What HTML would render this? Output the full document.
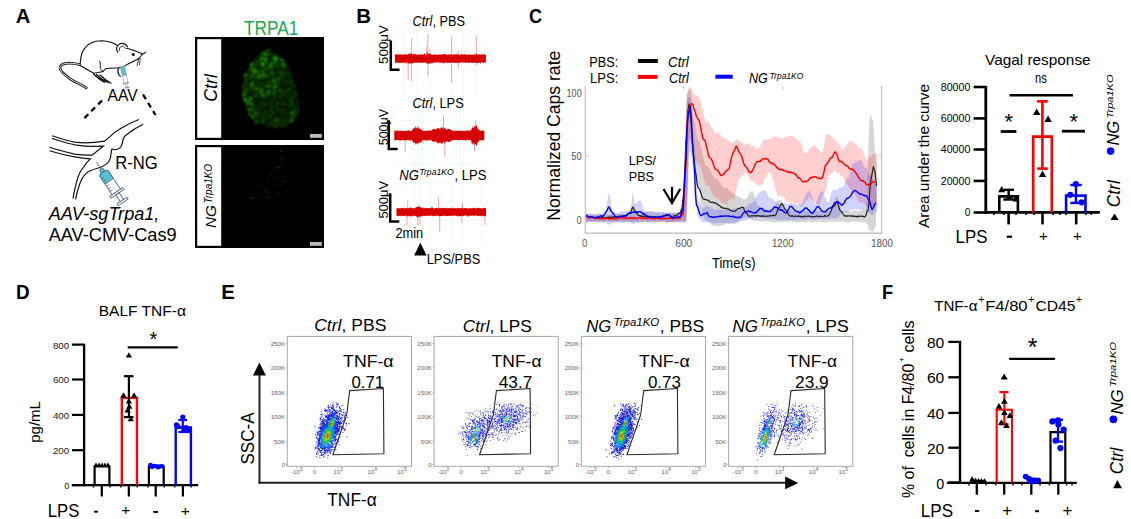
<!DOCTYPE html>
<html><head><meta charset="utf-8"><style>
html,body{margin:0;padding:0;background:#fff;width:1131px;height:519px;overflow:hidden}
svg{display:block;font-family:"Liberation Sans",sans-serif}
</style></head><body>
<svg width="1131" height="519" viewBox="0 0 1131 519">
<rect width="1131" height="519" fill="#fff"/>
<text x="15.8" y="23.2" font-size="20.5" text-anchor="start" fill="#000" font-weight="bold" textLength="14.6" lengthAdjust="spacingAndGlyphs"  >A</text>
<text x="356.2" y="23.2" font-size="20.5" text-anchor="start" fill="#000" font-weight="bold" textLength="14.8" lengthAdjust="spacingAndGlyphs"  >B</text>
<text x="529" y="23.1" font-size="20.5" text-anchor="start" fill="#000" font-weight="bold" textLength="13.1" lengthAdjust="spacingAndGlyphs"  >C</text>
<text x="16" y="298.8" font-size="20.5" text-anchor="start" fill="#000" font-weight="bold" textLength="13.6" lengthAdjust="spacingAndGlyphs"  >D</text>
<text x="221.3" y="298.8" font-size="20.5" text-anchor="start" fill="#000" font-weight="bold" textLength="13.7" lengthAdjust="spacingAndGlyphs"  >E</text>
<text x="882" y="298.8" font-size="20.5" text-anchor="start" fill="#000" font-weight="bold" textLength="11.1" lengthAdjust="spacingAndGlyphs"  >F</text>
<path d="M80.4,64.7 C75,63.5 70,62.8 66,63.4 C62,64 59.5,66 60,68.5 C60.8,72 65,75 70.8,79.3 C76,82.5 82,85 86.3,87.8" fill="none" stroke="#111" stroke-width="2.7" stroke-linecap="round"/>
<path d="M80.4,64.7 C75,63.5 70,62.8 66,63.4 C62,64 59.5,66 60,68.5 C60.8,72 65,75 70.8,79.3 C76,82.5 82,85 86.3,87.8" fill="none" stroke="#fff" stroke-width="0.9" stroke-linecap="round"/>
<path d="M80.4,61.6 C81,55 83,50 84.7,48.5 C87,45.5 89,44 90.9,43.1 C94,41.5 98,40.8 101.7,40.8 C105,41 108,41.5 110.9,42.3 C113,43 115.5,44 117.1,45.4 C122,47 128,48.5 132.5,50 C136,51.3 139.5,52.5 142.5,53.9 C141,56 140,57.5 138.7,58.5 C135.5,60.5 132.5,62 129.4,63.2 C127,64.5 125,66 123.3,67 C121,67.5 119.5,67.6 118.6,67.8 C114,68 110,68 106.3,68.5 C104.5,69.5 103.5,70.5 103.2,71.6 L94,73.2 C89,70.5 84,68 80.1,65.5 Z" fill="#fff" stroke="#111" stroke-width="1.1" />
<path d="M99.4,60.8 C100.5,63 100.4,65 100.1,67 C100.5,69 101.5,70.5 103.2,71.6" fill="none" stroke="#111" stroke-width="1" />
<path d="M93.5,74 C97,77.5 100,80 104.5,82.5 M96.5,74.5 C100,78 104,81 108,82.5 M100,75 C103.5,78.5 107,81 111,83.2" fill="none" stroke="#111" stroke-width="1.3" stroke-linecap="round"/>
<path d="M118.6,67.8 C117.5,70 117.8,73 119,75 C119.5,76 120.2,76.3 121,76.3" fill="none" stroke="#111" stroke-width="1.1" />
<path d="M118,52.5 C115.5,49.5 116.5,45.5 119.5,44 C122.5,42.5 126.5,44 127.8,47.3" fill="#fff" stroke="#111" stroke-width="1.2" />
<path d="M119.8,51 C118.8,48.5 120,46.5 122.3,46.2 C124,46 125,47.5 125.3,48.5" fill="none" stroke="#111" stroke-width="0.9" />
<circle cx="133.3" cy="54.4" r="1.5" fill="#111"/>
<path d="M142.5,53.9 L146.4,51.6 M141.5,55 L145.5,53 M138.7,58.5 L137.1,66 M140.2,58 L139.5,65" fill="none" stroke="#111" stroke-width="0.8" />
<g transform="translate(122.5,66.5) rotate(78)"><rect x="0" y="-2" width="9" height="4" fill="#5ec4d4" stroke="#6a8aa0" stroke-width="0.6"/><rect x="9" y="-2" width="8" height="4" fill="#fff" stroke="#8898a8" stroke-width="0.6"/><rect x="16.5" y="-3" width="1.2" height="6" fill="#8898a8"/><rect x="17.7" y="-0.8" width="3.5" height="1.6" fill="#fff" stroke="#8898a8" stroke-width="0.5"/><rect x="21" y="-2.4" width="1.2" height="4.8" fill="#8898a8"/></g>
<text x="107.6" y="101.2" font-size="16.2" text-anchor="start" fill="#000" textLength="30" lengthAdjust="spacingAndGlyphs"  >AAV</text>
<line x1="102" y1="100.5" x2="84.3" y2="118.2" stroke="#000" stroke-width="2.3" stroke-dasharray="5.5,4.2"/>
<line x1="143" y1="94.5" x2="155.5" y2="115" stroke="#000" stroke-width="2.3" stroke-dasharray="5.5,4.2"/>
<path d="M52.1,135.7 C62,139 68,141 74.7,142.1 C85,143.5 96,142.5 104.5,141.2 C110,137 113,133 119.8,129.1 C126,125 132,122 138.9,119.5" fill="none" stroke="#111" stroke-width="1.2" />
<path d="M52.1,138.4 C62,141.5 68,143.5 74.7,144.8 C85,146.5 96,146.5 103.3,146.2 L92,155.1 C86,155.2 80,155 74.7,154.2 C66,152 58,150 49.5,147.3" fill="none" stroke="#111" stroke-width="1.2" stroke-linejoin="miter"/>
<path d="M49.5,150.8 C58,153.5 66,155.5 74.7,156.8 C80,157.8 85,158.5 90.3,158.9 C87,162 85,164.5 83.4,167.3 C80,171 78.5,175 77.3,179.4 C75.5,186 74,192 73,198.5" fill="none" stroke="#111" stroke-width="1.2" />
<path d="M75.6,199.3 C77,192 79,185 81.6,179.4 C84,175 87,172 90.3,170.7 C94,169 97.5,168.5 100.7,167.3 C104,165.5 107,164 108.5,162 C110.5,159 111,156 111.1,153.4 C111.3,151 111.5,149.5 112,149 C114,150 116,150 118.1,149 C120,148 121,147 121.5,145.6 C122.5,143 122.8,140.5 123.3,138.6 C124,137 124.8,136 125.9,135.2 C131,131 137,127 143.2,124.2" fill="none" stroke="#111" stroke-width="1.2" />
<g transform="translate(96.4,162) rotate(56.4)"><line x1="0" y1="0" x2="9" y2="0" stroke="#556" stroke-width="0.8"/><rect x="8.5" y="-2" width="3.5" height="4" fill="#55c3cf" stroke="#3c4f78" stroke-width="0.6"/><path d="M12,-3 L14,-5 L36,-5 L36,5 L14,5 L12,3 Z" fill="#fff" stroke="#3c4f78" stroke-width="0.8"/><path d="M12,-3 L14,-5 L23,-5 L23,4.6 L21,5 L14,5 L12,3 Z" fill="#55c3cf" stroke="#3c4f78" stroke-width="0.6"/><path d="M17,5 L17,2 M20,5 L20,2 M23,5 L23,2 M26,5 L26,2 M29,5 L29,2 M32,5 L32,2" stroke="#3c4f78" stroke-width="0.6"/><rect x="36" y="-8" width="2.2" height="16" fill="#fff" stroke="#3c4f78" stroke-width="0.8"/><rect x="38.2" y="-2" width="8" height="4" fill="#fff" stroke="#3c4f78" stroke-width="0.8"/><rect x="46.2" y="-6" width="2.2" height="12" fill="#fff" stroke="#3c4f78" stroke-width="0.8"/></g>
<text x="115.3" y="169.3" font-size="17.5" text-anchor="start" fill="#000" textLength="42.5" lengthAdjust="spacingAndGlyphs"  >R-NG</text>
<text x="48.7" y="219.8" font-size="17.5" text-anchor="start" fill="#000" font-style="italic" textLength="110.7" lengthAdjust="spacingAndGlyphs"  >AAV-sgTrpa1,</text>
<text x="48.7" y="240.6" font-size="17.5" text-anchor="start" fill="#000" textLength="128" lengthAdjust="spacingAndGlyphs"  >AAV-CMV-Cas9</text>
<text x="244" y="34.8" font-size="19.5" text-anchor="start" fill="#1aa84f" textLength="54.3" lengthAdjust="spacingAndGlyphs"  >TRPA1</text>
<rect x="195" y="37" width="129" height="103" fill="#000" stroke="none" stroke-width="1" />
<rect x="197.2" y="39.2" width="24" height="98.6" fill="#fff" stroke="none" stroke-width="1" />
<rect x="310" y="134" width="11.8" height="3.8" fill="#bbbbbb" stroke="none" stroke-width="1" />
<rect x="195" y="145" width="129" height="103" fill="#000" stroke="none" stroke-width="1" />
<rect x="197.2" y="147.2" width="24" height="98.6" fill="#fff" stroke="none" stroke-width="1" />
<rect x="310" y="242" width="11.8" height="3.8" fill="#bbbbbb" stroke="none" stroke-width="1" />
<text x="217.2" y="88" font-size="18.5" text-anchor="middle" fill="#000" font-style="italic" textLength="27.7" lengthAdjust="spacingAndGlyphs" transform="rotate(-90 217.2 88)" >Ctrl</text>
<g transform="translate(216.3,228) rotate(-90)"><text x="0" y="0" font-size="15.5" font-style="italic" textLength="23" lengthAdjust="spacingAndGlyphs">NG</text><text x="24.5" y="-4.2" font-size="10.5" font-style="italic" textLength="39.5" lengthAdjust="spacingAndGlyphs">Trpa1KO</text></g>
<polygon points="267,49.1 274.3,52.8 282.6,60.1 289.9,71.1 295.4,85.7 299,100.4 299,113.2 293.5,122.3 282.6,127.4 269.8,127.8 255.1,122.3 246,109.5 242.7,94.9 244.1,76.6 250.5,63.8 258.8,53.7 264.3,50.1" fill="#071a04" stroke="none" stroke-width="1" />
<defs><filter id="bl" x="-5%" y="-5%" width="110%" height="110%"><feGaussianBlur stdDeviation="0.85"/></filter></defs><g filter="url(#bl)"><circle cx="268" cy="93.3" r="1.2" fill="rgb(34,137,8)"/><circle cx="271.5" cy="95.6" r="1.3" fill="rgb(7,31,1)"/><circle cx="279.1" cy="112.2" r="1.1" fill="rgb(6,25,1)"/><circle cx="280.5" cy="97.9" r="0.8" fill="rgb(6,26,1)"/><circle cx="272.8" cy="52.8" r="1" fill="rgb(8,34,2)"/><circle cx="267.3" cy="116.2" r="1.4" fill="rgb(11,47,2)"/><circle cx="271" cy="101.7" r="1.1" fill="rgb(8,34,2)"/><circle cx="292.1" cy="105.3" r="1" fill="rgb(9,36,2)"/><circle cx="287.5" cy="80.4" r="1.1" fill="rgb(13,55,3)"/><circle cx="244.5" cy="99" r="1" fill="rgb(28,113,6)"/><circle cx="245.4" cy="74.9" r="1.5" fill="rgb(38,154,9)"/><circle cx="274.7" cy="84.2" r="1.5" fill="rgb(7,31,1)"/><circle cx="248.1" cy="100.1" r="1.2" fill="rgb(6,27,1)"/><circle cx="253.2" cy="69.9" r="1.5" fill="rgb(39,156,9)"/><circle cx="258.9" cy="119.7" r="1.2" fill="rgb(7,29,1)"/><circle cx="293" cy="100" r="1.7" fill="rgb(6,26,1)"/><circle cx="253.2" cy="68.9" r="1.1" fill="rgb(28,112,6)"/><circle cx="245.6" cy="95.2" r="1.3" fill="rgb(8,35,2)"/><circle cx="263" cy="84.7" r="1.2" fill="rgb(36,145,8)"/><circle cx="275.6" cy="118.2" r="0.9" fill="rgb(7,28,1)"/><circle cx="296.3" cy="114.2" r="1" fill="rgb(8,32,1)"/><circle cx="285.8" cy="124.2" r="1.7" fill="rgb(7,28,1)"/><circle cx="294.7" cy="96.9" r="0.9" fill="rgb(11,44,2)"/><circle cx="254.8" cy="105.1" r="1.5" fill="rgb(9,37,2)"/><circle cx="277" cy="71.8" r="1.4" fill="rgb(7,30,1)"/><circle cx="274.7" cy="117" r="1.1" fill="rgb(13,55,3)"/><circle cx="267.6" cy="52.9" r="1.1" fill="rgb(8,33,1)"/><circle cx="275.5" cy="58.7" r="1.6" fill="rgb(13,54,3)"/><circle cx="282.9" cy="95.3" r="0.8" fill="rgb(6,26,1)"/><circle cx="283.5" cy="126" r="1.4" fill="rgb(6,25,1)"/><circle cx="269.9" cy="107.2" r="1.7" fill="rgb(7,30,1)"/><circle cx="244.7" cy="92.2" r="1.6" fill="rgb(26,105,6)"/><circle cx="285.7" cy="105" r="1.6" fill="rgb(12,51,3)"/><circle cx="261.8" cy="103.5" r="1.6" fill="rgb(14,58,3)"/><circle cx="265.9" cy="112" r="1.3" fill="rgb(14,56,3)"/><circle cx="278.7" cy="79" r="1.3" fill="rgb(18,73,4)"/><circle cx="245" cy="99.8" r="1.6" fill="rgb(40,162,9)"/><circle cx="285.1" cy="79.5" r="1.3" fill="rgb(12,48,2)"/><circle cx="267.3" cy="115.9" r="1.5" fill="rgb(6,25,1)"/><circle cx="269.8" cy="66.6" r="1.2" fill="rgb(30,121,7)"/><circle cx="278.1" cy="122.6" r="0.8" fill="rgb(7,31,1)"/><circle cx="258.7" cy="102.9" r="1" fill="rgb(6,27,1)"/><circle cx="296.2" cy="101.5" r="1.6" fill="rgb(11,46,2)"/><circle cx="260.3" cy="101.9" r="1.2" fill="rgb(6,27,1)"/><circle cx="290" cy="122.1" r="1.1" fill="rgb(24,98,5)"/><circle cx="276.2" cy="73.6" r="1.2" fill="rgb(7,28,1)"/><circle cx="291.9" cy="116.7" r="1.7" fill="rgb(18,75,4)"/><circle cx="257.2" cy="61.7" r="1" fill="rgb(17,69,4)"/><circle cx="253.3" cy="81.5" r="1.2" fill="rgb(21,84,5)"/><circle cx="259.6" cy="116" r="1.2" fill="rgb(16,64,3)"/><circle cx="283.9" cy="94.2" r="1.5" fill="rgb(7,29,1)"/><circle cx="268.2" cy="50" r="1" fill="rgb(39,157,9)"/><circle cx="279" cy="84.2" r="1.4" fill="rgb(20,81,4)"/><circle cx="282.4" cy="64.1" r="1" fill="rgb(18,73,4)"/><circle cx="256.9" cy="76" r="1.3" fill="rgb(24,97,5)"/><circle cx="278.1" cy="109.3" r="1.5" fill="rgb(8,32,1)"/><circle cx="297.8" cy="106.5" r="1.2" fill="rgb(6,27,1)"/><circle cx="278.8" cy="121.7" r="1.3" fill="rgb(9,37,2)"/><circle cx="294.5" cy="112.5" r="1.2" fill="rgb(27,108,6)"/><circle cx="280.4" cy="64.6" r="1.5" fill="rgb(31,127,7)"/><circle cx="279.8" cy="106.1" r="1.6" fill="rgb(6,27,1)"/><circle cx="273.3" cy="112.1" r="1.6" fill="rgb(7,30,1)"/><circle cx="245.1" cy="83.7" r="1.5" fill="rgb(18,72,4)"/><circle cx="260.8" cy="111.8" r="0.9" fill="rgb(6,26,1)"/><circle cx="272" cy="106.6" r="1.4" fill="rgb(13,54,3)"/><circle cx="253.7" cy="90.7" r="1.5" fill="rgb(9,39,2)"/><circle cx="279.6" cy="90.3" r="1.3" fill="rgb(30,120,7)"/><circle cx="259.3" cy="78.9" r="1.6" fill="rgb(30,120,7)"/><circle cx="252.9" cy="116.9" r="1.3" fill="rgb(38,155,9)"/><circle cx="275.5" cy="64.3" r="1.3" fill="rgb(21,85,5)"/><circle cx="264.8" cy="112.9" r="1.2" fill="rgb(9,39,2)"/><circle cx="273.4" cy="81.5" r="1.6" fill="rgb(36,144,8)"/><circle cx="256.7" cy="86.3" r="1.2" fill="rgb(7,28,1)"/><circle cx="290.6" cy="120.9" r="1.1" fill="rgb(12,49,2)"/><circle cx="251.9" cy="98" r="0.9" fill="rgb(36,145,8)"/><circle cx="252" cy="66.4" r="1.1" fill="rgb(29,119,7)"/><circle cx="262" cy="98.2" r="1.5" fill="rgb(6,25,1)"/><circle cx="247.6" cy="89.3" r="1" fill="rgb(9,36,2)"/><circle cx="272.9" cy="83.4" r="1.2" fill="rgb(11,47,2)"/><circle cx="272.8" cy="60.9" r="1.4" fill="rgb(8,35,2)"/><circle cx="279.6" cy="90.9" r="1.4" fill="rgb(30,121,7)"/><circle cx="285.9" cy="113.7" r="1.1" fill="rgb(14,58,3)"/><circle cx="259.5" cy="122.7" r="1.7" fill="rgb(7,29,1)"/><circle cx="254.8" cy="106.9" r="0.9" fill="rgb(9,37,2)"/><circle cx="291.6" cy="82.2" r="0.9" fill="rgb(21,85,5)"/><circle cx="265" cy="103.5" r="1" fill="rgb(6,25,1)"/><circle cx="282.3" cy="121.8" r="0.9" fill="rgb(23,94,5)"/><circle cx="271.4" cy="109.4" r="1.4" fill="rgb(9,36,2)"/><circle cx="274.2" cy="89.7" r="0.9" fill="rgb(17,71,4)"/><circle cx="251.4" cy="64.5" r="1.7" fill="rgb(40,160,9)"/><circle cx="268.6" cy="109.9" r="1.2" fill="rgb(7,30,1)"/><circle cx="271.9" cy="82.8" r="0.8" fill="rgb(19,76,4)"/><circle cx="283.5" cy="116.4" r="1.2" fill="rgb(7,28,1)"/><circle cx="285.8" cy="80.8" r="0.9" fill="rgb(6,27,1)"/><circle cx="295.4" cy="112.9" r="1.6" fill="rgb(18,74,4)"/><circle cx="279" cy="80.8" r="1.3" fill="rgb(19,76,4)"/><circle cx="256" cy="121.8" r="1.5" fill="rgb(26,106,6)"/><circle cx="290.5" cy="80.9" r="1.6" fill="rgb(25,100,6)"/><circle cx="283.1" cy="110.1" r="1.2" fill="rgb(12,50,3)"/><circle cx="261.2" cy="86" r="1.1" fill="rgb(6,25,1)"/><circle cx="279.6" cy="98.5" r="1.7" fill="rgb(6,27,1)"/><circle cx="281.3" cy="75.4" r="1.3" fill="rgb(11,44,2)"/><circle cx="273.1" cy="79.6" r="1.4" fill="rgb(38,154,9)"/><circle cx="283.5" cy="109.7" r="0.8" fill="rgb(16,64,3)"/><circle cx="278.2" cy="107.8" r="1.2" fill="rgb(7,28,1)"/><circle cx="263.3" cy="56" r="1.6" fill="rgb(10,40,2)"/><circle cx="274.1" cy="89.1" r="1.3" fill="rgb(36,146,8)"/><circle cx="277" cy="109.5" r="1.6" fill="rgb(6,25,1)"/><circle cx="249.9" cy="86.2" r="1.2" fill="rgb(7,30,1)"/><circle cx="272.7" cy="96.4" r="1.1" fill="rgb(7,31,1)"/><circle cx="280.6" cy="93.4" r="1.4" fill="rgb(9,38,2)"/><circle cx="249.7" cy="109.1" r="1.6" fill="rgb(12,50,3)"/><circle cx="266.6" cy="86.7" r="1" fill="rgb(37,148,8)"/><circle cx="272.4" cy="123.9" r="1.2" fill="rgb(16,66,3)"/><circle cx="277.4" cy="57.3" r="1.2" fill="rgb(26,104,6)"/><circle cx="272.7" cy="58.1" r="1.4" fill="rgb(16,67,4)"/><circle cx="268.2" cy="69.2" r="1.2" fill="rgb(18,73,4)"/><circle cx="288.2" cy="91" r="1.7" fill="rgb(16,65,3)"/><circle cx="285.5" cy="67.3" r="1.6" fill="rgb(7,28,1)"/><circle cx="288.6" cy="98.6" r="1" fill="rgb(7,31,1)"/><circle cx="282.5" cy="93.8" r="1.4" fill="rgb(10,40,2)"/><circle cx="256.8" cy="82.4" r="0.9" fill="rgb(21,84,5)"/><circle cx="273.6" cy="53.9" r="1.4" fill="rgb(6,27,1)"/><circle cx="274.1" cy="99.1" r="1.2" fill="rgb(7,31,1)"/><circle cx="253.1" cy="75.8" r="1.6" fill="rgb(26,106,6)"/><circle cx="290.2" cy="98.5" r="1" fill="rgb(20,82,4)"/><circle cx="266.3" cy="68.9" r="1.1" fill="rgb(28,113,6)"/><circle cx="260.2" cy="92.4" r="1.6" fill="rgb(25,101,6)"/><circle cx="266.5" cy="77.9" r="1.6" fill="rgb(6,26,1)"/><circle cx="275" cy="87.3" r="1.1" fill="rgb(22,90,5)"/><circle cx="253.2" cy="101.6" r="1.1" fill="rgb(6,26,1)"/><circle cx="284.9" cy="104.2" r="0.9" fill="rgb(7,29,1)"/><circle cx="262.2" cy="106.8" r="0.9" fill="rgb(7,31,1)"/><circle cx="284" cy="94.1" r="1.6" fill="rgb(14,59,3)"/><circle cx="289.8" cy="72.7" r="1.2" fill="rgb(9,36,2)"/><circle cx="255.4" cy="77.3" r="1.1" fill="rgb(11,47,2)"/><circle cx="264.5" cy="79.4" r="1.3" fill="rgb(7,31,1)"/><circle cx="289.4" cy="91.8" r="1.3" fill="rgb(23,92,5)"/><circle cx="250.9" cy="109.5" r="1.1" fill="rgb(33,135,8)"/><circle cx="273.7" cy="94" r="1.4" fill="rgb(36,146,8)"/><circle cx="273.9" cy="111.8" r="0.9" fill="rgb(6,25,1)"/><circle cx="285.7" cy="120.8" r="1.4" fill="rgb(6,25,1)"/><circle cx="248.9" cy="108.4" r="1" fill="rgb(22,88,5)"/><circle cx="253.7" cy="110" r="1.5" fill="rgb(16,67,4)"/><circle cx="264.5" cy="75.4" r="1.4" fill="rgb(36,147,8)"/><circle cx="270.6" cy="91.5" r="1.4" fill="rgb(24,96,5)"/><circle cx="291.2" cy="102" r="1.5" fill="rgb(23,94,5)"/><circle cx="291.7" cy="120" r="1.4" fill="rgb(27,110,6)"/><circle cx="272.5" cy="105.5" r="1.2" fill="rgb(13,52,3)"/><circle cx="266.1" cy="59.8" r="1.7" fill="rgb(33,132,7)"/><circle cx="263.3" cy="61.6" r="1.2" fill="rgb(8,35,2)"/><circle cx="247.1" cy="100.5" r="1" fill="rgb(28,112,6)"/><circle cx="243.9" cy="85.2" r="1.6" fill="rgb(19,77,4)"/><circle cx="251.4" cy="65.6" r="1.4" fill="rgb(9,38,2)"/><circle cx="276.9" cy="66.1" r="1.1" fill="rgb(8,33,1)"/><circle cx="250.7" cy="109.4" r="1.3" fill="rgb(10,42,2)"/><circle cx="290.7" cy="86.8" r="1.6" fill="rgb(8,33,1)"/><circle cx="273.9" cy="125.5" r="1" fill="rgb(11,44,2)"/><circle cx="289.7" cy="79.2" r="1.3" fill="rgb(13,54,3)"/><circle cx="280.8" cy="67.2" r="1.2" fill="rgb(6,25,1)"/><circle cx="263" cy="112.5" r="1.3" fill="rgb(11,47,2)"/><circle cx="260" cy="69" r="1.3" fill="rgb(31,125,7)"/><circle cx="256.5" cy="91.3" r="1.5" fill="rgb(7,29,1)"/><circle cx="292.5" cy="114.6" r="1" fill="rgb(6,26,1)"/><circle cx="269.8" cy="86" r="1.3" fill="rgb(36,144,8)"/><circle cx="288.9" cy="81.8" r="0.9" fill="rgb(14,59,3)"/><circle cx="273.7" cy="90.6" r="1.5" fill="rgb(7,29,1)"/><circle cx="259.3" cy="73.2" r="1.1" fill="rgb(6,26,1)"/><circle cx="269" cy="105.9" r="1.4" fill="rgb(7,31,1)"/><circle cx="246.6" cy="79.9" r="1.7" fill="rgb(14,59,3)"/><circle cx="291.4" cy="101" r="1.1" fill="rgb(6,25,1)"/><circle cx="284" cy="67.2" r="1.2" fill="rgb(22,91,5)"/><circle cx="278.2" cy="71.5" r="1.3" fill="rgb(11,47,2)"/><circle cx="258.5" cy="75.3" r="1.4" fill="rgb(12,49,2)"/><circle cx="255.9" cy="64.2" r="1.1" fill="rgb(32,130,7)"/><circle cx="284.9" cy="74.9" r="0.9" fill="rgb(13,53,3)"/><circle cx="282" cy="105.4" r="1.2" fill="rgb(6,26,1)"/><circle cx="291.9" cy="96" r="1" fill="rgb(6,26,1)"/><circle cx="265.2" cy="53.9" r="1.2" fill="rgb(46,184,11)"/><circle cx="271.7" cy="100.4" r="1.5" fill="rgb(12,50,3)"/><circle cx="263.9" cy="74.8" r="0.8" fill="rgb(12,51,3)"/><circle cx="264.8" cy="104.7" r="1.5" fill="rgb(16,64,3)"/><circle cx="280.9" cy="97.3" r="1.1" fill="rgb(6,25,1)"/><circle cx="261.2" cy="100.7" r="1.1" fill="rgb(6,25,1)"/><circle cx="271.6" cy="111.9" r="1.4" fill="rgb(13,53,3)"/><circle cx="249.8" cy="110.1" r="1.3" fill="rgb(35,140,8)"/><circle cx="261.9" cy="88.5" r="1.4" fill="rgb(7,28,1)"/><circle cx="284.4" cy="115.7" r="1.7" fill="rgb(6,27,1)"/><circle cx="278.9" cy="64" r="1" fill="rgb(6,27,1)"/><circle cx="275.7" cy="104.5" r="1.6" fill="rgb(7,30,1)"/><circle cx="262.4" cy="85.5" r="1.7" fill="rgb(7,28,1)"/><circle cx="273.7" cy="93.4" r="1" fill="rgb(17,70,4)"/><circle cx="290.7" cy="96.7" r="1.5" fill="rgb(6,27,1)"/><circle cx="257.9" cy="120.7" r="1.3" fill="rgb(7,30,1)"/><circle cx="274" cy="54.2" r="1" fill="rgb(6,25,1)"/><circle cx="280.8" cy="72.9" r="1.5" fill="rgb(22,88,5)"/><circle cx="263.7" cy="95.9" r="0.8" fill="rgb(28,112,6)"/><circle cx="252.4" cy="85.9" r="1.1" fill="rgb(7,29,1)"/><circle cx="275.3" cy="62.1" r="1" fill="rgb(20,81,4)"/><circle cx="275.2" cy="74.9" r="0.8" fill="rgb(20,83,4)"/><circle cx="281.6" cy="59.7" r="1.3" fill="rgb(49,196,11)"/><circle cx="269.1" cy="81.3" r="1.4" fill="rgb(20,80,4)"/><circle cx="287" cy="108.9" r="1.7" fill="rgb(9,36,2)"/><circle cx="292" cy="117.3" r="1.2" fill="rgb(10,43,2)"/><circle cx="275.1" cy="121.3" r="1.3" fill="rgb(12,48,2)"/><circle cx="266.8" cy="121.2" r="0.8" fill="rgb(8,34,2)"/><circle cx="285" cy="120.9" r="1.3" fill="rgb(16,67,4)"/><circle cx="286.6" cy="72.7" r="0.9" fill="rgb(10,40,2)"/><circle cx="247.7" cy="84.2" r="1.2" fill="rgb(16,65,3)"/><circle cx="272.6" cy="67.4" r="1.2" fill="rgb(11,46,2)"/><circle cx="281.3" cy="118.2" r="1.5" fill="rgb(10,40,2)"/><circle cx="253.8" cy="108.5" r="1.6" fill="rgb(18,74,4)"/><circle cx="247.7" cy="91.5" r="0.8" fill="rgb(37,151,9)"/><circle cx="255.1" cy="72.2" r="0.9" fill="rgb(10,43,2)"/><circle cx="295.5" cy="114.1" r="1.1" fill="rgb(10,42,2)"/><circle cx="259.1" cy="88.4" r="1.7" fill="rgb(34,139,8)"/><circle cx="269.3" cy="64.7" r="1.6" fill="rgb(11,45,2)"/><circle cx="292" cy="76.7" r="1" fill="rgb(12,48,2)"/><circle cx="252.5" cy="99.2" r="1.6" fill="rgb(8,32,1)"/><circle cx="285" cy="73.4" r="1.6" fill="rgb(14,58,3)"/><circle cx="283.1" cy="124" r="0.9" fill="rgb(10,42,2)"/><circle cx="253.8" cy="72.9" r="1" fill="rgb(25,100,6)"/><circle cx="251.2" cy="67.1" r="1.5" fill="rgb(28,113,6)"/><circle cx="263.1" cy="101.6" r="1.3" fill="rgb(14,57,3)"/><circle cx="254.2" cy="72.4" r="1.4" fill="rgb(36,145,8)"/><circle cx="257.2" cy="99.8" r="1.7" fill="rgb(6,25,1)"/><circle cx="267.3" cy="90.8" r="0.8" fill="rgb(16,66,3)"/><circle cx="277.2" cy="71" r="1.5" fill="rgb(8,35,2)"/><circle cx="286.9" cy="67.9" r="1.3" fill="rgb(10,43,2)"/><circle cx="268.6" cy="108.8" r="1.6" fill="rgb(8,32,1)"/><circle cx="271" cy="62.6" r="1.4" fill="rgb(22,89,5)"/><circle cx="262.3" cy="101.3" r="1.3" fill="rgb(12,51,3)"/><circle cx="271.3" cy="116.5" r="1.3" fill="rgb(15,62,3)"/><circle cx="277.7" cy="67.1" r="1.5" fill="rgb(16,67,4)"/><circle cx="288.8" cy="112.1" r="1.2" fill="rgb(7,28,1)"/><circle cx="253.7" cy="95" r="0.8" fill="rgb(16,64,3)"/><circle cx="277" cy="105.9" r="1.6" fill="rgb(9,39,2)"/><circle cx="266.9" cy="83.8" r="1.5" fill="rgb(9,36,2)"/><circle cx="275.3" cy="92" r="1" fill="rgb(27,110,6)"/><circle cx="249.1" cy="73.2" r="1.1" fill="rgb(6,25,1)"/><circle cx="278.5" cy="90.6" r="1.3" fill="rgb(9,36,2)"/><circle cx="250.6" cy="68.6" r="1.4" fill="rgb(7,30,1)"/><circle cx="291.5" cy="111.7" r="1.2" fill="rgb(6,25,1)"/><circle cx="262.6" cy="65.5" r="0.8" fill="rgb(50,200,12)"/><circle cx="270.4" cy="109.7" r="0.9" fill="rgb(16,64,3)"/><circle cx="268.2" cy="108.3" r="1" fill="rgb(6,25,1)"/><circle cx="264.4" cy="72.1" r="0.9" fill="rgb(13,52,3)"/><circle cx="287.3" cy="107.5" r="1" fill="rgb(6,27,1)"/><circle cx="274.2" cy="67.6" r="1.6" fill="rgb(17,71,4)"/><circle cx="262.6" cy="75.3" r="1.3" fill="rgb(37,150,9)"/><circle cx="261.3" cy="104.3" r="1.3" fill="rgb(14,56,3)"/><circle cx="295" cy="85.5" r="1.6" fill="rgb(10,42,2)"/><circle cx="263.6" cy="111.3" r="1.1" fill="rgb(6,27,1)"/><circle cx="251.4" cy="92.5" r="1" fill="rgb(7,30,1)"/><circle cx="253.3" cy="85.9" r="1.2" fill="rgb(10,41,2)"/><circle cx="263.7" cy="53.9" r="1.1" fill="rgb(30,120,7)"/><circle cx="251.3" cy="69.2" r="1.6" fill="rgb(12,50,3)"/><circle cx="284.3" cy="69.8" r="0.9" fill="rgb(7,31,1)"/><circle cx="287.5" cy="106.6" r="0.8" fill="rgb(14,59,3)"/><circle cx="260" cy="79.1" r="1.6" fill="rgb(6,26,1)"/><circle cx="260.2" cy="110.4" r="0.8" fill="rgb(9,37,2)"/><circle cx="264.4" cy="67.3" r="0.9" fill="rgb(6,25,1)"/><circle cx="259.4" cy="82.3" r="0.9" fill="rgb(17,68,4)"/><circle cx="283.8" cy="69.1" r="1.4" fill="rgb(11,47,2)"/><circle cx="257.4" cy="105.7" r="1.1" fill="rgb(8,33,1)"/><circle cx="258.1" cy="75.9" r="0.8" fill="rgb(8,33,1)"/><circle cx="275.1" cy="113.5" r="1.1" fill="rgb(15,63,3)"/><circle cx="281.6" cy="122.4" r="1.4" fill="rgb(7,29,1)"/><circle cx="281.3" cy="125.4" r="1" fill="rgb(20,82,4)"/><circle cx="266.5" cy="79.8" r="1.1" fill="rgb(6,25,1)"/><circle cx="260.3" cy="88.3" r="0.9" fill="rgb(9,38,2)"/><circle cx="265" cy="86.5" r="1.4" fill="rgb(7,30,1)"/><circle cx="261.2" cy="82.2" r="1.3" fill="rgb(7,29,1)"/><circle cx="283.5" cy="92.8" r="0.8" fill="rgb(11,46,2)"/><circle cx="264.3" cy="77.5" r="1.2" fill="rgb(6,25,1)"/><circle cx="243.4" cy="88.1" r="1.2" fill="rgb(19,78,4)"/><circle cx="260.2" cy="68.5" r="1.1" fill="rgb(6,25,1)"/><circle cx="295.3" cy="93.8" r="1.4" fill="rgb(8,33,1)"/><circle cx="251.5" cy="86" r="1.7" fill="rgb(20,82,4)"/><circle cx="262.5" cy="94.7" r="1.5" fill="rgb(35,141,8)"/><circle cx="278.9" cy="98.3" r="1.2" fill="rgb(8,33,1)"/><circle cx="257.1" cy="115.2" r="1.1" fill="rgb(14,57,3)"/><circle cx="248.4" cy="89.1" r="1.1" fill="rgb(10,41,2)"/><circle cx="251.9" cy="66.5" r="1" fill="rgb(29,117,7)"/><circle cx="264.4" cy="67.4" r="1.4" fill="rgb(19,76,4)"/><circle cx="274" cy="98.6" r="1.5" fill="rgb(9,39,2)"/><circle cx="261.5" cy="119.8" r="1.4" fill="rgb(8,34,2)"/><circle cx="283.1" cy="103.6" r="1.5" fill="rgb(15,63,3)"/><circle cx="249.9" cy="98.4" r="1.3" fill="rgb(15,63,3)"/><circle cx="262.9" cy="71.1" r="1.3" fill="rgb(25,101,6)"/><circle cx="254.7" cy="68.2" r="1" fill="rgb(10,43,2)"/><circle cx="271.9" cy="58.2" r="0.9" fill="rgb(6,26,1)"/><circle cx="246.3" cy="105.1" r="1.2" fill="rgb(6,27,1)"/><circle cx="287.9" cy="86.9" r="1.6" fill="rgb(6,26,1)"/><circle cx="255.7" cy="89.1" r="1.2" fill="rgb(29,117,7)"/><circle cx="284.4" cy="68.4" r="1.1" fill="rgb(11,47,2)"/><circle cx="260.7" cy="109.5" r="1.5" fill="rgb(13,54,3)"/><circle cx="275.2" cy="82.1" r="1.4" fill="rgb(23,94,5)"/><circle cx="291.5" cy="112.9" r="1.1" fill="rgb(6,27,1)"/><circle cx="281.5" cy="66.7" r="0.8" fill="rgb(8,33,1)"/><circle cx="276.3" cy="124.2" r="0.9" fill="rgb(23,95,5)"/><circle cx="282.6" cy="82" r="1.2" fill="rgb(10,42,2)"/><circle cx="257.7" cy="107.2" r="0.9" fill="rgb(16,65,3)"/><circle cx="273.6" cy="87.1" r="1.1" fill="rgb(11,46,2)"/><circle cx="289.6" cy="115.9" r="1.2" fill="rgb(8,34,2)"/><circle cx="278.3" cy="110" r="1.2" fill="rgb(16,64,3)"/><circle cx="283" cy="92.2" r="0.9" fill="rgb(13,52,3)"/><circle cx="270.3" cy="57.7" r="0.8" fill="rgb(12,49,2)"/><circle cx="275.1" cy="59.6" r="1" fill="rgb(26,104,6)"/><circle cx="254.1" cy="87.1" r="1" fill="rgb(11,47,2)"/><circle cx="252.5" cy="118.2" r="1.2" fill="rgb(15,62,3)"/><circle cx="290" cy="80.1" r="1.3" fill="rgb(6,25,1)"/><circle cx="280.7" cy="98.5" r="1.6" fill="rgb(7,29,1)"/><circle cx="267.5" cy="115.5" r="1" fill="rgb(11,47,2)"/><circle cx="262.3" cy="109" r="1.3" fill="rgb(7,29,1)"/><circle cx="272.7" cy="113.6" r="1.5" fill="rgb(12,51,3)"/><circle cx="264.8" cy="113" r="1.5" fill="rgb(13,53,3)"/><circle cx="283.7" cy="68.3" r="0.8" fill="rgb(14,59,3)"/><circle cx="275.8" cy="66.4" r="1.1" fill="rgb(14,58,3)"/><circle cx="280.7" cy="113.7" r="1.4" fill="rgb(7,31,1)"/><circle cx="262" cy="70.6" r="1.1" fill="rgb(33,133,7)"/><circle cx="245.8" cy="75.1" r="1" fill="rgb(26,106,6)"/><circle cx="286.1" cy="92.2" r="1" fill="rgb(11,45,2)"/><circle cx="261.7" cy="82.9" r="1.3" fill="rgb(6,25,1)"/><circle cx="265" cy="74" r="1.7" fill="rgb(16,67,4)"/><circle cx="259.9" cy="109.1" r="1.7" fill="rgb(6,25,1)"/><circle cx="266.7" cy="126" r="1.2" fill="rgb(7,29,1)"/><circle cx="283.8" cy="62.4" r="1.4" fill="rgb(10,42,2)"/><circle cx="251.4" cy="76.9" r="0.9" fill="rgb(40,161,9)"/><circle cx="279.4" cy="78.6" r="1" fill="rgb(20,83,4)"/><circle cx="278.2" cy="119.9" r="1.4" fill="rgb(20,80,4)"/><circle cx="271.3" cy="94" r="1.6" fill="rgb(6,27,1)"/><circle cx="282.8" cy="84.7" r="1.2" fill="rgb(11,44,2)"/><circle cx="263.8" cy="66.6" r="1.3" fill="rgb(24,98,5)"/><circle cx="278.9" cy="84.2" r="1.3" fill="rgb(18,75,4)"/><circle cx="285.8" cy="73.4" r="1.7" fill="rgb(12,48,2)"/><circle cx="264.9" cy="118.3" r="1.7" fill="rgb(6,26,1)"/><circle cx="270.4" cy="67" r="1.4" fill="rgb(40,160,9)"/><circle cx="289.5" cy="89.4" r="0.9" fill="rgb(29,116,6)"/><circle cx="293.9" cy="105.6" r="1.5" fill="rgb(8,32,1)"/><circle cx="268.2" cy="91.4" r="1" fill="rgb(31,124,7)"/><circle cx="257.3" cy="100.1" r="1.3" fill="rgb(6,25,1)"/><circle cx="288.8" cy="87.8" r="1.5" fill="rgb(7,28,1)"/><circle cx="293" cy="110.4" r="1.6" fill="rgb(14,56,3)"/><circle cx="262.7" cy="56.1" r="1.1" fill="rgb(6,25,1)"/><circle cx="293.6" cy="115.5" r="1" fill="rgb(6,26,1)"/><circle cx="264.1" cy="116.8" r="1.6" fill="rgb(14,56,3)"/><circle cx="252.8" cy="99" r="1.5" fill="rgb(33,134,8)"/><circle cx="252.2" cy="102.1" r="0.8" fill="rgb(13,55,3)"/><circle cx="261.1" cy="73.5" r="1.1" fill="rgb(20,81,4)"/><circle cx="277.4" cy="104.3" r="0.9" fill="rgb(6,26,1)"/><circle cx="283" cy="85.8" r="0.9" fill="rgb(6,26,1)"/><circle cx="262.2" cy="63.9" r="1.4" fill="rgb(52,208,12)"/><circle cx="285.6" cy="77.2" r="1.2" fill="rgb(7,29,1)"/><circle cx="249.1" cy="99.1" r="1.5" fill="rgb(13,54,3)"/><circle cx="265.4" cy="85" r="1.6" fill="rgb(15,63,3)"/><circle cx="261.5" cy="105" r="1.3" fill="rgb(7,28,1)"/><circle cx="257.7" cy="118.7" r="1.6" fill="rgb(8,32,1)"/><circle cx="282" cy="84.8" r="1.1" fill="rgb(15,60,3)"/><circle cx="286.1" cy="96.7" r="0.9" fill="rgb(8,34,2)"/><circle cx="266" cy="70.8" r="1.7" fill="rgb(13,54,3)"/><circle cx="258.2" cy="104.3" r="1" fill="rgb(11,44,2)"/><circle cx="265.5" cy="58.7" r="1" fill="rgb(44,176,10)"/><circle cx="266.1" cy="75.7" r="1.6" fill="rgb(28,115,6)"/><circle cx="276.6" cy="92.2" r="1.6" fill="rgb(6,27,1)"/><circle cx="245.5" cy="77.5" r="1.5" fill="rgb(12,48,2)"/><circle cx="281.5" cy="75.9" r="1.7" fill="rgb(14,58,3)"/><circle cx="269.1" cy="77.3" r="1.1" fill="rgb(14,57,3)"/><circle cx="281.6" cy="97" r="1.7" fill="rgb(15,63,3)"/><circle cx="291.4" cy="100.6" r="1.7" fill="rgb(18,73,4)"/><circle cx="244.1" cy="85.4" r="1.4" fill="rgb(12,51,3)"/><circle cx="253" cy="78" r="1.2" fill="rgb(7,29,1)"/><circle cx="250.3" cy="100.6" r="1.5" fill="rgb(21,84,5)"/><circle cx="255.7" cy="113.7" r="1.5" fill="rgb(25,103,6)"/><circle cx="247.4" cy="86" r="1.6" fill="rgb(6,25,1)"/><circle cx="273.2" cy="91.2" r="1.5" fill="rgb(6,27,1)"/><circle cx="258.7" cy="89.1" r="1.3" fill="rgb(7,28,1)"/><circle cx="271.8" cy="71.8" r="1" fill="rgb(26,107,6)"/><circle cx="265.7" cy="52.4" r="1.2" fill="rgb(9,36,2)"/><circle cx="274.6" cy="85.2" r="0.9" fill="rgb(30,121,7)"/><circle cx="265.2" cy="97.6" r="1.7" fill="rgb(14,56,3)"/><circle cx="249.5" cy="114.3" r="1.4" fill="rgb(26,104,6)"/><circle cx="249.7" cy="91" r="0.9" fill="rgb(6,25,1)"/><circle cx="279.9" cy="116.7" r="1.2" fill="rgb(6,25,1)"/><circle cx="260.4" cy="87.6" r="1.6" fill="rgb(21,85,5)"/><circle cx="271.1" cy="121.2" r="1.1" fill="rgb(9,38,2)"/><circle cx="285.8" cy="68.9" r="1.2" fill="rgb(7,31,1)"/><circle cx="269.6" cy="77" r="1.2" fill="rgb(13,53,3)"/><circle cx="243.8" cy="90.8" r="1.2" fill="rgb(17,71,4)"/><circle cx="263.1" cy="73.5" r="1" fill="rgb(15,60,3)"/><circle cx="286.5" cy="87.5" r="1.2" fill="rgb(6,25,1)"/><circle cx="276.8" cy="125.8" r="1.3" fill="rgb(9,37,2)"/><circle cx="262.9" cy="72.4" r="1.3" fill="rgb(19,78,4)"/><circle cx="259.5" cy="88.3" r="1.5" fill="rgb(16,64,3)"/><circle cx="255.6" cy="69.9" r="1.2" fill="rgb(29,116,6)"/><circle cx="293.3" cy="80.6" r="1.4" fill="rgb(8,34,2)"/><circle cx="259.7" cy="114.4" r="1.4" fill="rgb(12,51,3)"/><circle cx="274.2" cy="123.1" r="0.8" fill="rgb(14,58,3)"/><circle cx="297.9" cy="109" r="0.8" fill="rgb(14,59,3)"/><circle cx="285.7" cy="81.9" r="1.7" fill="rgb(11,45,2)"/><circle cx="288.4" cy="83.7" r="1.1" fill="rgb(12,49,2)"/><circle cx="267.8" cy="83.4" r="1.1" fill="rgb(6,27,1)"/><circle cx="281.3" cy="92.4" r="0.9" fill="rgb(6,25,1)"/><circle cx="274.7" cy="122.7" r="1.2" fill="rgb(7,29,1)"/><circle cx="273.3" cy="116" r="1.6" fill="rgb(6,25,1)"/><circle cx="269.3" cy="50.5" r="1.1" fill="rgb(16,65,3)"/><circle cx="281.8" cy="123.2" r="1.4" fill="rgb(11,45,2)"/><circle cx="264.1" cy="111.1" r="1.5" fill="rgb(6,25,1)"/><circle cx="250.3" cy="95.5" r="1.1" fill="rgb(8,32,1)"/><circle cx="250.2" cy="76.3" r="1.3" fill="rgb(19,78,4)"/><circle cx="264.1" cy="94.5" r="1.1" fill="rgb(30,120,7)"/><circle cx="276.2" cy="86.9" r="1.1" fill="rgb(37,150,9)"/><circle cx="283.2" cy="66.9" r="1.5" fill="rgb(10,41,2)"/><circle cx="275.6" cy="68.8" r="1.5" fill="rgb(6,25,1)"/><circle cx="263.4" cy="106" r="1.4" fill="rgb(8,34,2)"/><circle cx="274.7" cy="127" r="1.2" fill="rgb(21,87,5)"/><circle cx="270.2" cy="66.7" r="0.9" fill="rgb(34,136,8)"/><circle cx="259" cy="116.6" r="1.4" fill="rgb(6,25,1)"/><circle cx="275.2" cy="92.7" r="0.9" fill="rgb(10,42,2)"/><circle cx="299" cy="109.9" r="0.9" fill="rgb(21,87,5)"/><circle cx="252.4" cy="91.3" r="0.9" fill="rgb(20,81,4)"/><circle cx="287.4" cy="95.2" r="1.6" fill="rgb(14,58,3)"/><circle cx="282.7" cy="77.5" r="1.4" fill="rgb(15,62,3)"/><circle cx="258" cy="117.5" r="1" fill="rgb(16,66,3)"/><circle cx="273.3" cy="68.5" r="1" fill="rgb(9,39,2)"/><circle cx="248.2" cy="87.3" r="1.1" fill="rgb(9,38,2)"/><circle cx="257.2" cy="89.2" r="0.9" fill="rgb(31,126,7)"/><circle cx="293.3" cy="117.2" r="1.3" fill="rgb(15,62,3)"/><circle cx="285.5" cy="91.3" r="1.6" fill="rgb(11,44,2)"/><circle cx="288.1" cy="69" r="1.6" fill="rgb(6,25,1)"/><circle cx="262.5" cy="111.8" r="1.2" fill="rgb(6,27,1)"/><circle cx="263" cy="107.1" r="1.3" fill="rgb(15,61,3)"/><circle cx="275.1" cy="76.2" r="1.7" fill="rgb(8,34,2)"/><circle cx="275.1" cy="57.7" r="1.1" fill="rgb(51,206,12)"/><circle cx="293" cy="111.6" r="0.9" fill="rgb(13,53,3)"/><circle cx="272.7" cy="63" r="1.1" fill="rgb(20,83,4)"/><circle cx="270.9" cy="64" r="1.2" fill="rgb(30,123,7)"/><circle cx="270.1" cy="54.4" r="1.3" fill="rgb(18,75,4)"/><circle cx="248.4" cy="72.3" r="1.4" fill="rgb(11,44,2)"/><circle cx="276.6" cy="103.5" r="1.4" fill="rgb(10,41,2)"/><circle cx="272.2" cy="125.7" r="0.9" fill="rgb(6,25,1)"/><circle cx="291.4" cy="103.8" r="1.3" fill="rgb(13,53,3)"/><circle cx="287" cy="113.4" r="0.9" fill="rgb(6,25,1)"/><circle cx="291.7" cy="81" r="1.1" fill="rgb(9,37,2)"/><circle cx="256.3" cy="95.4" r="1.1" fill="rgb(17,68,4)"/><circle cx="281.8" cy="84.8" r="1.6" fill="rgb(6,27,1)"/><circle cx="255.7" cy="86.8" r="1.1" fill="rgb(28,114,6)"/><circle cx="254.8" cy="101" r="1.3" fill="rgb(9,37,2)"/><circle cx="255.8" cy="119" r="1" fill="rgb(7,31,1)"/><circle cx="258.7" cy="74.7" r="1.4" fill="rgb(24,97,5)"/><circle cx="289" cy="91.7" r="1.5" fill="rgb(6,25,1)"/><circle cx="255.2" cy="65.6" r="1.7" fill="rgb(15,62,3)"/><circle cx="263" cy="76.9" r="1.7" fill="rgb(33,134,8)"/><circle cx="264" cy="59" r="1.5" fill="rgb(36,145,8)"/><circle cx="261" cy="112" r="1.1" fill="rgb(8,32,1)"/><circle cx="276.8" cy="108.1" r="1.5" fill="rgb(8,35,2)"/><circle cx="263.6" cy="53.3" r="0.9" fill="rgb(45,182,10)"/><circle cx="261.2" cy="123.4" r="1.4" fill="rgb(6,27,1)"/><circle cx="248.4" cy="102.9" r="1.5" fill="rgb(33,135,8)"/><circle cx="263.1" cy="57.7" r="1.6" fill="rgb(10,42,2)"/><circle cx="261.5" cy="52" r="1" fill="rgb(11,47,2)"/><circle cx="247.6" cy="90.7" r="1.3" fill="rgb(17,70,4)"/><circle cx="287.3" cy="90.7" r="0.9" fill="rgb(15,61,3)"/><circle cx="259.2" cy="109.6" r="1.3" fill="rgb(15,60,3)"/><circle cx="249.9" cy="74.8" r="1.1" fill="rgb(18,75,4)"/><circle cx="268.5" cy="96.9" r="1.2" fill="rgb(13,55,3)"/><circle cx="287.3" cy="80.4" r="0.9" fill="rgb(6,25,1)"/><circle cx="250.7" cy="107.6" r="0.8" fill="rgb(8,33,1)"/><circle cx="253.6" cy="112.7" r="1.4" fill="rgb(16,64,3)"/><circle cx="268.8" cy="62.8" r="1.1" fill="rgb(6,25,1)"/><circle cx="278.4" cy="77.9" r="1.4" fill="rgb(14,58,3)"/><circle cx="259.7" cy="76.9" r="1.3" fill="rgb(32,128,7)"/><circle cx="265.9" cy="91.7" r="1.1" fill="rgb(14,57,3)"/><circle cx="257.9" cy="61.8" r="1" fill="rgb(32,128,7)"/><circle cx="276.2" cy="60.8" r="1.1" fill="rgb(48,192,11)"/><circle cx="246" cy="103.7" r="1.3" fill="rgb(11,45,2)"/><circle cx="270.8" cy="122.7" r="1.1" fill="rgb(11,47,2)"/><circle cx="256.7" cy="94.5" r="1.2" fill="rgb(21,85,5)"/><circle cx="245.6" cy="88.3" r="1.4" fill="rgb(15,62,3)"/><circle cx="267.4" cy="54.9" r="1" fill="rgb(37,148,8)"/><circle cx="291.4" cy="112.6" r="1.6" fill="rgb(8,32,1)"/><circle cx="271.2" cy="82.5" r="1.7" fill="rgb(17,69,4)"/><circle cx="270.4" cy="87.1" r="1.6" fill="rgb(9,39,2)"/><circle cx="271.2" cy="75.7" r="1" fill="rgb(7,31,1)"/><circle cx="291.7" cy="113.1" r="1.6" fill="rgb(28,113,6)"/><circle cx="282.5" cy="112.6" r="1.5" fill="rgb(11,47,2)"/><circle cx="261.3" cy="112.1" r="1.6" fill="rgb(10,41,2)"/><circle cx="297.8" cy="100.2" r="1.4" fill="rgb(6,25,1)"/><circle cx="251.5" cy="104.2" r="1.7" fill="rgb(27,109,6)"/><circle cx="278.6" cy="58.1" r="0.9" fill="rgb(32,129,7)"/><circle cx="293.8" cy="110.3" r="1.6" fill="rgb(21,84,5)"/><circle cx="275.3" cy="124.4" r="1.2" fill="rgb(14,58,3)"/><circle cx="263.8" cy="76.6" r="0.9" fill="rgb(6,25,1)"/><circle cx="280.5" cy="110.8" r="1.3" fill="rgb(11,46,2)"/><circle cx="259.6" cy="70.1" r="1.4" fill="rgb(7,31,1)"/><circle cx="282.5" cy="124.3" r="1.6" fill="rgb(8,35,2)"/><circle cx="260.7" cy="70.6" r="1.2" fill="rgb(16,65,3)"/><circle cx="273.2" cy="86.3" r="1" fill="rgb(25,101,6)"/><circle cx="252.4" cy="95" r="1.1" fill="rgb(8,35,2)"/><circle cx="262" cy="90.7" r="1.4" fill="rgb(35,142,8)"/><circle cx="265.7" cy="80.9" r="1.2" fill="rgb(8,34,2)"/><circle cx="266.8" cy="103.5" r="1.3" fill="rgb(12,49,2)"/><circle cx="279.8" cy="124" r="1" fill="rgb(21,86,5)"/><circle cx="272.7" cy="63.3" r="0.9" fill="rgb(34,139,8)"/><circle cx="249.3" cy="92.7" r="1.4" fill="rgb(9,38,2)"/><circle cx="285.1" cy="73.9" r="1.4" fill="rgb(12,50,3)"/><circle cx="283.8" cy="85" r="0.9" fill="rgb(8,34,2)"/><circle cx="269.4" cy="125.3" r="0.9" fill="rgb(21,84,5)"/><circle cx="283.1" cy="83.4" r="1.2" fill="rgb(6,26,1)"/><circle cx="275.5" cy="108.3" r="1.4" fill="rgb(8,32,1)"/><circle cx="282.2" cy="97.9" r="1.4" fill="rgb(6,25,1)"/><circle cx="244.5" cy="79.7" r="0.9" fill="rgb(15,60,3)"/><circle cx="270.2" cy="95.6" r="1.7" fill="rgb(10,41,2)"/><circle cx="247.4" cy="72.6" r="1.6" fill="rgb(8,34,2)"/><circle cx="271.5" cy="81.2" r="1.6" fill="rgb(12,49,2)"/><circle cx="256" cy="112.1" r="1.2" fill="rgb(24,99,5)"/><circle cx="262.7" cy="83.4" r="1.1" fill="rgb(14,56,3)"/><circle cx="278.7" cy="81.3" r="1.5" fill="rgb(10,40,2)"/><circle cx="268.2" cy="86.4" r="1.2" fill="rgb(31,127,7)"/><circle cx="263.3" cy="120.7" r="1.5" fill="rgb(23,95,5)"/><circle cx="264.9" cy="102.4" r="1.1" fill="rgb(12,48,2)"/><circle cx="284.9" cy="124.9" r="1.4" fill="rgb(14,59,3)"/><circle cx="267" cy="100.9" r="1.5" fill="rgb(6,27,1)"/><circle cx="273.4" cy="127.4" r="1.4" fill="rgb(8,35,2)"/><circle cx="287.5" cy="69" r="1" fill="rgb(10,41,2)"/><circle cx="243.7" cy="95.2" r="1.6" fill="rgb(30,122,7)"/><circle cx="264.3" cy="95.8" r="1.5" fill="rgb(23,95,5)"/><circle cx="286.3" cy="94.9" r="1.4" fill="rgb(7,28,1)"/><circle cx="274.8" cy="92.1" r="0.9" fill="rgb(37,151,9)"/><circle cx="288.4" cy="74.3" r="1.7" fill="rgb(11,47,2)"/><circle cx="257" cy="93.9" r="1.2" fill="rgb(16,66,3)"/><circle cx="250.4" cy="98.7" r="1.4" fill="rgb(34,138,8)"/><circle cx="257.9" cy="113.3" r="0.9" fill="rgb(8,33,1)"/><circle cx="277.6" cy="85.3" r="1.7" fill="rgb(16,66,3)"/><circle cx="275.3" cy="125.2" r="1.5" fill="rgb(9,36,2)"/><circle cx="282.9" cy="103.9" r="1.1" fill="rgb(13,54,3)"/><circle cx="257" cy="77" r="0.8" fill="rgb(17,70,4)"/><circle cx="263.2" cy="101.2" r="1.1" fill="rgb(6,26,1)"/><circle cx="255.5" cy="62.4" r="0.9" fill="rgb(7,28,1)"/><circle cx="289.2" cy="107.9" r="1.2" fill="rgb(8,33,1)"/><circle cx="290.8" cy="117.6" r="1.4" fill="rgb(7,30,1)"/><circle cx="283.4" cy="75.3" r="1" fill="rgb(14,57,3)"/><circle cx="269.4" cy="73.4" r="1.5" fill="rgb(13,54,3)"/><circle cx="275.3" cy="97.4" r="1" fill="rgb(16,64,3)"/><circle cx="253.8" cy="98.2" r="1.7" fill="rgb(7,29,1)"/><circle cx="261.2" cy="83.6" r="1.5" fill="rgb(13,53,3)"/><circle cx="296.8" cy="102.8" r="1.1" fill="rgb(7,28,1)"/><circle cx="283.8" cy="65.5" r="1.6" fill="rgb(43,172,10)"/><circle cx="254" cy="77.5" r="1.4" fill="rgb(8,34,2)"/><circle cx="273.7" cy="95.2" r="0.8" fill="rgb(6,26,1)"/><circle cx="277.2" cy="117.8" r="0.9" fill="rgb(6,25,1)"/><circle cx="250.9" cy="70.1" r="1.4" fill="rgb(22,91,5)"/><circle cx="260" cy="85.9" r="1.3" fill="rgb(9,38,2)"/><circle cx="262.1" cy="77.2" r="1.1" fill="rgb(8,35,2)"/><circle cx="259.2" cy="96" r="0.9" fill="rgb(9,37,2)"/><circle cx="292.5" cy="86" r="1.1" fill="rgb(13,52,3)"/><circle cx="295" cy="109.1" r="1.4" fill="rgb(16,64,3)"/><circle cx="282.9" cy="88.5" r="1.2" fill="rgb(8,33,1)"/><circle cx="271.3" cy="86" r="1.3" fill="rgb(16,66,3)"/><circle cx="288.9" cy="120.3" r="0.8" fill="rgb(7,30,1)"/><circle cx="289.4" cy="98.2" r="1" fill="rgb(8,34,2)"/><circle cx="293.9" cy="115.7" r="1.4" fill="rgb(17,71,4)"/><circle cx="286.2" cy="84.8" r="1.3" fill="rgb(8,32,1)"/><circle cx="296.9" cy="115.7" r="1" fill="rgb(6,25,1)"/><circle cx="271.9" cy="73.1" r="1.3" fill="rgb(31,124,7)"/><circle cx="249.2" cy="79.6" r="0.9" fill="rgb(21,87,5)"/><circle cx="274.9" cy="124.1" r="1.5" fill="rgb(10,41,2)"/><circle cx="276.7" cy="95.2" r="1.2" fill="rgb(7,30,1)"/><circle cx="295.8" cy="102.6" r="1.2" fill="rgb(7,30,1)"/><circle cx="273.7" cy="75.3" r="1.4" fill="rgb(18,73,4)"/><circle cx="280.7" cy="65.4" r="1.5" fill="rgb(6,26,1)"/><circle cx="274.6" cy="56.2" r="1" fill="rgb(26,107,6)"/><circle cx="290.5" cy="106.7" r="0.9" fill="rgb(20,81,4)"/><circle cx="269.4" cy="125.6" r="1" fill="rgb(8,34,2)"/><circle cx="279.4" cy="97.8" r="0.8" fill="rgb(15,61,3)"/><circle cx="274.9" cy="79" r="1" fill="rgb(29,116,6)"/><circle cx="284.3" cy="63" r="1.7" fill="rgb(19,77,4)"/><circle cx="254.9" cy="70.6" r="1.4" fill="rgb(35,143,8)"/><circle cx="254.7" cy="71.5" r="1.4" fill="rgb(31,127,7)"/><circle cx="278.9" cy="79" r="1.2" fill="rgb(24,96,5)"/><circle cx="243.7" cy="87.9" r="1.3" fill="rgb(12,49,2)"/><circle cx="260.5" cy="60" r="1.6" fill="rgb(24,97,5)"/><circle cx="251.2" cy="88.5" r="1.5" fill="rgb(16,64,3)"/><circle cx="275" cy="67.3" r="1.5" fill="rgb(8,34,2)"/><circle cx="269" cy="116.4" r="1.5" fill="rgb(14,56,3)"/><circle cx="287.2" cy="106.5" r="1.5" fill="rgb(6,25,1)"/><circle cx="292.5" cy="96.7" r="0.8" fill="rgb(26,104,6)"/><circle cx="247" cy="71.2" r="0.9" fill="rgb(8,32,1)"/><circle cx="252.4" cy="99.9" r="1" fill="rgb(7,30,1)"/><circle cx="273.2" cy="78.4" r="1.3" fill="rgb(7,29,1)"/><circle cx="271.5" cy="79.4" r="0.8" fill="rgb(14,58,3)"/><circle cx="278.1" cy="63.7" r="0.8" fill="rgb(12,50,3)"/><circle cx="295" cy="95.6" r="1.3" fill="rgb(10,42,2)"/><circle cx="263.8" cy="105.4" r="1.4" fill="rgb(7,31,1)"/><circle cx="257.6" cy="71.7" r="1.5" fill="rgb(25,102,6)"/><circle cx="283.4" cy="122.9" r="1.2" fill="rgb(7,28,1)"/><circle cx="292.9" cy="110" r="1.7" fill="rgb(6,26,1)"/><circle cx="285.9" cy="118.1" r="1.3" fill="rgb(9,36,2)"/><circle cx="275.8" cy="120.1" r="1.6" fill="rgb(24,98,5)"/><circle cx="280.7" cy="125.8" r="1.2" fill="rgb(6,27,1)"/><circle cx="275" cy="58.7" r="0.9" fill="rgb(35,143,8)"/><circle cx="279" cy="70.7" r="1.3" fill="rgb(10,41,2)"/><circle cx="251.9" cy="84.2" r="1.7" fill="rgb(32,130,7)"/><circle cx="256.3" cy="77.6" r="1" fill="rgb(24,96,5)"/><circle cx="274.5" cy="75.5" r="0.8" fill="rgb(6,25,1)"/><circle cx="284.4" cy="66.8" r="1.5" fill="rgb(18,74,4)"/><circle cx="266.1" cy="73.7" r="1.1" fill="rgb(12,49,2)"/><circle cx="286" cy="85.5" r="0.9" fill="rgb(11,45,2)"/><circle cx="252.6" cy="97.9" r="0.8" fill="rgb(7,30,1)"/><circle cx="265.7" cy="62.8" r="1.3" fill="rgb(32,130,7)"/><circle cx="281.8" cy="126.4" r="0.9" fill="rgb(6,25,1)"/><circle cx="291.1" cy="103.4" r="1.6" fill="rgb(14,56,3)"/><circle cx="263.1" cy="57.1" r="0.8" fill="rgb(27,108,6)"/><circle cx="273" cy="58.4" r="1.5" fill="rgb(24,99,5)"/><circle cx="261.4" cy="57.7" r="1.5" fill="rgb(28,115,6)"/><circle cx="294.8" cy="92.9" r="1.6" fill="rgb(14,59,3)"/><circle cx="282" cy="127" r="1.5" fill="rgb(8,32,1)"/><circle cx="279.2" cy="85.9" r="1.2" fill="rgb(6,25,1)"/><circle cx="256.3" cy="96.7" r="1.3" fill="rgb(16,66,3)"/><circle cx="277.6" cy="103.2" r="1.5" fill="rgb(16,65,3)"/></g>
<circle cx="257.3" cy="162.7" r="0.5" fill="rgb(8,53,5)"/><circle cx="239.9" cy="199.3" r="1" fill="rgb(3,23,2)"/><circle cx="287.8" cy="204.2" r="0.7" fill="rgb(5,35,3)"/><circle cx="284.1" cy="198" r="0.7" fill="rgb(5,33,3)"/><circle cx="287.5" cy="228.3" r="0.6" fill="rgb(7,44,4)"/><circle cx="277.4" cy="176.5" r="0.8" fill="rgb(9,59,5)"/><circle cx="302.1" cy="231.5" r="0.6" fill="rgb(3,20,2)"/><circle cx="283.6" cy="174.9" r="0.8" fill="rgb(5,32,3)"/><circle cx="270.6" cy="174.6" r="1.1" fill="rgb(5,32,3)"/><circle cx="284.9" cy="176.5" r="0.7" fill="rgb(7,43,4)"/><circle cx="285.8" cy="181.2" r="0.7" fill="rgb(6,41,4)"/><circle cx="274" cy="186.9" r="0.5" fill="rgb(6,41,4)"/><circle cx="267.1" cy="202.8" r="0.6" fill="rgb(6,40,4)"/><circle cx="265.8" cy="190.4" r="1.1" fill="rgb(6,36,3)"/><circle cx="299.7" cy="193.2" r="0.5" fill="rgb(7,45,4)"/><circle cx="278.4" cy="167.6" r="1" fill="rgb(9,57,5)"/><circle cx="252.5" cy="198.1" r="1.1" fill="rgb(9,59,5)"/><circle cx="283.3" cy="222.9" r="0.7" fill="rgb(8,49,4)"/><circle cx="263.8" cy="209.2" r="0.6" fill="rgb(8,49,4)"/><circle cx="274.7" cy="148.7" r="0.5" fill="rgb(6,38,3)"/><circle cx="281.2" cy="184.8" r="0.8" fill="rgb(6,41,4)"/><circle cx="269.5" cy="197.5" r="1.1" fill="rgb(6,37,3)"/><circle cx="262.5" cy="182.7" r="0.7" fill="rgb(6,40,4)"/><circle cx="281.4" cy="158.6" r="1.1" fill="rgb(6,39,3)"/><circle cx="277.5" cy="193.9" r="0.8" fill="rgb(9,58,5)"/><circle cx="265.8" cy="197" r="0.7" fill="rgb(9,58,5)"/><circle cx="275" cy="219.9" r="0.5" fill="rgb(4,29,2)"/><circle cx="278.3" cy="185.1" r="0.7" fill="rgb(8,51,5)"/><circle cx="267.6" cy="183.4" r="0.6" fill="rgb(7,46,4)"/><circle cx="267.2" cy="193" r="0.7" fill="rgb(7,46,4)"/><circle cx="258.4" cy="195.3" r="0.8" fill="rgb(6,40,4)"/><circle cx="271.1" cy="209.6" r="0.6" fill="rgb(4,29,2)"/><circle cx="283.1" cy="163.6" r="0.9" fill="rgb(5,31,3)"/><circle cx="261.4" cy="188.1" r="0.8" fill="rgb(4,25,2)"/><circle cx="256.2" cy="185.4" r="0.7" fill="rgb(8,52,5)"/><circle cx="280.8" cy="151" r="0.9" fill="rgb(9,57,5)"/><circle cx="275.9" cy="167.1" r="1" fill="rgb(6,37,3)"/><circle cx="270" cy="199.7" r="0.8" fill="rgb(3,20,2)"/><circle cx="277" cy="168.7" r="0.8" fill="rgb(6,37,3)"/>
<line x1="394" y1="43.9" x2="486" y2="43.9" stroke="#edfafc" stroke-width="1" />
<line x1="394" y1="52" x2="486" y2="52" stroke="#edfafc" stroke-width="1" />
<line x1="394" y1="68.9" x2="486" y2="68.9" stroke="#edfafc" stroke-width="1" />
<line x1="403.5" y1="30" x2="403.5" y2="95" stroke="#edfafc" stroke-width="1" />
<line x1="417" y1="30" x2="417" y2="95" stroke="#edfafc" stroke-width="1" />
<line x1="428.5" y1="30" x2="428.5" y2="95" stroke="#edfafc" stroke-width="1" />
<line x1="452" y1="30" x2="452" y2="95" stroke="#edfafc" stroke-width="1" />
<line x1="463.5" y1="30" x2="463.5" y2="95" stroke="#edfafc" stroke-width="1" />
<line x1="475" y1="30" x2="475" y2="95" stroke="#edfafc" stroke-width="1" />
<line x1="394" y1="120.6" x2="486" y2="120.6" stroke="#edfafc" stroke-width="1" />
<line x1="394" y1="149.7" x2="486" y2="149.7" stroke="#edfafc" stroke-width="1" />
<line x1="413.6" y1="100" x2="413.6" y2="165" stroke="#edfafc" stroke-width="1" />
<line x1="418.3" y1="100" x2="418.3" y2="165" stroke="#edfafc" stroke-width="1" />
<line x1="422.4" y1="100" x2="422.4" y2="165" stroke="#edfafc" stroke-width="1" />
<line x1="456" y1="100" x2="456" y2="165" stroke="#edfafc" stroke-width="1" />
<line x1="460.2" y1="100" x2="460.2" y2="165" stroke="#edfafc" stroke-width="1" />
<line x1="463.5" y1="100" x2="463.5" y2="165" stroke="#edfafc" stroke-width="1" />
<line x1="394" y1="164.6" x2="486" y2="164.6" stroke="#edfafc" stroke-width="1" />
<line x1="394" y1="183.1" x2="486" y2="183.1" stroke="#edfafc" stroke-width="1" />
<line x1="394" y1="220" x2="486" y2="220" stroke="#edfafc" stroke-width="1" />
<line x1="414.7" y1="163" x2="414.7" y2="245" stroke="#edfafc" stroke-width="1" />
<line x1="420.9" y1="163" x2="420.9" y2="245" stroke="#edfafc" stroke-width="1" />
<line x1="430.9" y1="163" x2="430.9" y2="245" stroke="#edfafc" stroke-width="1" />
<line x1="451" y1="163" x2="451" y2="245" stroke="#edfafc" stroke-width="1" />
<line x1="462.5" y1="163" x2="462.5" y2="245" stroke="#edfafc" stroke-width="1" />
<line x1="481.8" y1="163" x2="481.8" y2="245" stroke="#edfafc" stroke-width="1" />
<polygon points="394.9,54.9 395.4,54.6 395.9,53.6 396.4,55 396.9,54.1 397.4,54.2 397.9,55 398.4,54.8 398.9,53.4 399.4,54.8 399.9,54.7 400.4,54.6 400.9,54.5 401.4,54.1 401.9,54.8 402.4,54.7 402.9,54.5 403.4,54.4 403.9,54.8 404.4,54.5 404.9,54.1 405.4,54.5 405.9,54.3 406.4,54.5 406.9,54.5 407.4,54.7 407.9,54.4 408.4,54.1 408.9,53.6 409.4,54.4 409.9,53.1 410.4,53.4 410.9,54 411.4,52.9 411.9,54.5 412.4,53.5 412.9,54.2 413.4,54.5 413.9,54.1 414.4,54.7 414.9,53.4 415.4,54.1 415.9,54.1 416.4,54.7 416.9,54.8 417.4,54.6 417.9,55 418.4,54.3 418.9,54.2 419.4,54.4 419.9,54.3 420.4,54.8 420.9,54.7 421.4,54.5 421.9,54.5 422.4,54.3 422.9,54.3 423.4,54.9 423.9,54.2 424.4,53.2 424.9,53.8 425.4,54.9 425.9,54.9 426.4,54.2 426.9,52.6 427.4,52.5 427.9,54.2 428.4,53.3 428.9,54.2 429.4,53.4 429.9,54.1 430.4,54.1 430.9,53.8 431.4,54.7 431.9,54.9 432.4,54.8 432.9,54.7 433.4,54.7 433.9,55 434.4,54.2 434.9,54.8 435.4,54.4 435.9,54.3 436.4,54.6 436.9,55 437.4,54.9 437.9,54.8 438.4,54.4 438.9,54.5 439.4,54.3 439.9,54.8 440.4,54.2 440.9,54.5 441.4,54.2 441.9,54.7 442.4,54.2 442.9,54.8 443.4,53.2 443.9,54.5 444.4,54.3 444.9,54.1 445.4,54.4 445.9,54.1 446.4,54.9 446.9,54.1 447.4,54.9 447.9,55 448.4,54.5 448.9,54.5 449.4,54.4 449.9,54.5 450.4,54.5 450.9,54.3 451.4,54.1 451.9,54.5 452.4,54.7 452.9,54.6 453.4,54.4 453.9,54.4 454.4,54.3 454.9,54.2 455.4,54.7 455.9,54.1 456.4,54.2 456.9,54.3 457.4,54.4 457.9,54.4 458.4,54.3 458.9,54.8 459.4,54.9 459.9,55 460.4,54.7 460.9,54.1 461.4,54.5 461.9,53.4 462.4,54.5 462.9,54.4 463.4,54.8 463.9,54.2 464.4,54.4 464.9,54.4 465.4,54.3 465.9,54.1 466.4,54.5 466.9,54.9 467.4,54.8 467.9,54.9 468.4,53.9 468.9,55 469.4,54.4 469.9,54.4 470.4,54.7 470.9,54.6 471.4,54.7 471.9,55 472.4,54.7 472.9,54.2 473.4,55 473.9,54.9 474.4,53.6 474.9,54.9 475.4,54.3 475.9,54.6 476.4,53.3 476.9,54.5 477.4,54.6 477.9,54.4 478.4,54.3 478.9,54.2 479.4,54.3 479.9,55 480.4,54.6 480.9,54.9 481.4,54.3 481.9,54.3 482.4,54.8 482.9,54.3 483.4,54.4 483.9,54.2 484.4,54.3 484.9,54.5 485.4,55 485.9,54.7 485.9,62.5 485.4,62.8 484.9,62.5 484.4,62.3 483.9,62.7 483.4,63.1 482.9,62.7 482.4,62.5 481.9,62.5 481.4,62.3 480.9,62.9 480.4,63.8 479.9,62.6 479.4,62.5 478.9,63.1 478.4,63.1 477.9,62.9 477.4,63 476.9,63.2 476.4,62.7 475.9,63.1 475.4,63 474.9,62.2 474.4,62.2 473.9,63 473.4,63.4 472.9,62.3 472.4,63 471.9,63 471.4,63 470.9,62.4 470.4,62.4 469.9,62.6 469.4,63 468.9,62.9 468.4,63 467.9,62.6 467.4,62.8 466.9,62.5 466.4,62.7 465.9,63 465.4,62.8 464.9,62.6 464.4,62.2 463.9,62.4 463.4,62.4 462.9,62.4 462.4,62.4 461.9,62.7 461.4,62.4 460.9,62.6 460.4,62.2 459.9,62.9 459.4,62.6 458.9,63 458.4,62.7 457.9,62.9 457.4,62.6 456.9,62.9 456.4,62.9 455.9,62.6 455.4,62.8 454.9,62.9 454.4,63.1 453.9,62.7 453.4,62.8 452.9,62.6 452.4,62.2 451.9,62.5 451.4,63.1 450.9,62.9 450.4,62.5 449.9,63 449.4,62.9 448.9,62.7 448.4,62.4 447.9,63.6 447.4,62.4 446.9,62.7 446.4,62.3 445.9,62.9 445.4,62.6 444.9,62.9 444.4,62.4 443.9,64.4 443.4,62.8 442.9,62.4 442.4,63.1 441.9,62.9 441.4,62.8 440.9,62.3 440.4,62.9 439.9,62.7 439.4,62.6 438.9,62.6 438.4,62.2 437.9,62.6 437.4,62.3 436.9,62.6 436.4,62.5 435.9,62.7 435.4,62.3 434.9,62.3 434.4,62.9 433.9,63 433.4,62.3 432.9,62.7 432.4,63.1 431.9,64.4 431.4,62.6 430.9,63.4 430.4,63.2 429.9,63.6 429.4,63.5 428.9,63.8 428.4,63.8 427.9,63.6 427.4,63.8 426.9,63.2 426.4,63.2 425.9,62.5 425.4,62.4 424.9,63.1 424.4,62.3 423.9,62.4 423.4,63 422.9,62.7 422.4,62.5 421.9,63.6 421.4,63 420.9,62.5 420.4,62.7 419.9,62.4 419.4,63.1 418.9,62.5 418.4,62.4 417.9,62.5 417.4,63 416.9,62.8 416.4,62.8 415.9,62.7 415.4,62.4 414.9,62.2 414.4,62.9 413.9,62.5 413.4,63.2 412.9,63.1 412.4,63.2 411.9,63.4 411.4,64.3 410.9,63.1 410.4,63.5 409.9,64 409.4,63 408.9,64 408.4,63.3 407.9,62.2 407.4,62.7 406.9,62.7 406.4,64 405.9,62.9 405.4,62.2 404.9,62.6 404.4,62.4 403.9,63.1 403.4,62.7 402.9,62.7 402.4,62.7 401.9,62.8 401.4,62.9 400.9,63 400.4,62.8 399.9,62.8 399.4,63 398.9,62.7 398.4,62.4 397.9,62.6 397.4,62.4 396.9,63.1 396.4,62.8 395.9,62.6 395.4,62.8 394.9,62.9" fill="#d60000" stroke="none" stroke-width="1" />
<line x1="408.2" y1="58" x2="408.2" y2="80.3" stroke="rgba(220,20,20,0.42)" stroke-width="0.9" />
<line x1="411.6" y1="38.1" x2="411.6" y2="81.4" stroke="rgba(220,20,20,0.42)" stroke-width="0.9" />
<line x1="426.6" y1="46.8" x2="426.6" y2="58" stroke="rgba(220,20,20,0.42)" stroke-width="0.9" />
<line x1="427.8" y1="34" x2="427.8" y2="76.2" stroke="rgba(220,20,20,0.42)" stroke-width="0.9" />
<line x1="430" y1="49.6" x2="430" y2="58" stroke="rgba(220,20,20,0.42)" stroke-width="0.9" />
<line x1="451.5" y1="36.9" x2="451.5" y2="82.6" stroke="rgba(220,20,20,0.42)" stroke-width="0.9" />
<line x1="458.4" y1="50.8" x2="458.4" y2="68.2" stroke="rgba(220,20,20,0.42)" stroke-width="0.9" />
<line x1="476.4" y1="35.8" x2="476.4" y2="65.8" stroke="rgba(220,20,20,0.42)" stroke-width="0.9" />
<polygon points="394.3,130.4 394.8,130.5 395.3,130.8 395.8,130.9 396.3,130.4 396.8,130.5 397.3,130.5 397.8,131.3 398.3,130.4 398.8,130.6 399.3,130.6 399.8,131.2 400.3,130.8 400.8,130.6 401.3,130.9 401.8,130.9 402.3,131.2 402.8,131 403.3,130.8 403.8,131.1 404.3,131.2 404.8,131.1 405.3,131.1 405.8,130.8 406.3,130.5 406.8,131.1 407.3,131.3 407.8,130.6 408.3,129.4 408.8,130.7 409.3,131.3 409.8,130.5 410.3,130.9 410.8,131.2 411.3,130.8 411.8,130.4 412.3,130.3 412.8,129.8 413.3,128.1 413.8,127.8 414.3,127.8 414.8,128.9 415.3,127.5 415.8,125.7 416.3,127.5 416.8,128.4 417.3,127.1 417.8,128.9 418.3,127.8 418.8,126.4 419.3,128.2 419.8,129.5 420.3,128.4 420.8,129 421.3,129.4 421.8,130.1 422.3,130.9 422.8,130.6 423.3,131.2 423.8,130.5 424.3,131 424.8,130.9 425.3,130.4 425.8,130.7 426.3,130.7 426.8,130.8 427.3,130.5 427.8,130.9 428.3,130.9 428.8,130.7 429.3,130.7 429.8,130 430.3,130.7 430.8,130.6 431.3,130.3 431.8,130.4 432.3,130.2 432.8,128.8 433.3,129.2 433.8,128.6 434.3,128.8 434.8,130 435.3,129.8 435.8,129.1 436.3,128.8 436.8,128.9 437.3,128.2 437.8,127.5 438.3,128.8 438.8,127.8 439.3,129.2 439.8,128.3 440.3,129.2 440.8,127.8 441.3,127.6 441.8,127.4 442.3,127 442.8,128 443.3,128.7 443.8,129.7 444.3,127.3 444.8,127.8 445.3,128.6 445.8,129.2 446.3,129.1 446.8,130 447.3,129.6 447.8,128.9 448.3,129.1 448.8,128.7 449.3,129.3 449.8,128.8 450.3,129.8 450.8,130.1 451.3,130.1 451.8,130.3 452.3,130.8 452.8,130.9 453.3,130.8 453.8,130.5 454.3,130.5 454.8,130.7 455.3,130.9 455.8,130.6 456.3,130.6 456.8,130.7 457.3,131.1 457.8,130.7 458.3,131.3 458.8,130.4 459.3,130.8 459.8,130.5 460.3,130.6 460.8,130.8 461.3,130.9 461.8,131.1 462.3,130.8 462.8,131.1 463.3,130.9 463.8,131.1 464.3,130.9 464.8,130.8 465.3,130.7 465.8,131.1 466.3,131.1 466.8,130.6 467.3,129.6 467.8,130.8 468.3,130.5 468.8,130.5 469.3,130.5 469.8,130.8 470.3,130 470.8,130.9 471.3,129.7 471.8,128.3 472.3,128.1 472.8,126.3 473.3,128.7 473.8,126.3 474.3,126.5 474.8,127 475.3,126.6 475.8,126.6 476.3,125.6 476.8,124.9 477.3,127.1 477.8,129.2 478.3,128.4 478.8,129.6 479.3,130.5 479.8,129.9 480.3,130.5 480.8,131 481.3,130.9 481.8,130.7 482.3,129.9 482.8,130.8 483.3,130.9 483.8,130.4 484.3,130.5 484.3,140.2 483.8,140.7 483.3,139.9 482.8,140.1 482.3,140.6 481.8,140.2 481.3,140.6 480.8,140.2 480.3,140.1 479.8,140.2 479.3,140.2 478.8,141.5 478.3,142.1 477.8,142.1 477.3,144.2 476.8,145.5 476.3,145.8 475.8,144.3 475.3,143.7 474.8,144.3 474.3,144.8 473.8,145 473.3,142 472.8,144.9 472.3,142.9 471.8,144.4 471.3,141.1 470.8,140.6 470.3,139.8 469.8,140.2 469.3,140.3 468.8,140 468.3,140.1 467.8,139.8 467.3,139.8 466.8,140.1 466.3,140 465.8,141.4 465.3,140.3 464.8,139.9 464.3,140 463.8,140.1 463.3,140 462.8,140.3 462.3,140.2 461.8,139.9 461.3,139.8 460.8,140.1 460.3,139.9 459.8,140 459.3,140.6 458.8,139.8 458.3,140.4 457.8,140.3 457.3,140.2 456.8,139.7 456.3,139.9 455.8,140.1 455.3,140.1 454.8,140 454.3,139.8 453.8,140.3 453.3,140 452.8,139.8 452.3,140.5 451.8,140.7 451.3,140.5 450.8,141.2 450.3,141.5 449.8,141.6 449.3,141.9 448.8,142.1 448.3,142.2 447.8,142.1 447.3,141.3 446.8,141.3 446.3,141.7 445.8,141.7 445.3,141.7 444.8,143.4 444.3,143.5 443.8,141.6 443.3,142 442.8,142.8 442.3,143.6 441.8,143.4 441.3,143.9 440.8,143.6 440.3,141.9 439.8,142.4 439.3,142.2 438.8,143.9 438.3,142.9 437.8,143.1 437.3,143.1 436.8,142.1 436.3,141.8 435.8,141.7 435.3,141 434.8,141.3 434.3,142.5 433.8,141.4 433.3,141.7 432.8,142.1 432.3,141 431.8,140.6 431.3,140.1 430.8,140.5 430.3,139.7 429.8,140.3 429.3,140.3 428.8,140.5 428.3,140 427.8,140.5 427.3,140.2 426.8,141 426.3,140.6 425.8,140.5 425.3,139.8 424.8,139.8 424.3,140.3 423.8,140.3 423.3,139.8 422.8,140 422.3,140.5 421.8,141 421.3,141.9 420.8,142.4 420.3,143.2 419.8,142 419.3,142.8 418.8,142.7 418.3,143.8 417.8,143.2 417.3,145.1 416.8,142.3 416.3,144 415.8,144.9 415.3,143.6 414.8,142.2 414.3,142.7 413.8,142.7 413.3,143 412.8,141.5 412.3,140.5 411.8,140.2 411.3,140.2 410.8,140.5 410.3,140.3 409.8,140.5 409.3,140.4 408.8,139.8 408.3,140.4 407.8,139.9 407.3,139.7 406.8,139.8 406.3,140.9 405.8,139.9 405.3,140.5 404.8,139.8 404.3,140.4 403.8,140.5 403.3,140.2 402.8,140.3 402.3,139.9 401.8,140 401.3,140.5 400.8,140.5 400.3,140.5 399.8,140.3 399.3,140.6 398.8,140.5 398.3,139.9 397.8,139.8 397.3,140.2 396.8,140 396.3,140.1 395.8,140.4 395.3,140.2 394.8,140.3 394.3,139.8" fill="#d60000" stroke="none" stroke-width="1" />
<line x1="443.5" y1="115.6" x2="443.5" y2="135" stroke="rgba(220,20,20,0.42)" stroke-width="0.9" />
<line x1="444.8" y1="135" x2="444.8" y2="157.4" stroke="rgba(220,20,20,0.42)" stroke-width="0.9" />
<line x1="405.3" y1="135" x2="405.3" y2="152" stroke="rgba(220,20,20,0.42)" stroke-width="0.9" />
<line x1="475.5" y1="121" x2="475.5" y2="135" stroke="rgba(220,20,20,0.42)" stroke-width="0.9" />
<line x1="474.5" y1="135" x2="474.5" y2="151.4" stroke="rgba(220,20,20,0.42)" stroke-width="0.9" />
<line x1="423" y1="128" x2="423" y2="144" stroke="rgba(220,20,20,0.42)" stroke-width="0.9" />
<polygon points="396.5,208.4 397,208 397.5,208.4 398,208.2 398.5,207.8 399,208.5 399.5,208.6 400,207.8 400.5,207.9 401,208.5 401.5,208.2 402,208.3 402.5,207.8 403,207.7 403.5,207.7 404,208.4 404.5,208.5 405,207.9 405.5,207.9 406,208.6 406.5,207.7 407,208.5 407.5,208.2 408,208.3 408.5,208.2 409,208.1 409.5,208.2 410,207.7 410.5,207.1 411,208.2 411.5,207.8 412,208.4 412.5,208.3 413,208.3 413.5,207.9 414,208.4 414.5,208.5 415,207.8 415.5,207.6 416,207.4 416.5,207 417,207.1 417.5,207.3 418,206.3 418.5,207.1 419,207.4 419.5,205.6 420,206.5 420.5,207.8 421,207.1 421.5,207.5 422,208.4 422.5,206.9 423,208.4 423.5,207.8 424,208.5 424.5,208.1 425,208 425.5,208.3 426,208 426.5,207.9 427,208.2 427.5,208.2 428,208.1 428.5,208.2 429,207.8 429.5,208.5 430,207.9 430.5,208.5 431,207.8 431.5,207.1 432,208 432.5,206.7 433,208.5 433.5,208.1 434,208.4 434.5,208.3 435,208.5 435.5,207.9 436,208 436.5,207.8 437,207.8 437.5,208.4 438,208.3 438.5,208.3 439,208.1 439.5,208.3 440,207.9 440.5,208.1 441,208.1 441.5,208.2 442,208.4 442.5,207.7 443,208.4 443.5,207.8 444,208.2 444.5,207.8 445,207.5 445.5,208.4 446,208.1 446.5,208.5 447,207.8 447.5,208.3 448,208.4 448.5,208.1 449,208 449.5,208 450,208 450.5,208.3 451,208 451.5,208.5 452,207.9 452.5,207 453,208.3 453.5,207.9 454,208.4 454.5,207.9 455,207.9 455.5,208.5 456,208.1 456.5,208.6 457,208.3 457.5,207.7 458,208.2 458.5,208 459,208.4 459.5,208 460,207.8 460.5,208.6 461,207.8 461.5,208.5 462,208 462.5,207.8 463,208.2 463.5,208.5 464,208.2 464.5,207.9 465,208 465.5,208.1 466,207.9 466.5,208.4 467,208.6 467.5,207.8 468,208.6 468.5,208.4 469,208 469.5,208.4 470,208.3 470.5,208 471,207.7 471.5,208.4 472,208.4 472.5,207.8 473,208.1 473.5,207.8 474,208 474.5,207.9 475,208.3 475.5,208.2 476,208.1 476.5,208.5 477,207.9 477.5,207.8 478,208.2 478.5,207.6 479,208.1 479.5,208.1 480,208.6 480.5,208.1 481,207.9 481.5,208.5 482,208.4 482.5,208.4 483,207.9 483.5,208.2 484,207.9 484.5,207.4 485,207.9 485.5,208.4 486,208.2 486,215.6 485.5,216.3 485,216 484.5,216.7 484,215.9 483.5,216.2 483,215.7 482.5,216 482,215.5 481.5,217 481,215.6 480.5,216.1 480,216.3 479.5,216 479,215.5 478.5,216.3 478,216.1 477.5,216.2 477,215.5 476.5,215.4 476,215.7 475.5,215.6 475,215.6 474.5,215.9 474,215.6 473.5,215.8 473,215.5 472.5,215.4 472,215.8 471.5,216 471,215.5 470.5,215.5 470,215.6 469.5,215.8 469,216.7 468.5,215.8 468,217.3 467.5,215.8 467,215.6 466.5,215.8 466,215.8 465.5,215.4 465,215.7 464.5,215.6 464,215.7 463.5,216 463,215.8 462.5,215.8 462,215.7 461.5,215.9 461,216.2 460.5,216.5 460,216.1 459.5,215.9 459,215.4 458.5,215.9 458,217.3 457.5,215.7 457,215.9 456.5,216.2 456,215.6 455.5,215.6 455,216.1 454.5,215.6 454,215.5 453.5,216.2 453,215.8 452.5,215.6 452,215.6 451.5,216.1 451,215.7 450.5,215.9 450,216.2 449.5,215.6 449,215.9 448.5,215.8 448,216.3 447.5,216 447,216.1 446.5,216.2 446,215.6 445.5,216.3 445,215.8 444.5,215.7 444,215.5 443.5,216.2 443,216 442.5,215.6 442,216 441.5,216.3 441,216 440.5,216.2 440,216.3 439.5,215.7 439,216.4 438.5,215.8 438,216 437.5,215.6 437,215.8 436.5,215.5 436,215.8 435.5,216 435,216.3 434.5,215.7 434,216.1 433.5,215.6 433,216.8 432.5,215.9 432,216.3 431.5,215.5 431,215.5 430.5,215.4 430,216.1 429.5,216 429,215.6 428.5,216.2 428,215.5 427.5,215.8 427,215.8 426.5,216.1 426,215.7 425.5,215.9 425,215.7 424.5,215.7 424,216.2 423.5,215.5 423,215.8 422.5,216.6 422,216.2 421.5,216 421,216.6 420.5,216.4 420,216.7 419.5,216.8 419,216.3 418.5,216.8 418,217.7 417.5,218 417,216.5 416.5,216.8 416,216 415.5,216.1 415,215.7 414.5,215.7 414,215.8 413.5,215.6 413,217 412.5,215.7 412,215.9 411.5,216 411,215.7 410.5,217 410,216.6 409.5,215.6 409,216.2 408.5,216 408,216.2 407.5,216.9 407,215.4 406.5,216.3 406,215.7 405.5,215.4 405,215.5 404.5,216.3 404,215.9 403.5,215.9 403,215.5 402.5,216.2 402,215.9 401.5,215.7 401,215.6 400.5,216.2 400,216.2 399.5,215.8 399,215.9 398.5,216.1 398,215.5 397.5,215.8 397,216.2 396.5,215.7" fill="#d60000" stroke="none" stroke-width="1" />
<line x1="407.8" y1="200" x2="407.8" y2="212" stroke="rgba(220,20,20,0.42)" stroke-width="0.9" />
<line x1="417.8" y1="205" x2="417.8" y2="212" stroke="rgba(220,20,20,0.42)" stroke-width="0.9" />
<line x1="438.6" y1="197" x2="438.6" y2="212" stroke="rgba(220,20,20,0.42)" stroke-width="0.9" />
<line x1="462.5" y1="203" x2="462.5" y2="212" stroke="rgba(220,20,20,0.42)" stroke-width="0.9" />
<line x1="407" y1="212" x2="407" y2="225" stroke="rgba(220,20,20,0.42)" stroke-width="0.9" />
<line x1="418" y1="212" x2="418" y2="225" stroke="rgba(220,20,20,0.42)" stroke-width="0.9" />
<line x1="420" y1="212" x2="420" y2="225" stroke="rgba(220,20,20,0.42)" stroke-width="0.9" />
<line x1="439.7" y1="212" x2="439.7" y2="232" stroke="rgba(220,20,20,0.42)" stroke-width="0.9" />
<line x1="462" y1="212" x2="462" y2="223" stroke="rgba(220,20,20,0.42)" stroke-width="0.9" />
<line x1="485" y1="212" x2="485" y2="225" stroke="rgba(220,20,20,0.42)" stroke-width="0.9" />
<text x="412.6" y="25.5" font-size="14" textLength="52.4" lengthAdjust="spacingAndGlyphs"><tspan font-style="italic">Ctrl</tspan>, PBS</text>
<text x="412.5" y="108.2" font-size="14" textLength="51.2" lengthAdjust="spacingAndGlyphs"><tspan font-style="italic">Ctrl</tspan>, LPS</text>
<text x="399.3" y="179.7" font-size="14" font-style="italic" textLength="19.5" lengthAdjust="spacingAndGlyphs">NG</text>
<text x="419.3" y="175.3" font-size="9.5" font-style="italic" textLength="34.5" lengthAdjust="spacingAndGlyphs">Trpa1KO</text>
<text x="454.5" y="179.7" font-size="14" textLength="31.9" lengthAdjust="spacingAndGlyphs">, LPS</text>
<text x="387.8" y="63.9" font-size="13.5" text-anchor="start" fill="#000" textLength="38.7" lengthAdjust="spacingAndGlyphs" transform="rotate(-90 387.8 63.9)" >500μV</text>
<text x="387.8" y="145.3" font-size="13.5" text-anchor="start" fill="#000" textLength="36.4" lengthAdjust="spacingAndGlyphs" transform="rotate(-90 387.8 145.3)" >500μV</text>
<text x="388" y="218.6" font-size="13.5" text-anchor="start" fill="#000" textLength="37.8" lengthAdjust="spacingAndGlyphs" transform="rotate(-90 388 218.6)" >500μV</text>
<polyline points="390.8,40.8 390.8,69.7 399.5,69.7" fill="none" stroke="#000" stroke-width="2.5" stroke-linejoin="miter"/>
<polyline points="388.8,120.3 388.8,149 397.6,149" fill="none" stroke="#000" stroke-width="2.5" stroke-linejoin="miter"/>
<polyline points="390.2,193.2 390.2,221.4 399.3,221.4" fill="none" stroke="#000" stroke-width="2.5" stroke-linejoin="miter"/>
<text x="395.4" y="237.9" font-size="14.5" text-anchor="start" fill="#000" textLength="27.8" lengthAdjust="spacingAndGlyphs"  >2min</text>
<polygon points="420.3,242.7 414.2,255.5 426.7,255.5" fill="#000" stroke="none" stroke-width="1" />
<text x="426.7" y="263.7" font-size="13.8" text-anchor="start" fill="#000" textLength="53.6" lengthAdjust="spacingAndGlyphs"  >LPS/PBS</text>
<polygon points="585,214.1 586,213.9 587,214.1 588,213.5 589,214.5 590,214.5 591,214.2 592,213.5 593,214 594,213.7 595,213.6 596,214.7 597,214.8 598,213.3 599,214.6 600,214.2 601,213.8 602,213.7 603,214.3 604,213.9 605,214.3 606,214.3 607,213.4 608,214.4 609,214.8 610,214.8 611,214.2 612,213.3 613,213.2 614,213.4 615,214.7 616,213.7 617,213.8 618,214.6 619,213.7 620,214.1 621,213.9 622,213.3 623,214.1 624,214.6 625,213.5 626,213.6 627,213.9 628,213.3 629,214 630,214.5 631.4,203.3 632.7,192.1 633.8,197.6 634.9,206.4 636,212.1 637,211.8 638,212.2 639,211.4 640,212.5 641,211.4 642,211.5 643,212.6 644,212.8 645,212 646,212 647,211.8 648,211.8 649,212.4 650,211.7 651,211.7 652,212.2 653,211.8 654,212.6 655,212.9 656,212.9 657,212.5 658,212.3 659,212.5 660,211.8 661,213 662,212.4 663,212.4 664,212.1 665,212.7 666,212.9 667,212.7 668,213.5 669,213.2 670,212.5 671,213 672,213.6 673,213 674,213.1 675,212.3 676,213 677,212.9 678,212.8 679,212.1 680,210.4 681,207.8 682,205.7 683,204.5 684,188.8 685,150.7 686,111 687,94.3 688,92.5 689,89.8 690,87.3 691,92 692,103.4 693,115.2 694,120.8 695,122.9 696,129.8 697,136.7 698,139.7 699,140.4 700,143.2 701,147.1 702,151.1 703,155.4 704,160.1 705,164.1 706,165.2 707,166.2 708,167.1 709,168.3 710,169.8 711,171.7 712,174.1 713,175.5 714,177.6 715,178.9 716,178.4 717,179.3 718,179.9 719,181.4 720,181.5 721,184.4 722,185.7 723,187.2 724,188 725,187.2 726,188 727,187.6 728,189.2 729,190.8 730,190.8 731,192.2 732,192.8 733,193.8 734,194.3 735,194.4 736,195.9 737,196 738,195.8 739,196.9 740,197.5 741,197.9 742,198.4 743,199.2 744,199.4 745,199 746,198.7 747,197.9 748,196.1 749,193.4 750,192.3 751,191.4 752,191 753,191.7 754,193.6 755,198.1 756,201.4 757,204.2 758,205.6 759,206 760,206.7 761,206.9 762,206.9 763,208.2 764,208.5 765,209.2 766,209.4 767,210.2 768,210.4 769,211.3 770,211 771,210.6 772,209.8 773,208.5 774,207.2 775,205.4 776,203.6 777,201.3 778,200.6 779,200 780,199.8 781,200.2 782,201.3 783,205.6 784,208.5 785,209.4 786,210.7 787,210.7 788,211.4 789,211.2 790,210.7 791,210.5 792,210.5 793,210.4 794,211.5 795,211.7 796,210.6 797,211.4 798,211.7 799,210.5 800,211.1 801,210.9 802,211.8 803,211.6 804,210.2 805,210.5 806,211.6 807,211.1 808,211 809,211.5 810,211.4 811,211.7 812,210.7 813,210.3 814,211.3 815,210.3 816,211.1 817,211.6 818,210.8 819,211.2 820,210.5 821,210.5 822,211.2 823,211.6 824,211.8 825,210.2 826,211.7 827,211 828,210.8 829,210.8 830,211.1 831,210 832,207.6 833,205.8 834,202.2 835,199 836,197.1 837,196.8 838,196.9 839,201.7 840,206.3 841,209.3 842,211.1 843,210.9 844,210.5 845,210.9 846,210.4 847,211.7 848,210.5 849,211.2 850,211.1 851,211.8 852,211.5 853,210.8 854,210.8 855,210.3 856,210.3 857,210.7 858,211.7 859,210.3 860,210.5 861,211.2 862,210.8 863,210.5 864,211.7 865,210.3 866,211.2 867,196.8 868,162.8 869,128.6 870,114.5 871,116.1 872,119.2 873,119.9 874,131.7 875,154.4 876,165 876,226 875,227.4 874,229.6 873,231.7 872,231.2 871,230.9 870,230.4 869,230 868,227.2 867,222.7 866,222.6 865,222.5 864,221.8 863,222.4 862,222.2 861,222 860,222.3 859,221.8 858,221.6 857,221.5 856,222.3 855,222 854,221.2 853,221.5 852,222 851,221.5 850,222.3 849,222.7 848,222.5 847,222.2 846,222.2 845,221.9 844,222.2 843,221.3 842,221.4 841,221.6 840,222.5 839,221.2 838,221.9 837,221.4 836,221.2 835,222.5 834,221.7 833,222.1 832,222.3 831,221.3 830,222.6 829,221.3 828,221.3 827,221.9 826,222.8 825,222.5 824,221.7 823,222 822,222.2 821,221.9 820,221.5 819,221.6 818,221.9 817,221.5 816,221.6 815,222.7 814,222.3 813,222.6 812,222.5 811,222 810,221.4 809,221.7 808,222.1 807,221.8 806,222.6 805,222.7 804,222.5 803,221.9 802,221.5 801,222.3 800,221.7 799,222.6 798,221.9 797,222.3 796,222.6 795,221.5 794,221.5 793,222.3 792,221.7 791,221.2 790,221.6 789,222.7 788,222.2 787,222 786,222.3 785,221.6 784,222 783,222.2 782,221.2 781,222.4 780,221.3 779,222.5 778,221.9 777,222.1 776,222.3 775,221.7 774,222.2 773,222.4 772,222.5 771,221.9 770,220.9 769,221.7 768,221.6 767,221.2 766,221.5 765,221.3 764,221.8 763,221.6 762,220.9 761,221.6 760,221.7 759,221.3 758,220.8 757,221.6 756,221.3 755,220.9 754,220.6 753,220.4 752,219.8 751,219 750,217.8 749,218.9 748,217.5 747,217.9 746,217.3 745,217.5 744,216.7 743,218.6 742,218.9 741,220 740,219.5 739,220.5 738,221.5 737,222.9 736,223.5 735,223.6 734,224.1 733,224 732,223.2 731,223 730,223.9 729,223.7 728,223.6 727,223.6 726,224.5 725,224.4 724,224.3 723,224.8 722,226.1 721,225.3 720,226 719,226.6 718,226.2 717,225.8 716,225.6 715,226.7 714,225.6 713,225.4 712,225.2 711,224.7 710,222.9 709,222.7 708,221.1 707,221.6 706,219.7 705,219.7 704,218.8 703,215.2 702,209.9 701,203.1 700,195.1 699,190.4 698,186.2 697,184 696,180.5 695,174.1 694,170.7 693,166.5 692,159.5 691,153.5 690,150.1 689,160.5 688,186.7 687,211.4 686,221.8 685,222.2 684,221.6 683,222.1 682,221.3 681,221.3 680,221.7 679,221.7 678,222.4 677,221.6 676,221.5 675,222.8 674,221.4 673,222.2 672,222.6 671,221.8 670,221.5 669,222.6 668,221.7 667,222.5 666,222.8 665,221.6 664,221.5 663,221.9 662,221.4 661,222.2 660,221.4 659,222.4 658,221.5 657,221.9 656,222.1 655,221.5 654,222.5 653,221.3 652,221.4 651,221.6 650,221.4 649,222.4 648,222.7 647,221.7 646,221.3 645,221.6 644,222.4 643,222.2 642,221.3 641,221.8 640,222.8 639,222 638,222.7 637,221.5 636,221.2 634.9,223.1 633.8,224.2 632.7,223.8 631.4,223.6 630,221.8 629,222.4 628,221.3 627,221.7 626,221.6 625,221.7 624,222.3 623,222.5 622,222.8 621,222.8 620,221.6 619,221.9 618,222.3 617,222 616,222.2 615,222 614,222.5 613,221.9 612,221.9 611,221.2 610,221.6 609,221.5 608,221.3 607,222 606,221.2 605,221.5 604,222.2 603,222.2 602,222.7 601,222.8 600,221.3 599,222.3 598,222.5 597,221.3 596,221.7 595,221.4 594,222.5 593,222.2 592,222 591,221.5 590,222.1 589,222 588,221.9 587,222.7 586,222.1 585,221.9" fill="#808080" stroke="none" stroke-width="1" fill-opacity="0.32"/>
<polygon points="585,217.3 586,216.6 587,216.9 588,217.3 589,215.2 590,216.4 591,217.3 592,217.2 593,216.2 594,214.9 595,215.7 596,217.6 597,214.7 598,215.4 599,217.4 600,215.8 601,215.1 602,215.4 603,217.3 604,215.5 605,215.8 606,216.4 607,217 608,216 609,214.7 610,216.2 611,214.5 612,214.7 613,215 614,216.6 615,215.3 616,216.6 617,214.9 618,214.8 619,214.5 620,216.7 621,217.1 622,215.1 623,215.2 624,214.4 625,216.5 626,215.4 627,214.8 628,216.5 629,216.3 630,215.8 631,214.9 632,216.4 633,216.2 634,215.8 635,214.9 636,217.4 637,217.2 638,216.6 639,217.6 640,216.3 641,215.5 642,214.8 643,216.3 644,216.1 645,215.8 646,217.6 647,217.1 648,214.8 649,217.2 650,214.4 651,216.5 652,215.4 653,216.7 654,217.4 655,216.1 656,216.8 657,214.6 658,216.5 659,214.8 660,215.9 661,215.5 662,214.6 663,216.8 664,214.7 665,215.2 666,214.7 667,216.5 668,215.4 669,214.5 670,214.5 671,215.1 672,216 673,214.4 674,214.5 675,216.5 676,216.1 677,214.8 678,215.4 679,214.8 680,215.3 681,213.3 682,207.1 683,201.4 684,199.1 685,172.4 686,119.2 687,93.2 688,90.5 689,87.8 690,86.7 691,88 692,90.5 693,91.2 694,94 695,95.6 696,94.8 697,95.7 698,95.8 699,97.7 700,98.1 701,102 702,108.1 703,110.9 704,117 705,118.5 706,122.1 707,121.7 708,120.8 709,123.3 710,123.5 711,127.4 712,128.5 713,129.7 714,132.3 715,132 716,133.7 717,133.1 718,131.9 719,133 720,135.8 721,134.4 722,138.2 723,136 724,138.8 725,138.6 726,138.2 727,139.6 728,140.7 729,141.1 730,141.7 731,141.3 732,143 733,143.2 734,140.8 735,141.6 736,139.6 737,138.9 738,140.8 739,141.6 740,139.5 741,142.7 742,141.8 743,144 744,143 745,145.6 746,143.7 747,143.3 748,143.1 749,143.7 750,144 751,146.9 752,144.9 753,145.8 754,146.7 755,146.9 756,149.3 757,147 758,149.3 759,147.8 760,145.9 761,144.5 762,143.5 763,140.8 764,140.1 765,139.6 766,140 767,140.4 768,138.7 769,139.3 770,139.2 771,137.4 772,138.5 773,136 774,137.1 775,136.5 776,135.8 777,137.6 778,138.4 779,137.4 780,137.1 781,139 782,139.3 783,138 784,137.6 785,137.5 786,137.2 787,136.8 788,135.9 789,136.4 790,136.3 791,136.1 792,136.1 793,136.2 794,136.5 795,138.3 796,138.5 797,139.8 798,139.4 799,142.2 800,139.8 801,143.4 802,145.4 803,150.2 804,153.1 805,151.9 806,152.1 807,154 808,152.2 809,149.5 810,149 811,147.5 812,147.3 813,145.9 814,145.3 815,145.1 816,146.8 817,148.3 818,148.7 819,150.4 820,151.5 821,150.6 822,152.7 823,150.2 824,145.3 825,141.2 826,134.9 827,133.9 828,134.4 829,134.2 830,134.3 831,135.7 832,137.3 833,138 834,139.4 835,138.6 836,141.2 837,142.1 838,143.2 839,143.2 840,145.2 841,148.8 842,149.7 843,149.5 844,149.7 845,146.7 846,145.7 847,144.7 848,143.3 849,141.7 850,140.5 851,142 852,140.2 853,142 854,143.7 855,142.7 856,144.4 857,145.6 858,146.2 859,148.8 860,148.9 861,147.1 862,148.4 863,152.3 864,154.5 865,155.2 866,159.4 867,160 868,158.8 869,156.7 870,156.1 871,157.1 872,155.6 873,153.9 874,154.9 875,151.8 876,153.7 877,153 877,206.5 876,205.1 874.9,206.7 873.9,205.3 872.9,207.7 871.8,208.7 870.8,208.4 869.7,206.1 868.7,209.1 867.6,206.4 866.5,206.1 865.4,205.5 864.4,203.8 863.3,203 862.2,203.2 861.1,202 860,201.9 859,203 858,199.9 857,197.8 856,196.8 855,193.7 854,194 853,191.9 851.9,193.5 850.8,190 849.8,188.1 848.7,187.9 847.6,184.1 846.5,184.9 845.4,183.4 844.2,179.3 843.1,175.8 842,176.1 840.9,176.6 839.8,173 838.7,173.1 837.6,172.9 836.5,172.7 835.4,170.4 834.3,170.1 833.2,172.7 832.2,172.7 831.1,174.6 830,174.8 829,176 828,178.2 827,185.8 826,190.1 825,192.9 824,193.4 823,193.7 822,198.1 821,199.4 820,203.5 819,204.6 818,205 817,203.9 816,203.5 815,202.2 814,201.7 813,201.1 812,199.6 811,198.2 810,197.7 809,196.3 808,199.5 807,199.6 806,200.8 805,202.4 804,203.6 803,205.4 802,206.7 801,206.9 800,206.4 799,204.6 798,204.8 797,203.1 796,203.1 795,203.2 794,202.6 793,202.6 792,202.1 791,202.5 790,200.5 789,202.3 788,201.4 787,201.8 786,201.3 785,198 784,197.1 783,196.3 782,198.3 781,195.4 780,195 779,196.6 778,196 777,192.7 776,191.8 775,188 774,184.1 773,178.5 772,176.9 771,173.6 770,172 769,172.7 768,172.1 767,176.3 766,177 765,179 764,180.5 763,184.4 762,184.1 761,185.3 760,184.5 759,185.2 758,186 757,183.8 756,184.4 755,181.8 754,183 753,180.3 752,181.4 751,179.3 750,180.2 749,177.9 748,175.9 747,173.8 746,171 745,173.1 744,174.7 743,175.1 742,176 741,177 740,177.6 739,179.5 738,181.9 737,186.7 736,190.1 735,196 734,199.5 733,198.3 732,199.4 731,198.5 730,199.5 729,200.4 728,201.3 727,204.5 726,205.2 725,203.6 724,202.9 723,203.5 722,203.5 721,201.9 720,200.7 719,197.9 718,200.1 717,198.7 716,196.3 715,198.4 714,195.6 713,194.7 712,191.7 711,191.2 710,188.1 709,185.8 708,185.2 707,185.7 706,184.8 705,183.1 704,178.4 703,174.4 702,173 701,168.9 700,167.5 699,163.4 698,163.5 697,163.7 696,162.4 695,158.9 694,153.2 693,148.2 692,144.6 691,142.2 690,139.7 689,138.9 688,158.6 687,201.8 686,220.9 685,221.9 684,222 683,219.6 682,219.9 681,222.2 680,220.2 679,220.6 678,221 677,222.2 676,221.3 675,222.5 674,222.6 673,220.7 672,222.5 671,222.3 670,221.6 669,221.6 668,220.6 667,221.9 666,222 665,219.6 664,219.7 663,220.4 662,221.3 661,220.5 660,222.4 659,220.5 658,219.9 657,220 656,221.4 655,221.2 654,221.3 653,220.1 652,221.8 651,221.2 650,221 649,221 648,222.6 647,221.7 646,219.7 645,219.5 644,220.6 643,222.6 642,220.6 641,220.8 640,220.6 639,220.7 638,222.2 637,222.4 636,220 635,222 634,220.9 633,219.8 632,221.7 631,221.3 630,221.8 629,221.8 628,222.3 627,222.5 626,220.1 625,221.9 624,220.2 623,222.2 622,219.5 621,220 620,221 619,220.5 618,221.2 617,220.9 616,222.4 615,219.8 614,222 613,219.9 612,220.6 611,222.4 610,219.8 609,221 608,220.5 607,219.5 606,221.4 605,222.2 604,221.8 603,222.6 602,219.5 601,220.1 600,220.1 599,221.9 598,219.6 597,221.3 596,220.6 595,219.4 594,220.2 593,221 592,221 591,222 590,221.9 589,220.1 588,220.9 587,221.4 586,221.6 585,219.9" fill="#ff2020" stroke="none" stroke-width="1" fill-opacity="0.22"/>
<polygon points="585,214.1 586,213.7 587,213.2 588,214.2 589,213.5 590,213.6 591,213.8 592,214.2 593,214.8 594,213.9 595,214.8 596,214.8 597,213.6 598,213.3 599,213.5 600,214.5 601,214.2 602,214.7 603,214.8 604,214.2 605,214.1 606,210.2 607,202.7 608,196.6 609,193.3 610,196.3 611,203.1 612,210.3 613,213.2 614,213.6 615,212.3 616,212.8 617,212.4 618,213 619,212.9 620,211.7 621,211.2 622,211.3 623,211.2 624,211.8 625,211 626,211.5 627,210.7 628,211 629,210.3 630,210.5 631,209.4 632,208.8 633,207.6 634,205.5 635,203.4 636,203.4 637,202.3 638,200.7 639,200.2 640,200.7 641,200.7 642,203.4 643,207.5 644,210.2 645,211.3 646,211.5 647,211 648,210.9 649,210.6 650,210.6 651,210.9 652,211.1 653,211.6 654,211.5 655,211.4 656,211.3 657,211.7 658,211.4 659,212.2 660,212 661,212.2 662,211.8 663,212.1 664,212.5 665,213 666,212.4 667,212.1 668,212.8 669,211.9 670,212.4 671,211.9 672,212.8 673,212.4 674,212.7 675,213.4 676,213.2 677,212.2 678,212.9 679,212.2 680,213.5 681,211.1 682,207.1 683,201.5 684,200.5 685,174.4 686,125.6 687,99.8 688,98.3 689,97.7 690,96.5 691,102 692,118.1 693,133.5 694,139.4 695,148.7 696,170.8 697,191 698,200.4 699,201.2 700,203.2 701,205.4 702,207.9 703,207.7 704,207.7 705,206.9 706,205.7 707,206 708,206.6 709,206.7 710,206.7 711,207.6 712,208.7 713,208.8 714,209.4 715,210.4 716,209.4 717,209.3 718,209.4 719,209.9 720,209 721,210 722,209.7 723,209.9 724,209.8 725,209.6 726,209.2 727,208.8 728,209.2 729,208.5 730,208.6 731,209.3 732,209.1 733,208.2 734,208.6 735,208.7 736,207.9 737,208.3 738,207.3 739,207.2 740,207.4 741,207 742,207.5 743,206.9 744,206.7 745,207.5 746,207.3 747,206.7 748,204.8 749,204.2 750,203.1 751,203.6 752,202.9 753,201.9 754,202.1 755,198.9 756,196.8 757,196 758,193.5 759,193 760,192.1 761,191.2 762,191.3 763,191.1 764,189.4 765,190.4 766,190.5 767,192.8 768,194.9 769,197.7 770,198 771,198.1 772,197.9 773,199.6 774,199.6 775,201.2 776,201.1 777,202.1 778,203.6 779,203.5 780,204.2 781,204.3 782,203.7 783,203.8 784,203.5 785,202.8 786,203.9 787,203.3 788,203.7 789,203.2 790,203.2 791,202.4 792,203.4 793,203.3 794,203.3 795,203.4 796,203.8 797,203.9 798,205.1 799,204.8 800,204.4 801.1,204.6 802.2,203.6 803.3,201.4 804.4,197.3 805.5,195.5 806.6,193.2 807.7,191.5 808.8,190.8 809.8,191.8 810.9,193.7 811.9,196.8 812.9,199.5 814,202.5 815,203.6 816,203.2 817,200.5 818,197.9 819,195.3 820,192.5 821,191.9 822,190.4 823,191.7 824,194.3 825,196.8 826,199.5 827,201.7 828,202.2 829,201.4 830,198 831,193.7 832,190.5 833,190.7 834,189.3 835,189.8 836,190.1 837,189.7 838,189.2 839,187.8 840,187.5 841,188.1 842,187.4 843,186.9 844,185.1 845,183.5 846,181 847,179.1 848,178.6 849,177.2 850,172.3 851,169 852,164.2 853,163.3 854,163.3 855,162 856,162.5 857,161.4 858,160.9 859,159.9 860,160.4 861,160.1 862,161.7 863,164.3 864,166.6 865,167.6 866,168.1 867,168.5 868,172 869,174.4 870,175.7 871,176.3 872,177.9 873,179.6 874,182.5 875,183.5 876,184.8 877,186 877,212 876,212.6 875,212.8 874,213.9 873,214.8 872,215.5 871,214.2 870,213.6 869,213.3 868,213 867,211.4 866,211.7 865,210.4 864,211.4 863,210.3 862,211.2 861,209.9 860,209.6 859,209.2 858,209.2 857,209.5 856,209 855,208.6 854,208.8 853,209.2 852,210.4 851,209.8 850,210.1 849,210.8 848,210.8 847,212.3 846,212.5 845,212.1 844,211.6 843,212.5 842,213.7 841,214.2 840,214.9 839,216.6 838,217.1 837,218.1 836,218.2 835,218.5 834,217.9 833,218 832,218.5 831,217.4 830,218.8 829,218.6 828,219.2 827,218.4 826,218.5 825,218.5 824,219.5 823,219 822,218.2 821,219.6 820,218.3 819,218.5 818,218.8 817,219.4 816,219.6 815,219.8 814,219.5 813,219.2 812,219.3 811,219.3 810,220 809,218.8 808,219.1 807,219.6 806,219.9 805,219.7 804,219.2 803,219.6 802,219.3 801,219.4 800,220.8 799,220 798,219.6 797,219.3 796,220.5 795,220.8 794,219.7 793,220.3 792,220.7 791,219.3 790,220.3 789,219.6 788,220.5 787,219.9 786,219.6 785,220.1 784,220.3 783,219.8 782,219.7 781,220.6 780,220 779,220.3 778,220.7 777,220 776,219.6 775,219.2 774,219.7 773,218.8 772,219 771,219.2 770,219.6 769,219 768,218.3 767,219 766,218.3 765,218.4 764,218.9 763,217.8 762,218.5 761,217.8 760,217.2 759,217.2 758,218 757,217.8 756,218.2 755,217.6 754,218 753,218.3 752,219.5 751,219 750,219.2 749,219.7 748,219.3 747,219.3 746,220.7 745,220.3 744,221.1 743,220.8 742,220.8 741,221 740,221.6 739,222.5 738,222 737,222.1 736,223 735,222.2 734,222.4 733,223.5 732,223.1 731,222.2 730,223.5 729,223.4 728,223.4 727,222.6 726,223.1 725,223.3 724,222.9 723,222.7 722,222.8 721,222.4 720,222.9 719,222.4 718,223.6 717,222.5 716,223.1 715,223.3 714,223.7 713,223.3 712,223.3 711,222.1 710,222 709,222.4 708,222.7 707,222.2 706,222.5 705,222.1 704,221.9 703,222.6 702,221.7 701,220.9 700,219.3 699,217.9 698,217.7 697,212.2 696,196 695,180.8 694,175.2 693,167.7 692,153.1 691,136 690,129.3 689,143 688,175.7 687,208.3 686,221.2 685,221.8 684,222.8 683,222.4 682,221.6 681,222.4 680,222.8 679,222.3 678,222.4 677,221.4 676,221.4 675,221.3 674,222.2 673,222.2 672,221.8 671,221.6 670,222.5 669,222 668,222 667,222.6 666,222.3 665,221.7 664,221.5 663,221.4 662,222.8 661,221.4 660,221.4 659,222.1 658,222.5 657,221.9 656,222.5 655,221.9 654,221.5 653,222.8 652,222.2 651,222.7 650,221.8 649,221.4 648,222.3 647,222.2 646,222.7 645,221.5 644,221.3 643,222.3 642,222.1 641,222.2 640,221.5 639,221.7 638,222.5 637,222.8 636,222.8 635,222.7 634,222.5 633,222.2 632,221.8 631,221.7 630,221.7 629,221.3 628,221.6 627,222.2 626,221.5 625,222.4 624,222.5 623,221.5 622,222.2 621,222.6 620,222.4 619,221.2 618,222.8 617,222.5 616,221.5 615,221.8 614,222.5 613,222.7 612,222.5 611,223.6 610,224.1 609,224.5 608,225.3 607,223.3 606,222.2 605,221.5 604,221.8 603,222.7 602,221.2 601,221.3 600,222.8 599,221.9 598,221.9 597,222.1 596,221.4 595,222.3 594,222.4 593,221.4 592,222.4 591,221.6 590,221.4 589,221.4 588,222.3 587,221.8 586,221.4 585,221.2" fill="#2020ff" stroke="none" stroke-width="1" fill-opacity="0.2"/>
<polyline points="585,215.4 585.8,215.3 586.7,215.5 587.5,216.7 588.3,216.7 589.2,217.1 590,217.1 590.8,216.9 591.7,217.3 592.5,217.2 593.3,217.5 594.2,217.5 595,217.8 595.8,217.6 596.7,217.4 597.5,217.5 598.3,218.2 599.2,217.7 600,218.2 600.8,218.1 601.7,217.5 602.5,218.2 603.3,217.4 604.2,218.2 605,218.1 605.8,217.4 606.7,217.8 607.5,217.7 608.3,217 609.2,217.5 610,216.9 610.8,217.6 611.7,217.3 612.5,217.5 613.3,216.6 614.2,216.8 615,217.1 615.8,217.1 616.7,216.6 617.5,217.2 618.3,217.1 619.2,216.4 620,216.1 620.8,216.5 621.7,216.2 622.5,216.3 623.3,216.1 624.2,215.9 625,215.5 625.8,215.4 626.7,215.2 627.5,214.7 628.3,213.7 629.2,213.4 630,213 630.9,212 631.8,208.9 632.7,207.1 633.9,209.3 635,211.6 635.8,211.8 636.7,213.4 637.5,214.4 638.3,215.3 639.2,215.3 640,216.2 640.8,215.6 641.6,216.4 642.4,216.2 643.2,216.3 644,216.2 644.8,216.1 645.6,216.5 646.4,216.7 647.2,216 648,216.3 648.8,216.6 649.6,216.6 650.4,216.4 651.2,216.5 652,217.1 652.8,216.5 653.6,216.5 654.4,217 655.2,216.6 656,217.3 656.8,216.8 657.6,217.4 658.4,216.9 659.2,217.4 660,217.3 660.8,217.2 661.6,216.5 662.4,216.3 663.2,215.8 664,215.7 664.8,215.9 665.6,215 666.4,214.9 667.2,215.1 668,214.7 668.8,215 669.6,215.4 670.4,216.5 671.2,216.4 672,217.5 672.8,216.9 673.6,216.5 674.4,215.7 675.2,215.2 676,215.5 676.8,215.2 677.6,214.6 678.4,213.2 679.2,213.3 680,213.4 681,210.6 682,208 683,199.1 684,189.7 685,165.2 686,140.3 687,130.6 688,113 689,104.1 690,111.9 691,120.2 692,135.4 693,150.4 694,159.6 695,169.3 696,174.4 697,183.1 698,187.8 698.9,188.5 699.7,189.5 700.6,192.2 701.4,194.6 702.3,197.5 703.1,199 704,199.1 704.8,199.5 705.6,199.7 706.5,199.7 707.3,200 708.1,200.7 708.9,200.7 709.7,201.5 710.5,202.3 711.4,202.5 712.2,201.9 713,202.7 713.8,202.7 714.6,202.9 715.4,202.5 716.2,203.7 717,203.6 717.8,204.8 718.6,204.9 719.4,205.6 720.2,206 721,207.3 721.8,207.1 722.6,208.2 723.4,208.2 724.2,208 725,208.6 725.8,208.5 726.6,208.2 727.5,209.2 728.3,209 729.1,209.2 729.9,210.3 730.7,210.7 731.5,210.7 732.4,210.8 733.2,211.3 734,211.4 734.8,211.3 735.6,210.5 736.4,209.9 737.2,209.4 738,208.7 738.9,208.5 739.9,208.3 740.8,207.9 741.8,207.4 742.7,207.3 743.5,207.7 744.4,210.2 745.2,211.7 746,212.9 747,213.3 748,215.4 749,216.3 749.8,216 750.7,216.1 751.5,215.7 752.4,216.1 753.2,215.4 754.1,215.8 754.9,215.8 755.8,216.3 756.6,215.6 757.5,215.6 758.3,215.6 759.2,216.3 760,215.8 760.8,216.4 761.7,215.8 762.5,216.3 763.3,215.6 764.2,216.3 765,216.3 765.8,216.2 766.7,216 767.5,216.1 768.3,216.1 769.2,216.1 770,215.4 770.8,215.9 771.7,215.8 772.5,215.4 773.3,215.2 774.2,215.9 775,215.5 775.8,214.8 776.6,213.3 777.4,210.6 778.2,208.5 779,208.2 780,206.8 781,204.2 782,203.4 783,205.1 784,207.3 785,209.3 785.8,209.7 786.7,210.8 787.5,212.2 788.3,214.4 789.2,215.3 790,215.8 790.8,216.4 791.7,215.8 792.5,215.6 793.3,216.4 794.2,216.6 795,215.9 795.8,216.1 796.7,216.3 797.5,216.5 798.3,215.8 799.2,216.5 800,216.1 800.8,216.8 801.7,216.4 802.5,216.9 803.3,216.4 804.2,216.7 805,216 805.8,216.2 806.6,216.3 807.5,216.4 808.3,216.1 809.1,216.4 809.9,216 810.8,216.5 811.6,216.9 812.4,216.7 813.2,216.5 814,216.8 814.9,216.5 815.7,216.4 816.5,216.2 817.3,215.8 818.1,216.6 819,216.6 819.8,216.4 820.6,216.3 821.4,216.4 822.2,216.5 823.1,216.5 823.9,216.3 824.7,215.5 825.5,216.5 826.4,216.1 827.2,216 828,215.9 828.9,215.3 829.7,213.7 830.6,212.2 831.4,210 832.3,207.5 833.1,206.9 834,206.4 835,205.3 836,202.8 837,201.6 838,203.7 839,207.8 840,210.5 840.8,210.8 841.7,211.9 842.5,213 843.3,214.5 844.2,215.8 845,215.8 845.8,215.7 846.6,216.5 847.4,215.8 848.2,215.8 849,216 849.8,215.7 850.6,216.1 851.4,215.8 852.2,216.5 853,215.8 853.8,216.5 854.6,216 855.4,216.6 856.2,216.6 857,216.8 857.8,216 858.6,216.9 859.4,216.1 860.2,216.3 861,216 861.8,216.5 862.6,216.1 863.4,216.5 864.2,216.9 865,216.8 866,215 867,211.2 868,210.5 869,202.4 870,187.9 871,179.6 872.2,172.9 873.4,166.7 874.2,169.4 875,171.7 876.5,186" fill="none" stroke="#222" stroke-width="1.2" stroke-linejoin="round"/>
<polyline points="585,217.2 585.8,216.4 586.7,216.8 587.5,216.8 588.3,217.5 589.2,217.5 590,217.8 590.8,217 591.7,217.5 592.5,217.2 593.3,217.5 594.2,218 595,217.6 595.8,217.9 596.7,218.5 597.5,218.5 598.3,218.1 599.2,218.6 600,218.9 600.8,217.9 601.6,218.9 602.4,218.7 603.2,218.3 604,218.1 604.8,219 605.6,218.3 606.4,218 607.2,218 608,218.9 608.8,218.6 609.6,218.8 610.4,218.7 611.2,218.5 612,219 612.8,218.2 613.6,218.4 614.4,218.8 615.2,218.5 616,218.8 616.8,218.4 617.6,218.5 618.4,217.7 619.2,217.9 620,218 620.8,217.7 621.6,217.9 622.4,217.7 623.2,217.9 624,218.3 624.8,218 625.6,218 626.4,217.8 627.2,217.8 628,218.6 628.8,218.3 629.6,218.2 630.4,217.7 631.2,218.3 632,217.6 632.8,217.9 633.6,218.6 634.4,218.2 635.2,218.1 636,218.2 636.8,218.4 637.6,218.3 638.4,217.7 639.2,217.4 640,217.8 640.8,217.7 641.6,217.7 642.4,218.5 643.2,218.5 644,217.8 644.8,218.3 645.6,218 646.4,218.6 647.2,218.1 648,217.9 648.8,217.9 649.6,218.3 650.4,218 651.2,218.4 652,218.8 652.8,218.2 653.6,218 654.4,219 655.2,218.4 656,218 656.8,217.9 657.6,218 658.4,218.6 659.2,218.8 660,218.4 660.8,218 661.6,218.4 662.4,219.1 663.2,218.5 664,219 664.8,218.9 665.6,217.8 666.4,218.6 667.2,218.6 668,218.4 668.8,218 669.6,218.4 670.4,217.8 671.2,218.1 672,218.1 672.8,218.7 673.6,218.6 674.4,217.8 675.2,218.1 676,217.7 676.8,218.5 677.6,218.5 678.4,217.8 679.2,218.2 680,218.1 681,216.6 682,215.3 683,214 684,197.3 685,180 686,161.9 687,127.3 688,109.4 689,109.6 690,107.4 690.9,105.2 691.9,103.7 692.8,104.1 693.6,107.2 694.5,110.2 695.4,112.5 696.3,116 697.1,117.5 698,119.1 698.9,120.2 699.7,122.3 700.6,126.9 701.4,131.6 702.3,135.5 703.1,139.1 704,139.6 704.9,140.2 705.7,143.1 706.6,146.9 707.4,150.3 708.3,154 709.1,157.3 710,157.8 710.9,158.1 711.7,159.9 712.6,161.8 713.4,164.6 714.3,167.1 715.1,169.1 716,169.3 716.9,169.6 717.7,170.2 718.6,172.1 719.4,172.9 720.3,174.9 721.1,175.6 722,175 722.9,174.9 723.7,174.6 724.6,172.9 725.4,171.5 726.3,171.2 727.1,170 728,169.6 728.9,169.1 729.7,166.6 730.6,162.2 731.4,158.1 732.3,154.9 733.1,152.4 734,151.6 735,148.9 736.1,145.9 737,147.4 737.9,148.9 738.8,151.9 739.7,152.9 740.6,154.2 741.4,155.3 742.3,158 743.1,161.3 744,164 744.8,165.7 745.7,166.3 746.6,167.7 747.5,168.6 748.3,170.9 749.2,172 750.1,172 750.9,172.8 751.8,171.7 752.6,170.4 753.4,168.7 754.3,166.8 755.1,164.2 755.9,163.2 756.8,162 757.6,161.9 758.4,161.4 759.3,161.4 760.1,161.6 760.9,160.1 761.8,160.1 762.6,159.1 763.4,158.6 764.3,158.9 765.1,158.8 765.9,158.4 766.7,159.1 767.6,159.1 768.4,160.2 769.2,161.9 770,162.3 770.9,163 771.7,163.7 772.5,163.1 773.3,163.9 774.2,164.3 775,165.5 775.8,165.7 776.7,167.7 777.5,167.6 778.3,168.5 779.2,169.5 780,169.8 780.8,169.3 781.7,169.3 782.5,170.4 783.4,169.9 784.2,170.6 785.1,171 785.9,171.1 786.8,171.6 787.6,171.8 788.5,172.6 789.3,171.9 790.2,172.6 791,172.1 791.8,172.4 792.6,172.9 793.5,172.9 794.3,173.4 795.1,174.5 795.9,174.5 796.8,175.7 797.6,177.2 798.4,178.1 799.2,177.8 800.1,178.8 800.9,179.6 801.7,181 802.5,181.5 803.4,181.8 804.2,181.5 805,181.3 805.8,182 806.6,181.5 807.4,180.9 808.2,180.7 809,179.5 809.8,178 810.6,178.3 811.4,177.2 812.2,177.3 813,177.5 813.9,176.6 814.7,176.7 815.6,176.9 816.4,177.6 817.3,177.5 818.2,178.2 819,178.5 819.9,178.1 820.7,178.7 821.6,178.3 822.5,177.3 823.4,174.3 824.4,169.9 825.3,165.5 826.2,164.6 827.2,163.8 828.1,161.8 829.1,160.6 830,158.8 831,157.7 831.9,157.8 832.8,156.1 833.7,154.2 834.6,152.3 835.5,151.9 836.4,153.7 837.3,156.1 838.2,158.5 839.1,161.1 840,161.7 840.8,161.3 841.7,161.5 842.5,162.1 843.3,163.4 844.1,163.9 845,164.7 845.8,165.5 846.6,165.5 847.4,166.3 848.3,166.9 849.1,168.4 849.9,169 850.7,168.9 851.6,169.4 852.4,168.9 853.2,170 854.1,170.6 854.9,171.7 855.8,172.8 856.6,174.4 857.5,174.9 858.3,177.2 859.2,178 860,179.8 860.9,180.2 861.7,180.5 862.6,180.7 863.4,180.7 864.3,182.2 865.2,182.4 866.1,184.3 866.9,184.9 867.8,184.4 868.7,185 869.5,184.3 870.4,183.7 871.2,183.8 872.1,182.6 872.9,181.9 873.8,181.7 874.6,181.6 875.5,181.7" fill="none" stroke="#ff0000" stroke-width="1.4" stroke-linejoin="round"/>
<polyline points="585,215.5 585.8,216.2 586.7,215.7 587.5,216.2 588.3,216.5 589.2,216.8 590,216.7 590.8,216.9 591.7,216.6 592.5,217.2 593.3,217.3 594.2,217.8 595,217.5 595.8,217.7 596.6,217.3 597.4,216.9 598.2,217.3 599,217.1 599.8,216.4 600.6,215.9 601.4,216.2 602.2,216 603,216.3 604,215.1 605,213 606,212.1 607,210.7 608,208 609,206.9 610,208.9 611,211.2 612,211.8 612.8,212.9 613.6,213.7 614.4,214.9 615.2,216.9 616,217.1 616.8,217.4 617.6,217.1 618.5,216.4 619.3,216.8 620.1,216.9 620.9,216.8 621.7,216.1 622.5,216.2 623.4,216.3 624.2,215.7 625,216.3 625.8,216.1 626.7,214.8 627.5,214.6 628.3,213.6 629.2,212.9 630,213.1 630.8,213.4 631.7,212.8 632.5,212.1 633.3,212.2 634.2,212.3 635,212.5 635.8,212.2 636.7,211.5 637.5,212.5 638.3,212.1 639.2,211.6 640,211.6 640.8,211.8 641.6,212.9 642.4,213 643.2,214.1 644,213.6 644.8,214.3 645.6,215 646.4,215.5 647.2,216.2 648,217.4 648.8,217.5 649.6,216.6 650.4,217.2 651.2,217.5 652,217.4 652.8,217.4 653.6,216.8 654.4,217.2 655.2,217 656,217.4 656.8,217.2 657.6,217.3 658.4,217.4 659.2,216.9 660,217.2 660.8,216.5 661.6,216.5 662.4,217 663.2,216.2 664,216.2 664.8,215.8 665.6,215.2 666.4,215.3 667.2,215.5 668,214.8 668.8,215.1 669.6,215.5 670.4,216.3 671.2,217.6 672,217.7 672.8,218 673.6,217.6 674.4,217.9 675.2,217 676,216.9 676.8,216.9 677.6,217 678.4,217.5 679.2,216.7 680,217 681,214.8 682,211.3 683,210 684,190.1 685,170 686,156.7 687,129.1 688,115.5 689.2,111 690.4,106.7 691.4,118.5 692.4,142.9 693.4,154.3 694.4,166.8 695.4,192.9 696.4,205 697.3,206.5 698.2,208.7 699.1,212.1 700,214.3 700.9,215.7 701.9,215.2 703,214.2 704,213.6 705,213.8 705.9,213.3 706.9,212.5 708,214.2 709,216.3 710,216.8 710.9,216.7 711.8,217.3 712.8,216.9 713.6,217.5 714.4,216.9 715.2,216.9 716,217.3 716.8,216.9 717.6,216.9 718.4,216.4 719.2,216.6 720,216.1 720.8,216.2 721.6,216 722.4,216.4 723.2,216.1 724,215.9 724.8,216.1 725.6,215.9 726.5,216.1 727.3,215.9 728.1,216.1 728.9,215.8 729.8,216.6 730.6,216.4 731.4,216.7 732.2,216.7 733.1,216.2 733.9,216.4 734.7,217.3 735.6,217.2 736.4,217.5 737.2,217.6 738,217 738.9,217.8 739.7,217.4 740.6,217.2 741.5,216 742.4,214.4 743.2,213.3 744.1,212.3 745,211.8 745.9,211.7 746.9,211.6 747.8,211.2 748.7,210.9 749.6,211.7 750.5,211.5 751.4,211.8 752.3,212.6 753.2,212.9 754.1,212.9 755,212.8 755.8,213.1 756.6,211.9 757.4,211.2 758.2,210.1 759,209.8 759.8,208.4 760.6,208.5 761.5,208.7 762.4,208.8 763.2,209.8 764.1,211.1 765,211.3 765.9,210.7 766.8,210.8 767.8,211.6 768.7,211.4 769.6,211.5 770.4,211.5 771.3,210.2 772.1,209.6 773,209 773.8,207.4 774.7,206.9 775.5,207.3 776.4,207.4 777.3,207.7 778.2,208.1 779.2,209.6 780.1,209.6 781,210.3 781.8,210 782.7,210.4 783.5,211.7 784.3,212.1 785.2,212.7 786,212.9 787,212.3 787.9,210.7 788.9,208.8 789.8,206.5 790.8,206.5 791.7,206.6 792.5,207.8 793.4,208.4 794.3,210 795.1,210.4 796,211.2 796.8,211.3 797.6,211.6 798.4,212 799.2,212.8 800,212.4 800.9,211.9 801.7,211.5 802.6,210.3 803.4,210.1 804.3,209.2 805.1,207.9 806,208.1 806.9,208 807.7,209.3 808.6,209.9 809.4,210.6 810.3,212.2 811.1,212.3 812,213.4 812.9,213.1 813.7,212 814.6,210.4 815.4,209.6 816.3,207.7 817.1,206.9 818,206.8 818.9,206.8 819.7,208.3 820.6,209.1 821.4,210.4 822.3,211.2 823.1,211.5 824,211.8 824.9,211.9 825.7,211.5 826.6,210.6 827.4,209.4 828.3,209.1 829.1,208.1 830,208.1 830.9,208.1 831.8,207.2 832.6,206 833.5,204.9 834.4,203.3 835.2,202.6 836.1,202.3 837,201.7 837.8,201.4 838.7,202.8 839.5,203 840.3,203.7 841.2,204.9 842,205.3 842.9,204.3 843.7,203.6 844.6,202.2 845.4,200.3 846.3,199.4 847.1,198.1 848,198.2 848.9,197.7 849.8,197 850.6,195.5 851.5,194.7 852.4,192.6 853.2,191.8 854.1,190.8 855,190.5 855.8,190.6 856.7,191.7 857.5,192 858.3,192.8 859.2,193.7 860,194.2 860.9,193.8 861.7,194.4 862.6,194.6 863.4,195.3 864.3,195.5 865.1,195.9 866,195.4 867,197 868,198.7 869,199.8 870,202.3 871,206.6 872,209.6 872.8,208.4 873.6,207.4 874.4,204.9 875.2,203.7 876,203.2" fill="none" stroke="#0000ff" stroke-width="1.4" stroke-linejoin="round"/>
<line x1="585.4" y1="87" x2="585.4" y2="233.2" stroke="#c4c4c4" stroke-width="1.4" />
<line x1="584.7" y1="233.2" x2="882" y2="233.2" stroke="#c4c4c4" stroke-width="1.4" />
<line x1="881.6" y1="86" x2="881.6" y2="233.2" stroke="#c4c4c4" stroke-width="1.4" />
<line x1="585.4" y1="155.7" x2="588.5" y2="155.7" stroke="#c4c4c4" stroke-width="1" />
<line x1="881.6" y1="155.7" x2="878.5" y2="155.7" stroke="#c4c4c4" stroke-width="1" />
<line x1="782.8" y1="86.5" x2="782.8" y2="89.5" stroke="#c4c4c4" stroke-width="1" />
<line x1="683.8" y1="86.5" x2="683.8" y2="89.5" stroke="#c4c4c4" stroke-width="1" />
<text x="581.7" y="96.5" font-size="10.5" text-anchor="end" fill="#555" textLength="15.1" lengthAdjust="spacingAndGlyphs"  >100</text>
<text x="581.7" y="160" font-size="10.5" text-anchor="end" fill="#555" textLength="10.4" lengthAdjust="spacingAndGlyphs"  >50</text>
<text x="581.6" y="224.1" font-size="10.5" text-anchor="end" fill="#555" textLength="5.2" lengthAdjust="spacingAndGlyphs"  >0</text>
<text x="584.5" y="246.6" font-size="10.5" text-anchor="middle" fill="#555" textLength="5.2" lengthAdjust="spacingAndGlyphs"  >0</text>
<text x="683.8" y="246.6" font-size="10.5" text-anchor="middle" fill="#555" textLength="17" lengthAdjust="spacingAndGlyphs"  >600</text>
<text x="782.8" y="246.6" font-size="10.5" text-anchor="middle" fill="#555" textLength="21.7" lengthAdjust="spacingAndGlyphs"  >1200</text>
<text x="882" y="246.6" font-size="10.5" text-anchor="middle" fill="#555" textLength="21.9" lengthAdjust="spacingAndGlyphs"  >1800</text>
<text x="712" y="268.2" font-size="15" text-anchor="start" fill="#000" textLength="43.5" lengthAdjust="spacingAndGlyphs"  >Time(s)</text>
<text x="560" y="220.7" font-size="18" text-anchor="start" fill="#000" textLength="170" lengthAdjust="spacingAndGlyphs" transform="rotate(-90 560 220.7)" >Normalized Caps rate</text>
<text x="589.3" y="67.4" font-size="14" text-anchor="start" fill="#000" textLength="29" lengthAdjust="spacingAndGlyphs"  >PBS:</text>
<line x1="637.9" y1="61" x2="657.8" y2="61" stroke="#000" stroke-width="4" />
<text x="668.1" y="67.4" font-size="14" text-anchor="start" fill="#000" font-style="italic" textLength="20.7" lengthAdjust="spacingAndGlyphs"  >Ctrl</text>
<text x="590.1" y="83.3" font-size="14" text-anchor="start" fill="#000" textLength="28.2" lengthAdjust="spacingAndGlyphs"  >LPS:</text>
<line x1="637.9" y1="76.9" x2="657.5" y2="76.9" stroke="#f00" stroke-width="4" />
<text x="668.9" y="83.3" font-size="14" text-anchor="start" fill="#000" font-style="italic" textLength="20.1" lengthAdjust="spacingAndGlyphs"  >Ctrl</text>
<line x1="715.4" y1="76.7" x2="732.7" y2="76.7" stroke="#00f" stroke-width="4" />
<text x="749" y="82.5" font-size="14" text-anchor="start" fill="#000" font-style="italic" textLength="18.9" lengthAdjust="spacingAndGlyphs"  >NG</text>
<text x="769.5" y="78.8" font-size="9.5" text-anchor="start" fill="#000" font-style="italic" textLength="33.9" lengthAdjust="spacingAndGlyphs"  >Trpa1KO</text>
<text x="628.8" y="164.7" font-size="13" text-anchor="start" fill="#000" textLength="27.3" lengthAdjust="spacingAndGlyphs"  >LPS/</text>
<text x="628.8" y="180.8" font-size="13" text-anchor="start" fill="#000" textLength="25.2" lengthAdjust="spacingAndGlyphs"  >PBS</text>
<polyline points="663.5,189 672,203.2 680.2,189" fill="none" stroke="#000" stroke-width="2.2" />
<line x1="672" y1="186.8" x2="672" y2="202" stroke="#000" stroke-width="2.2" />
<text x="985.1" y="65.3" font-size="15" text-anchor="start" fill="#000" textLength="105.5" lengthAdjust="spacingAndGlyphs"  >Vagal response</text>
<text x="1035" y="83.4" font-size="14" text-anchor="start" fill="#000" textLength="11.7" lengthAdjust="spacingAndGlyphs"  >ns</text>
<line x1="1009.5" y1="95.3" x2="1072.9" y2="95.3" stroke="#000" stroke-width="2.6" />
<text x="1008.9" y="128.9" font-size="22" text-anchor="middle" fill="#000"   >*</text>
<line x1="1000.7" y1="131.5" x2="1016.4" y2="131.5" stroke="#000" stroke-width="2.8" />
<text x="1073.8" y="129.2" font-size="22" text-anchor="middle" fill="#000"   >*</text>
<line x1="1061.8" y1="131.2" x2="1084.9" y2="131.2" stroke="#000" stroke-width="2.8" />
<text x="970.4" y="90.9" font-size="11.2" text-anchor="end" fill="#000" textLength="29.7" lengthAdjust="spacingAndGlyphs"  >80000</text>
<line x1="973.6" y1="87" x2="986" y2="87" stroke="#000" stroke-width="2.6" />
<text x="970.4" y="122.3" font-size="11.2" text-anchor="end" fill="#000" textLength="29.7" lengthAdjust="spacingAndGlyphs"  >60000</text>
<line x1="973.6" y1="118.4" x2="986" y2="118.4" stroke="#000" stroke-width="2.6" />
<text x="970.4" y="153.4" font-size="11.2" text-anchor="end" fill="#000" textLength="29.7" lengthAdjust="spacingAndGlyphs"  >40000</text>
<line x1="973.6" y1="149.5" x2="986" y2="149.5" stroke="#000" stroke-width="2.6" />
<text x="970.4" y="184.8" font-size="11.2" text-anchor="end" fill="#000" textLength="29.7" lengthAdjust="spacingAndGlyphs"  >20000</text>
<line x1="973.6" y1="180.9" x2="986" y2="180.9" stroke="#000" stroke-width="2.6" />
<text x="970.4" y="216.4" font-size="11.2" text-anchor="end" fill="#000" textLength="5.7" lengthAdjust="spacingAndGlyphs"  >0</text>
<line x1="973.6" y1="212.5" x2="986" y2="212.5" stroke="#000" stroke-width="2.6" />
<line x1="985.8" y1="86" x2="985.8" y2="213.8" stroke="#000" stroke-width="2.8" />
<line x1="984.5" y1="212.4" x2="1099.8" y2="212.4" stroke="#000" stroke-width="2.6" />
<line x1="1008.6" y1="212" x2="1008.6" y2="224.4" stroke="#000" stroke-width="2.6" />
<line x1="1042.5" y1="212" x2="1042.5" y2="224.4" stroke="#000" stroke-width="2.6" />
<line x1="1076.2" y1="212" x2="1076.2" y2="224.4" stroke="#000" stroke-width="2.6" />
<line x1="994" y1="212" x2="994" y2="215" stroke="#000" stroke-width="1.6" />
<line x1="1004" y1="212" x2="1004" y2="215" stroke="#000" stroke-width="1.6" />
<line x1="1016" y1="212" x2="1016" y2="215" stroke="#000" stroke-width="1.6" />
<line x1="1026" y1="212" x2="1026" y2="215" stroke="#000" stroke-width="1.6" />
<line x1="1034" y1="212" x2="1034" y2="215" stroke="#000" stroke-width="1.6" />
<line x1="1053" y1="212" x2="1053" y2="215" stroke="#000" stroke-width="1.6" />
<line x1="1060" y1="212" x2="1060" y2="215" stroke="#000" stroke-width="1.6" />
<line x1="1066" y1="212" x2="1066" y2="215" stroke="#000" stroke-width="1.6" />
<line x1="1086" y1="212" x2="1086" y2="215" stroke="#000" stroke-width="1.6" />
<line x1="1091.4" y1="212" x2="1091.4" y2="215" stroke="#000" stroke-width="1.6" />
<polyline points="999.3,212.5 999.3,196.4 1017.9,196.4 1017.9,212.5" fill="none" stroke="#000" stroke-width="2.6" stroke-linejoin="miter"/>
<polyline points="1033.2,212.6 1033.2,136.6 1051.8,136.6 1051.8,212.6" fill="none" stroke="#f00" stroke-width="2.6" stroke-linejoin="miter"/>
<polyline points="1066.1,212.6 1066.1,195.6 1085.5,195.6 1085.5,212.6" fill="none" stroke="#00f" stroke-width="2.6" stroke-linejoin="miter"/>
<line x1="1008.6" y1="189.8" x2="1008.6" y2="199.5" stroke="#000" stroke-width="2.4" />
<line x1="1003.3" y1="189.8" x2="1013.9" y2="189.8" stroke="#000" stroke-width="2.4" />
<line x1="1003.3" y1="199.5" x2="1013.9" y2="199.5" stroke="#000" stroke-width="2.4" />
<line x1="1042.4" y1="101.4" x2="1042.4" y2="168.6" stroke="#f00" stroke-width="2.6" />
<line x1="1037" y1="101.4" x2="1047.8" y2="101.4" stroke="#f00" stroke-width="2.6" />
<line x1="1037.2" y1="168.6" x2="1047.8" y2="168.6" stroke="#f00" stroke-width="2.6" />
<line x1="1076" y1="185" x2="1076" y2="202.9" stroke="#00f" stroke-width="2.4" />
<line x1="1070.3" y1="185" x2="1081.8" y2="185" stroke="#00f" stroke-width="2.4" />
<line x1="1070.3" y1="202.9" x2="1081.8" y2="202.9" stroke="#00f" stroke-width="2.4" />
<polygon points="1001.6,186.1 998.1,192.2 1005.1,192.2" fill="#000" stroke="none" stroke-width="1" />
<polygon points="1009.6,193.5 1006.1,199.6 1013.1,199.6" fill="#000" stroke="none" stroke-width="1" />
<polygon points="1016,195.3 1012.5,201.4 1019.5,201.4" fill="#000" stroke="none" stroke-width="1" />
<polygon points="1036.7,108.6 1033,115.1 1040.5,115.1" fill="#000" stroke="none" stroke-width="1" />
<polygon points="1048.1,115.4 1044.3,121.9 1051.8,121.9" fill="#000" stroke="none" stroke-width="1" />
<polygon points="1042.5,170.6 1038.8,177.1 1046.2,177.1" fill="#000" stroke="none" stroke-width="1" />
<circle cx="1075.8" cy="184.1" r="3.1" fill="#00f"/>
<circle cx="1070.3" cy="194.8" r="3.1" fill="#00f"/>
<circle cx="1081.6" cy="202.3" r="3.1" fill="#00f"/>
<text x="955.6" y="242.8" font-size="18" text-anchor="start" fill="#000" textLength="31.8" lengthAdjust="spacingAndGlyphs"  >LPS</text>
<rect x="1006.8" y="235.6" width="5.3" height="2.2" fill="#000" stroke="none" stroke-width="1" />
<text x="1043.5" y="240.6" font-size="15" text-anchor="middle" fill="#000"   >+</text>
<text x="1077.4" y="240.6" font-size="15" text-anchor="middle" fill="#000"   >+</text>
<text x="929.2" y="228" font-size="15.3" text-anchor="start" fill="#000" textLength="144" lengthAdjust="spacingAndGlyphs" transform="rotate(-90 929.2 228)" >Area under the curve</text>
<circle cx="1110.6" cy="151.1" r="3.8" fill="#00f"/>
<g transform="translate(1119.2,145.6) rotate(-90)"><text x="0" y="0" font-size="16.8" font-style="italic" textLength="24.8" lengthAdjust="spacingAndGlyphs">NG</text><text x="27.2" y="-6.6" font-size="9.4" font-style="italic" textLength="43.9" lengthAdjust="spacingAndGlyphs">Trpa1KO</text></g>
<text x="1120" y="207.2" font-size="18" text-anchor="start" fill="#000" font-style="italic" textLength="27" lengthAdjust="spacingAndGlyphs" transform="rotate(-90 1120 207.2)" >Ctrl</text>
<polygon points="1114.6,213.4 1110.5,220.1 1118.6,220.1" fill="#000" stroke="none" stroke-width="1" />
<text x="98.7" y="315.8" font-size="15.5" text-anchor="start" fill="#000" textLength="87.3" lengthAdjust="spacingAndGlyphs"  >BALF TNF-α</text>
<text x="69.3" y="348.5" font-size="9.8" text-anchor="end" fill="#222" textLength="16.4" lengthAdjust="spacingAndGlyphs"  >800</text>
<line x1="72" y1="344.6" x2="84.5" y2="344.6" stroke="#000" stroke-width="2.2" />
<text x="69.3" y="383.4" font-size="9.8" text-anchor="end" fill="#222" textLength="16.4" lengthAdjust="spacingAndGlyphs"  >600</text>
<line x1="72" y1="379.5" x2="84.5" y2="379.5" stroke="#000" stroke-width="2.2" />
<text x="69.3" y="418.8" font-size="9.8" text-anchor="end" fill="#222" textLength="16.4" lengthAdjust="spacingAndGlyphs"  >400</text>
<line x1="72" y1="414.9" x2="84.5" y2="414.9" stroke="#000" stroke-width="2.2" />
<text x="69.3" y="454.1" font-size="9.8" text-anchor="end" fill="#222" textLength="16.4" lengthAdjust="spacingAndGlyphs"  >200</text>
<line x1="72" y1="450.2" x2="84.5" y2="450.2" stroke="#000" stroke-width="2.2" />
<text x="69.3" y="489" font-size="9.8" text-anchor="end" fill="#222" textLength="5" lengthAdjust="spacingAndGlyphs"  >0</text>
<line x1="72" y1="485.1" x2="84.5" y2="485.1" stroke="#000" stroke-width="2.2" />
<line x1="84.1" y1="344" x2="84.1" y2="486.2" stroke="#000" stroke-width="2.3" />
<line x1="71.8" y1="485.2" x2="198.2" y2="485.2" stroke="#000" stroke-width="2.2" />
<line x1="101.8" y1="485" x2="101.8" y2="496.5" stroke="#000" stroke-width="2.2" />
<line x1="128.8" y1="485" x2="128.8" y2="496.5" stroke="#000" stroke-width="2.2" />
<line x1="155.7" y1="485" x2="155.7" y2="496.5" stroke="#000" stroke-width="2.2" />
<line x1="182.9" y1="485" x2="182.9" y2="496.5" stroke="#000" stroke-width="2.2" />
<line x1="93.5" y1="485" x2="93.5" y2="487.5" stroke="#000" stroke-width="1.4" />
<line x1="110" y1="485" x2="110" y2="487.5" stroke="#000" stroke-width="1.4" />
<line x1="120.9" y1="485" x2="120.9" y2="487.5" stroke="#000" stroke-width="1.4" />
<line x1="137.3" y1="485" x2="137.3" y2="487.5" stroke="#000" stroke-width="1.4" />
<line x1="147.8" y1="485" x2="147.8" y2="487.5" stroke="#000" stroke-width="1.4" />
<line x1="164.2" y1="485" x2="164.2" y2="487.5" stroke="#000" stroke-width="1.4" />
<line x1="174.7" y1="485" x2="174.7" y2="487.5" stroke="#000" stroke-width="1.4" />
<line x1="191.1" y1="485" x2="191.1" y2="487.5" stroke="#000" stroke-width="1.4" />
<polyline points="94.6,485.2 94.6,466.4 109.4,466.4 109.4,485.2" fill="none" stroke="#000" stroke-width="2.2" stroke-linejoin="miter"/>
<polyline points="121.8,485.2 121.8,397.9 137,397.9 137,485.2" fill="none" stroke="#f00" stroke-width="2.4" stroke-linejoin="miter"/>
<polyline points="148.9,485.2 148.9,466.4 163.7,466.4 163.7,485.2" fill="none" stroke="#000" stroke-width="2.2" stroke-linejoin="miter"/>
<polyline points="175.7,485.2 175.7,427.5 190.9,427.5 190.9,485.2" fill="none" stroke="#00f" stroke-width="2.4" stroke-linejoin="miter"/>
<line x1="127.7" y1="347.3" x2="177.8" y2="347.3" stroke="#000" stroke-width="2.2" />
<text x="153.5" y="346.2" font-size="20" text-anchor="middle" fill="#000"   >*</text>
<line x1="128.9" y1="376.2" x2="128.9" y2="417.1" stroke="#000" stroke-width="2.2" />
<line x1="123.9" y1="376.2" x2="133.5" y2="376.2" stroke="#000" stroke-width="2.2" />
<line x1="123.9" y1="417.1" x2="133.5" y2="417.1" stroke="#000" stroke-width="2.2" />
<polygon points="128.9,352.2 125.8,357.6 132,357.6" fill="#000" stroke="none" stroke-width="1" />
<polygon points="123.5,392.3 120.4,397.7 126.6,397.7" fill="#000" stroke="none" stroke-width="1" />
<polygon points="134.1,392.3 131,397.7 137.2,397.7" fill="#000" stroke="none" stroke-width="1" />
<polygon points="128.9,398.1 125.8,403.5 132,403.5" fill="#000" stroke="none" stroke-width="1" />
<polygon points="129.3,403.3 126.2,408.7 132.4,408.7" fill="#000" stroke="none" stroke-width="1" />
<polygon points="127.7,407.1 124.6,412.5 130.8,412.5" fill="#000" stroke="none" stroke-width="1" />
<polygon points="130.8,415.8 127.7,421.2 133.9,421.2" fill="#000" stroke="none" stroke-width="1" />
<polygon points="96,462.4 93.7,466.4 98.3,466.4" fill="#000" stroke="none" stroke-width="1" />
<polygon points="99,462.4 96.7,466.4 101.3,466.4" fill="#000" stroke="none" stroke-width="1" />
<polygon points="102,462.4 99.7,466.4 104.3,466.4" fill="#000" stroke="none" stroke-width="1" />
<polygon points="105,462.4 102.7,466.4 107.3,466.4" fill="#000" stroke="none" stroke-width="1" />
<polygon points="108,462.4 105.7,466.4 110.3,466.4" fill="#000" stroke="none" stroke-width="1" />
<circle cx="150.5" cy="465" r="2.3" fill="#00f"/>
<circle cx="153.5" cy="466" r="2.3" fill="#00f"/>
<circle cx="156.5" cy="466.2" r="2.3" fill="#00f"/>
<circle cx="159.5" cy="466.5" r="2.3" fill="#00f"/>
<circle cx="162" cy="466.2" r="2.3" fill="#00f"/>
<circle cx="152" cy="467" r="2.3" fill="#00f"/>
<circle cx="158" cy="467.3" r="2.3" fill="#00f"/>
<line x1="182.8" y1="420" x2="182.8" y2="432" stroke="#00f" stroke-width="2.2" />
<line x1="178.4" y1="420" x2="187.1" y2="420" stroke="#00f" stroke-width="2.2" />
<line x1="178.4" y1="432" x2="187.1" y2="432" stroke="#00f" stroke-width="2.2" />
<circle cx="182.8" cy="417.1" r="2.6" fill="#00f"/>
<circle cx="176.5" cy="424.8" r="2.6" fill="#00f"/>
<circle cx="186.1" cy="427.7" r="2.6" fill="#00f"/>
<circle cx="189" cy="430.6" r="2.6" fill="#00f"/>
<circle cx="178" cy="426.5" r="2.6" fill="#00f"/>
<circle cx="184" cy="430" r="2.6" fill="#00f"/>
<text x="47.8" y="516.8" font-size="17.5" text-anchor="start" fill="#000" textLength="31.5" lengthAdjust="spacingAndGlyphs"  >LPS</text>
<rect x="94.1" y="510.7" width="3.8" height="1.9" fill="#000" stroke="none" stroke-width="1" />
<rect x="153.3" y="511" width="4.7" height="1.9" fill="#000" stroke="none" stroke-width="1" />
<text x="125.8" y="515.3" font-size="15.5" text-anchor="middle" fill="#000"   >+</text>
<text x="185.3" y="515.8" font-size="15.5" text-anchor="middle" fill="#000"   >+</text>
<text x="40.5" y="442.8" font-size="14" text-anchor="start" fill="#000" textLength="41.7" lengthAdjust="spacingAndGlyphs" transform="rotate(-90 40.5 442.8)" >pg/mL</text>
<rect x="287.3" y="336.4" width="124.2" height="129.9" fill="#fff" stroke="#a8a8a8" stroke-width="1" />
<text x="285.1" y="345.6" font-size="6.2" text-anchor="end" fill="#666"   >250K</text>
<line x1="285.5" y1="343.4" x2="287.3" y2="343.4" stroke="#999" stroke-width="0.6" />
<text x="285.1" y="370" font-size="6.2" text-anchor="end" fill="#666"   >200K</text>
<line x1="285.5" y1="367.8" x2="287.3" y2="367.8" stroke="#999" stroke-width="0.6" />
<text x="285.1" y="395.1" font-size="6.2" text-anchor="end" fill="#666"   >150K</text>
<line x1="285.5" y1="392.9" x2="287.3" y2="392.9" stroke="#999" stroke-width="0.6" />
<text x="285.1" y="419.2" font-size="6.2" text-anchor="end" fill="#666"   >100K</text>
<line x1="285.5" y1="417" x2="287.3" y2="417" stroke="#999" stroke-width="0.6" />
<text x="285.1" y="444.2" font-size="6.2" text-anchor="end" fill="#666"   >50K</text>
<line x1="285.5" y1="442" x2="287.3" y2="442" stroke="#999" stroke-width="0.6" />
<text x="285.1" y="466.7" font-size="6.2" text-anchor="end" fill="#666"   >0</text>
<line x1="285.5" y1="464.5" x2="287.3" y2="464.5" stroke="#999" stroke-width="0.6" />
<text x="296.7" y="474" font-size="6" fill="#666" text-anchor="middle">-10<tspan dy="-3" font-size="5">3</tspan></text>
<text x="314.5" y="474" font-size="6" text-anchor="middle" fill="#666"   >0</text>
<text x="338.3" y="474" font-size="6" fill="#666" text-anchor="middle">10<tspan dy="-3" font-size="5">3</tspan></text>
<text x="372.3" y="474" font-size="6" fill="#666" text-anchor="middle">10<tspan dy="-3" font-size="5">4</tspan></text>
<text x="402" y="474" font-size="6" fill="#666" text-anchor="middle">10<tspan dy="-3" font-size="5">5</tspan></text>
<line x1="296.7" y1="466.3" x2="296.7" y2="468.3" stroke="#999" stroke-width="0.6" />
<line x1="314.5" y1="466.3" x2="314.5" y2="468.3" stroke="#999" stroke-width="0.6" />
<line x1="338.3" y1="466.3" x2="338.3" y2="468.3" stroke="#999" stroke-width="0.6" />
<line x1="372.3" y1="466.3" x2="372.3" y2="468.3" stroke="#999" stroke-width="0.6" />
<line x1="402" y1="466.3" x2="402" y2="468.3" stroke="#999" stroke-width="0.6" />
<rect x="434" y="336.4" width="124.2" height="129.9" fill="#fff" stroke="#a8a8a8" stroke-width="1" />
<text x="431.8" y="345.6" font-size="6.2" text-anchor="end" fill="#666"   >250K</text>
<line x1="432.2" y1="343.4" x2="434" y2="343.4" stroke="#999" stroke-width="0.6" />
<text x="431.8" y="370" font-size="6.2" text-anchor="end" fill="#666"   >200K</text>
<line x1="432.2" y1="367.8" x2="434" y2="367.8" stroke="#999" stroke-width="0.6" />
<text x="431.8" y="395.1" font-size="6.2" text-anchor="end" fill="#666"   >150K</text>
<line x1="432.2" y1="392.9" x2="434" y2="392.9" stroke="#999" stroke-width="0.6" />
<text x="431.8" y="419.2" font-size="6.2" text-anchor="end" fill="#666"   >100K</text>
<line x1="432.2" y1="417" x2="434" y2="417" stroke="#999" stroke-width="0.6" />
<text x="431.8" y="444.2" font-size="6.2" text-anchor="end" fill="#666"   >50K</text>
<line x1="432.2" y1="442" x2="434" y2="442" stroke="#999" stroke-width="0.6" />
<text x="431.8" y="466.7" font-size="6.2" text-anchor="end" fill="#666"   >0</text>
<line x1="432.2" y1="464.5" x2="434" y2="464.5" stroke="#999" stroke-width="0.6" />
<text x="443.4" y="474" font-size="6" fill="#666" text-anchor="middle">-10<tspan dy="-3" font-size="5">3</tspan></text>
<text x="461.2" y="474" font-size="6" text-anchor="middle" fill="#666"   >0</text>
<text x="485" y="474" font-size="6" fill="#666" text-anchor="middle">10<tspan dy="-3" font-size="5">3</tspan></text>
<text x="519" y="474" font-size="6" fill="#666" text-anchor="middle">10<tspan dy="-3" font-size="5">4</tspan></text>
<text x="548.7" y="474" font-size="6" fill="#666" text-anchor="middle">10<tspan dy="-3" font-size="5">5</tspan></text>
<line x1="443.4" y1="466.3" x2="443.4" y2="468.3" stroke="#999" stroke-width="0.6" />
<line x1="461.2" y1="466.3" x2="461.2" y2="468.3" stroke="#999" stroke-width="0.6" />
<line x1="485" y1="466.3" x2="485" y2="468.3" stroke="#999" stroke-width="0.6" />
<line x1="519" y1="466.3" x2="519" y2="468.3" stroke="#999" stroke-width="0.6" />
<line x1="548.7" y1="466.3" x2="548.7" y2="468.3" stroke="#999" stroke-width="0.6" />
<rect x="581.3" y="336.4" width="124.2" height="129.9" fill="#fff" stroke="#a8a8a8" stroke-width="1" />
<text x="579.1" y="345.6" font-size="6.2" text-anchor="end" fill="#666"   >250K</text>
<line x1="579.5" y1="343.4" x2="581.3" y2="343.4" stroke="#999" stroke-width="0.6" />
<text x="579.1" y="370" font-size="6.2" text-anchor="end" fill="#666"   >200K</text>
<line x1="579.5" y1="367.8" x2="581.3" y2="367.8" stroke="#999" stroke-width="0.6" />
<text x="579.1" y="395.1" font-size="6.2" text-anchor="end" fill="#666"   >150K</text>
<line x1="579.5" y1="392.9" x2="581.3" y2="392.9" stroke="#999" stroke-width="0.6" />
<text x="579.1" y="419.2" font-size="6.2" text-anchor="end" fill="#666"   >100K</text>
<line x1="579.5" y1="417" x2="581.3" y2="417" stroke="#999" stroke-width="0.6" />
<text x="579.1" y="444.2" font-size="6.2" text-anchor="end" fill="#666"   >50K</text>
<line x1="579.5" y1="442" x2="581.3" y2="442" stroke="#999" stroke-width="0.6" />
<text x="579.1" y="466.7" font-size="6.2" text-anchor="end" fill="#666"   >0</text>
<line x1="579.5" y1="464.5" x2="581.3" y2="464.5" stroke="#999" stroke-width="0.6" />
<text x="590.7" y="474" font-size="6" fill="#666" text-anchor="middle">-10<tspan dy="-3" font-size="5">3</tspan></text>
<text x="608.5" y="474" font-size="6" text-anchor="middle" fill="#666"   >0</text>
<text x="632.3" y="474" font-size="6" fill="#666" text-anchor="middle">10<tspan dy="-3" font-size="5">3</tspan></text>
<text x="666.3" y="474" font-size="6" fill="#666" text-anchor="middle">10<tspan dy="-3" font-size="5">4</tspan></text>
<text x="696" y="474" font-size="6" fill="#666" text-anchor="middle">10<tspan dy="-3" font-size="5">5</tspan></text>
<line x1="590.7" y1="466.3" x2="590.7" y2="468.3" stroke="#999" stroke-width="0.6" />
<line x1="608.5" y1="466.3" x2="608.5" y2="468.3" stroke="#999" stroke-width="0.6" />
<line x1="632.3" y1="466.3" x2="632.3" y2="468.3" stroke="#999" stroke-width="0.6" />
<line x1="666.3" y1="466.3" x2="666.3" y2="468.3" stroke="#999" stroke-width="0.6" />
<line x1="696" y1="466.3" x2="696" y2="468.3" stroke="#999" stroke-width="0.6" />
<rect x="728.6" y="336.4" width="124.2" height="129.9" fill="#fff" stroke="#a8a8a8" stroke-width="1" />
<text x="726.4" y="345.6" font-size="6.2" text-anchor="end" fill="#666"   >250K</text>
<line x1="726.8" y1="343.4" x2="728.6" y2="343.4" stroke="#999" stroke-width="0.6" />
<text x="726.4" y="370" font-size="6.2" text-anchor="end" fill="#666"   >200K</text>
<line x1="726.8" y1="367.8" x2="728.6" y2="367.8" stroke="#999" stroke-width="0.6" />
<text x="726.4" y="395.1" font-size="6.2" text-anchor="end" fill="#666"   >150K</text>
<line x1="726.8" y1="392.9" x2="728.6" y2="392.9" stroke="#999" stroke-width="0.6" />
<text x="726.4" y="419.2" font-size="6.2" text-anchor="end" fill="#666"   >100K</text>
<line x1="726.8" y1="417" x2="728.6" y2="417" stroke="#999" stroke-width="0.6" />
<text x="726.4" y="444.2" font-size="6.2" text-anchor="end" fill="#666"   >50K</text>
<line x1="726.8" y1="442" x2="728.6" y2="442" stroke="#999" stroke-width="0.6" />
<text x="726.4" y="466.7" font-size="6.2" text-anchor="end" fill="#666"   >0</text>
<line x1="726.8" y1="464.5" x2="728.6" y2="464.5" stroke="#999" stroke-width="0.6" />
<text x="738" y="474" font-size="6" fill="#666" text-anchor="middle">-10<tspan dy="-3" font-size="5">3</tspan></text>
<text x="755.8" y="474" font-size="6" text-anchor="middle" fill="#666"   >0</text>
<text x="779.6" y="474" font-size="6" fill="#666" text-anchor="middle">10<tspan dy="-3" font-size="5">3</tspan></text>
<text x="813.6" y="474" font-size="6" fill="#666" text-anchor="middle">10<tspan dy="-3" font-size="5">4</tspan></text>
<text x="843.3" y="474" font-size="6" fill="#666" text-anchor="middle">10<tspan dy="-3" font-size="5">5</tspan></text>
<line x1="738" y1="466.3" x2="738" y2="468.3" stroke="#999" stroke-width="0.6" />
<line x1="755.8" y1="466.3" x2="755.8" y2="468.3" stroke="#999" stroke-width="0.6" />
<line x1="779.6" y1="466.3" x2="779.6" y2="468.3" stroke="#999" stroke-width="0.6" />
<line x1="813.6" y1="466.3" x2="813.6" y2="468.3" stroke="#999" stroke-width="0.6" />
<line x1="843.3" y1="466.3" x2="843.3" y2="468.3" stroke="#999" stroke-width="0.6" />
<path d="M331.1 430.1h1v1h-1zM330.2 406.6h1v1h-1zM333.5 431.8h1v1h-1zM328.4 406.4h1v1h-1zM325.2 430.7h1v1h-1zM334.5 409.8h1v1h-1zM334.4 431.9h1v1h-1zM340.6 414.3h1v1h-1zM332.7 413.7h1v1h-1zM328.4 409.6h1v1h-1zM329.4 418.5h1v1h-1zM321 443.3h1v1h-1zM331.6 415h1v1h-1zM327.1 422.4h1v1h-1zM338.1 417.7h1v1h-1zM322 423.4h1v1h-1zM335.1 416h1v1h-1zM324.8 427.8h1v1h-1zM335 428.8h1v1h-1zM329.9 432.8h1v1h-1zM337 426h1v1h-1zM339 407h1v1h-1zM331.8 412.7h1v1h-1zM326.6 410.5h1v1h-1zM322.4 422.7h1v1h-1zM320.5 430.3h1v1h-1zM326.5 423h1v1h-1zM327.5 421.7h1v1h-1zM338.3 438.1h1v1h-1zM327.2 440.4h1v1h-1zM332.5 446.3h1v1h-1zM346.5 436.4h1v1h-1zM331.6 414.9h1v1h-1zM322.2 419.3h1v1h-1zM345.4 412.1h1v1h-1zM332.5 414.4h1v1h-1zM329.2 419h1v1h-1zM340.9 425.4h1v1h-1zM335.8 433.5h1v1h-1zM337.9 410.8h1v1h-1zM334.5 418.1h1v1h-1zM324.7 424.2h1v1h-1zM336.7 414.7h1v1h-1zM328 445.7h1v1h-1zM336.9 428.2h1v1h-1zM337.1 428.2h1v1h-1zM327.7 414.5h1v1h-1zM321.5 438.9h1v1h-1zM322.4 421.1h1v1h-1zM319.8 417.4h1v1h-1zM319.7 419.7h1v1h-1zM317.6 433.7h1v1h-1zM325.8 424.6h1v1h-1zM339.7 410.3h1v1h-1zM343.3 409.3h1v1h-1zM318 441.3h1v1h-1zM321 413.9h1v1h-1zM343.4 411.7h1v1h-1zM319.7 418.2h1v1h-1zM322.8 431h1v1h-1zM327.5 432h1v1h-1zM339.3 422.8h1v1h-1zM330.5 440.5h1v1h-1zM335.8 421.1h1v1h-1zM336.7 429.2h1v1h-1zM324.3 427.6h1v1h-1zM329.4 412.3h1v1h-1zM341.6 426.6h1v1h-1zM336.8 418.5h1v1h-1zM339.8 425.8h1v1h-1zM341.4 417.2h1v1h-1zM341.7 405h1v1h-1zM324.7 430.9h1v1h-1zM343.8 419.6h1v1h-1zM329.2 435.3h1v1h-1zM323.5 421.7h1v1h-1zM320 446.3h1v1h-1zM338.1 428h1v1h-1zM326.9 436.9h1v1h-1zM342 415h1v1h-1zM343.5 422.1h1v1h-1zM337.9 428.8h1v1h-1zM332.7 404.5h1v1h-1zM329.6 413.7h1v1h-1zM335.2 415.2h1v1h-1zM339.2 426.8h1v1h-1zM329.4 413.4h1v1h-1zM327.2 429.1h1v1h-1zM328.1 419.2h1v1h-1zM331.6 435h1v1h-1zM321.1 420.9h1v1h-1zM336.6 414.4h1v1h-1zM340.8 420.2h1v1h-1zM330 415.8h1v1h-1zM326.3 416.6h1v1h-1zM321.8 422.5h1v1h-1zM325 437.5h1v1h-1zM331.1 433.8h1v1h-1zM315 434.2h1v1h-1zM325.8 410.1h1v1h-1zM329.8 434.5h1v1h-1zM334.3 441.3h1v1h-1zM336.6 419h1v1h-1zM328.5 417.5h1v1h-1zM323.2 427h1v1h-1zM317.8 441.2h1v1h-1zM327.7 432.6h1v1h-1zM332.1 408.7h1v1h-1zM337.6 416.2h1v1h-1zM338.2 423.3h1v1h-1zM337.5 403.6h1v1h-1zM331.3 416.2h1v1h-1zM326.7 432.8h1v1h-1zM337.3 441.8h1v1h-1zM322.9 422.2h1v1h-1zM332.4 408.7h1v1h-1zM340 421.3h1v1h-1zM332.5 415.8h1v1h-1zM344.9 419.3h1v1h-1zM333.5 433.7h1v1h-1zM324.2 441.7h1v1h-1zM329 415.4h1v1h-1zM336.3 427.1h1v1h-1zM338.2 419.3h1v1h-1zM333 408.8h1v1h-1zM340.7 427.1h1v1h-1zM337.7 421.5h1v1h-1zM339.3 429.6h1v1h-1zM338.6 422.3h1v1h-1zM338.6 444.1h1v1h-1zM333.8 436.8h1v1h-1zM329.9 439.2h1v1h-1zM338.4 420.1h1v1h-1zM321.5 435.5h1v1h-1zM332.1 405.5h1v1h-1zM326.2 421.5h1v1h-1zM337.4 420.4h1v1h-1zM331.4 432.7h1v1h-1zM333.4 428.5h1v1h-1zM329.3 414.7h1v1h-1zM322.2 444.2h1v1h-1zM333.3 413.3h1v1h-1zM326.8 445.1h1v1h-1zM339.2 407.4h1v1h-1zM342.8 411.9h1v1h-1zM344.8 417.8h1v1h-1zM319.8 424.4h1v1h-1zM327.6 416.3h1v1h-1zM328.4 409.8h1v1h-1zM321.2 441.7h1v1h-1zM337.3 427.6h1v1h-1zM342.2 421h1v1h-1zM336.4 417.5h1v1h-1zM331 412.7h1v1h-1zM339 423.9h1v1h-1zM327.4 440.4h1v1h-1zM325.8 439.2h1v1h-1zM325 416.5h1v1h-1zM336 418.5h1v1h-1zM323.9 428.1h1v1h-1zM326 430.5h1v1h-1zM326.7 442.7h1v1h-1zM327.4 433h1v1h-1zM328.9 417.4h1v1h-1zM324 430.7h1v1h-1zM320.4 433.7h1v1h-1zM317.8 444.1h1v1h-1zM323.5 424.7h1v1h-1zM324.1 431.1h1v1h-1zM346 423.1h1v1h-1zM338.1 418h1v1h-1zM336.2 412.4h1v1h-1zM319.2 439.7h1v1h-1zM327 432.1h1v1h-1zM336.7 430.9h1v1h-1zM327 417h1v1h-1zM323.2 425.7h1v1h-1zM325.9 427.9h1v1h-1zM324 419.4h1v1h-1zM338.7 416.5h1v1h-1zM333.2 414.3h1v1h-1zM344.3 429h1v1h-1zM343.4 414h1v1h-1zM334.1 413.5h1v1h-1zM327.9 429.7h1v1h-1zM334.3 427.5h1v1h-1zM326.2 421.7h1v1h-1zM327.4 434.7h1v1h-1zM321 437.2h1v1h-1zM337.2 425h1v1h-1zM320.4 426.8h1v1h-1zM325.2 431.5h1v1h-1zM321.4 446.9h1v1h-1zM326 421.2h1v1h-1zM335.1 435.6h1v1h-1zM323.8 430.3h1v1h-1zM323.6 429.6h1v1h-1zM335.6 419.5h1v1h-1zM326.8 420.8h1v1h-1zM337.9 422h1v1h-1zM325.5 430.7h1v1h-1zM336.8 424.2h1v1h-1zM339.6 425.8h1v1h-1zM337.4 415.7h1v1h-1zM326.8 425.6h1v1h-1zM337.2 422.8h1v1h-1zM332.8 416.2h1v1h-1zM316.4 435.6h1v1h-1zM328.8 449.9h1v1h-1zM327.8 405.1h1v1h-1zM329 440.7h1v1h-1zM340.9 418.6h1v1h-1zM335.7 431.4h1v1h-1zM314.5 426.2h1v1h-1zM325.1 430h1v1h-1zM332 435.5h1v1h-1zM335.6 432.4h1v1h-1zM330.9 412.4h1v1h-1zM329.4 439.9h1v1h-1zM338.5 417.1h1v1h-1zM330.3 440.7h1v1h-1zM324.1 409.9h1v1h-1zM336.2 424.2h1v1h-1zM336.1 409.8h1v1h-1zM333.3 414.8h1v1h-1zM320.5 411.2h1v1h-1zM327.9 404.9h1v1h-1zM335.8 412.6h1v1h-1zM339.9 410.5h1v1h-1zM319.9 428.5h1v1h-1zM320.4 427h1v1h-1zM320.6 422.6h1v1h-1zM325.4 420h1v1h-1zM329.6 446.3h1v1h-1zM326.3 426.3h1v1h-1zM335.2 429.1h1v1h-1zM336.3 428.6h1v1h-1zM335.2 438.5h1v1h-1zM334 427.6h1v1h-1zM327.6 444.5h1v1h-1zM323.5 426h1v1h-1zM337.9 418.4h1v1h-1zM338.4 420.2h1v1h-1zM338 417.7h1v1h-1zM324.6 410.4h1v1h-1zM336.2 426.9h1v1h-1zM323.5 423.2h1v1h-1zM324.5 432.4h1v1h-1zM323.8 436.4h1v1h-1zM338.9 413h1v1h-1zM334.5 427h1v1h-1zM328.8 414.5h1v1h-1zM340.8 417.3h1v1h-1zM334.1 410.2h1v1h-1zM335.4 433.4h1v1h-1zM328.5 432.1h1v1h-1zM339.1 434.7h1v1h-1zM326.4 415.6h1v1h-1zM329.9 404.2h1v1h-1zM343.8 429.9h1v1h-1zM329.3 411.5h1v1h-1zM326.6 429.7h1v1h-1zM327.2 438h1v1h-1zM325 430h1v1h-1zM333.9 427.7h1v1h-1zM327.4 406.8h1v1h-1zM344.1 428.8h1v1h-1zM324.5 408.4h1v1h-1zM331 446.1h1v1h-1zM322.2 413.5h1v1h-1zM325.3 424.6h1v1h-1zM326.2 427.6h1v1h-1zM327.5 416.3h1v1h-1zM345 414.9h1v1h-1zM333 406.1h1v1h-1zM326.2 420.9h1v1h-1zM319.7 427.5h1v1h-1zM338.6 432.9h1v1h-1zM332.7 414.8h1v1h-1zM326.6 437.6h1v1h-1zM335.5 433.1h1v1h-1zM336.2 426.4h1v1h-1zM339.9 423.1h1v1h-1zM336.3 403.9h1v1h-1zM327.3 428.4h1v1h-1zM329.8 416h1v1h-1zM328.4 411.1h1v1h-1zM335 431.6h1v1h-1zM339.2 422.5h1v1h-1zM322.6 441.8h1v1h-1zM339.3 410.3h1v1h-1zM330 434.2h1v1h-1zM332.8 436.2h1v1h-1zM336.8 416.4h1v1h-1zM322.8 421.8h1v1h-1zM338.4 430.9h1v1h-1zM326 428.6h1v1h-1zM334.2 409.8h1v1h-1zM336.3 411.8h1v1h-1zM338.2 428h1v1h-1zM325.5 426.2h1v1h-1zM319.9 437.1h1v1h-1zM334 414.8h1v1h-1zM334.6 432.8h1v1h-1zM339.4 409.7h1v1h-1zM328.6 408.7h1v1h-1zM328.7 430.7h1v1h-1zM316.7 432.3h1v1h-1zM328.2 407.5h1v1h-1zM336.4 418.7h1v1h-1zM342.4 428.6h1v1h-1zM332.3 428.8h1v1h-1zM326.8 432.3h1v1h-1zM328.6 430.5h1v1h-1zM328.9 414.9h1v1h-1zM341 422.9h1v1h-1zM328.1 418.3h1v1h-1zM326.2 420.9h1v1h-1zM326.5 421.4h1v1h-1zM325.2 430.7h1v1h-1zM344.2 418.2h1v1h-1zM327.7 417.3h1v1h-1zM332 407.7h1v1h-1zM322.6 422.6h1v1h-1zM329.3 437.6h1v1h-1zM335 431h1v1h-1zM342.9 420.3h1v1h-1zM319.5 436h1v1h-1zM324.3 427.7h1v1h-1zM317.5 438h1v1h-1zM317.4 438.3h1v1h-1zM321.4 432.4h1v1h-1zM338.6 428.2h1v1h-1zM328 416.7h1v1h-1zM330.4 451.5h1v1h-1zM336.9 426.3h1v1h-1zM324.4 415.3h1v1h-1zM330.2 432.5h1v1h-1zM326.6 409.2h1v1h-1zM338.7 418.9h1v1h-1zM335.2 427.6h1v1h-1zM334.9 429.9h1v1h-1zM328 436.2h1v1h-1zM336.7 419.1h1v1h-1zM326.8 421.8h1v1h-1zM337 424.3h1v1h-1zM321.1 432.4h1v1h-1zM329.6 409.3h1v1h-1zM331.1 407.1h1v1h-1zM328.6 436.3h1v1h-1zM338.7 426h1v1h-1zM322.8 422.1h1v1h-1zM327.9 435.4h1v1h-1zM321 445.1h1v1h-1zM332 411.1h1v1h-1zM337.8 403.8h1v1h-1zM327.3 436.1h1v1h-1zM338.8 406.2h1v1h-1zM329 440.7h1v1h-1zM335.8 406.6h1v1h-1zM342.3 427.5h1v1h-1zM322.3 435h1v1h-1zM342.3 415.2h1v1h-1zM333.4 402.4h1v1h-1zM325.1 433.1h1v1h-1zM335.1 428.4h1v1h-1zM337.8 422.5h1v1h-1zM337.6 422.4h1v1h-1zM337.3 415.4h1v1h-1zM340.4 422h1v1h-1zM323.4 447.9h1v1h-1zM319.6 423.9h1v1h-1zM322.9 440.2h1v1h-1zM335.3 427.8h1v1h-1zM322.1 425.7h1v1h-1zM331.1 433.4h1v1h-1zM320.7 423.1h1v1h-1zM336.5 414.5h1v1h-1zM337.8 403.6h1v1h-1zM329.2 416.7h1v1h-1zM330.9 407.9h1v1h-1zM319.5 434.7h1v1h-1zM326 437.6h1v1h-1zM328.2 435.7h1v1h-1zM330.6 411.6h1v1h-1zM334.6 436.3h1v1h-1zM329.2 414.6h1v1h-1zM335.3 413.2h1v1h-1zM327.9 434.8h1v1h-1zM341.5 418.4h1v1h-1zM344.9 428.4h1v1h-1zM322.1 420.9h1v1h-1zM327.4 418.7h1v1h-1zM345.4 412.6h1v1h-1zM329.1 433.5h1v1h-1zM339.4 413.1h1v1h-1zM318.8 438.8h1v1h-1zM340.2 422.6h1v1h-1zM324.5 427.1h1v1h-1zM322.8 430.5h1v1h-1zM324.6 439.1h1v1h-1zM323 417.8h1v1h-1zM340.7 423h1v1h-1zM333 432.7h1v1h-1zM327 436.1h1v1h-1zM333.7 408.7h1v1h-1zM344.7 414.5h1v1h-1zM344.1 416.8h1v1h-1zM334.6 417h1v1h-1zM327.5 430.6h1v1h-1zM332.6 411.7h1v1h-1zM335 411.5h1v1h-1zM322.6 429.8h1v1h-1zM336.6 424.5h1v1h-1zM323.4 428.4h1v1h-1zM348.7 423.3h1v1h-1zM330.4 409.8h1v1h-1zM332.8 409.9h1v1h-1zM324.9 423.7h1v1h-1zM339.3 422.3h1v1h-1zM338.9 414.4h1v1h-1zM323.4 426.1h1v1h-1zM325.7 434.7h1v1h-1zM330.5 446.9h1v1h-1zM324.6 425.9h1v1h-1zM330.6 415.2h1v1h-1zM327.1 419.6h1v1h-1zM325.6 410.8h1v1h-1zM334.9 430.7h1v1h-1zM342.5 426.6h1v1h-1zM335.1 440.2h1v1h-1zM322.5 424.8h1v1h-1zM323.3 424.5h1v1h-1zM340.8 411h1v1h-1zM327.1 427.7h1v1h-1zM336.1 421.6h1v1h-1zM339.2 421.9h1v1h-1zM339.7 423.9h1v1h-1zM332 404.5h1v1h-1zM315.8 441.4h1v1h-1zM344.5 414.6h1v1h-1zM326.6 427.5h1v1h-1zM335.8 424.3h1v1h-1zM327.1 412.3h1v1h-1zM336.3 422.3h1v1h-1zM325 431h1v1h-1zM330.7 432.7h1v1h-1zM334.6 413.1h1v1h-1zM337.2 412.2h1v1h-1zM332.2 413.3h1v1h-1zM332.1 411.2h1v1h-1zM330.3 413.8h1v1h-1zM339.3 406.7h1v1h-1zM339.1 423.7h1v1h-1zM324.6 423.7h1v1h-1zM321 425.3h1v1h-1zM337.1 428.1h1v1h-1zM333.2 431.2h1v1h-1zM336.4 416.2h1v1h-1zM337.5 439.6h1v1h-1zM332.9 435.5h1v1h-1zM335.3 417.1h1v1h-1zM334 431.7h1v1h-1zM331.1 414.1h1v1h-1zM326.9 414.3h1v1h-1zM324.9 442.4h1v1h-1zM336.7 404.2h1v1h-1zM317.4 433.1h1v1h-1zM335.9 421.8h1v1h-1zM327 426.2h1v1h-1zM321.5 415.4h1v1h-1zM329.4 436.6h1v1h-1zM332.8 440.2h1v1h-1zM332.3 407h1v1h-1zM336.6 405.7h1v1h-1zM320.4 433.1h1v1h-1zM337.2 418.5h1v1h-1zM325.6 417.1h1v1h-1zM332.1 413.1h1v1h-1zM332.9 431.4h1v1h-1zM336.7 411.2h1v1h-1zM345.4 422.5h1v1h-1zM339.4 436.2h1v1h-1zM330.5 415.6h1v1h-1zM331.9 412.5h1v1h-1zM327.8 415.8h1v1h-1zM332.7 407.7h1v1h-1zM343.8 416.3h1v1h-1zM332.3 414.7h1v1h-1zM326.3 423.6h1v1h-1zM332.3 446.8h1v1h-1zM341.4 416.9h1v1h-1zM334.8 425.3h1v1h-1zM327.8 442.8h1v1h-1zM327.3 429.8h1v1h-1zM338.4 429.2h1v1h-1zM335.8 402.5h1v1h-1zM320.7 416.4h1v1h-1zM324.7 433.9h1v1h-1zM331.9 430.4h1v1h-1zM342.4 432h1v1h-1zM325.5 433.6h1v1h-1zM341.2 414.3h1v1h-1zM324.5 419.3h1v1h-1zM338.4 425.9h1v1h-1zM321.1 426.7h1v1h-1zM324.9 426.7h1v1h-1zM330.4 433.2h1v1h-1zM337.7 428.2h1v1h-1zM321.3 429.3h1v1h-1zM322.6 442.9h1v1h-1zM333.4 433.1h1v1h-1zM336.4 427.5h1v1h-1zM327.7 435.2h1v1h-1zM336.6 411.6h1v1h-1zM338.7 423.8h1v1h-1zM345.8 424.4h1v1h-1zM316.4 431.6h1v1h-1zM342.9 428h1v1h-1zM326.6 439.9h1v1h-1zM331.3 434.2h1v1h-1zM327.3 417h1v1h-1zM334.3 414h1v1h-1zM325.4 415.6h1v1h-1zM335.6 411.9h1v1h-1zM336.4 430.6h1v1h-1zM339 425.7h1v1h-1zM336.6 415.5h1v1h-1zM335.4 429h1v1h-1zM322.7 430.4h1v1h-1zM332.7 430.8h1v1h-1zM333.9 412.3h1v1h-1zM325.1 442.7h1v1h-1zM339.1 414.7h1v1h-1zM320.6 418.7h1v1h-1zM325.1 409.3h1v1h-1zM320.9 437h1v1h-1zM322.8 442.9h1v1h-1zM319.8 436.3h1v1h-1zM324.1 441.1h1v1h-1zM327.7 414.7h1v1h-1zM326.2 431.2h1v1h-1zM332.2 437.4h1v1h-1zM339.9 418.3h1v1h-1zM317.6 434.6h1v1h-1zM319.3 427.8h1v1h-1zM324.1 433.2h1v1h-1zM331.7 436.8h1v1h-1zM334.2 410.5h1v1h-1zM337.9 420.4h1v1h-1zM326.2 432.5h1v1h-1zM326.5 434.7h1v1h-1zM325.3 438.4h1v1h-1zM325.4 424h1v1h-1zM328.7 431.5h1v1h-1zM339.9 407.9h1v1h-1zM333.5 428.4h1v1h-1zM335.2 410.4h1v1h-1zM341.3 409.3h1v1h-1zM340.2 417.5h1v1h-1zM320.3 422.4h1v1h-1zM334.8 416.6h1v1h-1zM327.8 430.9h1v1h-1zM319.4 439.1h1v1h-1zM329.4 438.1h1v1h-1zM323.3 433.2h1v1h-1zM323.8 446.5h1v1h-1zM339.3 436.2h1v1h-1zM326.6 425.8h1v1h-1zM322.3 420.3h1v1h-1zM331.4 443h1v1h-1zM332.1 442.7h1v1h-1zM334.3 426.8h1v1h-1zM331.3 434h1v1h-1zM324 431.6h1v1h-1zM328.9 435.9h1v1h-1zM329 419h1v1h-1zM333.5 431.3h1v1h-1zM330.4 433.4h1v1h-1zM327 433.8h1v1h-1zM336 425.1h1v1h-1zM327.5 451.6h1v1h-1zM329.7 430.9h1v1h-1zM320.3 429.5h1v1h-1zM333.9 410.7h1v1h-1zM339.2 409.5h1v1h-1zM322.9 430.2h1v1h-1zM339 434.8h1v1h-1zM327.1 422h1v1h-1zM328.5 437.2h1v1h-1zM337 426.2h1v1h-1zM347.2 417.1h1v1h-1zM328.6 415.8h1v1h-1zM316.2 452.4h1v1h-1zM328.5 418h1v1h-1zM324.2 453.2h1v1h-1zM335.2 425h1v1h-1zM336.8 417.8h1v1h-1zM325.5 419.7h1v1h-1zM324.7 421.2h1v1h-1zM327.7 422.3h1v1h-1zM320.6 427.6h1v1h-1zM320 450.6h1v1h-1zM334.4 442.6h1v1h-1zM324.5 421.2h1v1h-1zM330.1 445.1h1v1h-1zM335.7 434.3h1v1h-1zM319.3 426.9h1v1h-1zM328.1 419.9h1v1h-1zM330.6 419.5h1v1h-1zM324.3 452.3h1v1h-1zM326.3 449.2h1v1h-1zM337.3 424h1v1h-1zM328.1 422.7h1v1h-1zM332.2 443.7h1v1h-1zM335.6 415.4h1v1h-1zM318.8 430.7h1v1h-1zM322.5 448.5h1v1h-1zM318.1 443h1v1h-1zM329.4 421.8h1v1h-1zM327.4 457.6h1v1h-1zM336.1 426.7h1v1h-1zM320.2 428.2h1v1h-1zM326.2 419.4h1v1h-1zM318.6 444.4h1v1h-1zM320.6 450h1v1h-1zM316.3 437h1v1h-1zM323.9 448.6h1v1h-1zM335.8 422.8h1v1h-1zM324 424.3h1v1h-1zM319.4 433.6h1v1h-1zM316.4 444.3h1v1h-1zM321.2 450h1v1h-1zM321.6 454.7h1v1h-1zM314.5 448.4h1v1h-1zM324.1 449.7h1v1h-1zM321 453.8h1v1h-1zM335 427.5h1v1h-1zM317.3 450.4h1v1h-1zM323.2 422.7h1v1h-1zM328.7 449.7h1v1h-1zM327.3 417.3h1v1h-1zM337.8 440.7h1v1h-1zM319.1 435.9h1v1h-1zM319.9 452.2h1v1h-1zM332.9 419.4h1v1h-1zM331.8 418.2h1v1h-1zM322.4 425.7h1v1h-1zM332.5 449.2h1v1h-1zM329.9 415.1h1v1h-1zM320.9 454.7h1v1h-1zM334.5 417.9h1v1h-1zM324 422.9h1v1h-1zM335.5 426.4h1v1h-1zM328.4 448.8h1v1h-1zM322.8 420h1v1h-1zM328.3 414.6h1v1h-1zM321.4 448h1v1h-1zM317.3 442.6h1v1h-1zM325.2 452.7h1v1h-1zM335.6 423.3h1v1h-1zM333.6 439.5h1v1h-1zM324.5 423.7h1v1h-1zM331.2 419.4h1v1h-1zM317.8 440.3h1v1h-1zM322.7 424.3h1v1h-1zM337.1 429.7h1v1h-1zM333.6 414.1h1v1h-1zM331.4 449h1v1h-1zM330.2 450.7h1v1h-1zM318.8 442.5h1v1h-1zM332.7 444.1h1v1h-1zM321.1 423.7h1v1h-1zM336.6 438.6h1v1h-1zM321.4 425.5h1v1h-1zM334.7 429.1h1v1h-1zM329.5 446.4h1v1h-1zM319.7 447.4h1v1h-1zM322.4 427.2h1v1h-1zM321.6 427.7h1v1h-1zM333.9 420.8h1v1h-1zM326.7 452.3h1v1h-1zM323.6 455.4h1v1h-1zM327.2 418.6h1v1h-1zM319.6 431.2h1v1h-1zM335.2 427.3h1v1h-1zM318.9 449.8h1v1h-1zM325.9 423h1v1h-1zM338.3 422.6h1v1h-1zM338.3 430.3h1v1h-1zM326.2 421h1v1h-1zM335.3 431.1h1v1h-1zM315.7 437.1h1v1h-1zM318.7 437.3h1v1h-1zM327.3 450.8h1v1h-1zM317.5 440.2h1v1h-1zM323.1 420.7h1v1h-1zM335.9 425.1h1v1h-1zM335.6 427.1h1v1h-1zM325.4 450.3h1v1h-1zM323.8 423.8h1v1h-1zM333.9 423.4h1v1h-1zM331.1 442.5h1v1h-1zM335.5 417.3h1v1h-1zM329.8 452.9h1v1h-1zM317.7 452.8h1v1h-1zM330.1 445.3h1v1h-1zM335.2 423.7h1v1h-1zM326.1 419.6h1v1h-1zM320.5 451.7h1v1h-1zM316.4 453.9h1v1h-1zM335.4 448.9h1v1h-1zM322.5 425.9h1v1h-1zM334.4 439.8h1v1h-1zM338 426h1v1h-1zM329.7 448.2h1v1h-1zM335.9 444h1v1h-1zM321 428.3h1v1h-1zM329.5 448.4h1v1h-1zM329 419.1h1v1h-1zM329.7 419.9h1v1h-1zM329.6 451.7h1v1h-1zM323.1 426.4h1v1h-1zM337.6 418.5h1v1h-1zM318.3 449.1h1v1h-1zM317.7 431.4h1v1h-1zM321.6 452.3h1v1h-1zM333.9 436h1v1h-1zM331.8 419.4h1v1h-1zM337 433.9h1v1h-1zM322.3 420.5h1v1h-1zM331.6 420.2h1v1h-1zM336.7 432.6h1v1h-1zM336.2 429.8h1v1h-1zM336.4 417.7h1v1h-1zM323.9 424.5h1v1h-1zM324.7 452h1v1h-1zM329.3 447.3h1v1h-1zM315.7 437.4h1v1h-1zM323.7 418.7h1v1h-1zM318.1 433.3h1v1h-1zM333.9 446.8h1v1h-1zM315.2 447h1v1h-1zM327.6 454.9h1v1h-1zM317.1 448.1h1v1h-1zM318.1 446.1h1v1h-1zM325.3 450.9h1v1h-1zM331.4 444.5h1v1h-1zM321.5 448h1v1h-1zM332.9 422.3h1v1h-1zM327.8 447.9h1v1h-1zM327.8 450.1h1v1h-1zM333.3 419.4h1v1h-1zM319.7 426.4h1v1h-1zM337.6 431.9h1v1h-1zM332.2 445.6h1v1h-1zM323 456.7h1v1h-1zM335.7 435.4h1v1h-1zM319.4 457h1v1h-1zM321.4 430.9h1v1h-1zM323.2 453.9h1v1h-1zM325.4 420.8h1v1h-1zM322.5 454.3h1v1h-1zM324.2 450.1h1v1h-1zM331.8 446.7h1v1h-1zM317.3 445.5h1v1h-1zM319.3 434.5h1v1h-1zM317 434.4h1v1h-1zM339 416.2h1v1h-1zM322.7 420.2h1v1h-1zM317.1 451h1v1h-1zM319.5 455h1v1h-1zM324.1 450.7h1v1h-1zM318.1 427.2h1v1h-1zM318.9 448.8h1v1h-1zM322 424.8h1v1h-1zM333.8 449.8h1v1h-1zM334.9 433.1h1v1h-1zM315.9 456.3h1v1h-1zM332.2 446h1v1h-1zM319.5 450.7h1v1h-1zM336.4 421.8h1v1h-1zM320.1 431.3h1v1h-1zM322.1 427.5h1v1h-1zM318.5 448.2h1v1h-1zM329.4 421.1h1v1h-1zM328.6 447.2h1v1h-1zM319.8 431.7h1v1h-1zM319.7 430.9h1v1h-1zM336.7 432.4h1v1h-1zM336.5 412.7h1v1h-1zM315.2 447.6h1v1h-1zM335.4 427h1v1h-1zM319 449.7h1v1h-1zM335.1 437.6h1v1h-1zM333.9 416.9h1v1h-1zM317.6 438.9h1v1h-1zM319.3 433.2h1v1h-1zM338.8 421.6h1v1h-1zM335.2 416.3h1v1h-1zM326.4 450.2h1v1h-1zM316.1 452.9h1v1h-1zM315.7 446.2h1v1h-1zM334.3 439h1v1h-1zM330.4 449.7h1v1h-1zM326.7 417.6h1v1h-1zM337.7 430.8h1v1h-1zM318.2 440h1v1h-1zM320.2 428.3h1v1h-1zM317.3 446.3h1v1h-1zM338.5 434h1v1h-1zM327.1 422h1v1h-1zM333.3 438.5h1v1h-1zM319 435.4h1v1h-1zM336.6 416.6h1v1h-1zM336.8 421.6h1v1h-1zM333 416.7h1v1h-1zM335.8 439.2h1v1h-1zM334.3 426.9h1v1h-1zM318.1 442.5h1v1h-1zM329.1 451.7h1v1h-1zM338 429.6h1v1h-1zM335.1 443.5h1v1h-1zM318.1 447.8h1v1h-1zM322.6 451.8h1v1h-1zM324.7 419.3h1v1h-1zM318.4 431.7h1v1h-1zM323.6 422.9h1v1h-1zM331.5 415h1v1h-1zM316.6 447.5h1v1h-1zM326.9 449.4h1v1h-1zM330.6 417.9h1v1h-1zM331.9 443.7h1v1h-1zM336.9 431.2h1v1h-1zM339 427.4h1v1h-1zM336.6 442.1h1v1h-1zM321.4 429.1h1v1h-1z" fill="#1818f0"/>
<path d="M333.3 428.3h1v1h-1zM335.6 421.9h1v1h-1zM331.6 429.1h1v1h-1zM318.4 442.5h1v1h-1zM319.2 438.7h1v1h-1z" fill="#0018f0"/>
<path d="M331.3 417.6h1v1h-1zM331.7 416.1h1v1h-1zM330.8 418.1h1v1h-1zM335 422.1h1v1h-1zM332.3 416.7h1v1h-1zM335 423.1h1v1h-1zM329.9 418.7h1v1h-1zM330.6 417.5h1v1h-1zM327.4 427.2h1v1h-1zM332.8 416.1h1v1h-1zM334.5 422.7h1v1h-1zM333.7 418.2h1v1h-1zM327.7 429.8h1v1h-1zM332.9 416.6h1v1h-1zM334.5 420h1v1h-1zM331.3 429.3h1v1h-1zM334.2 418.9h1v1h-1zM326.8 424.8h1v1h-1zM327.4 430h1v1h-1zM334.4 423.9h1v1h-1zM332.3 416.5h1v1h-1zM326.5 427.4h1v1h-1zM335.2 421.3h1v1h-1zM332.2 428.6h1v1h-1zM326.8 425.9h1v1h-1zM330.6 430.2h1v1h-1zM326.7 427.2h1v1h-1zM325.6 449.3h1v1h-1zM333.8 425.8h1v1h-1zM334.7 426.3h1v1h-1zM333.5 436.3h1v1h-1zM330.6 442.7h1v1h-1zM332.3 440.4h1v1h-1zM318.6 445h1v1h-1zM322.2 429.2h1v1h-1zM333.7 426.8h1v1h-1zM327.9 422.6h1v1h-1zM321.2 433.3h1v1h-1zM323.6 428.1h1v1h-1zM322.7 447.3h1v1h-1zM331.2 420.5h1v1h-1zM320 447.1h1v1h-1zM333.4 427.4h1v1h-1zM332.3 423.3h1v1h-1zM318.5 438h1v1h-1zM319.4 440.7h1v1h-1zM331.9 423h1v1h-1zM333.8 428.4h1v1h-1zM331.7 443.1h1v1h-1zM322.5 428.4h1v1h-1zM334.1 435.3h1v1h-1zM328.6 447.1h1v1h-1zM330.3 445.1h1v1h-1zM319.3 438h1v1h-1zM328.6 445.1h1v1h-1zM320.5 444.9h1v1h-1zM319.4 441.3h1v1h-1zM319.2 435.7h1v1h-1zM319.9 434.5h1v1h-1zM320.4 443.9h1v1h-1zM319 440.1h1v1h-1zM321.6 428.7h1v1h-1zM334.6 431.2h1v1h-1zM331.9 423.9h1v1h-1zM331.3 441.7h1v1h-1zM322.1 448.8h1v1h-1zM333.7 426.1h1v1h-1zM324.1 450.3h1v1h-1zM320.6 437.1h1v1h-1zM334.6 436.7h1v1h-1zM319.8 443.7h1v1h-1zM333.2 437.8h1v1h-1zM321.1 445.6h1v1h-1zM321.4 431.3h1v1h-1zM335.1 431.3h1v1h-1zM334.4 424.7h1v1h-1zM318.8 443.7h1v1h-1zM323.2 426.4h1v1h-1zM322.3 447.8h1v1h-1zM319.1 443.7h1v1h-1zM334.1 436.7h1v1h-1zM322.5 429.1h1v1h-1zM327.6 422.5h1v1h-1zM320.1 437.3h1v1h-1zM321.7 448.1h1v1h-1zM327.2 447.6h1v1h-1zM332.9 422.6h1v1h-1zM322.2 429.8h1v1h-1zM324.5 446.8h1v1h-1zM332.5 422.4h1v1h-1zM325.7 447.3h1v1h-1zM333.7 427.5h1v1h-1zM329.2 422.1h1v1h-1zM332.6 440.5h1v1h-1zM325.2 448.1h1v1h-1zM324.8 424.9h1v1h-1zM319.1 442.5h1v1h-1zM324.6 449.7h1v1h-1z" fill="#0030f0"/>
<path d="M334.3 421.2h1v1h-1zM327.2 425.6h1v1h-1zM334.3 423.2h1v1h-1zM331.7 428h1v1h-1zM327.7 423.7h1v1h-1zM327.6 429h1v1h-1zM327.2 427.5h1v1h-1zM335 420.2h1v1h-1zM328 428.5h1v1h-1zM332.6 416.6h1v1h-1zM334.5 420.4h1v1h-1zM332.3 428.3h1v1h-1zM327.2 428.5h1v1h-1zM334.5 423.2h1v1h-1zM334.1 425.3h1v1h-1zM327.5 422.5h1v1h-1zM330.2 418.5h1v1h-1zM334.2 425.4h1v1h-1zM330.5 418.9h1v1h-1zM334 420.1h1v1h-1zM327.2 426.6h1v1h-1zM332 427.6h1v1h-1zM334.8 420.5h1v1h-1zM332.9 427.2h1v1h-1zM329.5 419.9h1v1h-1zM328.1 445.6h1v1h-1zM327.6 444.1h1v1h-1zM324.1 447.6h1v1h-1zM319.7 443h1v1h-1zM331.1 424.8h1v1h-1zM332.2 425.7h1v1h-1zM324.8 447.2h1v1h-1zM331.4 424.5h1v1h-1zM332.8 426.7h1v1h-1zM334.4 430.6h1v1h-1zM322.7 429.7h1v1h-1zM327.5 446.4h1v1h-1zM319.3 441.7h1v1h-1zM327.7 424.2h1v1h-1zM331.6 440.5h1v1h-1zM326.4 425.2h1v1h-1zM320.5 443h1v1h-1zM333.4 424.1h1v1h-1zM324.8 446.6h1v1h-1zM322 448.9h1v1h-1zM331 422.8h1v1h-1zM330.1 422.5h1v1h-1zM334.6 428.4h1v1h-1zM331 425.3h1v1h-1zM334.6 431.4h1v1h-1zM331.7 440.7h1v1h-1zM334.8 433.3h1v1h-1zM326.4 447h1v1h-1zM321 433.9h1v1h-1zM322.6 429.9h1v1h-1zM332.2 425h1v1h-1zM322.7 431.1h1v1h-1zM321.7 432.3h1v1h-1zM326.5 445.6h1v1h-1zM333.2 425.5h1v1h-1zM325.9 447.1h1v1h-1zM326.8 446.9h1v1h-1zM329.8 442.3h1v1h-1zM328.7 422.6h1v1h-1zM333.8 435.4h1v1h-1zM325.7 424.6h1v1h-1zM330.7 441h1v1h-1zM322.7 448.3h1v1h-1zM320.8 435.3h1v1h-1zM321.2 433.3h1v1h-1zM323.1 448.4h1v1h-1zM333.2 437.8h1v1h-1zM319.6 442.9h1v1h-1zM321.8 432.3h1v1h-1zM325.1 446.4h1v1h-1zM332.9 426.4h1v1h-1zM324.6 447.7h1v1h-1zM326.7 424h1v1h-1zM319.6 435.8h1v1h-1zM329.4 444h1v1h-1zM322.7 428.8h1v1h-1zM321.2 432h1v1h-1zM333.5 432.9h1v1h-1zM333.4 430.8h1v1h-1zM320.8 435.7h1v1h-1zM329.7 423.2h1v1h-1zM324.1 445.7h1v1h-1zM328.6 423.9h1v1h-1zM333 434.8h1v1h-1zM330.2 424.5h1v1h-1zM322.7 447.7h1v1h-1zM334 436.7h1v1h-1zM323.8 447.2h1v1h-1zM320.5 445.9h1v1h-1zM321.6 446.4h1v1h-1zM321.5 433.7h1v1h-1zM326.6 423.1h1v1h-1zM327.4 444.7h1v1h-1zM332.5 435.9h1v1h-1zM329.4 423.7h1v1h-1z" fill="#0048f0"/>
<path d="M332 428.2h1v1h-1zM328.7 421.5h1v1h-1zM329.1 428.8h1v1h-1zM329.1 420.7h1v1h-1zM328.8 421.8h1v1h-1zM328.3 428.6h1v1h-1zM332.1 418.5h1v1h-1zM333.9 419.9h1v1h-1zM334 419.2h1v1h-1zM334.5 419.6h1v1h-1zM332.5 426.8h1v1h-1zM329.9 428.5h1v1h-1zM328.8 421h1v1h-1zM331.5 417.8h1v1h-1zM328.4 422.3h1v1h-1zM330.6 429.3h1v1h-1zM320.5 440.8h1v1h-1zM333.6 429.4h1v1h-1zM321.7 435.2h1v1h-1zM320.8 439.6h1v1h-1zM322.1 445.7h1v1h-1zM321.5 441.3h1v1h-1zM321.3 434.9h1v1h-1zM321.3 435.2h1v1h-1zM326.9 444.4h1v1h-1zM333.8 427.9h1v1h-1zM329.5 424.4h1v1h-1zM324.3 428.8h1v1h-1zM323.4 445.7h1v1h-1zM333.7 431h1v1h-1zM325 428.4h1v1h-1zM333.5 431.2h1v1h-1zM333.9 431.2h1v1h-1zM328.6 424.6h1v1h-1zM323.1 447.1h1v1h-1zM330.2 424.6h1v1h-1zM323.8 445.5h1v1h-1zM333 429.6h1v1h-1zM331.8 427.1h1v1h-1zM332.1 438.1h1v1h-1zM329 426.3h1v1h-1zM326.2 446.3h1v1h-1zM322.3 434.5h1v1h-1zM328.9 425.2h1v1h-1zM322.2 430.1h1v1h-1zM324.4 427.9h1v1h-1zM321.7 442.4h1v1h-1zM333.6 434.6h1v1h-1zM330.4 424.4h1v1h-1zM320.7 438.7h1v1h-1zM321.5 441h1v1h-1zM333 433.7h1v1h-1zM328.2 426.3h1v1h-1zM321.6 443.7h1v1h-1zM331.3 426.7h1v1h-1zM323.6 446.1h1v1h-1zM321.6 436.5h1v1h-1zM333.4 426.7h1v1h-1zM326.4 427.5h1v1h-1zM332.5 433.3h1v1h-1zM328.2 443.8h1v1h-1zM330.7 424.3h1v1h-1zM333.2 425.9h1v1h-1zM320.9 439.9h1v1h-1zM320.2 438.2h1v1h-1zM320.2 437.4h1v1h-1zM328 425.7h1v1h-1zM323.3 431.6h1v1h-1zM332.9 436h1v1h-1zM332 434h1v1h-1zM330.1 426.2h1v1h-1zM321.5 442.2h1v1h-1zM325 426.4h1v1h-1zM320.9 439h1v1h-1zM329.2 423.2h1v1h-1z" fill="#0060f0"/>
<path d="M328.2 422.2h1v1h-1zM330.2 419.8h1v1h-1zM329.5 419.5h1v1h-1zM328.5 422.5h1v1h-1zM323.1 432.9h1v1h-1zM326 446.4h1v1h-1zM332.2 437.6h1v1h-1zM323.1 431.2h1v1h-1zM332.7 432.5h1v1h-1zM328 444h1v1h-1zM327.3 427.2h1v1h-1zM323.5 430.7h1v1h-1zM330.9 441.3h1v1h-1zM322.9 443h1v1h-1zM331.1 440h1v1h-1zM331.8 430.5h1v1h-1zM324.4 443.8h1v1h-1zM331 424.5h1v1h-1zM332.7 427.2h1v1h-1zM333.4 434.7h1v1h-1zM331.9 431h1v1h-1zM322.2 432h1v1h-1zM322.1 441.2h1v1h-1zM323.9 446.5h1v1h-1zM322.6 431h1v1h-1zM331.3 438.5h1v1h-1zM330.2 441.1h1v1h-1zM332.1 430.3h1v1h-1zM321.7 444.9h1v1h-1z" fill="#0078f0"/>
<path d="M329.6 420.8h1v1h-1zM323.9 444.8h1v1h-1zM322.4 434.7h1v1h-1zM333.2 432.8h1v1h-1zM329.9 424.4h1v1h-1zM333.3 428.6h1v1h-1zM321.7 434.3h1v1h-1zM331.3 436.3h1v1h-1zM326.5 443.1h1v1h-1zM331.8 432.9h1v1h-1zM322.2 444.8h1v1h-1zM321.7 442.5h1v1h-1zM332.3 435.4h1v1h-1z" fill="#0078d8"/>
<path d="M325.4 433.5h1v1h-1zM332.6 426.3h1v1h-1zM328.1 425.5h1v1h-1zM333.9 422.5h1v1h-1zM329.8 428.9h1v1h-1zM342.9 420.3h1v1h-1zM328 423.3h1v1h-1zM332.2 427.1h1v1h-1zM333.8 422.6h1v1h-1zM332.3 418.9h1v1h-1zM328.9 426.5h1v1h-1zM327.1 445.1h1v1h-1zM321.8 434.2h1v1h-1zM330.9 425.7h1v1h-1zM326 427.2h1v1h-1zM322.4 439.4h1v1h-1zM326.8 443.1h1v1h-1zM325.5 443.4h1v1h-1zM331.6 432.2h1v1h-1zM328.7 427.5h1v1h-1zM324.9 445.7h1v1h-1zM322.4 435.5h1v1h-1zM327.4 427.3h1v1h-1zM332.2 427h1v1h-1zM330.4 425.6h1v1h-1zM329.8 440.7h1v1h-1zM332.4 427.2h1v1h-1zM321.9 440h1v1h-1zM320.8 439.2h1v1h-1zM323.3 444.8h1v1h-1zM331.4 436.4h1v1h-1zM321.1 437.5h1v1h-1zM329.3 440.9h1v1h-1zM323.8 430.8h1v1h-1zM327.7 426.7h1v1h-1zM322.8 432.5h1v1h-1zM330.8 429.3h1v1h-1zM322.4 438.6h1v1h-1zM325.2 429.4h1v1h-1zM328.9 440.6h1v1h-1zM332.1 433.5h1v1h-1zM330 427.5h1v1h-1zM321.9 443.6h1v1h-1zM325.7 428.3h1v1h-1zM321.2 441.8h1v1h-1z" fill="#0090d8"/>
<path d="M328.6 425h1v1h-1zM329.2 426.9h1v1h-1zM329.2 420.7h1v1h-1zM330.7 427.1h1v1h-1zM331.9 426.5h1v1h-1zM324.7 431.7h1v1h-1zM326.2 427.4h1v1h-1zM326.9 443.3h1v1h-1zM329.8 438.8h1v1h-1zM322.9 433h1v1h-1zM332.8 432.7h1v1h-1zM322.8 440.8h1v1h-1zM322.4 437.4h1v1h-1zM327.6 427.1h1v1h-1zM330.8 426.4h1v1h-1zM331.3 432.7h1v1h-1zM321.5 437.6h1v1h-1zM321.4 439.8h1v1h-1z" fill="#00a8d8"/>
<path d="M332.9 420.2h1v1h-1zM330.9 438.5h1v1h-1zM328.4 423.4h1v1h-1zM332.4 426.5h1v1h-1zM333.7 421.5h1v1h-1zM317.9 429.4h1v1h-1zM331.2 419.9h1v1h-1zM329.4 421.4h1v1h-1zM332 419.1h1v1h-1zM330.5 428.2h1v1h-1zM334.1 415.4h1v1h-1zM329.6 428.1h1v1h-1zM327 428.9h1v1h-1zM329.1 441.2h1v1h-1zM328.9 440.2h1v1h-1zM328.8 440.6h1v1h-1zM322.9 439.1h1v1h-1zM326.7 427.8h1v1h-1zM321.9 439.9h1v1h-1zM323 436.4h1v1h-1zM325 444.7h1v1h-1zM326.6 428.9h1v1h-1zM329.5 440.3h1v1h-1zM332.2 432.2h1v1h-1zM330.8 432h1v1h-1zM323.9 443.7h1v1h-1zM325.3 430.8h1v1h-1zM329.3 427.9h1v1h-1zM330.8 434.9h1v1h-1zM325.9 428.2h1v1h-1zM323.4 442.8h1v1h-1zM330.9 436.4h1v1h-1zM323 444.3h1v1h-1zM323.1 433.2h1v1h-1zM326.7 442.6h1v1h-1zM329.5 427.2h1v1h-1zM331 435.6h1v1h-1zM326.8 443.1h1v1h-1zM329.9 428.8h1v1h-1zM332.5 429.8h1v1h-1z" fill="#00a8c0"/>
<path d="M329.8 421.4h1v1h-1zM332.4 420.3h1v1h-1zM333 425.1h1v1h-1zM328.7 445.7h1v1h-1zM333.4 421.2h1v1h-1zM331.3 419.3h1v1h-1zM324.8 442.2h1v1h-1zM331.6 429.6h1v1h-1zM322.4 440.7h1v1h-1zM332.1 433.2h1v1h-1zM321.6 440.2h1v1h-1zM328.8 439.8h1v1h-1zM323.6 435.6h1v1h-1zM323.4 443.5h1v1h-1zM331.5 432.6h1v1h-1zM328.6 441.4h1v1h-1zM323.9 432.4h1v1h-1zM330.4 437.4h1v1h-1zM326.5 427.5h1v1h-1zM324.6 430.8h1v1h-1zM331.8 436.1h1v1h-1zM326 443h1v1h-1z" fill="#00c0c0"/>
<path d="M329.5 427h1v1h-1zM333.2 425.3h1v1h-1zM329.2 426.6h1v1h-1zM332.3 425.6h1v1h-1zM332.6 425.4h1v1h-1zM329.3 426.5h1v1h-1zM337.8 416.9h1v1h-1zM330.1 419.9h1v1h-1zM329 427.1h1v1h-1zM328 424.4h1v1h-1zM329 437.7h1v1h-1zM333.3 435.3h1v1h-1zM333 423.5h1v1h-1zM331.9 429.6h1v1h-1zM330.4 433.5h1v1h-1zM322.9 438.7h1v1h-1zM330.7 432.3h1v1h-1zM330.8 435.9h1v1h-1zM325 443.4h1v1h-1zM330.1 436.1h1v1h-1zM330.4 432h1v1h-1zM330.9 436.7h1v1h-1zM327.9 440.4h1v1h-1zM324.4 442.5h1v1h-1zM327.6 428.7h1v1h-1zM331.1 433.1h1v1h-1zM323.4 441h1v1h-1zM324 440.3h1v1h-1zM323.5 440.3h1v1h-1zM325.1 441.3h1v1h-1zM324.6 440.8h1v1h-1zM322.9 433.3h1v1h-1zM331.9 434h1v1h-1zM324.8 432.4h1v1h-1zM330.3 435.7h1v1h-1zM331.9 433.7h1v1h-1zM325.7 443.8h1v1h-1zM327.9 428.5h1v1h-1zM329.5 440.2h1v1h-1zM327.1 442.7h1v1h-1zM330.6 435.4h1v1h-1z" fill="#00c0a8"/>
<path d="M333.4 423.6h1v1h-1zM329.5 421.1h1v1h-1zM319.8 414.2h1v1h-1zM333.5 422.4h1v1h-1zM329.5 421.2h1v1h-1zM332.4 419.5h1v1h-1zM333.4 421.5h1v1h-1zM333.3 420.8h1v1h-1zM330.5 437.6h1v1h-1zM329.8 438.9h1v1h-1zM324.5 443.4h1v1h-1zM323.4 433.8h1v1h-1zM331.4 435.1h1v1h-1zM324.9 432.5h1v1h-1zM329.5 439.4h1v1h-1zM322.3 438.1h1v1h-1zM324.3 439.8h1v1h-1zM324.9 442.5h1v1h-1zM326.1 441.5h1v1h-1zM324 435.7h1v1h-1zM322.7 441.8h1v1h-1zM326.9 441.3h1v1h-1zM330.8 433.4h1v1h-1zM331.3 430.8h1v1h-1zM323.6 440h1v1h-1zM323.4 440.3h1v1h-1zM330.7 435.8h1v1h-1zM330.7 435.1h1v1h-1zM331.9 431.9h1v1h-1zM322.6 440.3h1v1h-1zM323.8 438.8h1v1h-1zM330.3 431.9h1v1h-1zM327.6 439.9h1v1h-1zM331.1 431.3h1v1h-1z" fill="#00c090"/>
<path d="M334.1 411.6h1v1h-1zM332.8 423.8h1v1h-1zM328.3 424.2h1v1h-1zM334.7 422.4h1v1h-1zM330.6 427h1v1h-1zM332.6 424.4h1v1h-1zM330.2 417.5h1v1h-1zM323.6 442.6h1v1h-1zM327.1 439.7h1v1h-1zM326.7 430.6h1v1h-1zM330.3 431.8h1v1h-1zM331.5 434.6h1v1h-1zM330.7 433.7h1v1h-1zM329.9 436.6h1v1h-1zM326.7 441h1v1h-1zM324.3 432.4h1v1h-1zM324.3 435.5h1v1h-1zM327.3 440.4h1v1h-1zM327.4 429.2h1v1h-1zM330 429.8h1v1h-1zM329.6 436.5h1v1h-1zM328 441.5h1v1h-1zM329.1 438.1h1v1h-1zM330.7 435.1h1v1h-1zM327.7 440.5h1v1h-1z" fill="#00c078"/>
<path d="M332.3 424.8h1v1h-1zM331.2 420.8h1v1h-1zM329.5 426.8h1v1h-1zM332.3 424.7h1v1h-1zM330.7 426h1v1h-1zM331 430.3h1v1h-1zM326.3 441.1h1v1h-1zM326.1 432.1h1v1h-1zM324.2 434.2h1v1h-1zM327 441.1h1v1h-1zM323.8 435.2h1v1h-1zM329.7 429.8h1v1h-1zM327.3 428.7h1v1h-1zM326.6 441h1v1h-1zM325.2 432.9h1v1h-1zM324.9 431.7h1v1h-1zM330.3 437.7h1v1h-1zM324.1 440.8h1v1h-1zM324.5 441.1h1v1h-1zM323.9 440.9h1v1h-1zM323.3 438.7h1v1h-1z" fill="#00c060"/>
<path d="M328.1 424.8h1v1h-1zM329.4 426.3h1v1h-1zM330.4 432.1h1v1h-1zM329.4 437.4h1v1h-1zM327 430.6h1v1h-1zM324.5 434.9h1v1h-1zM330.7 430.5h1v1h-1zM328.8 430.5h1v1h-1zM326.1 442.1h1v1h-1zM326.3 431.6h1v1h-1zM330.1 438h1v1h-1zM327.6 440.5h1v1h-1z" fill="#18c060"/>
<path d="M331 435.1h1v1h-1zM332.3 424.1h1v1h-1zM330.6 426h1v1h-1zM332.1 421.8h1v1h-1zM330.4 421.7h1v1h-1zM330.1 421.7h1v1h-1zM335.5 417.5h1v1h-1zM328.2 437.8h1v1h-1zM328.8 431.8h1v1h-1zM329.2 436.4h1v1h-1zM330.2 433.2h1v1h-1zM323.6 436h1v1h-1zM326.8 430.3h1v1h-1zM325.7 442h1v1h-1zM326.2 430.5h1v1h-1zM326.3 441.6h1v1h-1zM330 437.6h1v1h-1zM327.4 430.8h1v1h-1zM327.7 429.9h1v1h-1zM330 433.5h1v1h-1zM330.6 430.8h1v1h-1zM325.3 432.8h1v1h-1zM323.9 439.7h1v1h-1zM329.8 432.6h1v1h-1z" fill="#18c048"/>
<path d="M329.3 423.4h1v1h-1zM331.1 420.5h1v1h-1zM335.5 415.8h1v1h-1zM329.7 425.9h1v1h-1zM327 430.9h1v1h-1zM328 430.7h1v1h-1zM327.7 439.4h1v1h-1zM323.8 437h1v1h-1zM328.6 431.5h1v1h-1zM328.2 437.8h1v1h-1zM328 439.6h1v1h-1zM330.5 433.6h1v1h-1zM325.8 433.1h1v1h-1zM328.9 439.3h1v1h-1zM329.2 436.1h1v1h-1zM329 435.7h1v1h-1zM329.6 430.7h1v1h-1zM329.4 433.1h1v1h-1zM329.6 437.7h1v1h-1zM328.2 430.7h1v1h-1zM327.7 430.6h1v1h-1zM323.9 438.1h1v1h-1z" fill="#18c030"/>
<path d="M332.5 422.9h1v1h-1zM332 423.4h1v1h-1zM331.1 425.5h1v1h-1zM330.5 422.1h1v1h-1zM329.7 422.4h1v1h-1zM338.4 413.5h1v1h-1zM328.7 431.4h1v1h-1zM328.1 438.8h1v1h-1zM327.5 430.3h1v1h-1zM328.4 431.5h1v1h-1zM328.6 431.3h1v1h-1zM324.3 435.9h1v1h-1zM330 434.9h1v1h-1zM326.1 440.3h1v1h-1zM329.6 432.3h1v1h-1zM326 441.5h1v1h-1z" fill="#18c018"/>
<path d="M330.5 426.3h1v1h-1zM330.5 421.6h1v1h-1zM330.1 424.9h1v1h-1zM333.6 419.7h1v1h-1zM331.6 421.7h1v1h-1zM326 431.9h1v1h-1zM324.9 435.5h1v1h-1zM325.5 434.4h1v1h-1zM328.7 437.1h1v1h-1zM328.6 431.4h1v1h-1zM325.6 433.9h1v1h-1zM327.9 437.8h1v1h-1zM325.3 437.4h1v1h-1zM326.3 431.8h1v1h-1zM324.9 439.1h1v1h-1z" fill="#30c018"/>
<path d="M332.9 438.4h1v1h-1zM332.4 438.7h1v1h-1zM326.3 433.5h1v1h-1zM330.2 434.4h1v1h-1zM326.4 430.9h1v1h-1zM324.9 438.6h1v1h-1zM328.4 438.4h1v1h-1z" fill="#48c018"/>
<path d="M331.7 425.2h1v1h-1zM324 439.2h1v1h-1z" fill="#48d818"/>
<path d="M328.8 435.9h1v1h-1zM328.8 435.9h1v1h-1zM324.1 437.9h1v1h-1zM325.4 433.8h1v1h-1zM328.8 436.3h1v1h-1zM328.7 437.5h1v1h-1zM326.1 432.4h1v1h-1zM327.9 438.7h1v1h-1zM325.4 436.3h1v1h-1z" fill="#60d818"/>
<path d="M330.4 421.7h1v1h-1zM324.4 440.1h1v1h-1zM325.9 433.8h1v1h-1zM325.4 434.5h1v1h-1zM324.8 435.8h1v1h-1zM329.6 435.3h1v1h-1zM324.7 435.7h1v1h-1z" fill="#60d800"/>
<path d="M330.3 425.4h1v1h-1zM334 418.8h1v1h-1zM329.4 441.8h1v1h-1zM326.1 430.5h1v1h-1zM333.5 418.3h1v1h-1zM324.9 437.6h1v1h-1zM326.3 439.2h1v1h-1zM326.4 439.9h1v1h-1zM327.4 437.9h1v1h-1zM327.1 438.7h1v1h-1zM329.6 431.7h1v1h-1zM325.9 440.3h1v1h-1zM326.4 439.6h1v1h-1zM326.4 438.5h1v1h-1zM325.3 439.3h1v1h-1zM324.7 439.3h1v1h-1z" fill="#78d800"/>
<path d="M330.5 422.7h1v1h-1zM322 424.4h1v1h-1zM324.8 430.5h1v1h-1zM331.4 425.3h1v1h-1zM332.2 424h1v1h-1zM330.3 422h1v1h-1zM327.9 436.2h1v1h-1zM328.3 433.8h1v1h-1zM328.7 437.9h1v1h-1zM328.3 436.1h1v1h-1zM325.5 433.9h1v1h-1zM325.6 436.6h1v1h-1zM325.8 437.1h1v1h-1z" fill="#90d800"/>
<path d="M322.4 437.2h1v1h-1zM326.1 434.1h1v1h-1zM328.6 435.5h1v1h-1zM328.9 432.8h1v1h-1zM327.4 438.8h1v1h-1zM328.5 431.6h1v1h-1zM326.6 434.3h1v1h-1zM327.2 431.4h1v1h-1zM326.1 434.6h1v1h-1zM329.6 432.6h1v1h-1zM325.5 433.9h1v1h-1zM327.8 434h1v1h-1zM328.7 436.6h1v1h-1zM325.3 437.3h1v1h-1zM328 431.8h1v1h-1zM328.7 434.5h1v1h-1zM329.2 435.4h1v1h-1zM326.9 437.6h1v1h-1z" fill="#a8d800"/>
<path d="M331.1 422.7h1v1h-1zM331.7 424.1h1v1h-1zM332.9 420.8h1v1h-1zM331.3 424.1h1v1h-1zM319.5 448.1h1v1h-1zM330.9 422.5h1v1h-1zM331.5 424.5h1v1h-1zM331 422.5h1v1h-1zM325 438.2h1v1h-1zM327.2 438.6h1v1h-1zM327.3 437.7h1v1h-1zM327.7 432h1v1h-1zM327.5 438.6h1v1h-1zM327 433h1v1h-1z" fill="#c0d800"/>
<path d="M327.5 430.3h1v1h-1zM328 431.6h1v1h-1zM325.9 438.7h1v1h-1zM327.6 434.3h1v1h-1zM325.8 433.9h1v1h-1zM327.8 434.6h1v1h-1zM328.2 435.7h1v1h-1zM327.5 436.6h1v1h-1z" fill="#c0c000"/>
<path d="M331.9 422.5h1v1h-1zM333.6 420.9h1v1h-1zM325.2 439.2h1v1h-1zM335.2 416.6h1v1h-1zM343.5 422.1h1v1h-1zM326 438.3h1v1h-1zM325.3 435.9h1v1h-1zM327 437.4h1v1h-1zM325.3 434.9h1v1h-1zM328.4 435.7h1v1h-1zM326.5 432.9h1v1h-1zM328 437.8h1v1h-1zM325.6 436.4h1v1h-1zM326.7 434.8h1v1h-1zM326.9 438.9h1v1h-1zM327.7 432h1v1h-1zM328.7 432.6h1v1h-1zM328.2 434h1v1h-1z" fill="#d8c000"/>
<path d="M326.1 437.7h1v1h-1zM327.8 433.6h1v1h-1zM325.3 436h1v1h-1zM328 433.9h1v1h-1zM327.6 437.8h1v1h-1zM325.9 435.7h1v1h-1zM327 437h1v1h-1zM328.6 435.4h1v1h-1zM328.4 434.2h1v1h-1zM326.3 436.6h1v1h-1z" fill="#d8a800"/>
<path d="M327.4 436h1v1h-1zM327.7 434.6h1v1h-1z" fill="#f0a800"/>
<path d="M331.2 424h1v1h-1zM331 424.4h1v1h-1zM330.5 424.2h1v1h-1zM327.2 433.7h1v1h-1zM327 437.4h1v1h-1zM326.4 433.7h1v1h-1zM325.9 434.7h1v1h-1zM328.1 434.1h1v1h-1zM327.4 433.5h1v1h-1zM328.3 436h1v1h-1z" fill="#f09000"/>
<path d="M323.9 434.5h1v1h-1zM327.1 435h1v1h-1zM328 434.2h1v1h-1zM326.4 434.9h1v1h-1zM326.8 437h1v1h-1zM328.1 435.5h1v1h-1zM327.2 435.9h1v1h-1zM327.4 434.2h1v1h-1zM326.2 435.8h1v1h-1z" fill="#f07800"/>
<path d="M321.6 442.6h1v1h-1zM332.7 424.7h1v1h-1zM328.9 416.2h1v1h-1zM330.8 424h1v1h-1zM329 406.9h1v1h-1zM327.1 436.5h1v1h-1zM326.6 435.2h1v1h-1zM326.8 437h1v1h-1z" fill="#f06000"/>
<path d="M327.8 433.9h1v1h-1zM327.2 434h1v1h-1z" fill="#f04800"/>
<path d="M330.8 423.2h1v1h-1zM330.8 423.5h1v1h-1zM326.5 436.5h1v1h-1z" fill="#f03000"/>
<path d="M327.2 434.8h1v1h-1z" fill="#f01800"/>
<path d="M472.7 419.6h0.8v0.8h-0.8zM466.8 435.3h0.8v0.8h-0.8zM478.5 439.2h0.8v0.8h-0.8zM473.6 427.4h0.8v0.8h-0.8zM469.7 437.3h0.8v0.8h-0.8zM478.9 440.8h0.8v0.8h-0.8zM465.3 431.9h0.8v0.8h-0.8zM461.7 440h0.8v0.8h-0.8zM478.8 437.8h0.8v0.8h-0.8zM489.6 421.5h0.8v0.8h-0.8zM468.6 439h0.8v0.8h-0.8zM484.9 434.1h0.8v0.8h-0.8zM482.4 420.3h0.8v0.8h-0.8zM466.8 425.5h0.8v0.8h-0.8zM479 434.4h0.8v0.8h-0.8zM473.5 422.1h0.8v0.8h-0.8zM472.6 427.4h0.8v0.8h-0.8zM467.4 442.9h0.8v0.8h-0.8zM478.4 434.9h0.8v0.8h-0.8zM463.3 437.9h0.8v0.8h-0.8zM479.4 422.9h0.8v0.8h-0.8zM486.5 420.5h0.8v0.8h-0.8zM482.5 428.2h0.8v0.8h-0.8zM477.3 424h0.8v0.8h-0.8zM477.4 439.1h0.8v0.8h-0.8zM471.7 412.7h0.8v0.8h-0.8zM481.1 418.6h0.8v0.8h-0.8zM465.7 449h0.8v0.8h-0.8zM472.7 435.6h0.8v0.8h-0.8zM483.3 420.5h0.8v0.8h-0.8zM485.8 433.8h0.8v0.8h-0.8zM465.5 412.2h0.8v0.8h-0.8zM472 436.7h0.8v0.8h-0.8zM479.9 420.3h0.8v0.8h-0.8zM483.9 427.3h0.8v0.8h-0.8zM488.5 429.7h0.8v0.8h-0.8zM487 426.6h0.8v0.8h-0.8zM492 423.6h0.8v0.8h-0.8zM490.2 428h0.8v0.8h-0.8zM463.3 444.2h0.8v0.8h-0.8zM472.8 423h0.8v0.8h-0.8zM471.7 434.7h0.8v0.8h-0.8zM476 421.1h0.8v0.8h-0.8zM476.7 419.9h0.8v0.8h-0.8zM481.6 432.6h0.8v0.8h-0.8zM480.2 441.8h0.8v0.8h-0.8zM462.2 432.4h0.8v0.8h-0.8zM467.2 427.9h0.8v0.8h-0.8zM460.9 437.4h0.8v0.8h-0.8zM466.3 432.7h0.8v0.8h-0.8zM482.6 445h0.8v0.8h-0.8zM469.4 432.7h0.8v0.8h-0.8zM482 429.5h0.8v0.8h-0.8zM470.9 416.3h0.8v0.8h-0.8zM477.8 443.5h0.8v0.8h-0.8zM483.5 432h0.8v0.8h-0.8zM472 420.1h0.8v0.8h-0.8zM466.7 445.8h0.8v0.8h-0.8zM468.6 415.3h0.8v0.8h-0.8zM482 435.4h0.8v0.8h-0.8zM474 419.8h0.8v0.8h-0.8zM482.1 432.4h0.8v0.8h-0.8zM467.7 431.2h0.8v0.8h-0.8zM481 432h0.8v0.8h-0.8zM463 427.9h0.8v0.8h-0.8zM485.7 441h0.8v0.8h-0.8zM490.5 416.1h0.8v0.8h-0.8zM474.4 411h0.8v0.8h-0.8zM488.8 434.6h0.8v0.8h-0.8zM487.6 411.3h0.8v0.8h-0.8zM491.5 436.5h0.8v0.8h-0.8zM473.1 414.2h0.8v0.8h-0.8zM482.9 423.2h0.8v0.8h-0.8zM487.3 435h0.8v0.8h-0.8zM482.5 430.5h0.8v0.8h-0.8zM477 417h0.8v0.8h-0.8zM478.4 441.5h0.8v0.8h-0.8zM468.2 437.5h0.8v0.8h-0.8zM469.7 423.2h0.8v0.8h-0.8zM478.5 433.9h0.8v0.8h-0.8zM485.4 434.6h0.8v0.8h-0.8zM466.6 425.1h0.8v0.8h-0.8zM466.4 436.8h0.8v0.8h-0.8zM459 431.8h0.8v0.8h-0.8zM488.7 416.6h0.8v0.8h-0.8zM474.5 438.8h0.8v0.8h-0.8zM463.4 441.3h0.8v0.8h-0.8zM487.6 421.7h0.8v0.8h-0.8zM475.2 443.9h0.8v0.8h-0.8zM477 435.5h0.8v0.8h-0.8zM474.5 436h0.8v0.8h-0.8zM479.9 423.1h0.8v0.8h-0.8zM471.5 428.9h0.8v0.8h-0.8zM483.2 436.1h0.8v0.8h-0.8zM471.9 440.9h0.8v0.8h-0.8zM466.8 441.3h0.8v0.8h-0.8zM475.8 439.4h0.8v0.8h-0.8zM482.1 454.2h0.8v0.8h-0.8zM478.6 436.6h0.8v0.8h-0.8zM489.2 418h0.8v0.8h-0.8zM479.1 444.1h0.8v0.8h-0.8zM479.3 436.4h0.8v0.8h-0.8zM479.9 432.4h0.8v0.8h-0.8zM462.7 425.7h0.8v0.8h-0.8zM462.1 426.7h0.8v0.8h-0.8zM474.5 444.2h0.8v0.8h-0.8zM482.7 415.6h0.8v0.8h-0.8zM469.5 433.8h0.8v0.8h-0.8zM470 412h0.8v0.8h-0.8zM488.8 434.3h0.8v0.8h-0.8zM475.6 441.6h0.8v0.8h-0.8zM477.6 439.9h0.8v0.8h-0.8zM477.3 441h0.8v0.8h-0.8zM472.7 420.9h0.8v0.8h-0.8zM466.5 426.2h0.8v0.8h-0.8zM480 432h0.8v0.8h-0.8zM480.2 412.7h0.8v0.8h-0.8zM483 433.6h0.8v0.8h-0.8zM489.3 423.1h0.8v0.8h-0.8zM466.8 438.4h0.8v0.8h-0.8zM476.2 440.5h0.8v0.8h-0.8zM490.5 434.1h0.8v0.8h-0.8zM485.1 444.3h0.8v0.8h-0.8zM470.8 434.9h0.8v0.8h-0.8zM489.2 434h0.8v0.8h-0.8zM484.9 440.5h0.8v0.8h-0.8zM483.1 426.1h0.8v0.8h-0.8zM486.5 410.9h0.8v0.8h-0.8zM477.4 446h0.8v0.8h-0.8zM465.9 427h0.8v0.8h-0.8zM469.7 432.5h0.8v0.8h-0.8zM470.8 435.9h0.8v0.8h-0.8zM486.1 435.1h0.8v0.8h-0.8zM488 415h0.8v0.8h-0.8zM463.6 427.4h0.8v0.8h-0.8zM471.9 421.3h0.8v0.8h-0.8zM484.8 437.6h0.8v0.8h-0.8zM482.4 418.9h0.8v0.8h-0.8zM477.6 424.3h0.8v0.8h-0.8zM485.3 427.5h0.8v0.8h-0.8zM481.3 415.5h0.8v0.8h-0.8zM481.4 429.8h0.8v0.8h-0.8zM468.2 423.7h0.8v0.8h-0.8zM467.9 429.3h0.8v0.8h-0.8zM468.9 430.9h0.8v0.8h-0.8zM476.4 435.2h0.8v0.8h-0.8zM484 416.2h0.8v0.8h-0.8zM484.1 430.9h0.8v0.8h-0.8zM480.1 424.8h0.8v0.8h-0.8zM482.1 419.6h0.8v0.8h-0.8zM489.5 423.3h0.8v0.8h-0.8zM473.8 435.8h0.8v0.8h-0.8zM486.8 425.3h0.8v0.8h-0.8zM463.5 434.8h0.8v0.8h-0.8zM482.1 425.7h0.8v0.8h-0.8zM495.5 415.8h0.8v0.8h-0.8zM479.7 424.9h0.8v0.8h-0.8zM487.5 428.3h0.8v0.8h-0.8zM485.9 434h0.8v0.8h-0.8zM471.3 433.4h0.8v0.8h-0.8zM484.3 423.2h0.8v0.8h-0.8zM474.3 418.6h0.8v0.8h-0.8zM470.8 432.9h0.8v0.8h-0.8zM487.4 424.5h0.8v0.8h-0.8zM482.7 434.8h0.8v0.8h-0.8zM482.1 436.2h0.8v0.8h-0.8zM484.8 418.1h0.8v0.8h-0.8zM474.5 445.7h0.8v0.8h-0.8zM468.8 436.7h0.8v0.8h-0.8zM467.7 442.5h0.8v0.8h-0.8zM470.3 419.1h0.8v0.8h-0.8zM475.2 439.8h0.8v0.8h-0.8zM475.4 444.5h0.8v0.8h-0.8zM467.7 417.8h0.8v0.8h-0.8zM485.2 432.6h0.8v0.8h-0.8zM482.8 417.1h0.8v0.8h-0.8zM478.2 439.2h0.8v0.8h-0.8zM470.8 419.7h0.8v0.8h-0.8zM484 418.2h0.8v0.8h-0.8zM470.4 439.8h0.8v0.8h-0.8zM469.9 441.6h0.8v0.8h-0.8zM479.8 433h0.8v0.8h-0.8zM474 444.3h0.8v0.8h-0.8zM490.5 405.4h0.8v0.8h-0.8zM481.7 430.5h0.8v0.8h-0.8zM480 426.3h0.8v0.8h-0.8zM483.4 434.7h0.8v0.8h-0.8zM464.9 431h0.8v0.8h-0.8zM484.8 427.2h0.8v0.8h-0.8zM466.6 431.9h0.8v0.8h-0.8zM483.6 427.9h0.8v0.8h-0.8zM482.7 425.3h0.8v0.8h-0.8zM468.6 443h0.8v0.8h-0.8zM483.4 426.3h0.8v0.8h-0.8zM473.7 445.1h0.8v0.8h-0.8zM466.4 417.9h0.8v0.8h-0.8zM471.3 435.8h0.8v0.8h-0.8zM480.2 413.7h0.8v0.8h-0.8zM470 422.9h0.8v0.8h-0.8zM488.1 413.8h0.8v0.8h-0.8zM484.1 427h0.8v0.8h-0.8zM468.1 445.2h0.8v0.8h-0.8zM481.8 420h0.8v0.8h-0.8zM481.1 439.9h0.8v0.8h-0.8zM470.6 429.4h0.8v0.8h-0.8zM480 448.2h0.8v0.8h-0.8zM479.8 418.1h0.8v0.8h-0.8zM470.9 431.3h0.8v0.8h-0.8zM467 432.5h0.8v0.8h-0.8zM475.4 424.8h0.8v0.8h-0.8zM469.9 429.6h0.8v0.8h-0.8zM485.9 436.7h0.8v0.8h-0.8zM482.8 432.9h0.8v0.8h-0.8zM479.3 435.6h0.8v0.8h-0.8zM468 432.5h0.8v0.8h-0.8zM477.7 443.7h0.8v0.8h-0.8zM490.4 415.5h0.8v0.8h-0.8zM483 431.4h0.8v0.8h-0.8zM469.3 413.3h0.8v0.8h-0.8zM483.8 419.5h0.8v0.8h-0.8zM479.9 410.6h0.8v0.8h-0.8zM472.1 431.1h0.8v0.8h-0.8zM472.8 436.6h0.8v0.8h-0.8zM475 418.9h0.8v0.8h-0.8zM468.1 423.4h0.8v0.8h-0.8zM462.4 427.7h0.8v0.8h-0.8zM479.5 438.2h0.8v0.8h-0.8zM481.4 420.8h0.8v0.8h-0.8zM475.6 434h0.8v0.8h-0.8zM487.4 421.2h0.8v0.8h-0.8zM483.9 429.8h0.8v0.8h-0.8zM482 426h0.8v0.8h-0.8zM486.5 429.2h0.8v0.8h-0.8zM481.6 423.1h0.8v0.8h-0.8zM491.1 419.3h0.8v0.8h-0.8zM492.6 420.9h0.8v0.8h-0.8zM475.9 416.3h0.8v0.8h-0.8zM473.4 434.5h0.8v0.8h-0.8zM479 433.8h0.8v0.8h-0.8zM472.9 434.3h0.8v0.8h-0.8zM469.7 442.5h0.8v0.8h-0.8zM461.6 431.6h0.8v0.8h-0.8zM481.9 425.9h0.8v0.8h-0.8zM474.6 434.8h0.8v0.8h-0.8zM491.1 425.6h0.8v0.8h-0.8zM475.6 440.7h0.8v0.8h-0.8zM478.3 446.5h0.8v0.8h-0.8zM472.5 431.3h0.8v0.8h-0.8zM467.5 436.3h0.8v0.8h-0.8zM478.6 416h0.8v0.8h-0.8zM461.7 439h0.8v0.8h-0.8zM482.5 429.9h0.8v0.8h-0.8zM474.7 418.5h0.8v0.8h-0.8zM475.3 416.7h0.8v0.8h-0.8zM473.6 421.3h0.8v0.8h-0.8zM475.4 424.4h0.8v0.8h-0.8zM477.8 446.7h0.8v0.8h-0.8zM477 440.8h0.8v0.8h-0.8zM466.3 430.5h0.8v0.8h-0.8zM489.2 422.7h0.8v0.8h-0.8zM482.7 422.2h0.8v0.8h-0.8zM469.8 429.8h0.8v0.8h-0.8zM472.5 428.5h0.8v0.8h-0.8zM469.6 447.3h0.8v0.8h-0.8zM487.2 425h0.8v0.8h-0.8zM468.1 437.5h0.8v0.8h-0.8zM467 444.7h0.8v0.8h-0.8zM475.3 438h0.8v0.8h-0.8zM476.7 423.9h0.8v0.8h-0.8zM467.6 412.6h0.8v0.8h-0.8zM486.9 429.6h0.8v0.8h-0.8zM490.1 439.9h0.8v0.8h-0.8zM478.9 439.1h0.8v0.8h-0.8zM476.1 442.1h0.8v0.8h-0.8zM473 427.8h0.8v0.8h-0.8zM462.3 434.5h0.8v0.8h-0.8zM470.7 436.2h0.8v0.8h-0.8zM479 418.4h0.8v0.8h-0.8zM473.2 440.8h0.8v0.8h-0.8zM477.2 448.6h0.8v0.8h-0.8zM470.5 445.7h0.8v0.8h-0.8zM469.2 431.8h0.8v0.8h-0.8zM480.2 445.7h0.8v0.8h-0.8zM481.5 432.5h0.8v0.8h-0.8zM472.6 422.5h0.8v0.8h-0.8zM480.9 430.6h0.8v0.8h-0.8zM481.3 436.4h0.8v0.8h-0.8zM484.2 435.5h0.8v0.8h-0.8zM482.5 440.8h0.8v0.8h-0.8zM474.9 434.9h0.8v0.8h-0.8zM462.1 427.7h0.8v0.8h-0.8zM477.9 424.5h0.8v0.8h-0.8zM480.9 430.7h0.8v0.8h-0.8zM467.9 441.2h0.8v0.8h-0.8zM466.8 426.9h0.8v0.8h-0.8zM483.1 424.6h0.8v0.8h-0.8zM483.4 427.7h0.8v0.8h-0.8zM484.7 411.6h0.8v0.8h-0.8zM476.5 440.3h0.8v0.8h-0.8zM464.8 431.2h0.8v0.8h-0.8zM476.7 422.5h0.8v0.8h-0.8zM471.6 428.5h0.8v0.8h-0.8zM475.6 436.4h0.8v0.8h-0.8zM462.6 433.4h0.8v0.8h-0.8zM472.4 429.3h0.8v0.8h-0.8zM477.1 449.2h0.8v0.8h-0.8zM475.4 423.3h0.8v0.8h-0.8zM474.5 436.6h0.8v0.8h-0.8zM466 434.9h0.8v0.8h-0.8zM482.1 434.6h0.8v0.8h-0.8zM480.4 428.9h0.8v0.8h-0.8zM485.6 429.8h0.8v0.8h-0.8zM478.9 421.5h0.8v0.8h-0.8zM476.1 409.8h0.8v0.8h-0.8zM476.1 446h0.8v0.8h-0.8zM474.7 435.7h0.8v0.8h-0.8zM479.5 422.4h0.8v0.8h-0.8zM468.5 419.2h0.8v0.8h-0.8zM464.1 431.8h0.8v0.8h-0.8zM483.2 415.3h0.8v0.8h-0.8zM464.6 432h0.8v0.8h-0.8zM479.4 423.8h0.8v0.8h-0.8zM477.2 422.1h0.8v0.8h-0.8zM478 422.1h0.8v0.8h-0.8zM479.6 420.1h0.8v0.8h-0.8zM465.7 435.9h0.8v0.8h-0.8zM473.6 433.1h0.8v0.8h-0.8zM477.7 436.4h0.8v0.8h-0.8zM470.9 437.5h0.8v0.8h-0.8zM484.2 423.5h0.8v0.8h-0.8zM476.7 440.1h0.8v0.8h-0.8zM484.1 418h0.8v0.8h-0.8zM479.4 435.8h0.8v0.8h-0.8zM458.3 433.4h0.8v0.8h-0.8zM484.9 415.3h0.8v0.8h-0.8zM470.8 432.2h0.8v0.8h-0.8zM487.1 423.8h0.8v0.8h-0.8zM465 423.1h0.8v0.8h-0.8zM460.4 433.2h0.8v0.8h-0.8zM465.2 432.5h0.8v0.8h-0.8zM469.4 426.1h0.8v0.8h-0.8zM486.9 422.2h0.8v0.8h-0.8zM471.2 439.6h0.8v0.8h-0.8zM479.1 434.8h0.8v0.8h-0.8zM465.2 424.4h0.8v0.8h-0.8zM492.2 425h0.8v0.8h-0.8zM472.2 420.8h0.8v0.8h-0.8zM486.9 423.3h0.8v0.8h-0.8zM468.3 426.3h0.8v0.8h-0.8zM465.3 423.8h0.8v0.8h-0.8zM488.5 428h0.8v0.8h-0.8zM486.4 429.2h0.8v0.8h-0.8zM477.5 437.9h0.8v0.8h-0.8zM481.8 429.4h0.8v0.8h-0.8zM483.2 441h0.8v0.8h-0.8zM482.3 424.9h0.8v0.8h-0.8zM478.7 435.4h0.8v0.8h-0.8zM468.1 438.2h0.8v0.8h-0.8zM477.3 421.1h0.8v0.8h-0.8zM487.2 420.1h0.8v0.8h-0.8zM487 427.7h0.8v0.8h-0.8zM474.2 421.8h0.8v0.8h-0.8zM485.7 431.3h0.8v0.8h-0.8zM479.3 419.2h0.8v0.8h-0.8zM465.6 434.1h0.8v0.8h-0.8zM468.2 438.9h0.8v0.8h-0.8zM471.4 442.9h0.8v0.8h-0.8zM468.1 436h0.8v0.8h-0.8zM480.4 424.4h0.8v0.8h-0.8zM485.3 432.4h0.8v0.8h-0.8zM471 426.5h0.8v0.8h-0.8zM487 419.8h0.8v0.8h-0.8zM493.1 427.7h0.8v0.8h-0.8zM474.4 436.5h0.8v0.8h-0.8zM478.3 435.5h0.8v0.8h-0.8zM489.3 420.2h0.8v0.8h-0.8zM469.1 441.4h0.8v0.8h-0.8zM482.6 432.6h0.8v0.8h-0.8zM469.1 424.8h0.8v0.8h-0.8zM488.9 430.1h0.8v0.8h-0.8zM488.5 424.7h0.8v0.8h-0.8zM463.5 431.3h0.8v0.8h-0.8zM472.9 419.8h0.8v0.8h-0.8zM482.2 438.6h0.8v0.8h-0.8zM476.6 437.5h0.8v0.8h-0.8zM460.6 425.7h0.8v0.8h-0.8zM468.4 434.5h0.8v0.8h-0.8zM471.2 429.3h0.8v0.8h-0.8zM478.6 422.9h0.8v0.8h-0.8zM469.9 447.5h0.8v0.8h-0.8zM481.9 429.9h0.8v0.8h-0.8zM467.2 455.3h0.8v0.8h-0.8zM485.5 437.6h0.8v0.8h-0.8zM471.4 428.4h0.8v0.8h-0.8zM483.2 426.4h0.8v0.8h-0.8zM470 438.9h0.8v0.8h-0.8zM482.1 430.9h0.8v0.8h-0.8zM465.2 436.8h0.8v0.8h-0.8zM481.5 423.8h0.8v0.8h-0.8zM463 439.1h0.8v0.8h-0.8zM482.4 421.3h0.8v0.8h-0.8zM483.6 439.6h0.8v0.8h-0.8zM470.9 438.3h0.8v0.8h-0.8zM472.1 425.7h0.8v0.8h-0.8zM469.8 429.9h0.8v0.8h-0.8zM489.2 425.8h0.8v0.8h-0.8zM471.1 428h0.8v0.8h-0.8zM487.7 422.4h0.8v0.8h-0.8zM475.4 434.4h0.8v0.8h-0.8zM483 439.6h0.8v0.8h-0.8zM470.5 437.6h0.8v0.8h-0.8zM473.8 424.3h0.8v0.8h-0.8zM475 425.2h0.8v0.8h-0.8zM480.1 433.1h0.8v0.8h-0.8zM470.1 443.8h0.8v0.8h-0.8zM474.6 423.4h0.8v0.8h-0.8zM483.3 424.4h0.8v0.8h-0.8zM471.9 413.1h0.8v0.8h-0.8zM481 419.9h0.8v0.8h-0.8zM475.3 439h0.8v0.8h-0.8zM484.5 430.7h0.8v0.8h-0.8zM476.8 446h0.8v0.8h-0.8zM485.1 418h0.8v0.8h-0.8zM475.6 441.8h0.8v0.8h-0.8zM489.5 420.3h0.8v0.8h-0.8zM480.9 422h0.8v0.8h-0.8zM483 426.3h0.8v0.8h-0.8zM471.9 437.5h0.8v0.8h-0.8zM467.2 437.2h0.8v0.8h-0.8zM475.6 445.7h0.8v0.8h-0.8zM473.7 422.7h0.8v0.8h-0.8zM472 426.6h0.8v0.8h-0.8zM484.4 416.9h0.8v0.8h-0.8zM478.8 421.6h0.8v0.8h-0.8zM482.1 429h0.8v0.8h-0.8zM475.7 435.2h0.8v0.8h-0.8zM469.2 439.4h0.8v0.8h-0.8zM473.8 437.6h0.8v0.8h-0.8zM471.1 433.9h0.8v0.8h-0.8zM486.8 439.7h0.8v0.8h-0.8zM488.2 434.2h0.8v0.8h-0.8zM469.8 429.9h0.8v0.8h-0.8zM474.1 434.7h0.8v0.8h-0.8zM480.4 433h0.8v0.8h-0.8zM471 427.5h0.8v0.8h-0.8zM478.3 422.7h0.8v0.8h-0.8zM464.7 430.9h0.8v0.8h-0.8zM472.5 423.4h0.8v0.8h-0.8zM481.9 438h0.8v0.8h-0.8zM487.9 434h0.8v0.8h-0.8zM473 420.1h0.8v0.8h-0.8zM484.2 433.2h0.8v0.8h-0.8zM471.4 428.5h0.8v0.8h-0.8zM484.5 420.7h0.8v0.8h-0.8zM469.2 422.6h0.8v0.8h-0.8zM473.7 435.7h0.8v0.8h-0.8zM473.6 444.6h0.8v0.8h-0.8zM487.3 423.7h0.8v0.8h-0.8zM481.6 433.1h0.8v0.8h-0.8zM480.4 433.6h0.8v0.8h-0.8zM487.7 426.2h0.8v0.8h-0.8zM483.3 432h0.8v0.8h-0.8zM483.7 439.9h0.8v0.8h-0.8zM478.6 417.3h0.8v0.8h-0.8zM484 425.6h0.8v0.8h-0.8zM471.7 426.5h0.8v0.8h-0.8zM468.9 446.8h0.8v0.8h-0.8zM467 443.9h0.8v0.8h-0.8zM467.2 445.2h0.8v0.8h-0.8zM467.6 436.2h0.8v0.8h-0.8zM477.8 430.9h0.8v0.8h-0.8zM475.7 445.6h0.8v0.8h-0.8zM478.5 441.5h0.8v0.8h-0.8zM467.4 441.3h0.8v0.8h-0.8zM468.5 441.8h0.8v0.8h-0.8zM473.5 444.7h0.8v0.8h-0.8zM474.5 426.9h0.8v0.8h-0.8zM465.8 435h0.8v0.8h-0.8zM480.5 437.8h0.8v0.8h-0.8zM466.4 440.5h0.8v0.8h-0.8zM483 437.5h0.8v0.8h-0.8zM479.1 441.4h0.8v0.8h-0.8zM476.4 445.9h0.8v0.8h-0.8zM469.6 445.1h0.8v0.8h-0.8zM466.1 444.2h0.8v0.8h-0.8zM464.5 443.7h0.8v0.8h-0.8zM466.2 434.3h0.8v0.8h-0.8zM477.6 446.9h0.8v0.8h-0.8zM481.2 439.8h0.8v0.8h-0.8zM480.3 429.6h0.8v0.8h-0.8zM471.7 446.3h0.8v0.8h-0.8zM465.5 446.5h0.8v0.8h-0.8zM476.8 427.8h0.8v0.8h-0.8zM470.6 431.2h0.8v0.8h-0.8zM469.4 431.7h0.8v0.8h-0.8zM479.3 424.6h0.8v0.8h-0.8zM465.3 442.4h0.8v0.8h-0.8zM463 436.2h0.8v0.8h-0.8zM466 439.5h0.8v0.8h-0.8zM514.7 420.7h0.8v0.8h-0.8zM487.7 411.8h0.8v0.8h-0.8zM501.5 414h0.8v0.8h-0.8zM530.9 407.7h0.8v0.8h-0.8zM520.6 411.7h0.8v0.8h-0.8zM485.4 407.7h0.8v0.8h-0.8zM502.4 415h0.8v0.8h-0.8zM506.4 409.8h0.8v0.8h-0.8zM516.6 418.5h0.8v0.8h-0.8zM512 412.4h0.8v0.8h-0.8zM501 420.1h0.8v0.8h-0.8zM503.7 432h0.8v0.8h-0.8zM536.6 412.4h0.8v0.8h-0.8zM515.3 414.5h0.8v0.8h-0.8zM490.6 421.4h0.8v0.8h-0.8zM503.8 426.9h0.8v0.8h-0.8zM496.2 403.9h0.8v0.8h-0.8zM492.6 425.9h0.8v0.8h-0.8zM517.7 404.8h0.8v0.8h-0.8zM507.5 428.7h0.8v0.8h-0.8zM499.4 439h0.8v0.8h-0.8zM513.7 410.2h0.8v0.8h-0.8zM528.6 411h0.8v0.8h-0.8zM523.7 416.2h0.8v0.8h-0.8zM504.9 425.7h0.8v0.8h-0.8zM494.9 420.4h0.8v0.8h-0.8zM510.3 404.2h0.8v0.8h-0.8zM490.1 411.6h0.8v0.8h-0.8zM507.2 423.8h0.8v0.8h-0.8zM503.9 438.8h0.8v0.8h-0.8zM512.8 420.9h0.8v0.8h-0.8zM508.1 403.7h0.8v0.8h-0.8zM492.8 409.8h0.8v0.8h-0.8zM513.5 403.6h0.8v0.8h-0.8zM525.7 408h0.8v0.8h-0.8zM519.9 408.7h0.8v0.8h-0.8zM500.5 417.5h0.8v0.8h-0.8zM506.1 429.4h0.8v0.8h-0.8zM493.8 420.4h0.8v0.8h-0.8zM526.1 426.1h0.8v0.8h-0.8zM515 411.3h0.8v0.8h-0.8zM481.2 420.2h0.8v0.8h-0.8zM490.5 422.3h0.8v0.8h-0.8zM508.2 427.3h0.8v0.8h-0.8zM510.9 420.2h0.8v0.8h-0.8zM510 411.9h0.8v0.8h-0.8zM501.1 432.1h0.8v0.8h-0.8zM501.1 425.1h0.8v0.8h-0.8zM528.4 407.4h0.8v0.8h-0.8zM499.9 415.8h0.8v0.8h-0.8zM509.7 427.2h0.8v0.8h-0.8zM519.7 408.9h0.8v0.8h-0.8zM502 424.8h0.8v0.8h-0.8zM513.2 426.9h0.8v0.8h-0.8zM510.8 414.5h0.8v0.8h-0.8zM494.6 428.3h0.8v0.8h-0.8zM496.5 414.7h0.8v0.8h-0.8zM522.6 412.1h0.8v0.8h-0.8zM518 418.9h0.8v0.8h-0.8zM503.6 411.1h0.8v0.8h-0.8zM501.3 406.5h0.8v0.8h-0.8zM522.2 410h0.8v0.8h-0.8zM502.6 415.9h0.8v0.8h-0.8zM510.3 428.3h0.8v0.8h-0.8zM504.8 412.8h0.8v0.8h-0.8zM500.4 417.6h0.8v0.8h-0.8zM505.4 429.4h0.8v0.8h-0.8zM511.6 407h0.8v0.8h-0.8zM492.8 425.8h0.8v0.8h-0.8zM508.3 412.9h0.8v0.8h-0.8zM498.8 417.2h0.8v0.8h-0.8zM500.9 421.3h0.8v0.8h-0.8zM506.7 408.8h0.8v0.8h-0.8zM488.7 420.3h0.8v0.8h-0.8zM498.6 425.1h0.8v0.8h-0.8zM492.8 410.7h0.8v0.8h-0.8zM501.6 411h0.8v0.8h-0.8zM502.2 418.1h0.8v0.8h-0.8zM518.7 409.7h0.8v0.8h-0.8zM519.5 419.1h0.8v0.8h-0.8zM507 425.8h0.8v0.8h-0.8zM524.7 412.9h0.8v0.8h-0.8zM518.8 432.1h0.8v0.8h-0.8zM512.7 406.2h0.8v0.8h-0.8zM498.6 432.8h0.8v0.8h-0.8zM498.9 431.5h0.8v0.8h-0.8zM516.7 405.7h0.8v0.8h-0.8zM501.3 421h0.8v0.8h-0.8zM485.1 414.3h0.8v0.8h-0.8zM507 426.1h0.8v0.8h-0.8zM489.1 421.5h0.8v0.8h-0.8zM505.8 423.6h0.8v0.8h-0.8zM515.3 415.8h0.8v0.8h-0.8zM498.5 420.9h0.8v0.8h-0.8zM508.9 425.2h0.8v0.8h-0.8zM511.6 433.1h0.8v0.8h-0.8zM510.6 420.8h0.8v0.8h-0.8zM492.6 418.8h0.8v0.8h-0.8zM500.7 428.9h0.8v0.8h-0.8zM518.4 432.1h0.8v0.8h-0.8zM484.6 424h0.8v0.8h-0.8zM488.2 429.4h0.8v0.8h-0.8zM492.2 418h0.8v0.8h-0.8zM511.6 414.5h0.8v0.8h-0.8zM493.4 414.7h0.8v0.8h-0.8zM498.6 433.1h0.8v0.8h-0.8zM513 421.8h0.8v0.8h-0.8zM502.6 410.6h0.8v0.8h-0.8zM507.1 438.7h0.8v0.8h-0.8zM492.1 432.4h0.8v0.8h-0.8zM497.2 420.6h0.8v0.8h-0.8zM521.7 418.3h0.8v0.8h-0.8zM498.2 420h0.8v0.8h-0.8zM511.1 410.1h0.8v0.8h-0.8zM496.2 428h0.8v0.8h-0.8zM501.7 417.9h0.8v0.8h-0.8zM504.9 407.9h0.8v0.8h-0.8zM492.7 437.1h0.8v0.8h-0.8zM499.1 424.6h0.8v0.8h-0.8zM483.1 424.9h0.8v0.8h-0.8zM520.7 420.8h0.8v0.8h-0.8zM504.2 427.7h0.8v0.8h-0.8zM489.2 418.6h0.8v0.8h-0.8zM522 419.2h0.8v0.8h-0.8zM516.7 410.9h0.8v0.8h-0.8zM520.7 416.7h0.8v0.8h-0.8zM518.2 414.1h0.8v0.8h-0.8zM504.7 438.3h0.8v0.8h-0.8zM496 420.9h0.8v0.8h-0.8zM491.7 426.6h0.8v0.8h-0.8zM509 423.5h0.8v0.8h-0.8zM514.3 412.1h0.8v0.8h-0.8zM508 432h0.8v0.8h-0.8zM508.3 426.1h0.8v0.8h-0.8zM498.9 423.2h0.8v0.8h-0.8zM485 415h0.8v0.8h-0.8zM522.7 413h0.8v0.8h-0.8zM501.9 412.5h0.8v0.8h-0.8zM488.3 437.3h0.8v0.8h-0.8zM510.1 428.5h0.8v0.8h-0.8zM514.9 415.6h0.8v0.8h-0.8zM511.2 417.6h0.8v0.8h-0.8zM520 412h0.8v0.8h-0.8zM509.1 425.3h0.8v0.8h-0.8zM488.8 415.6h0.8v0.8h-0.8zM506.2 409.3h0.8v0.8h-0.8zM528.9 426.7h0.8v0.8h-0.8zM513.4 408.7h0.8v0.8h-0.8zM496.7 407.7h0.8v0.8h-0.8zM513.9 416.9h0.8v0.8h-0.8zM505.4 409.8h0.8v0.8h-0.8zM512.7 417.4h0.8v0.8h-0.8zM494.7 427.9h0.8v0.8h-0.8zM488.7 424.4h0.8v0.8h-0.8zM520.5 409h0.8v0.8h-0.8zM497 423.5h0.8v0.8h-0.8zM523.4 416.7h0.8v0.8h-0.8zM523.9 421.7h0.8v0.8h-0.8zM528.8 412.1h0.8v0.8h-0.8zM514 415h0.8v0.8h-0.8zM497.1 438.2h0.8v0.8h-0.8zM507.8 431.5h0.8v0.8h-0.8zM515 420.4h0.8v0.8h-0.8zM507.9 424.6h0.8v0.8h-0.8zM495 424.9h0.8v0.8h-0.8zM494.3 418.9h0.8v0.8h-0.8zM517.1 427.5h0.8v0.8h-0.8zM492 433.9h0.8v0.8h-0.8zM493.4 413.9h0.8v0.8h-0.8zM500.8 426.2h0.8v0.8h-0.8zM501.9 410h0.8v0.8h-0.8zM491.8 424.6h0.8v0.8h-0.8zM517.4 412.7h0.8v0.8h-0.8zM514.8 415.3h0.8v0.8h-0.8zM511.4 429.1h0.8v0.8h-0.8zM520.2 426.7h0.8v0.8h-0.8zM491.8 419.5h0.8v0.8h-0.8zM517.2 416.6h0.8v0.8h-0.8zM491.4 433.2h0.8v0.8h-0.8zM516.8 429.8h0.8v0.8h-0.8zM507.2 409.6h0.8v0.8h-0.8zM503.4 421.7h0.8v0.8h-0.8zM519.9 415.6h0.8v0.8h-0.8zM482.8 413.8h0.8v0.8h-0.8zM496 408.7h0.8v0.8h-0.8zM520.3 404.8h0.8v0.8h-0.8zM509.3 428.7h0.8v0.8h-0.8zM510.2 407.8h0.8v0.8h-0.8zM506.4 413.3h0.8v0.8h-0.8zM495.4 414.5h0.8v0.8h-0.8zM522.1 405.5h0.8v0.8h-0.8zM515.7 407.3h0.8v0.8h-0.8zM507 424.7h0.8v0.8h-0.8zM512.8 424.6h0.8v0.8h-0.8zM500.3 411.3h0.8v0.8h-0.8zM496 427.2h0.8v0.8h-0.8zM511.9 421.6h0.8v0.8h-0.8zM496.6 423h0.8v0.8h-0.8zM530.7 412h0.8v0.8h-0.8zM511.3 409.4h0.8v0.8h-0.8zM502.1 429.7h0.8v0.8h-0.8zM500.5 426.9h0.8v0.8h-0.8zM519 414h0.8v0.8h-0.8zM511.9 419h0.8v0.8h-0.8zM515.1 412h0.8v0.8h-0.8zM487.8 420.3h0.8v0.8h-0.8zM484.9 415.2h0.8v0.8h-0.8zM490.3 427.6h0.8v0.8h-0.8zM501.3 423.9h0.8v0.8h-0.8zM511.4 411.8h0.8v0.8h-0.8zM512.4 424.5h0.8v0.8h-0.8zM492.1 410.8h0.8v0.8h-0.8zM505.7 432.6h0.8v0.8h-0.8zM495.9 420.9h0.8v0.8h-0.8zM506.4 404.3h0.8v0.8h-0.8zM501 428.3h0.8v0.8h-0.8zM502.5 424.4h0.8v0.8h-0.8zM491.8 412.5h0.8v0.8h-0.8zM499.5 419.1h0.8v0.8h-0.8zM505.6 411.5h0.8v0.8h-0.8zM488.4 431.7h0.8v0.8h-0.8zM489.2 423.8h0.8v0.8h-0.8zM509.7 411.3h0.8v0.8h-0.8zM502.1 421.1h0.8v0.8h-0.8zM492.4 427.3h0.8v0.8h-0.8zM513.1 429.5h0.8v0.8h-0.8zM520.8 418.7h0.8v0.8h-0.8zM517.9 421.3h0.8v0.8h-0.8zM509.3 426.3h0.8v0.8h-0.8zM509.4 409.5h0.8v0.8h-0.8zM492.7 434.6h0.8v0.8h-0.8zM530.4 403.9h0.8v0.8h-0.8zM513.6 418.5h0.8v0.8h-0.8zM504.5 410.2h0.8v0.8h-0.8zM500.5 426h0.8v0.8h-0.8zM516.9 418.2h0.8v0.8h-0.8zM498 414.4h0.8v0.8h-0.8zM514.2 415.8h0.8v0.8h-0.8zM507.3 407.3h0.8v0.8h-0.8zM499.7 414h0.8v0.8h-0.8zM513.1 412.4h0.8v0.8h-0.8zM487.3 420.4h0.8v0.8h-0.8zM490.5 415h0.8v0.8h-0.8zM498 410.3h0.8v0.8h-0.8zM501.5 407.4h0.8v0.8h-0.8zM513 409.1h0.8v0.8h-0.8zM505.3 412.2h0.8v0.8h-0.8zM481.7 424.6h0.8v0.8h-0.8zM512.2 423.9h0.8v0.8h-0.8zM491.3 417.5h0.8v0.8h-0.8zM496.8 412.8h0.8v0.8h-0.8zM503.3 410.6h0.8v0.8h-0.8zM488.6 421h0.8v0.8h-0.8zM514.6 416.2h0.8v0.8h-0.8zM500.5 417.8h0.8v0.8h-0.8zM514.7 422.2h0.8v0.8h-0.8zM492.8 422.5h0.8v0.8h-0.8zM500.4 418.8h0.8v0.8h-0.8zM486.8 420.1h0.8v0.8h-0.8zM490 418h0.8v0.8h-0.8zM519.2 421.1h0.8v0.8h-0.8zM505.2 426.4h0.8v0.8h-0.8zM534.6 414.3h0.8v0.8h-0.8zM503.8 414.4h0.8v0.8h-0.8zM522.4 431.3h0.8v0.8h-0.8zM500.8 419.2h0.8v0.8h-0.8zM521.1 405.1h0.8v0.8h-0.8zM504.2 408.5h0.8v0.8h-0.8zM510.8 409.2h0.8v0.8h-0.8zM513 423.9h0.8v0.8h-0.8zM515.5 415.9h0.8v0.8h-0.8zM502.5 413.9h0.8v0.8h-0.8zM510.9 411.2h0.8v0.8h-0.8zM504.9 424.8h0.8v0.8h-0.8zM510.3 435.7h0.8v0.8h-0.8zM515.1 408.2h0.8v0.8h-0.8zM517.2 406.5h0.8v0.8h-0.8zM511.6 403.9h0.8v0.8h-0.8zM498.8 420.4h0.8v0.8h-0.8zM521.5 405.3h0.8v0.8h-0.8zM501.3 425h0.8v0.8h-0.8zM484.6 420.7h0.8v0.8h-0.8zM499.2 404.6h0.8v0.8h-0.8zM483 413.1h0.8v0.8h-0.8zM494.4 418.5h0.8v0.8h-0.8zM492.1 423.4h0.8v0.8h-0.8zM501.9 413.6h0.8v0.8h-0.8zM525.1 422.3h0.8v0.8h-0.8zM521.9 409.1h0.8v0.8h-0.8zM493.5 426.3h0.8v0.8h-0.8zM518.7 404.3h0.8v0.8h-0.8zM503.6 430.3h0.8v0.8h-0.8zM512.6 410.8h0.8v0.8h-0.8zM499.4 421.9h0.8v0.8h-0.8zM496.5 422h0.8v0.8h-0.8zM521.5 413.4h0.8v0.8h-0.8zM509.3 407.6h0.8v0.8h-0.8zM500.3 415.8h0.8v0.8h-0.8zM497.2 422.5h0.8v0.8h-0.8zM498.1 438.7h0.8v0.8h-0.8zM502.8 406h0.8v0.8h-0.8zM496.6 418.9h0.8v0.8h-0.8zM497.7 421.6h0.8v0.8h-0.8zM525.1 407.9h0.8v0.8h-0.8zM508.7 438.5h0.8v0.8h-0.8zM516.1 423.1h0.8v0.8h-0.8zM496.4 423.9h0.8v0.8h-0.8zM512.7 424.4h0.8v0.8h-0.8zM501.1 430.2h0.8v0.8h-0.8zM507.4 427.2h0.8v0.8h-0.8zM512.1 419.2h0.8v0.8h-0.8zM517.8 418.5h0.8v0.8h-0.8zM504.6 424.6h0.8v0.8h-0.8zM504.2 428.8h0.8v0.8h-0.8zM509.3 410.4h0.8v0.8h-0.8zM519.3 407.6h0.8v0.8h-0.8zM500.4 422.5h0.8v0.8h-0.8zM516.8 416.5h0.8v0.8h-0.8zM501.5 422h0.8v0.8h-0.8zM504.5 413.3h0.8v0.8h-0.8zM506.2 429.1h0.8v0.8h-0.8zM517.1 428.3h0.8v0.8h-0.8zM524 416.3h0.8v0.8h-0.8zM487.1 429.3h0.8v0.8h-0.8zM500.7 410.4h0.8v0.8h-0.8zM526 407.1h0.8v0.8h-0.8zM498.4 440.3h0.8v0.8h-0.8zM513.7 419.4h0.8v0.8h-0.8zM513.9 425h0.8v0.8h-0.8zM498.9 417.2h0.8v0.8h-0.8zM500.4 417.9h0.8v0.8h-0.8zM483.7 417.3h0.8v0.8h-0.8zM504.1 404.4h0.8v0.8h-0.8zM494.9 421.3h0.8v0.8h-0.8zM503.9 406h0.8v0.8h-0.8zM505.3 426.7h0.8v0.8h-0.8zM526 413.7h0.8v0.8h-0.8zM501.8 416.8h0.8v0.8h-0.8zM502.4 414.3h0.8v0.8h-0.8zM481.1 427.9h0.8v0.8h-0.8zM506.2 426.8h0.8v0.8h-0.8zM517.1 419.8h0.8v0.8h-0.8zM501.9 422.1h0.8v0.8h-0.8zM511.8 426.2h0.8v0.8h-0.8zM515.8 418.6h0.8v0.8h-0.8zM483 422.5h0.8v0.8h-0.8zM506.7 405.4h0.8v0.8h-0.8zM501.2 428.4h0.8v0.8h-0.8zM512.3 426.2h0.8v0.8h-0.8zM494 430.7h0.8v0.8h-0.8zM495.3 422.9h0.8v0.8h-0.8zM515.6 404.9h0.8v0.8h-0.8zM519.6 418.8h0.8v0.8h-0.8zM514.5 420.6h0.8v0.8h-0.8zM526.9 413.7h0.8v0.8h-0.8zM520.3 417h0.8v0.8h-0.8zM517.1 418.5h0.8v0.8h-0.8zM515.8 412.1h0.8v0.8h-0.8zM517.4 428.4h0.8v0.8h-0.8zM516.5 422h0.8v0.8h-0.8zM497.1 414.5h0.8v0.8h-0.8zM498.6 418.7h0.8v0.8h-0.8zM491.4 427.8h0.8v0.8h-0.8zM517.3 418.1h0.8v0.8h-0.8zM503.1 427.1h0.8v0.8h-0.8zM499.2 405.6h0.8v0.8h-0.8zM498.8 414.4h0.8v0.8h-0.8zM509.5 422h0.8v0.8h-0.8zM495.1 412.1h0.8v0.8h-0.8zM502.2 406.2h0.8v0.8h-0.8zM492.1 411.8h0.8v0.8h-0.8zM506.2 415h0.8v0.8h-0.8zM505.9 411.7h0.8v0.8h-0.8zM493.4 432h0.8v0.8h-0.8zM514.7 419.6h0.8v0.8h-0.8zM498.4 414.4h0.8v0.8h-0.8zM507.3 411.5h0.8v0.8h-0.8zM519.2 423.2h0.8v0.8h-0.8zM492.3 422.6h0.8v0.8h-0.8zM517.2 417h0.8v0.8h-0.8zM507.9 424.6h0.8v0.8h-0.8zM516.1 419.8h0.8v0.8h-0.8zM496.8 437.2h0.8v0.8h-0.8zM514.9 423.2h0.8v0.8h-0.8zM504.7 426h0.8v0.8h-0.8zM498 416.3h0.8v0.8h-0.8zM494 424.5h0.8v0.8h-0.8zM518.3 420.1h0.8v0.8h-0.8zM498.8 404.1h0.8v0.8h-0.8zM498.7 414.9h0.8v0.8h-0.8zM503.8 414.8h0.8v0.8h-0.8zM521.9 416.4h0.8v0.8h-0.8zM503.4 440.1h0.8v0.8h-0.8zM513.2 414.6h0.8v0.8h-0.8zM504.2 429.2h0.8v0.8h-0.8zM495.8 427.6h0.8v0.8h-0.8zM527.7 421.8h0.8v0.8h-0.8zM508.1 422.2h0.8v0.8h-0.8zM500 429.8h0.8v0.8h-0.8zM510.6 409.9h0.8v0.8h-0.8zM481.3 418.7h0.8v0.8h-0.8zM499.1 405.5h0.8v0.8h-0.8zM511.4 412.2h0.8v0.8h-0.8zM509.6 403.2h0.8v0.8h-0.8zM514.3 411.3h0.8v0.8h-0.8zM488.4 421.9h0.8v0.8h-0.8zM508.3 429.2h0.8v0.8h-0.8zM515.6 411.1h0.8v0.8h-0.8zM528 418.6h0.8v0.8h-0.8zM505.3 423.3h0.8v0.8h-0.8zM506.2 408.8h0.8v0.8h-0.8zM523.1 405.9h0.8v0.8h-0.8zM497.7 434.5h0.8v0.8h-0.8zM512.6 424.1h0.8v0.8h-0.8zM482.1 412.2h0.8v0.8h-0.8zM491.6 417.1h0.8v0.8h-0.8zM499.6 409.7h0.8v0.8h-0.8zM497.1 425.9h0.8v0.8h-0.8zM525.4 410.3h0.8v0.8h-0.8zM508.5 414h0.8v0.8h-0.8zM518.1 409.5h0.8v0.8h-0.8zM501.4 414h0.8v0.8h-0.8zM525.8 422.2h0.8v0.8h-0.8zM510.2 425.9h0.8v0.8h-0.8zM525.1 411.8h0.8v0.8h-0.8zM513 422.5h0.8v0.8h-0.8zM512 418.7h0.8v0.8h-0.8zM510.8 403.5h0.8v0.8h-0.8zM507.4 423.8h0.8v0.8h-0.8zM508 405.6h0.8v0.8h-0.8zM516.3 422.8h0.8v0.8h-0.8zM485.8 423.6h0.8v0.8h-0.8zM495.2 418.4h0.8v0.8h-0.8zM508.7 429.7h0.8v0.8h-0.8zM513 416.3h0.8v0.8h-0.8zM512.2 421.8h0.8v0.8h-0.8zM499 415.2h0.8v0.8h-0.8zM516.7 413.2h0.8v0.8h-0.8zM519.3 412.6h0.8v0.8h-0.8zM501.3 413.2h0.8v0.8h-0.8zM506.2 431.5h0.8v0.8h-0.8zM506.2 423.4h0.8v0.8h-0.8zM511.4 414.7h0.8v0.8h-0.8zM499.6 429.2h0.8v0.8h-0.8zM525 416.5h0.8v0.8h-0.8zM494.5 434.7h0.8v0.8h-0.8zM523.2 414.4h0.8v0.8h-0.8zM506.6 413.9h0.8v0.8h-0.8zM495.5 421.3h0.8v0.8h-0.8zM505.9 412.4h0.8v0.8h-0.8zM508.7 414.7h0.8v0.8h-0.8zM494.8 413.9h0.8v0.8h-0.8zM522.5 404.7h0.8v0.8h-0.8zM519.1 413.7h0.8v0.8h-0.8zM513.9 422.3h0.8v0.8h-0.8zM506.6 414.3h0.8v0.8h-0.8zM497.1 429.4h0.8v0.8h-0.8zM510.8 413.9h0.8v0.8h-0.8zM492.2 423.6h0.8v0.8h-0.8zM498.9 420.9h0.8v0.8h-0.8zM516 409.4h0.8v0.8h-0.8zM514.4 415.9h0.8v0.8h-0.8zM505.2 426.8h0.8v0.8h-0.8zM487.9 418.1h0.8v0.8h-0.8zM501.4 406.7h0.8v0.8h-0.8zM516.4 406.2h0.8v0.8h-0.8zM503.3 405.4h0.8v0.8h-0.8zM507.4 432.7h0.8v0.8h-0.8zM501.7 422.5h0.8v0.8h-0.8zM486.1 428.3h0.8v0.8h-0.8zM499.6 422.9h0.8v0.8h-0.8zM517.7 422.4h0.8v0.8h-0.8zM498.1 427h0.8v0.8h-0.8zM495.7 434.1h0.8v0.8h-0.8zM521.5 431.2h0.8v0.8h-0.8zM501.8 416.3h0.8v0.8h-0.8zM529.5 408.2h0.8v0.8h-0.8zM524.3 412.8h0.8v0.8h-0.8zM509.1 410.4h0.8v0.8h-0.8zM501.4 408.2h0.8v0.8h-0.8zM508.9 409.1h0.8v0.8h-0.8zM505.6 425.9h0.8v0.8h-0.8zM517.2 418.2h0.8v0.8h-0.8zM496.6 424.6h0.8v0.8h-0.8zM493.6 403h0.8v0.8h-0.8zM515 432.6h0.8v0.8h-0.8zM516.2 415.4h0.8v0.8h-0.8zM516.4 414.4h0.8v0.8h-0.8zM525 416.2h0.8v0.8h-0.8zM512.6 427.1h0.8v0.8h-0.8zM512.7 419.7h0.8v0.8h-0.8zM500.1 425.8h0.8v0.8h-0.8zM514.5 418.9h0.8v0.8h-0.8zM507.6 408.1h0.8v0.8h-0.8zM516.1 427.5h0.8v0.8h-0.8zM519.9 423.5h0.8v0.8h-0.8zM502.8 409.1h0.8v0.8h-0.8zM500.7 416.1h0.8v0.8h-0.8zM503.4 426.2h0.8v0.8h-0.8zM499.3 423h0.8v0.8h-0.8zM511.6 406.2h0.8v0.8h-0.8zM514.1 411.4h0.8v0.8h-0.8zM498.7 417.2h0.8v0.8h-0.8zM515.9 409.6h0.8v0.8h-0.8zM503.2 416.8h0.8v0.8h-0.8zM488.8 426.6h0.8v0.8h-0.8zM511.5 408.2h0.8v0.8h-0.8zM508.6 411h0.8v0.8h-0.8zM499 411.4h0.8v0.8h-0.8zM500.4 424.9h0.8v0.8h-0.8zM501 412.2h0.8v0.8h-0.8zM485.9 419.8h0.8v0.8h-0.8zM488.9 435.9h0.8v0.8h-0.8zM517.1 415.8h0.8v0.8h-0.8zM515.5 422.4h0.8v0.8h-0.8zM514 415.6h0.8v0.8h-0.8zM529.7 421.5h0.8v0.8h-0.8zM500.5 420.9h0.8v0.8h-0.8zM510.2 422.7h0.8v0.8h-0.8zM510 423.4h0.8v0.8h-0.8zM502.6 435.5h0.8v0.8h-0.8zM509.2 424.5h0.8v0.8h-0.8zM515.3 434.1h0.8v0.8h-0.8zM501.4 421.5h0.8v0.8h-0.8zM499.7 414.3h0.8v0.8h-0.8zM509.6 414h0.8v0.8h-0.8zM493 412.5h0.8v0.8h-0.8zM506.8 413.7h0.8v0.8h-0.8zM503 425.1h0.8v0.8h-0.8zM497.3 422.8h0.8v0.8h-0.8zM517.6 414.4h0.8v0.8h-0.8zM514.9 422.3h0.8v0.8h-0.8zM508.3 426.2h0.8v0.8h-0.8zM513 420.8h0.8v0.8h-0.8zM518.1 421.3h0.8v0.8h-0.8zM511.3 413.9h0.8v0.8h-0.8zM503.2 424.8h0.8v0.8h-0.8zM521.8 411h0.8v0.8h-0.8zM499.7 417.3h0.8v0.8h-0.8zM526.3 419.8h0.8v0.8h-0.8zM495.3 426h0.8v0.8h-0.8zM504.3 428.6h0.8v0.8h-0.8zM512.8 415.6h0.8v0.8h-0.8zM489.4 408.3h0.8v0.8h-0.8zM495.6 429.1h0.8v0.8h-0.8zM509.7 421h0.8v0.8h-0.8zM506.5 411.2h0.8v0.8h-0.8zM510.4 415.1h0.8v0.8h-0.8zM490.8 426.1h0.8v0.8h-0.8zM515 422.4h0.8v0.8h-0.8zM518.7 420.8h0.8v0.8h-0.8zM500.5 418.5h0.8v0.8h-0.8zM499.7 424.8h0.8v0.8h-0.8zM518.3 407.4h0.8v0.8h-0.8zM498.8 420.3h0.8v0.8h-0.8zM497.1 416.2h0.8v0.8h-0.8zM501.3 424.8h0.8v0.8h-0.8zM505.8 435h0.8v0.8h-0.8zM501.6 408.9h0.8v0.8h-0.8zM490.7 422.3h0.8v0.8h-0.8zM506.7 424.9h0.8v0.8h-0.8zM509.9 424.2h0.8v0.8h-0.8zM522.9 414.9h0.8v0.8h-0.8zM485.7 431.9h0.8v0.8h-0.8zM512.6 421.5h0.8v0.8h-0.8zM498.1 421.7h0.8v0.8h-0.8zM500.1 410h0.8v0.8h-0.8zM499 419.8h0.8v0.8h-0.8zM505.9 413.9h0.8v0.8h-0.8zM513 425h0.8v0.8h-0.8zM505.2 412.5h0.8v0.8h-0.8zM484.5 409.6h0.8v0.8h-0.8zM501.5 418h0.8v0.8h-0.8zM497 429.9h0.8v0.8h-0.8zM508.7 410.2h0.8v0.8h-0.8zM515.8 421.5h0.8v0.8h-0.8zM500.5 425.8h0.8v0.8h-0.8zM521.7 406.4h0.8v0.8h-0.8zM513 412.8h0.8v0.8h-0.8zM501 418.4h0.8v0.8h-0.8zM510.7 428.6h0.8v0.8h-0.8zM488.7 425.5h0.8v0.8h-0.8zM526.4 410.8h0.8v0.8h-0.8zM479.1 420.9h0.8v0.8h-0.8zM497.6 402.5h0.8v0.8h-0.8zM506.1 414.6h0.8v0.8h-0.8zM524.7 430.3h0.8v0.8h-0.8zM520 403.5h0.8v0.8h-0.8zM523.5 421.9h0.8v0.8h-0.8zM511.3 409.1h0.8v0.8h-0.8zM510.7 425.2h0.8v0.8h-0.8zM512.5 425.4h0.8v0.8h-0.8zM499.9 428.4h0.8v0.8h-0.8zM519.5 415h0.8v0.8h-0.8zM505.1 415h0.8v0.8h-0.8zM488.9 429.4h0.8v0.8h-0.8zM513.1 419.1h0.8v0.8h-0.8zM501.5 432h0.8v0.8h-0.8zM522.4 405.2h0.8v0.8h-0.8zM512.7 409.1h0.8v0.8h-0.8zM485.9 418.2h0.8v0.8h-0.8zM499.2 414.3h0.8v0.8h-0.8zM515.5 419.1h0.8v0.8h-0.8zM500.2 426h0.8v0.8h-0.8zM504.5 424.5h0.8v0.8h-0.8zM519.5 417.5h0.8v0.8h-0.8zM526.7 411.9h0.8v0.8h-0.8zM487.2 418.9h0.8v0.8h-0.8zM503.7 423.3h0.8v0.8h-0.8zM496.3 430.6h0.8v0.8h-0.8zM490.3 421.6h0.8v0.8h-0.8zM506.8 423.8h0.8v0.8h-0.8zM493 418.7h0.8v0.8h-0.8zM509.2 413.6h0.8v0.8h-0.8zM517.8 407.8h0.8v0.8h-0.8zM490.4 408.7h0.8v0.8h-0.8zM516.4 429.3h0.8v0.8h-0.8zM506.7 414.2h0.8v0.8h-0.8zM519.5 412.8h0.8v0.8h-0.8zM515.1 415.8h0.8v0.8h-0.8zM513.4 415.9h0.8v0.8h-0.8zM492.7 412.7h0.8v0.8h-0.8zM493.9 418.9h0.8v0.8h-0.8zM528.6 424.9h0.8v0.8h-0.8zM513.6 424.8h0.8v0.8h-0.8zM510.6 423.1h0.8v0.8h-0.8zM522.5 422.6h0.8v0.8h-0.8zM501 406.6h0.8v0.8h-0.8zM496.1 408.9h0.8v0.8h-0.8zM515.6 410.5h0.8v0.8h-0.8zM520.3 414.5h0.8v0.8h-0.8zM492.9 422.8h0.8v0.8h-0.8zM510.8 413.2h0.8v0.8h-0.8zM522.8 427.1h0.8v0.8h-0.8zM503.5 411.4h0.8v0.8h-0.8zM533.1 415h0.8v0.8h-0.8zM497.6 421.3h0.8v0.8h-0.8zM525.8 413.2h0.8v0.8h-0.8zM500.1 412.2h0.8v0.8h-0.8zM489.3 421h0.8v0.8h-0.8zM494.6 408.9h0.8v0.8h-0.8zM498.5 418.6h0.8v0.8h-0.8zM514.2 419.9h0.8v0.8h-0.8zM507.8 430.7h0.8v0.8h-0.8zM518.3 410h0.8v0.8h-0.8zM513.3 414.1h0.8v0.8h-0.8zM490.2 427.4h0.8v0.8h-0.8zM501.2 419.2h0.8v0.8h-0.8zM513.4 422.4h0.8v0.8h-0.8zM490.2 416.6h0.8v0.8h-0.8zM515.9 423.8h0.8v0.8h-0.8zM507.5 407.2h0.8v0.8h-0.8zM493.7 429.7h0.8v0.8h-0.8zM487.9 417.1h0.8v0.8h-0.8zM503.7 407h0.8v0.8h-0.8zM502.1 416.4h0.8v0.8h-0.8zM499.4 416h0.8v0.8h-0.8zM520.8 425.7h0.8v0.8h-0.8zM495.7 416.9h0.8v0.8h-0.8zM508.2 411h0.8v0.8h-0.8zM526.7 421h0.8v0.8h-0.8zM504.8 414.3h0.8v0.8h-0.8zM499.5 430.4h0.8v0.8h-0.8zM505 428.1h0.8v0.8h-0.8zM510.9 417.6h0.8v0.8h-0.8zM506.9 423h0.8v0.8h-0.8zM519 411.3h0.8v0.8h-0.8zM496.5 415.9h0.8v0.8h-0.8zM490.6 432.2h0.8v0.8h-0.8zM511 414.2h0.8v0.8h-0.8zM506 413.5h0.8v0.8h-0.8zM494.5 417.9h0.8v0.8h-0.8zM505.8 440.7h0.8v0.8h-0.8zM499.2 410.8h0.8v0.8h-0.8zM514.8 432.8h0.8v0.8h-0.8zM515.7 409.7h0.8v0.8h-0.8zM494.3 421.6h0.8v0.8h-0.8zM507.5 423.5h0.8v0.8h-0.8zM501.3 425.5h0.8v0.8h-0.8zM490.4 418.4h0.8v0.8h-0.8zM486.7 421.8h0.8v0.8h-0.8zM492.7 435.5h0.8v0.8h-0.8zM511.3 406h0.8v0.8h-0.8zM500.8 420.2h0.8v0.8h-0.8zM517.8 405.5h0.8v0.8h-0.8zM506.4 423.7h0.8v0.8h-0.8zM514.8 427h0.8v0.8h-0.8zM522.3 415.6h0.8v0.8h-0.8zM487.2 429.1h0.8v0.8h-0.8zM498.2 421.4h0.8v0.8h-0.8zM499.9 414h0.8v0.8h-0.8zM506.6 409.5h0.8v0.8h-0.8zM501.9 414.4h0.8v0.8h-0.8zM507 426.1h0.8v0.8h-0.8zM510.8 421.4h0.8v0.8h-0.8zM518.8 412.2h0.8v0.8h-0.8zM497.9 419.4h0.8v0.8h-0.8zM520.7 411.6h0.8v0.8h-0.8zM518.7 409.7h0.8v0.8h-0.8zM508.3 436.4h0.8v0.8h-0.8zM526.1 413.4h0.8v0.8h-0.8zM529.6 410.4h0.8v0.8h-0.8z" fill="#1818f0"/>
<path d="M479.5 427.1h0.8v0.8h-0.8zM474.8 433.2h0.8v0.8h-0.8zM476.2 433.9h0.8v0.8h-0.8zM479.8 431.2h0.8v0.8h-0.8zM479.3 426.1h0.8v0.8h-0.8zM476.6 433.5h0.8v0.8h-0.8zM478.4 432.9h0.8v0.8h-0.8zM472.4 430.7h0.8v0.8h-0.8zM480.1 435h0.8v0.8h-0.8zM473.9 443.5h0.8v0.8h-0.8zM467.8 437.5h0.8v0.8h-0.8zM478 442.1h0.8v0.8h-0.8zM477.6 432.5h0.8v0.8h-0.8zM476.7 443.3h0.8v0.8h-0.8zM478.7 434.4h0.8v0.8h-0.8zM468.3 436.2h0.8v0.8h-0.8zM475.6 442.6h0.8v0.8h-0.8zM476 442.9h0.8v0.8h-0.8zM479.4 437.3h0.8v0.8h-0.8zM477.9 431.4h0.8v0.8h-0.8zM478 442.4h0.8v0.8h-0.8zM473.5 444h0.8v0.8h-0.8zM501.9 420.3h0.8v0.8h-0.8zM504.7 416.1h0.8v0.8h-0.8zM504 415.9h0.8v0.8h-0.8zM508.6 420.9h0.8v0.8h-0.8zM508.3 421.4h0.8v0.8h-0.8zM511.3 416.9h0.8v0.8h-0.8zM501.9 419.2h0.8v0.8h-0.8zM502.7 417.9h0.8v0.8h-0.8zM505.5 415h0.8v0.8h-0.8zM510.9 416.3h0.8v0.8h-0.8zM507.6 421.3h0.8v0.8h-0.8zM501.8 420.1h0.8v0.8h-0.8zM504.8 422.3h0.8v0.8h-0.8zM504.4 415.6h0.8v0.8h-0.8zM509.2 415.5h0.8v0.8h-0.8zM503.4 421.4h0.8v0.8h-0.8zM509.8 416.5h0.8v0.8h-0.8zM508.2 421.7h0.8v0.8h-0.8z" fill="#0030f0"/>
<path d="M475.1 427.1h0.8v0.8h-0.8zM474.2 427.1h0.8v0.8h-0.8zM478.6 432h0.8v0.8h-0.8zM475.4 426h0.8v0.8h-0.8zM477.5 425.3h0.8v0.8h-0.8zM473.6 431.2h0.8v0.8h-0.8zM476.3 425.8h0.8v0.8h-0.8zM479.4 426.6h0.8v0.8h-0.8zM475.7 426h0.8v0.8h-0.8zM479.5 431.6h0.8v0.8h-0.8zM475.7 433.3h0.8v0.8h-0.8zM477.2 426.2h0.8v0.8h-0.8zM479.9 428h0.8v0.8h-0.8zM479.4 427.5h0.8v0.8h-0.8zM474.2 443.6h0.8v0.8h-0.8zM475.3 443.2h0.8v0.8h-0.8zM479.1 436.6h0.8v0.8h-0.8zM475.7 432.8h0.8v0.8h-0.8zM476.8 441.9h0.8v0.8h-0.8zM474.1 444.1h0.8v0.8h-0.8zM469.6 435.5h0.8v0.8h-0.8zM478.3 438.4h0.8v0.8h-0.8zM478.3 432.9h0.8v0.8h-0.8zM479.3 435.6h0.8v0.8h-0.8zM475.3 432.4h0.8v0.8h-0.8zM468.5 435h0.8v0.8h-0.8zM472.9 432.3h0.8v0.8h-0.8zM471.6 433.2h0.8v0.8h-0.8zM504.1 417h0.8v0.8h-0.8zM503.6 417.1h0.8v0.8h-0.8zM502.7 420.1h0.8v0.8h-0.8zM507.2 421.3h0.8v0.8h-0.8z" fill="#0048f0"/>
<path d="M478.9 427h0.8v0.8h-0.8zM475.2 433.2h0.8v0.8h-0.8zM475.2 427h0.8v0.8h-0.8zM479.6 430.3h0.8v0.8h-0.8zM478.2 439.5h0.8v0.8h-0.8zM468.6 439.9h0.8v0.8h-0.8zM476.8 433.9h0.8v0.8h-0.8zM503.8 417.4h0.8v0.8h-0.8zM503.3 418.8h0.8v0.8h-0.8zM510.1 418.6h0.8v0.8h-0.8zM508 420.6h0.8v0.8h-0.8zM510.2 417.3h0.8v0.8h-0.8z" fill="#0060f0"/>
<path d="M474.2 428h0.8v0.8h-0.8zM474.1 431.7h0.8v0.8h-0.8zM476.8 432.5h0.8v0.8h-0.8zM478.4 436.1h0.8v0.8h-0.8zM470 437.1h0.8v0.8h-0.8zM477.5 436.1h0.8v0.8h-0.8zM469 438.3h0.8v0.8h-0.8zM472 442.3h0.8v0.8h-0.8zM508.1 420.3h0.8v0.8h-0.8z" fill="#0078f0"/>
<path d="M475.5 427.1h0.8v0.8h-0.8zM474.2 431.1h0.8v0.8h-0.8zM469.5 437.2h0.8v0.8h-0.8zM476 441.1h0.8v0.8h-0.8zM470.1 439.2h0.8v0.8h-0.8zM506.1 421.2h0.8v0.8h-0.8zM508.7 419.4h0.8v0.8h-0.8zM509.2 418.1h0.8v0.8h-0.8zM507.8 420.9h0.8v0.8h-0.8zM508.9 420.2h0.8v0.8h-0.8z" fill="#0078d8"/>
<path d="M475.8 432.7h0.8v0.8h-0.8zM479.8 438.3h0.8v0.8h-0.8zM471.9 419.4h0.8v0.8h-0.8zM479.4 428.8h0.8v0.8h-0.8zM477.9 426.3h0.8v0.8h-0.8zM476.4 426.3h0.8v0.8h-0.8zM484.1 422.4h0.8v0.8h-0.8zM474.9 428.3h0.8v0.8h-0.8zM476.5 435.2h0.8v0.8h-0.8zM475.5 433.1h0.8v0.8h-0.8zM472.4 433.1h0.8v0.8h-0.8zM475 433.4h0.8v0.8h-0.8zM470.6 440.5h0.8v0.8h-0.8zM471.9 434.1h0.8v0.8h-0.8zM506.1 421.1h0.8v0.8h-0.8zM509.5 418.2h0.8v0.8h-0.8zM510.1 422.6h0.8v0.8h-0.8zM505.8 416.3h0.8v0.8h-0.8zM504.2 417h0.8v0.8h-0.8zM505.9 421.1h0.8v0.8h-0.8zM509.7 417.6h0.8v0.8h-0.8zM497.3 427.2h0.8v0.8h-0.8zM511.7 408.2h0.8v0.8h-0.8zM504.1 420.5h0.8v0.8h-0.8z" fill="#0090d8"/>
<path d="M477 438.5h0.8v0.8h-0.8zM503.9 417.7h0.8v0.8h-0.8zM506.9 416.7h0.8v0.8h-0.8zM507.8 416.4h0.8v0.8h-0.8z" fill="#00a8d8"/>
<path d="M490.8 428.1h0.8v0.8h-0.8zM478 427.4h0.8v0.8h-0.8zM476.9 432.2h0.8v0.8h-0.8zM473.4 441.1h0.8v0.8h-0.8zM469.9 438.3h0.8v0.8h-0.8zM470.4 435.8h0.8v0.8h-0.8zM475.1 433h0.8v0.8h-0.8zM470 439.5h0.8v0.8h-0.8zM506.5 420.5h0.8v0.8h-0.8zM508.4 416.3h0.8v0.8h-0.8zM523.7 409.2h0.8v0.8h-0.8zM502.5 415.2h0.8v0.8h-0.8zM497.5 412.8h0.8v0.8h-0.8zM504.2 417.4h0.8v0.8h-0.8zM504.4 419.6h0.8v0.8h-0.8z" fill="#00a8c0"/>
<path d="M476.6 431.7h0.8v0.8h-0.8zM477.8 430.7h0.8v0.8h-0.8zM471.3 435.6h0.8v0.8h-0.8zM475 440.1h0.8v0.8h-0.8zM506.2 416.5h0.8v0.8h-0.8z" fill="#00c0c0"/>
<path d="M478.2 427.9h0.8v0.8h-0.8zM478 446.2h0.8v0.8h-0.8zM476.8 430.7h0.8v0.8h-0.8zM471 437.3h0.8v0.8h-0.8zM476.7 439.2h0.8v0.8h-0.8zM473.6 440.5h0.8v0.8h-0.8zM472.1 441.9h0.8v0.8h-0.8zM500.4 429.4h0.8v0.8h-0.8zM505 420.6h0.8v0.8h-0.8zM504.9 417.4h0.8v0.8h-0.8z" fill="#00c0a8"/>
<path d="M477.9 427.8h0.8v0.8h-0.8zM475.9 435.1h0.8v0.8h-0.8zM475.6 431.1h0.8v0.8h-0.8zM472.2 435.3h0.8v0.8h-0.8zM475.9 434.9h0.8v0.8h-0.8zM476.2 439.9h0.8v0.8h-0.8zM476.6 437h0.8v0.8h-0.8zM503.3 404.1h0.8v0.8h-0.8zM508.4 419.7h0.8v0.8h-0.8z" fill="#00c090"/>
<path d="M475.1 428.3h0.8v0.8h-0.8zM469.4 430.5h0.8v0.8h-0.8zM478.7 429h0.8v0.8h-0.8zM474.3 435h0.8v0.8h-0.8zM473.8 439.9h0.8v0.8h-0.8zM471 437h0.8v0.8h-0.8zM475.9 437.5h0.8v0.8h-0.8zM473.5 441.5h0.8v0.8h-0.8zM472.6 434.6h0.8v0.8h-0.8zM507.9 431.7h0.8v0.8h-0.8zM512.2 422.5h0.8v0.8h-0.8zM505.5 417.7h0.8v0.8h-0.8z" fill="#00c078"/>
<path d="M475.3 430.2h0.8v0.8h-0.8zM476.6 427.4h0.8v0.8h-0.8zM469.2 433h0.8v0.8h-0.8zM477.2 431.2h0.8v0.8h-0.8zM478.6 410.9h0.8v0.8h-0.8zM475.6 435h0.8v0.8h-0.8zM472.6 441.2h0.8v0.8h-0.8zM507.9 417.5h0.8v0.8h-0.8zM502.6 416.6h0.8v0.8h-0.8zM504.9 417.9h0.8v0.8h-0.8zM504.6 420h0.8v0.8h-0.8z" fill="#00c060"/>
<path d="M473.5 440.3h0.8v0.8h-0.8zM473.2 441.2h0.8v0.8h-0.8z" fill="#18c060"/>
<path d="M475.2 429.1h0.8v0.8h-0.8zM475.4 415.1h0.8v0.8h-0.8zM481.5 422.8h0.8v0.8h-0.8zM475.7 439.3h0.8v0.8h-0.8zM473.6 440.6h0.8v0.8h-0.8zM475.9 437.4h0.8v0.8h-0.8zM471.4 439.3h0.8v0.8h-0.8zM505.6 405.8h0.8v0.8h-0.8z" fill="#18c048"/>
<path d="M475.5 428.5h0.8v0.8h-0.8zM475.5 429.1h0.8v0.8h-0.8zM478.1 430h0.8v0.8h-0.8zM476.6 430.9h0.8v0.8h-0.8zM470.7 437.9h0.8v0.8h-0.8zM470.9 438.3h0.8v0.8h-0.8zM500.1 411.4h0.8v0.8h-0.8zM505.1 419.5h0.8v0.8h-0.8zM506.8 417.4h0.8v0.8h-0.8zM502.9 409.1h0.8v0.8h-0.8z" fill="#18c030"/>
<path d="M472.8 440.6h0.8v0.8h-0.8z" fill="#18c018"/>
<path d="M483.6 420.7h0.8v0.8h-0.8zM466 430h0.8v0.8h-0.8zM472.3 435.7h0.8v0.8h-0.8z" fill="#30c018"/>
<path d="M471.5 437h0.8v0.8h-0.8zM475.1 437.2h0.8v0.8h-0.8zM520.6 403.6h0.8v0.8h-0.8zM488.6 430.1h0.8v0.8h-0.8z" fill="#48c018"/>
<path d="M485.2 430.1h0.8v0.8h-0.8z" fill="#48d818"/>
<path d="M475.2 430h0.8v0.8h-0.8zM474.5 422h0.8v0.8h-0.8zM506.2 419.9h0.8v0.8h-0.8zM506.1 419.1h0.8v0.8h-0.8zM508.6 428.9h0.8v0.8h-0.8z" fill="#60d800"/>
<path d="M467.1 430.6h0.8v0.8h-0.8zM472.1 439.1h0.8v0.8h-0.8zM507.9 421.8h0.8v0.8h-0.8z" fill="#78d800"/>
<path d="M475.9 430.5h0.8v0.8h-0.8zM472.2 439h0.8v0.8h-0.8zM493.3 439.1h0.8v0.8h-0.8zM511.6 414.6h0.8v0.8h-0.8z" fill="#90d800"/>
<path d="M475.6 430.1h0.8v0.8h-0.8zM475.6 430.1h0.8v0.8h-0.8zM480.7 427.8h0.8v0.8h-0.8zM475.2 431.1h0.8v0.8h-0.8zM474.9 432.9h0.8v0.8h-0.8zM474 436.1h0.8v0.8h-0.8zM508.3 413.6h0.8v0.8h-0.8z" fill="#a8d800"/>
<path d="M463.8 445.9h0.8v0.8h-0.8zM474.1 438.6h0.8v0.8h-0.8zM536.3 406.9h0.8v0.8h-0.8zM522.2 421.6h0.8v0.8h-0.8z" fill="#c0d800"/>
<path d="M475.8 430.4h0.8v0.8h-0.8zM474.2 437.7h0.8v0.8h-0.8zM474.5 436.8h0.8v0.8h-0.8z" fill="#c0c000"/>
<path d="M470.5 433.1h0.8v0.8h-0.8zM483.1 427.3h0.8v0.8h-0.8zM507.2 418h0.8v0.8h-0.8zM505.6 417.1h0.8v0.8h-0.8zM501.4 411.2h0.8v0.8h-0.8z" fill="#d8c000"/>
<path d="M477.2 429.2h0.8v0.8h-0.8zM511.9 419h0.8v0.8h-0.8zM506.1 418.3h0.8v0.8h-0.8zM498.1 431.2h0.8v0.8h-0.8zM500.4 415.6h0.8v0.8h-0.8zM506 419.2h0.8v0.8h-0.8z" fill="#d8a800"/>
<path d="M480.6 409.5h0.8v0.8h-0.8zM491.8 436.8h0.8v0.8h-0.8zM486.2 428.9h0.8v0.8h-0.8z" fill="#f09000"/>
<path d="M504.8 414.1h0.8v0.8h-0.8zM522.1 409.1h0.8v0.8h-0.8zM511.1 424.8h0.8v0.8h-0.8z" fill="#f07800"/>
<path d="M480.7 434.1h0.8v0.8h-0.8zM500.5 413h0.8v0.8h-0.8zM518.8 419h0.8v0.8h-0.8z" fill="#f06000"/>
<path d="M473.2 437.5h0.8v0.8h-0.8z" fill="#f01800"/>
<path d="M628.8 411.1h1v1h-1zM625.3 408.9h1v1h-1zM621.7 416.9h1v1h-1zM632 421h1v1h-1zM624.6 446.5h1v1h-1zM621.3 423.1h1v1h-1zM622 439.3h1v1h-1zM621.3 429.1h1v1h-1zM633.6 418h1v1h-1zM629.2 409h1v1h-1zM623.4 436.7h1v1h-1zM631.8 414.4h1v1h-1zM618 431.9h1v1h-1zM617.9 427.6h1v1h-1zM631.9 416.1h1v1h-1zM621.9 417.2h1v1h-1zM638.1 407.1h1v1h-1zM622.2 415.5h1v1h-1zM632.1 427.4h1v1h-1zM618.1 433h1v1h-1zM621.9 408.8h1v1h-1zM619.8 420.5h1v1h-1zM634.7 412.4h1v1h-1zM619.9 420.8h1v1h-1zM624.8 433.8h1v1h-1zM621.1 439.7h1v1h-1zM617.6 424.2h1v1h-1zM619.7 448.9h1v1h-1zM621.4 426.9h1v1h-1zM618.5 437.9h1v1h-1zM616.7 427.9h1v1h-1zM627.4 427.8h1v1h-1zM630 423.8h1v1h-1zM637.2 426.6h1v1h-1zM620.1 435h1v1h-1zM633.7 411.7h1v1h-1zM621.9 418.5h1v1h-1zM616.6 415.6h1v1h-1zM616.4 444.9h1v1h-1zM623.2 434.1h1v1h-1zM625.5 429.7h1v1h-1zM627.9 425.3h1v1h-1zM620.8 424.9h1v1h-1zM629.4 406.1h1v1h-1zM624.4 411h1v1h-1zM627 411.9h1v1h-1zM625.8 411.5h1v1h-1zM629.4 420.8h1v1h-1zM635.7 418.9h1v1h-1zM622.4 432.7h1v1h-1zM628.8 424.6h1v1h-1zM620.3 408.4h1v1h-1zM623.3 429.2h1v1h-1zM615.5 417.5h1v1h-1zM637 408.8h1v1h-1zM629.8 412.8h1v1h-1zM633.9 417.2h1v1h-1zM621.9 444.4h1v1h-1zM629.2 434.3h1v1h-1zM629.2 410.2h1v1h-1zM623.1 430.7h1v1h-1zM631.2 432.8h1v1h-1zM621.4 413.7h1v1h-1zM626.4 411h1v1h-1zM632.3 421.6h1v1h-1zM622.2 435.9h1v1h-1zM615 430.7h1v1h-1zM631.6 415.6h1v1h-1zM624 446h1v1h-1zM629.2 411.2h1v1h-1zM615.6 436.9h1v1h-1zM622.6 413.2h1v1h-1zM621.4 444.5h1v1h-1zM621.7 414.3h1v1h-1zM630.4 417.3h1v1h-1zM620.3 441.7h1v1h-1zM623.4 433.2h1v1h-1zM624.7 429.8h1v1h-1zM627.9 406.8h1v1h-1zM614.9 429.3h1v1h-1zM629.8 423.2h1v1h-1zM629.4 410.2h1v1h-1zM630.5 426.4h1v1h-1zM616.6 414.5h1v1h-1zM618 431.7h1v1h-1zM624.3 433.7h1v1h-1zM623.4 413.4h1v1h-1zM626.8 429.6h1v1h-1zM632.4 409.9h1v1h-1zM616.6 427h1v1h-1zM631.4 411.2h1v1h-1zM631.2 429.1h1v1h-1zM617.9 417h1v1h-1zM632.8 427.3h1v1h-1zM629.3 421.3h1v1h-1zM628.4 406.3h1v1h-1zM623.6 416h1v1h-1zM622.9 412.8h1v1h-1zM616.3 414.3h1v1h-1zM625.8 441.1h1v1h-1zM618.2 419.1h1v1h-1zM634.4 405.7h1v1h-1zM626.1 403.9h1v1h-1zM623.9 434.4h1v1h-1zM630 414.3h1v1h-1zM614.4 433.8h1v1h-1zM629.4 433.9h1v1h-1zM630.6 425.7h1v1h-1zM629.7 426.1h1v1h-1zM624.7 431.4h1v1h-1zM634.9 405.3h1v1h-1zM629.9 412.1h1v1h-1zM619 431.7h1v1h-1zM628.8 435.1h1v1h-1zM631.7 423.4h1v1h-1zM620 425.9h1v1h-1zM619.1 427.7h1v1h-1zM615.6 416.2h1v1h-1zM617.5 431.3h1v1h-1zM621.2 440.2h1v1h-1zM630.8 428.2h1v1h-1zM635.2 403.5h1v1h-1zM621.2 421.7h1v1h-1zM615.1 431h1v1h-1zM626.2 435.5h1v1h-1zM621.4 413.9h1v1h-1zM627.4 431.2h1v1h-1zM621.9 433.9h1v1h-1zM625.4 436.4h1v1h-1zM621.4 426.8h1v1h-1zM618.9 427.9h1v1h-1zM630 420.9h1v1h-1zM617.5 422.9h1v1h-1zM624.1 434.9h1v1h-1zM619.8 415.9h1v1h-1zM618.8 447.5h1v1h-1zM621.4 423.5h1v1h-1zM631.7 415.9h1v1h-1zM631.5 418.2h1v1h-1zM628.3 424.5h1v1h-1zM622.3 446.2h1v1h-1zM637.4 409.6h1v1h-1zM628.7 414.9h1v1h-1zM626 404.2h1v1h-1zM615.6 441.9h1v1h-1zM627.6 408.3h1v1h-1zM621.9 441.5h1v1h-1zM630.1 417.2h1v1h-1zM622.5 419.3h1v1h-1zM617.6 426.3h1v1h-1zM630.3 418.3h1v1h-1zM622.6 413.3h1v1h-1zM626.9 433.1h1v1h-1zM622.4 430.7h1v1h-1zM631 423.9h1v1h-1zM626.6 440.5h1v1h-1zM628.5 427h1v1h-1zM630.5 431.3h1v1h-1zM628 414.2h1v1h-1zM619.9 433.6h1v1h-1zM631.3 428.4h1v1h-1zM624.9 414.5h1v1h-1zM629.7 432.1h1v1h-1zM627.9 431.3h1v1h-1zM630.1 408.3h1v1h-1zM621.1 436.1h1v1h-1zM637.9 420.8h1v1h-1zM626.6 415h1v1h-1zM629.5 407.1h1v1h-1zM620.9 418.9h1v1h-1zM632.9 406.3h1v1h-1zM620.7 415h1v1h-1zM633.7 417.3h1v1h-1zM624.2 412.7h1v1h-1zM623.5 405.5h1v1h-1zM630.2 425h1v1h-1zM621.8 428.5h1v1h-1zM620.2 403.6h1v1h-1zM625.6 414.8h1v1h-1zM626.9 431.4h1v1h-1zM637.6 409.7h1v1h-1zM633.5 412.2h1v1h-1zM629.6 427.4h1v1h-1zM631.5 414.5h1v1h-1zM629.9 424.8h1v1h-1zM614.6 430h1v1h-1zM623 416.5h1v1h-1zM623.6 440.7h1v1h-1zM627.4 412.2h1v1h-1zM618.7 428.9h1v1h-1zM625.7 412.8h1v1h-1zM628.2 416.1h1v1h-1zM629.5 409.7h1v1h-1zM637.2 422h1v1h-1zM623.9 410.1h1v1h-1zM628.7 421.3h1v1h-1zM613.5 439h1v1h-1zM637 414h1v1h-1zM620.2 420.1h1v1h-1zM628.9 416.6h1v1h-1zM616.3 423.9h1v1h-1zM638.9 424.9h1v1h-1zM614.7 431.1h1v1h-1zM640.7 405.1h1v1h-1zM629.3 420.5h1v1h-1zM625.2 408.4h1v1h-1zM626.1 411.1h1v1h-1zM618 442.3h1v1h-1zM619.8 408.8h1v1h-1zM614.1 423.5h1v1h-1zM631.1 413.5h1v1h-1zM629.8 421.4h1v1h-1zM622.9 436.8h1v1h-1zM619.1 423.7h1v1h-1zM620.1 410h1v1h-1zM622.2 435.7h1v1h-1zM633.8 403.1h1v1h-1zM623 440.4h1v1h-1zM626.9 412h1v1h-1zM623.9 432.3h1v1h-1zM624.4 432.8h1v1h-1zM625.7 409.9h1v1h-1zM632.1 413.9h1v1h-1zM626.7 412.7h1v1h-1zM632.5 412.6h1v1h-1zM618.9 434.8h1v1h-1zM617.8 428.5h1v1h-1zM627.3 414.8h1v1h-1zM624.4 435.6h1v1h-1zM621.6 429.8h1v1h-1zM613.8 432.6h1v1h-1zM623.6 429.1h1v1h-1zM622.9 414.6h1v1h-1zM624 429.7h1v1h-1zM622.1 434.9h1v1h-1zM617.7 426h1v1h-1zM618.3 429.6h1v1h-1zM618.1 433.9h1v1h-1zM624.3 441.3h1v1h-1zM619.1 432.7h1v1h-1zM623.7 413.7h1v1h-1zM620.2 435.3h1v1h-1zM631.2 417.9h1v1h-1zM624.6 407.3h1v1h-1zM632.7 433.5h1v1h-1zM630.3 427.8h1v1h-1zM621.5 420.1h1v1h-1zM635 417.3h1v1h-1zM626.9 426.8h1v1h-1zM627.5 433.4h1v1h-1zM621 429.6h1v1h-1zM628.3 414.9h1v1h-1zM615.6 418.3h1v1h-1zM627.2 412.7h1v1h-1zM632.7 413.5h1v1h-1zM617.2 426.4h1v1h-1zM630.4 418.8h1v1h-1zM624.1 431.1h1v1h-1zM619.2 424.1h1v1h-1zM620.2 444h1v1h-1zM623.7 447.4h1v1h-1zM628 425.3h1v1h-1zM616.2 426.8h1v1h-1zM620.8 430.8h1v1h-1zM617.3 414.9h1v1h-1zM617 436.1h1v1h-1zM625.5 440.1h1v1h-1zM623 434h1v1h-1zM617.8 443.2h1v1h-1zM626.1 438.2h1v1h-1zM618.1 412.4h1v1h-1zM629.8 420.4h1v1h-1zM620.1 423.9h1v1h-1zM627.6 430h1v1h-1zM626.1 412h1v1h-1zM621.9 419.4h1v1h-1zM620.4 436.5h1v1h-1zM614 433.3h1v1h-1zM635.2 418.7h1v1h-1zM628.8 425.5h1v1h-1zM626.8 405.5h1v1h-1zM616.7 429.1h1v1h-1zM612.4 428.5h1v1h-1zM625.3 406.3h1v1h-1zM617.2 428.6h1v1h-1zM620.9 434.6h1v1h-1zM627 414.4h1v1h-1zM625.1 429.1h1v1h-1zM616.8 415.3h1v1h-1zM629.8 420.9h1v1h-1zM633.6 408.4h1v1h-1zM618.4 420.4h1v1h-1zM621.4 436.8h1v1h-1zM615.1 416h1v1h-1zM629.1 409.1h1v1h-1zM626.9 415.1h1v1h-1zM627.7 403.5h1v1h-1zM619.2 418.2h1v1h-1zM616.5 432.7h1v1h-1zM618 434.8h1v1h-1zM619.9 423.8h1v1h-1zM615.4 424.4h1v1h-1zM628.4 409.6h1v1h-1zM627.5 429.1h1v1h-1zM625.2 432h1v1h-1zM620.1 434.1h1v1h-1zM631.6 425.2h1v1h-1zM612.8 427.8h1v1h-1zM629.2 417.7h1v1h-1zM627.7 428.4h1v1h-1zM626 442.6h1v1h-1zM622.2 413.5h1v1h-1zM630.9 422.1h1v1h-1zM633.5 418.9h1v1h-1zM623 436.9h1v1h-1zM621.2 418h1v1h-1zM623.6 431h1v1h-1zM629.4 403.5h1v1h-1zM620.1 422.2h1v1h-1zM617 426.5h1v1h-1zM612.5 426.4h1v1h-1zM619.7 415.1h1v1h-1zM614.9 415.1h1v1h-1zM624.2 411.4h1v1h-1zM621.8 434.8h1v1h-1zM629.4 426.5h1v1h-1zM617.4 439.7h1v1h-1zM619.4 438.5h1v1h-1zM633.7 423.7h1v1h-1zM620.8 405.7h1v1h-1zM630.3 427.3h1v1h-1zM632.5 415.2h1v1h-1zM620.2 417.8h1v1h-1zM625.1 429.2h1v1h-1zM615.1 422.2h1v1h-1zM624.1 412.8h1v1h-1zM622.8 445h1v1h-1zM621.8 410h1v1h-1zM616.8 430.7h1v1h-1zM634.6 413.9h1v1h-1zM633 423.3h1v1h-1zM613.8 433.3h1v1h-1zM629.5 421.5h1v1h-1zM614 404.9h1v1h-1zM631.4 436.7h1v1h-1zM622.5 417h1v1h-1zM622 435.3h1v1h-1zM629.4 420h1v1h-1zM630.2 423.4h1v1h-1zM624.7 431h1v1h-1zM626.9 408.9h1v1h-1zM634.5 415.3h1v1h-1zM626.9 427.3h1v1h-1zM632.4 412h1v1h-1zM615.6 433.2h1v1h-1zM636.6 412h1v1h-1zM625.8 432.5h1v1h-1zM623.7 408.5h1v1h-1zM625.6 429.7h1v1h-1zM613.9 427.2h1v1h-1zM615.3 430.7h1v1h-1zM628.1 433.9h1v1h-1zM623 416h1v1h-1zM633.4 412.2h1v1h-1zM620.7 432.5h1v1h-1zM619 417.1h1v1h-1zM625.7 412.2h1v1h-1zM629.4 420.2h1v1h-1zM629.7 414.2h1v1h-1zM634 415.3h1v1h-1zM628.2 409h1v1h-1zM620.6 419.9h1v1h-1zM630.1 429.2h1v1h-1zM620.6 425.5h1v1h-1zM616.6 422.7h1v1h-1zM627.2 428.5h1v1h-1zM622.7 418h1v1h-1zM632.7 429.6h1v1h-1zM626 411h1v1h-1zM629.3 438h1v1h-1zM625 435.3h1v1h-1zM631.3 411.2h1v1h-1zM630 409.6h1v1h-1zM619.1 421.8h1v1h-1zM633.2 409.8h1v1h-1zM621 418.3h1v1h-1zM635.1 408h1v1h-1zM620.1 418.5h1v1h-1zM624.1 431.7h1v1h-1zM625.5 408.2h1v1h-1zM623.9 414.6h1v1h-1zM630.6 428h1v1h-1zM621.1 423.9h1v1h-1zM613.2 435.8h1v1h-1zM617.3 429.3h1v1h-1zM633.1 429.8h1v1h-1zM624.1 416h1v1h-1zM632 425h1v1h-1zM622.3 410.7h1v1h-1zM628.6 430h1v1h-1zM625 414.8h1v1h-1zM615.8 428.6h1v1h-1zM624.8 430.6h1v1h-1zM622.2 403.6h1v1h-1zM618.9 432.4h1v1h-1zM630.9 427.1h1v1h-1zM625.8 429.9h1v1h-1zM616.3 419.7h1v1h-1zM624.5 441.2h1v1h-1zM621.1 422.7h1v1h-1zM633.4 410.3h1v1h-1zM635.7 408.6h1v1h-1zM615.6 427.3h1v1h-1zM624.1 444.8h1v1h-1zM628.2 432h1v1h-1zM623 444.6h1v1h-1zM630.6 411.6h1v1h-1zM624.2 442.5h1v1h-1zM632.7 423.2h1v1h-1zM632.4 430.9h1v1h-1zM633.5 416.5h1v1h-1zM619.3 431.7h1v1h-1zM633.1 423.8h1v1h-1zM618.8 418h1v1h-1zM628.9 410.9h1v1h-1zM622.7 411.1h1v1h-1zM615.6 426h1v1h-1zM617.1 432.4h1v1h-1zM619 426.6h1v1h-1zM628.9 432.9h1v1h-1zM624.6 435.1h1v1h-1zM627 415.2h1v1h-1zM615.7 417.9h1v1h-1zM625.1 410.9h1v1h-1zM624.7 415h1v1h-1zM618.1 412.1h1v1h-1zM633.3 428.5h1v1h-1zM620.7 412.5h1v1h-1zM626.9 434.5h1v1h-1zM629.5 411.1h1v1h-1zM621.1 447.8h1v1h-1zM630.6 413.2h1v1h-1zM628.9 411.8h1v1h-1zM630 413.3h1v1h-1zM625.2 442.7h1v1h-1zM634.6 411.1h1v1h-1zM630.9 425.1h1v1h-1zM620.8 436.8h1v1h-1zM621.3 418h1v1h-1zM619.7 433.7h1v1h-1zM616.8 433h1v1h-1zM617.9 424.9h1v1h-1zM622.1 408.9h1v1h-1zM619.8 425.6h1v1h-1zM621 423h1v1h-1zM633.8 411.1h1v1h-1zM627 433.3h1v1h-1zM620.9 434.4h1v1h-1zM632.5 412.9h1v1h-1zM631.5 427.8h1v1h-1zM620.6 416.7h1v1h-1zM622.4 405.6h1v1h-1zM624.4 432.2h1v1h-1zM637.8 414.3h1v1h-1zM623 404.2h1v1h-1zM621.6 430.4h1v1h-1zM630.5 409.5h1v1h-1zM622.1 430.7h1v1h-1zM621.1 412.1h1v1h-1zM616.9 414h1v1h-1zM629.2 433.4h1v1h-1zM639.1 412.7h1v1h-1zM620.1 437.7h1v1h-1zM622.4 415.5h1v1h-1zM630.4 419.6h1v1h-1zM614.5 417.7h1v1h-1zM630 424.5h1v1h-1zM626.4 411.6h1v1h-1zM634.9 412.1h1v1h-1zM620.1 413.7h1v1h-1zM627.2 411.4h1v1h-1zM629.4 426.5h1v1h-1zM631.5 407h1v1h-1zM640.9 418.7h1v1h-1zM619.1 442.4h1v1h-1zM614.1 431.9h1v1h-1zM627.4 431.7h1v1h-1zM627.6 439.4h1v1h-1zM629.2 411.4h1v1h-1zM630 418.6h1v1h-1zM617.6 433.5h1v1h-1zM620.2 426h1v1h-1zM623.1 433.1h1v1h-1zM628.5 421.4h1v1h-1zM622.5 442.8h1v1h-1zM630 437.6h1v1h-1zM624.3 438.3h1v1h-1zM633.2 416.3h1v1h-1zM617.6 420.1h1v1h-1zM632.5 430.2h1v1h-1zM634.7 424.3h1v1h-1zM630.8 436.8h1v1h-1zM622.5 435.8h1v1h-1zM630.5 407.9h1v1h-1zM628.9 423.5h1v1h-1zM625.2 404.8h1v1h-1zM616.6 420.3h1v1h-1zM618.1 429.3h1v1h-1zM630.9 429.7h1v1h-1zM629 430.2h1v1h-1zM619.8 430.3h1v1h-1zM614.3 425.5h1v1h-1zM623.5 406.5h1v1h-1zM619.4 439.7h1v1h-1zM627.4 431.9h1v1h-1zM621.9 434.9h1v1h-1zM627.8 409.9h1v1h-1zM631.3 434.9h1v1h-1zM616 438.3h1v1h-1zM621.6 408.7h1v1h-1zM628.6 414.8h1v1h-1zM630.9 414.5h1v1h-1zM619.9 427.6h1v1h-1zM627.4 426.9h1v1h-1zM622.3 421.6h1v1h-1zM612.1 443.6h1v1h-1zM630.9 429h1v1h-1zM613.6 427.8h1v1h-1zM615.3 431.3h1v1h-1zM625.3 446.3h1v1h-1zM620.9 422.2h1v1h-1zM624.7 416.7h1v1h-1zM616.1 457.3h1v1h-1zM618.7 453.8h1v1h-1zM628.8 427h1v1h-1zM618.6 424.7h1v1h-1zM631.6 426.5h1v1h-1zM618.1 423.6h1v1h-1zM611.3 438.6h1v1h-1zM626.2 413h1v1h-1zM629.8 428h1v1h-1zM622.9 447.6h1v1h-1zM628.8 416.8h1v1h-1zM614.7 448.5h1v1h-1zM624.6 419.8h1v1h-1zM612 430.4h1v1h-1zM625.7 409.6h1v1h-1zM622.1 447.6h1v1h-1zM631.8 433.3h1v1h-1zM622.3 417.3h1v1h-1zM613.8 449.4h1v1h-1zM613.5 451.8h1v1h-1zM626.3 438.5h1v1h-1zM628.9 434.5h1v1h-1zM623 453.8h1v1h-1zM630.1 430.4h1v1h-1zM610.5 443.7h1v1h-1zM617.7 421.2h1v1h-1zM613.7 438h1v1h-1zM622 421.8h1v1h-1zM610.1 444.9h1v1h-1zM624.7 442.2h1v1h-1zM616.2 450h1v1h-1zM613.2 456.5h1v1h-1zM628 445.6h1v1h-1zM628.3 435.9h1v1h-1zM629.2 408.2h1v1h-1zM611.1 451.7h1v1h-1zM628.3 440.1h1v1h-1zM620.9 415.5h1v1h-1zM621.5 447.1h1v1h-1zM615.3 450.5h1v1h-1zM626.7 444.1h1v1h-1zM627.4 435.2h1v1h-1zM625.5 415.5h1v1h-1zM623.1 447h1v1h-1zM611.4 437.1h1v1h-1zM611.6 436.3h1v1h-1zM618.9 420.5h1v1h-1zM621.1 423.2h1v1h-1zM630 422.8h1v1h-1zM622.3 417.7h1v1h-1zM616.9 452h1v1h-1zM624 443h1v1h-1zM619.3 451.4h1v1h-1zM628 434.9h1v1h-1zM619.4 421.3h1v1h-1zM627.7 442.4h1v1h-1zM614.3 445.4h1v1h-1zM615.2 431.8h1v1h-1zM610.2 443.2h1v1h-1zM613.3 439.8h1v1h-1zM629.1 419.1h1v1h-1zM611.8 445.1h1v1h-1zM622.3 454.1h1v1h-1zM617.2 450.6h1v1h-1zM629.3 432.7h1v1h-1zM613.1 446h1v1h-1zM628.7 434.4h1v1h-1zM618.9 448.8h1v1h-1zM626 438.8h1v1h-1zM615.4 434.3h1v1h-1zM630.2 435.7h1v1h-1zM629 429.1h1v1h-1zM625.6 442.7h1v1h-1zM620.5 424.3h1v1h-1zM619.2 418.8h1v1h-1zM630.4 426.6h1v1h-1zM616.1 455h1v1h-1zM613.5 449.6h1v1h-1zM620.3 449.3h1v1h-1zM610.8 447.9h1v1h-1zM615.9 432.5h1v1h-1zM612.2 436.8h1v1h-1zM620.8 450.9h1v1h-1zM629.6 434h1v1h-1zM621 451.2h1v1h-1zM622.1 449.3h1v1h-1zM629.3 416.2h1v1h-1zM618.2 425.3h1v1h-1zM616.8 449.9h1v1h-1zM616.6 449h1v1h-1zM625.7 419.7h1v1h-1zM613.7 446.3h1v1h-1zM615.3 428.9h1v1h-1zM615.4 429.6h1v1h-1zM618.9 450.1h1v1h-1zM630.1 416.4h1v1h-1zM616.5 427.3h1v1h-1zM622.1 420.7h1v1h-1zM620.3 453.1h1v1h-1zM611.1 437.4h1v1h-1zM628.7 432.7h1v1h-1zM617.2 425.7h1v1h-1zM630.6 422.7h1v1h-1zM622.9 447.9h1v1h-1zM627.5 412.9h1v1h-1zM630.5 426.5h1v1h-1zM612.7 448.6h1v1h-1zM623.1 448.5h1v1h-1zM621.5 449.2h1v1h-1zM628.6 444.4h1v1h-1zM617.9 452h1v1h-1zM630.5 433.1h1v1h-1zM611.8 431.3h1v1h-1zM618.2 455.3h1v1h-1zM627.1 436h1v1h-1zM624.6 418.6h1v1h-1zM618.5 458.4h1v1h-1zM611.1 452.6h1v1h-1zM623.2 421.5h1v1h-1zM609.7 440.4h1v1h-1zM626.6 441.3h1v1h-1zM614.8 453.7h1v1h-1zM623.9 445.5h1v1h-1zM628.4 442.3h1v1h-1zM614 451.7h1v1h-1zM622 412.6h1v1h-1zM612.1 451.7h1v1h-1zM611.9 442.3h1v1h-1zM626.2 441.8h1v1h-1zM628.1 439.4h1v1h-1zM614.1 432.5h1v1h-1zM627.1 421.2h1v1h-1zM613.3 446.1h1v1h-1zM626.4 447.9h1v1h-1zM624.9 445h1v1h-1zM614.2 434.5h1v1h-1zM631.7 432h1v1h-1zM621.6 449.3h1v1h-1zM630 422.4h1v1h-1zM621.1 451.1h1v1h-1zM612.9 438.6h1v1h-1zM621.2 419.3h1v1h-1zM631.3 432h1v1h-1zM622.6 418.8h1v1h-1zM611.3 445.8h1v1h-1zM615.3 448.7h1v1h-1zM605.6 449.3h1v1h-1zM621.8 447.8h1v1h-1zM624.7 447.9h1v1h-1zM616.2 426.5h1v1h-1zM626.9 446h1v1h-1zM613.8 437.7h1v1h-1zM614.3 449.8h1v1h-1zM615.5 454.6h1v1h-1zM611.3 443.9h1v1h-1zM629.1 437.3h1v1h-1zM616.5 451h1v1h-1zM613.1 437.5h1v1h-1zM624.8 446.5h1v1h-1zM620.2 421.6h1v1h-1zM617 428.5h1v1h-1zM620.1 453.7h1v1h-1zM627.8 437.7h1v1h-1zM625.9 413h1v1h-1zM612.7 433.5h1v1h-1zM625.7 442.8h1v1h-1zM629.3 441h1v1h-1zM627.9 415.6h1v1h-1zM629.5 436.3h1v1h-1zM626.6 441.5h1v1h-1zM612.5 452h1v1h-1zM623 416.2h1v1h-1zM614.8 432.7h1v1h-1zM626.4 412.4h1v1h-1zM623.8 444.9h1v1h-1zM620.8 455.7h1v1h-1zM617.1 422.5h1v1h-1zM613.3 450.8h1v1h-1zM621.4 420.9h1v1h-1zM620.1 418.8h1v1h-1zM615 429.2h1v1h-1zM628.7 430.5h1v1h-1zM631.9 433.4h1v1h-1zM618.3 425.1h1v1h-1zM632.3 423.3h1v1h-1zM617.3 427.5h1v1h-1zM611.1 443.8h1v1h-1zM626.4 440h1v1h-1zM613.5 446.4h1v1h-1zM612.1 451.2h1v1h-1zM625.5 416.1h1v1h-1zM626 414.2h1v1h-1zM622.7 449.9h1v1h-1zM626.1 440.4h1v1h-1zM628.2 417.9h1v1h-1zM611 443.5h1v1h-1zM613.1 446.6h1v1h-1zM618.5 452.9h1v1h-1zM622.3 446.9h1v1h-1zM625.7 412.7h1v1h-1zM620.5 448.1h1v1h-1zM623.2 447h1v1h-1zM629.1 428.7h1v1h-1zM612.1 431.5h1v1h-1zM631.6 421.2h1v1h-1zM609.1 453.2h1v1h-1zM617.1 454.5h1v1h-1zM614 451.7h1v1h-1zM614.4 430.2h1v1h-1zM626.9 440.4h1v1h-1zM619 452.5h1v1h-1zM616.4 429.6h1v1h-1zM627.4 419.8h1v1h-1zM606.5 456.3h1v1h-1zM623.6 416.9h1v1h-1zM622.6 421.3h1v1h-1zM616 424h1v1h-1zM613.5 437.6h1v1h-1zM626.8 421.9h1v1h-1zM625.1 415.7h1v1h-1zM629.1 420.6h1v1h-1zM614.4 456.1h1v1h-1zM624.7 445.7h1v1h-1zM619.5 452.3h1v1h-1zM618.6 451.5h1v1h-1zM611.6 453.3h1v1h-1zM624.9 447.2h1v1h-1z" fill="#1818f0"/>
<path d="M621.2 425.7h1v1h-1zM629 420.3h1v1h-1zM616.8 448h1v1h-1zM627.2 421.7h1v1h-1zM614.7 444.9h1v1h-1zM621.2 448.7h1v1h-1zM626.6 423.6h1v1h-1zM613.7 440.6h1v1h-1z" fill="#0018f0"/>
<path d="M626.5 414.9h1v1h-1zM622.7 418.8h1v1h-1zM627.9 422.3h1v1h-1zM628.1 421.6h1v1h-1zM623.8 417.8h1v1h-1zM626.6 416.5h1v1h-1zM623.3 428.5h1v1h-1zM624.6 429h1v1h-1zM621.4 425.5h1v1h-1zM621.8 426.2h1v1h-1zM621.9 421.6h1v1h-1zM622.8 419.9h1v1h-1zM627.9 422.1h1v1h-1zM624.8 429h1v1h-1zM621.7 428.3h1v1h-1zM624.7 428.4h1v1h-1zM628.6 421.2h1v1h-1zM627 415.6h1v1h-1zM623.1 417.7h1v1h-1zM627.4 416.6h1v1h-1zM628.9 418.8h1v1h-1zM625.7 416h1v1h-1zM624.3 429h1v1h-1zM621.6 428.5h1v1h-1zM622.1 426.8h1v1h-1zM626.5 415.3h1v1h-1zM622.9 428.4h1v1h-1zM621.7 425.4h1v1h-1zM623.1 423.7h1v1h-1zM616.7 448.4h1v1h-1zM617.6 427h1v1h-1zM618.7 427.9h1v1h-1zM628.1 430.4h1v1h-1zM619.9 449.8h1v1h-1zM621.7 422.9h1v1h-1zM625.6 438.3h1v1h-1zM615.6 436.6h1v1h-1zM627.3 433.5h1v1h-1zM627.2 434.6h1v1h-1zM619.7 425.9h1v1h-1zM623.2 422.1h1v1h-1zM626.5 437.7h1v1h-1zM627 423h1v1h-1zM614.1 443.2h1v1h-1zM614.8 441.5h1v1h-1zM615 442.9h1v1h-1zM616.2 448.1h1v1h-1zM619.9 426.5h1v1h-1zM615.1 441.7h1v1h-1zM626.9 438.5h1v1h-1zM617.7 449.8h1v1h-1zM619.2 427.1h1v1h-1zM620.9 422.1h1v1h-1zM622.2 445h1v1h-1zM628.3 425.8h1v1h-1zM619.6 446.7h1v1h-1zM614.3 445h1v1h-1zM627.4 428.7h1v1h-1zM628.5 428h1v1h-1zM625.1 441.9h1v1h-1zM624.2 424.1h1v1h-1zM620 449.7h1v1h-1zM614.7 443.5h1v1h-1zM621.1 448.9h1v1h-1zM627.1 432.4h1v1h-1zM627.2 434.2h1v1h-1zM615 436.7h1v1h-1zM617.9 428.8h1v1h-1zM621.7 423.4h1v1h-1zM615.3 448.1h1v1h-1zM615.8 449.1h1v1h-1zM624.7 441.4h1v1h-1zM626.3 424.3h1v1h-1zM616.4 448.6h1v1h-1zM617.2 431.4h1v1h-1zM615.1 447.7h1v1h-1zM627.6 430.6h1v1h-1zM615.4 446.9h1v1h-1zM621.8 447.1h1v1h-1zM616 448.8h1v1h-1zM616.6 428.7h1v1h-1zM623.5 423.2h1v1h-1zM617.2 450.1h1v1h-1zM623.6 422.8h1v1h-1zM618.6 427.8h1v1h-1zM617.7 450h1v1h-1zM621.9 422.9h1v1h-1zM623.9 443.2h1v1h-1zM620 425.5h1v1h-1z" fill="#0030f0"/>
<path d="M624.4 427.6h1v1h-1zM628 422.4h1v1h-1zM622.1 421.3h1v1h-1zM625.1 417h1v1h-1zM622.9 421.3h1v1h-1zM625.7 427.6h1v1h-1zM628.2 421.1h1v1h-1zM623.2 428.5h1v1h-1zM621.9 426.1h1v1h-1zM627.8 418.2h1v1h-1zM621.9 425.8h1v1h-1zM626.9 416.7h1v1h-1zM627.7 423.6h1v1h-1zM625.6 416.3h1v1h-1zM627.9 417.8h1v1h-1zM622.7 420.6h1v1h-1zM627.9 417.8h1v1h-1zM624.1 428.8h1v1h-1zM627.7 424.1h1v1h-1zM622.1 422.1h1v1h-1zM624.1 427.9h1v1h-1zM622.1 422.8h1v1h-1zM624.8 417.6h1v1h-1zM626 427.8h1v1h-1zM614.3 442.2h1v1h-1zM615.2 443.4h1v1h-1zM622.8 425h1v1h-1zM616.5 432.6h1v1h-1zM624.8 442.2h1v1h-1zM618.9 428.7h1v1h-1zM621.2 426.1h1v1h-1zM623.5 441.7h1v1h-1zM615.2 441.7h1v1h-1zM617.1 432.1h1v1h-1zM615.1 447.4h1v1h-1zM622.5 425.2h1v1h-1zM622.7 423.8h1v1h-1zM625.2 436.8h1v1h-1zM615.6 447.1h1v1h-1zM625.1 438.1h1v1h-1zM626.7 426.9h1v1h-1zM625.7 437.2h1v1h-1zM626.3 429h1v1h-1zM627.7 426h1v1h-1zM626.6 431h1v1h-1zM615.3 443.6h1v1h-1zM625.3 425.4h1v1h-1zM626.2 423.7h1v1h-1zM627.2 429.3h1v1h-1zM620.3 445.4h1v1h-1zM626.1 428.5h1v1h-1zM615.7 437.9h1v1h-1zM620 446.3h1v1h-1zM617.3 432.6h1v1h-1zM618.4 446.4h1v1h-1zM616.7 432.6h1v1h-1zM616.9 446.8h1v1h-1zM625.2 439h1v1h-1zM615.3 435h1v1h-1zM620.9 424.3h1v1h-1zM626.6 433.1h1v1h-1zM626 430.7h1v1h-1zM622.8 444.5h1v1h-1zM624.4 423.9h1v1h-1zM621.5 446.6h1v1h-1zM624.1 424.5h1v1h-1zM620.9 425.7h1v1h-1zM619.1 447.2h1v1h-1zM618.7 428.1h1v1h-1zM615.6 438.3h1v1h-1zM619.7 427.1h1v1h-1zM619.7 448.1h1v1h-1zM622.3 444.3h1v1h-1zM617.2 428.6h1v1h-1zM626.6 432.3h1v1h-1zM626.7 432.2h1v1h-1zM615.2 445.1h1v1h-1zM622.2 445.9h1v1h-1zM616 446.8h1v1h-1zM620.6 425.8h1v1h-1zM623.7 423.3h1v1h-1zM625.2 424.8h1v1h-1zM617.2 449.6h1v1h-1zM615.2 441.3h1v1h-1zM626.6 431.7h1v1h-1zM622.1 445.2h1v1h-1zM614.4 440.6h1v1h-1zM616.5 445.9h1v1h-1zM624 424.2h1v1h-1zM618.3 446h1v1h-1zM626.9 429.2h1v1h-1zM616 440.4h1v1h-1zM625.1 439.6h1v1h-1zM624.9 439.6h1v1h-1zM618.1 430.1h1v1h-1zM617 431.3h1v1h-1zM625.3 437.6h1v1h-1zM620.1 446.1h1v1h-1z" fill="#0048f0"/>
<path d="M623.6 419.3h1v1h-1zM626.7 416.8h1v1h-1zM622.8 421.8h1v1h-1zM628.1 420.4h1v1h-1zM627.8 419.7h1v1h-1zM624.1 427h1v1h-1zM627.2 423.7h1v1h-1zM627.6 419.5h1v1h-1zM623.1 421.3h1v1h-1zM623.6 427.5h1v1h-1zM622.4 424.8h1v1h-1zM627.2 417.4h1v1h-1zM628 418.5h1v1h-1zM625 417.6h1v1h-1zM627.2 423.5h1v1h-1zM626.8 432.4h1v1h-1zM615.5 440.2h1v1h-1zM624.7 440.3h1v1h-1zM615.9 433.8h1v1h-1zM619.9 428h1v1h-1zM622.7 442.2h1v1h-1zM623.1 441.6h1v1h-1zM625 427.4h1v1h-1zM622.6 425.7h1v1h-1zM616.5 434.9h1v1h-1zM624.3 424.3h1v1h-1zM622 424.5h1v1h-1zM621.4 424.8h1v1h-1zM620.3 445.4h1v1h-1zM616.6 432.7h1v1h-1zM625.2 438.1h1v1h-1zM625.6 437.9h1v1h-1zM626.7 434.4h1v1h-1zM623.1 424.6h1v1h-1zM621.4 445.8h1v1h-1zM616.6 436.8h1v1h-1zM622.5 444h1v1h-1zM615.1 441.8h1v1h-1zM624.1 426.3h1v1h-1zM624.3 422.7h1v1h-1zM621.9 444.7h1v1h-1zM615.6 437.1h1v1h-1zM622.8 424.3h1v1h-1zM615.7 441.4h1v1h-1zM626 427.9h1v1h-1zM618.1 430.2h1v1h-1zM618.8 428.3h1v1h-1zM626.1 433h1v1h-1zM621.2 443.6h1v1h-1zM616.4 442.9h1v1h-1zM616.1 439.8h1v1h-1zM620.8 445.8h1v1h-1zM618.8 427.5h1v1h-1zM620.7 425.3h1v1h-1zM619 445.2h1v1h-1zM626.3 429.5h1v1h-1zM624.9 436.8h1v1h-1zM616.7 436.4h1v1h-1zM624.1 440.6h1v1h-1zM615.5 442h1v1h-1zM617.4 445.5h1v1h-1zM616.7 443.2h1v1h-1zM626.8 428.1h1v1h-1zM620.9 426.1h1v1h-1zM627.2 428.5h1v1h-1zM624.1 423h1v1h-1zM625.9 428.8h1v1h-1zM625.5 434.8h1v1h-1zM616.7 434.8h1v1h-1zM616.8 433.6h1v1h-1zM616.2 444.6h1v1h-1zM622.2 442.5h1v1h-1zM616.7 447h1v1h-1zM620.7 446.9h1v1h-1zM620 444.8h1v1h-1zM625.2 435.4h1v1h-1zM620 447.2h1v1h-1zM618.6 429.5h1v1h-1zM615.6 437.2h1v1h-1zM616.1 447.1h1v1h-1zM622.7 426.5h1v1h-1zM625.8 434.5h1v1h-1zM621.1 446.3h1v1h-1z" fill="#0060f0"/>
<path d="M627.7 419.3h1v1h-1zM624.1 427.4h1v1h-1zM622.9 422.2h1v1h-1zM626.3 424.9h1v1h-1zM627.2 422.3h1v1h-1zM622.1 423.9h1v1h-1zM627.8 421.2h1v1h-1zM623 426.4h1v1h-1zM615.4 438.6h1v1h-1zM622.7 443.4h1v1h-1zM620.3 426.5h1v1h-1zM625.5 425h1v1h-1zM622.2 426.2h1v1h-1zM623.2 440.1h1v1h-1zM622.8 424.7h1v1h-1zM622.7 426.4h1v1h-1zM616 435.4h1v1h-1zM616.6 437.5h1v1h-1zM626.7 429h1v1h-1zM615.4 440.2h1v1h-1zM623.4 440.9h1v1h-1zM617.9 429.9h1v1h-1zM622 443.9h1v1h-1zM617.5 446.9h1v1h-1zM626.6 428.9h1v1h-1zM621.9 443.1h1v1h-1zM622.4 425.3h1v1h-1zM624.7 426h1v1h-1z" fill="#0078f0"/>
<path d="M627.3 419h1v1h-1zM625.5 418h1v1h-1zM621.6 444.5h1v1h-1zM618 443.7h1v1h-1zM616.7 435.1h1v1h-1zM623.5 424.2h1v1h-1zM625.6 426.1h1v1h-1zM622.4 425h1v1h-1zM616.6 438.7h1v1h-1zM616.4 438h1v1h-1zM615.5 439.4h1v1h-1zM626.3 434.1h1v1h-1zM616.5 439.5h1v1h-1zM625.5 434.6h1v1h-1zM623.9 425.8h1v1h-1zM617.7 444.2h1v1h-1zM618 443.4h1v1h-1zM621 443.2h1v1h-1zM615.7 441h1v1h-1z" fill="#0078d8"/>
<path d="M625.6 425.5h1v1h-1zM625.1 426.7h1v1h-1zM623.3 427.5h1v1h-1zM637.5 408.6h1v1h-1zM626.1 418.6h1v1h-1zM626.8 418h1v1h-1zM624.6 426.9h1v1h-1zM627.6 421.4h1v1h-1zM623 421.7h1v1h-1zM622.5 425.8h1v1h-1zM625.8 431.6h1v1h-1zM619.3 443.9h1v1h-1zM623.7 440.3h1v1h-1zM616.6 438h1v1h-1zM618.4 443.4h1v1h-1zM619.4 430h1v1h-1zM626.1 429.6h1v1h-1zM616.4 441h1v1h-1zM621.2 425.6h1v1h-1zM618.2 431.7h1v1h-1zM625.8 430.2h1v1h-1zM618.7 443.5h1v1h-1zM615.7 438.3h1v1h-1zM625.9 427.9h1v1h-1zM623.2 425.6h1v1h-1zM626.3 430.8h1v1h-1zM617.2 445h1v1h-1zM625.4 430.3h1v1h-1zM615.7 440.3h1v1h-1zM619.3 443.1h1v1h-1zM624.9 434.3h1v1h-1zM624 437.6h1v1h-1zM622.5 425.6h1v1h-1zM617.4 445.8h1v1h-1zM616.6 441h1v1h-1zM625.3 434.6h1v1h-1zM625 432.4h1v1h-1zM624.3 426.2h1v1h-1zM618.6 443.7h1v1h-1zM617.1 437.8h1v1h-1zM617.2 441.7h1v1h-1zM619.5 429.2h1v1h-1zM618.4 431.9h1v1h-1zM624.3 438.3h1v1h-1zM617.2 442h1v1h-1zM616.9 441.1h1v1h-1zM617.9 442.8h1v1h-1zM619.6 443.9h1v1h-1zM616.7 437.2h1v1h-1zM618.9 430h1v1h-1zM616.7 436.5h1v1h-1zM625.5 429.1h1v1h-1zM620.5 429h1v1h-1z" fill="#0090d8"/>
<path d="M620.8 442.9h1v1h-1zM617.8 445.2h1v1h-1zM619.5 429h1v1h-1zM624 427h1v1h-1zM620.5 443.5h1v1h-1zM619.3 429.6h1v1h-1zM624.1 427.6h1v1h-1zM622.6 441.3h1v1h-1zM618.7 430h1v1h-1zM619.9 444.4h1v1h-1z" fill="#00a8d8"/>
<path d="M626.8 422.1h1v1h-1zM624.5 426.2h1v1h-1zM623 421.5h1v1h-1zM626.7 419.1h1v1h-1zM623.3 420.5h1v1h-1zM627 418.4h1v1h-1zM626.5 418.2h1v1h-1zM625 434h1v1h-1zM620.4 428.1h1v1h-1zM625.1 433.7h1v1h-1zM624 426.2h1v1h-1zM620.5 429.4h1v1h-1zM616.8 435.8h1v1h-1zM623.7 439.2h1v1h-1zM624.9 432.1h1v1h-1zM625.5 432.1h1v1h-1zM618.9 432h1v1h-1zM623 428.3h1v1h-1zM624.5 435.5h1v1h-1zM619.5 442.9h1v1h-1zM624.5 436h1v1h-1zM624.5 437.5h1v1h-1zM617 443.3h1v1h-1zM621.7 428.8h1v1h-1zM620.8 443.6h1v1h-1zM618.1 442.1h1v1h-1zM617.1 440.8h1v1h-1zM618.7 443.6h1v1h-1zM617.4 443.3h1v1h-1zM622.2 440.7h1v1h-1zM625 434.6h1v1h-1zM622.9 438.9h1v1h-1zM619.1 443.7h1v1h-1zM618.5 443.3h1v1h-1zM617.9 434.2h1v1h-1zM623 440.7h1v1h-1zM621 442.5h1v1h-1zM619 445.4h1v1h-1zM623.7 439.1h1v1h-1zM621.1 429.2h1v1h-1zM620.6 442.5h1v1h-1zM622.5 439.6h1v1h-1zM617 441.7h1v1h-1zM624 435.9h1v1h-1z" fill="#00a8c0"/>
<path d="M625.9 417.8h1v1h-1zM622.9 424.7h1v1h-1zM626.5 422.7h1v1h-1zM623.3 423.9h1v1h-1zM624.1 426.4h1v1h-1zM623 424.8h1v1h-1zM627.6 432h1v1h-1zM627.2 432.8h1v1h-1zM616.9 436.3h1v1h-1zM623.8 439h1v1h-1zM624.4 432.2h1v1h-1zM624.5 434.2h1v1h-1zM623.8 429h1v1h-1zM620.1 428.5h1v1h-1zM622.2 441.3h1v1h-1zM625.1 430.8h1v1h-1zM619.3 432.2h1v1h-1zM623.6 437.6h1v1h-1zM619.3 442.1h1v1h-1zM618.3 441.9h1v1h-1zM620.3 428.4h1v1h-1zM617.8 436.7h1v1h-1zM624.5 432.6h1v1h-1zM618 440.6h1v1h-1zM618.3 442.6h1v1h-1zM617.8 439.9h1v1h-1z" fill="#00c0c0"/>
<path d="M618.3 439.5h1v1h-1zM624.5 425.8h1v1h-1zM628.4 417.3h1v1h-1zM626.3 419h1v1h-1zM623.9 425.4h1v1h-1zM627.5 429.8h1v1h-1zM619.1 426.1h1v1h-1zM624.8 418.5h1v1h-1zM623.5 428.8h1v1h-1zM620.7 443.2h1v1h-1zM620.3 442.6h1v1h-1zM624.7 430.4h1v1h-1zM617.1 439.9h1v1h-1zM617.7 438.8h1v1h-1zM617.6 437.2h1v1h-1zM622.1 426.9h1v1h-1zM624.3 433.4h1v1h-1zM619.3 442.1h1v1h-1zM623.5 428.5h1v1h-1zM620.1 431.2h1v1h-1zM619.5 430.3h1v1h-1zM624.3 433.6h1v1h-1zM624.3 437.9h1v1h-1zM618.4 431.9h1v1h-1zM618.3 433h1v1h-1zM620.6 430.1h1v1h-1zM624.8 432.3h1v1h-1zM617.4 440.7h1v1h-1zM621.4 428.9h1v1h-1zM624.4 434.1h1v1h-1zM623.5 436.3h1v1h-1zM618.1 432.3h1v1h-1zM622 428.4h1v1h-1z" fill="#00c0a8"/>
<path d="M624.2 426.6h1v1h-1zM626.2 423.2h1v1h-1zM623.8 425h1v1h-1zM636.7 418.3h1v1h-1zM624.4 425.2h1v1h-1zM626.9 420.1h1v1h-1zM623.2 425.5h1v1h-1zM617.5 437.9h1v1h-1zM623.7 430.7h1v1h-1zM623 428.8h1v1h-1zM621.3 428h1v1h-1zM617.7 437.5h1v1h-1zM617.4 434.6h1v1h-1zM623.8 430.8h1v1h-1zM619.5 442.6h1v1h-1zM621.7 441.6h1v1h-1zM619.1 441.7h1v1h-1zM623.6 438.8h1v1h-1zM617.8 438.5h1v1h-1zM619.6 431.1h1v1h-1zM623.3 427.4h1v1h-1zM618.6 432.9h1v1h-1zM623.2 430.5h1v1h-1zM620.5 442.1h1v1h-1z" fill="#00c090"/>
<path d="M626.8 423h1v1h-1zM626.9 422.4h1v1h-1zM626.4 420.4h1v1h-1zM623.9 421.7h1v1h-1zM623.1 429h1v1h-1zM621.6 441.7h1v1h-1zM623.7 432.8h1v1h-1zM624.3 436.1h1v1h-1zM621.5 440.6h1v1h-1zM623.1 439.4h1v1h-1zM624.5 431.5h1v1h-1zM622.6 440.4h1v1h-1zM618 436h1v1h-1zM617 438h1v1h-1zM624.5 434.4h1v1h-1zM624.1 433.3h1v1h-1zM620.9 442.1h1v1h-1zM622.8 439.4h1v1h-1zM620.8 429.1h1v1h-1zM618.1 433.1h1v1h-1zM624.2 435.5h1v1h-1zM623.2 436.8h1v1h-1zM619.5 441h1v1h-1zM623.8 430.7h1v1h-1zM620.2 430.5h1v1h-1zM619.5 430.7h1v1h-1zM624 433.8h1v1h-1zM621.7 429.6h1v1h-1zM619.2 441h1v1h-1zM617.8 437.6h1v1h-1zM620.2 430.3h1v1h-1zM621.5 428.8h1v1h-1zM618.3 441.8h1v1h-1zM618.1 434.6h1v1h-1zM618.5 432.7h1v1h-1zM624.5 429.7h1v1h-1z" fill="#00c078"/>
<path d="M624.6 426.3h1v1h-1zM626 423.5h1v1h-1zM628.2 410.4h1v1h-1zM624.3 431.5h1v1h-1zM622 438.6h1v1h-1zM620.1 442.4h1v1h-1zM618.1 436.9h1v1h-1zM623.5 436.3h1v1h-1zM620.5 430h1v1h-1zM617.5 436.9h1v1h-1zM622.8 437.6h1v1h-1zM620 432.6h1v1h-1zM618.4 435h1v1h-1zM617.7 439.5h1v1h-1zM621.1 429.6h1v1h-1zM624.1 430.1h1v1h-1zM624.4 431.2h1v1h-1zM622.8 436.8h1v1h-1zM618.4 437.9h1v1h-1zM620.2 432.1h1v1h-1zM622.2 438.9h1v1h-1z" fill="#00c060"/>
<path d="M626.3 423.2h1v1h-1zM622.8 430.1h1v1h-1zM622.3 430.3h1v1h-1zM619.6 430.7h1v1h-1zM623.3 430.3h1v1h-1zM619.2 431.3h1v1h-1zM620.3 430.8h1v1h-1zM622.8 436.6h1v1h-1zM618.8 439.2h1v1h-1zM622 440h1v1h-1zM621.9 440.3h1v1h-1z" fill="#18c060"/>
<path d="M619.7 415h1v1h-1zM625.1 420.2h1v1h-1zM625 424.7h1v1h-1zM622.3 438.9h1v1h-1zM621.5 428.8h1v1h-1zM623.7 434.1h1v1h-1zM619.3 432h1v1h-1zM620 441.4h1v1h-1zM622.5 437.9h1v1h-1zM619.6 439.8h1v1h-1zM621.4 431.5h1v1h-1zM621.4 428.7h1v1h-1zM618.2 439.4h1v1h-1zM619.3 441.4h1v1h-1zM618.6 432.8h1v1h-1zM619.2 440.4h1v1h-1zM623.7 436.8h1v1h-1zM619.1 442h1v1h-1zM623.5 437.1h1v1h-1zM620.2 440.8h1v1h-1z" fill="#18c048"/>
<path d="M625.1 424.8h1v1h-1zM630.1 428.4h1v1h-1zM625.2 419.4h1v1h-1zM630.8 414.4h1v1h-1zM615 439.3h1v1h-1zM619.2 434.3h1v1h-1zM624.1 434.7h1v1h-1zM623.2 435.4h1v1h-1zM619.8 433.2h1v1h-1zM623.3 437.6h1v1h-1zM621.6 430.1h1v1h-1zM620.6 439.2h1v1h-1zM623.6 430.2h1v1h-1zM620.9 439h1v1h-1zM620.6 431.3h1v1h-1zM622.6 431.2h1v1h-1zM618.8 437.2h1v1h-1zM623.2 430h1v1h-1zM622.5 430.3h1v1h-1zM619.3 439.8h1v1h-1zM618.9 440.8h1v1h-1zM623.3 436.4h1v1h-1zM622.4 437.4h1v1h-1zM620.5 440.9h1v1h-1zM619.6 440.7h1v1h-1zM618.3 436.9h1v1h-1zM622.2 429.3h1v1h-1z" fill="#18c030"/>
<path d="M624 422.1h1v1h-1zM624.3 424.7h1v1h-1zM630.9 405.3h1v1h-1zM620 440.5h1v1h-1zM619 435.5h1v1h-1zM621 438.7h1v1h-1zM618.8 438.1h1v1h-1zM622.5 435.4h1v1h-1zM622.6 437.1h1v1h-1zM621.8 431.5h1v1h-1zM622.4 431.3h1v1h-1zM620.4 441h1v1h-1zM622.2 438.8h1v1h-1zM623 436.4h1v1h-1z" fill="#18c018"/>
<path d="M623.6 432.3h1v1h-1zM619.3 436.3h1v1h-1zM622.4 436h1v1h-1zM622.5 434.8h1v1h-1zM622.7 434.8h1v1h-1zM620.9 430.4h1v1h-1zM619.3 433.9h1v1h-1zM619.5 439.5h1v1h-1zM619.9 434.3h1v1h-1zM622.3 431.1h1v1h-1zM622.3 436.6h1v1h-1z" fill="#30c018"/>
<path d="M626.2 421.5h1v1h-1zM622.4 437.7h1v1h-1zM620.1 434.4h1v1h-1zM618.3 438.6h1v1h-1zM618.2 438.2h1v1h-1zM618.4 439.3h1v1h-1zM622.2 436.7h1v1h-1zM620.1 439.2h1v1h-1zM619.8 440.4h1v1h-1z" fill="#48c018"/>
<path d="M621.3 438.5h1v1h-1zM620.6 438.5h1v1h-1zM622.1 431.6h1v1h-1zM620.6 438.6h1v1h-1zM623.2 436.3h1v1h-1zM621.6 437h1v1h-1z" fill="#48d818"/>
<path d="M624.4 421.9h1v1h-1zM624.6 414.8h1v1h-1zM619.6 438.1h1v1h-1zM622.6 431.3h1v1h-1zM622.2 437.5h1v1h-1zM619 436.3h1v1h-1z" fill="#60d818"/>
<path d="M622.4 427.9h1v1h-1zM620.9 433h1v1h-1zM620.4 433.4h1v1h-1zM620 433.4h1v1h-1zM621.1 432h1v1h-1zM622 432.1h1v1h-1zM620.5 439.3h1v1h-1zM622.6 436.7h1v1h-1zM621.3 437.8h1v1h-1zM619.5 436.9h1v1h-1zM621.5 432.3h1v1h-1z" fill="#60d800"/>
<path d="M622 438.2h1v1h-1zM621 439.7h1v1h-1zM622.2 434.3h1v1h-1zM621.9 436.4h1v1h-1zM622.9 435.3h1v1h-1zM620.5 440h1v1h-1zM622.7 431h1v1h-1z" fill="#78d800"/>
<path d="M637.7 407.5h1v1h-1zM628.3 431.2h1v1h-1zM611.3 435.3h1v1h-1zM625.6 423.7h1v1h-1zM621.4 433h1v1h-1zM620.8 432.3h1v1h-1zM619.4 434.8h1v1h-1zM619.3 436.8h1v1h-1zM620.3 433.2h1v1h-1zM621.4 438.3h1v1h-1zM621.1 438.4h1v1h-1zM619.4 437.8h1v1h-1zM621 438.6h1v1h-1zM620.3 438.5h1v1h-1z" fill="#90d800"/>
<path d="M625 423.3h1v1h-1zM625.6 422h1v1h-1zM619.9 439h1v1h-1zM622.5 434.2h1v1h-1zM620.9 433.3h1v1h-1zM622.4 431.8h1v1h-1zM622.1 432.8h1v1h-1zM621.1 432.8h1v1h-1zM622 432.3h1v1h-1zM620.5 434.2h1v1h-1zM621.2 437.2h1v1h-1z" fill="#a8d800"/>
<path d="M617.9 426h1v1h-1zM624.8 424.3h1v1h-1zM625.5 420.9h1v1h-1zM619.4 436.3h1v1h-1zM619.1 438.3h1v1h-1zM619.9 437.9h1v1h-1zM620.2 437.8h1v1h-1zM620.8 432.7h1v1h-1zM621.1 431.6h1v1h-1zM620.5 432.4h1v1h-1zM620.2 435.7h1v1h-1zM620.2 438.5h1v1h-1zM620.3 432.8h1v1h-1zM619.9 435.5h1v1h-1zM622 431.7h1v1h-1zM622.5 434.2h1v1h-1zM621.4 431.8h1v1h-1zM619.2 436.4h1v1h-1zM621.9 432.2h1v1h-1z" fill="#c0d800"/>
<path d="M638.1 414h1v1h-1zM623.4 424.7h1v1h-1zM624.6 423.4h1v1h-1zM623.7 430.8h1v1h-1zM628.5 414.1h1v1h-1zM622.2 432.5h1v1h-1zM621.9 436.3h1v1h-1zM622.1 436.6h1v1h-1zM621.4 438.2h1v1h-1zM622.7 435.2h1v1h-1z" fill="#c0c000"/>
<path d="M621.1 420.2h1v1h-1zM624.1 422.5h1v1h-1zM636 428.9h1v1h-1zM616.1 423.6h1v1h-1zM628.6 436.8h1v1h-1zM619.9 437.5h1v1h-1zM622 436.5h1v1h-1zM622.2 435.7h1v1h-1zM620.9 437.9h1v1h-1zM621.6 436.9h1v1h-1z" fill="#d8c000"/>
<path d="M621.1 442.3h1v1h-1zM622.5 435.3h1v1h-1zM625.8 410.2h1v1h-1zM625.1 423h1v1h-1zM625.6 421.2h1v1h-1zM621 438.4h1v1h-1zM619.8 436.5h1v1h-1zM622 434.1h1v1h-1zM622.1 432.8h1v1h-1zM620.1 437.5h1v1h-1zM620 438.2h1v1h-1zM620 437.2h1v1h-1z" fill="#d8a800"/>
<path d="M620.7 437.6h1v1h-1zM620.7 434.5h1v1h-1z" fill="#f0a800"/>
<path d="M630 425.7h1v1h-1zM625.6 415.6h1v1h-1zM622.1 424.3h1v1h-1zM618 425.9h1v1h-1zM621.4 434.1h1v1h-1zM620.2 436.2h1v1h-1z" fill="#f09000"/>
<path d="M625.3 422.1h1v1h-1zM629.1 431.2h1v1h-1zM621.7 436.2h1v1h-1zM620.6 435.1h1v1h-1z" fill="#f07800"/>
<path d="M624.3 415.6h1v1h-1zM624.8 422.1h1v1h-1zM621.6 436h1v1h-1z" fill="#f06000"/>
<path d="M625.4 422.3h1v1h-1zM624.9 423.1h1v1h-1zM620.4 436.9h1v1h-1z" fill="#f04800"/>
<path d="M624.9 422.1h1v1h-1zM621.4 434.2h1v1h-1z" fill="#f03000"/>
<path d="M621.1 435.8h1v1h-1z" fill="#f01800"/>
<path d="M775.6 405.1h0.8v0.8h-0.8zM774.3 429.4h0.8v0.8h-0.8zM767.5 412.2h0.8v0.8h-0.8zM768.2 432.5h0.8v0.8h-0.8zM763.8 432.1h0.8v0.8h-0.8zM764.5 422.6h0.8v0.8h-0.8zM763.1 416h0.8v0.8h-0.8zM766.7 437.1h0.8v0.8h-0.8zM766.9 435.4h0.8v0.8h-0.8zM774 432.1h0.8v0.8h-0.8zM765.3 439.4h0.8v0.8h-0.8zM765.3 418.9h0.8v0.8h-0.8zM768.4 439.5h0.8v0.8h-0.8zM773.5 410.7h0.8v0.8h-0.8zM766.3 421.2h0.8v0.8h-0.8zM766.2 422.4h0.8v0.8h-0.8zM767.7 432.9h0.8v0.8h-0.8zM765.5 428.4h0.8v0.8h-0.8zM759.5 424.7h0.8v0.8h-0.8zM773.2 414.9h0.8v0.8h-0.8zM770.3 414.6h0.8v0.8h-0.8zM764.9 413.4h0.8v0.8h-0.8zM771 413.2h0.8v0.8h-0.8zM760.2 434.2h0.8v0.8h-0.8zM764.6 426.5h0.8v0.8h-0.8zM759 428.2h0.8v0.8h-0.8zM777.2 417.2h0.8v0.8h-0.8zM770.7 415.7h0.8v0.8h-0.8zM772.2 417.8h0.8v0.8h-0.8zM761.7 436.5h0.8v0.8h-0.8zM773.8 435.7h0.8v0.8h-0.8zM772.9 422.6h0.8v0.8h-0.8zM762.9 446.9h0.8v0.8h-0.8zM771.6 416.6h0.8v0.8h-0.8zM771.5 427.8h0.8v0.8h-0.8zM772.4 403.6h0.8v0.8h-0.8zM772.7 407.2h0.8v0.8h-0.8zM763 415.7h0.8v0.8h-0.8zM766.6 438.9h0.8v0.8h-0.8zM765.2 426h0.8v0.8h-0.8zM765.4 434.8h0.8v0.8h-0.8zM763.9 422.5h0.8v0.8h-0.8zM775.3 424h0.8v0.8h-0.8zM764.5 420.6h0.8v0.8h-0.8zM762.8 415.1h0.8v0.8h-0.8zM772.2 426h0.8v0.8h-0.8zM769.5 409.6h0.8v0.8h-0.8zM769.2 417.4h0.8v0.8h-0.8zM766.3 422.3h0.8v0.8h-0.8zM767.3 412.5h0.8v0.8h-0.8zM764.3 425.8h0.8v0.8h-0.8zM773.2 411.9h0.8v0.8h-0.8zM772.4 411.8h0.8v0.8h-0.8zM763.5 421.1h0.8v0.8h-0.8zM770.1 417.3h0.8v0.8h-0.8zM769.7 411h0.8v0.8h-0.8zM773.8 409.5h0.8v0.8h-0.8zM762.3 435.3h0.8v0.8h-0.8zM768.8 431.7h0.8v0.8h-0.8zM770.3 412.3h0.8v0.8h-0.8zM764.3 428.4h0.8v0.8h-0.8zM772.6 417.2h0.8v0.8h-0.8zM764.4 429.6h0.8v0.8h-0.8zM764.9 422.7h0.8v0.8h-0.8zM763.8 420h0.8v0.8h-0.8zM764.3 427.6h0.8v0.8h-0.8zM773.2 417.9h0.8v0.8h-0.8zM765.9 411.9h0.8v0.8h-0.8zM767.7 433.1h0.8v0.8h-0.8zM771.7 422.6h0.8v0.8h-0.8zM773.9 420h0.8v0.8h-0.8zM762.3 429.3h0.8v0.8h-0.8zM773.2 410.3h0.8v0.8h-0.8zM757.3 437.8h0.8v0.8h-0.8zM771.7 418.3h0.8v0.8h-0.8zM771.8 412.5h0.8v0.8h-0.8zM766.6 418.9h0.8v0.8h-0.8zM772 433.8h0.8v0.8h-0.8zM766.6 437.6h0.8v0.8h-0.8zM766.8 414.1h0.8v0.8h-0.8zM769.5 428.1h0.8v0.8h-0.8zM763.7 425.6h0.8v0.8h-0.8zM769 443h0.8v0.8h-0.8zM772.9 422.4h0.8v0.8h-0.8zM771.4 410.3h0.8v0.8h-0.8zM774.6 411.8h0.8v0.8h-0.8zM761.9 432.9h0.8v0.8h-0.8zM766.1 413.4h0.8v0.8h-0.8zM769.7 433.9h0.8v0.8h-0.8zM767.7 416.1h0.8v0.8h-0.8zM766.1 430.1h0.8v0.8h-0.8zM770.3 430.2h0.8v0.8h-0.8zM763.7 429.1h0.8v0.8h-0.8zM764.2 424.3h0.8v0.8h-0.8zM771.9 427.7h0.8v0.8h-0.8zM766.7 415.6h0.8v0.8h-0.8zM771.7 415.8h0.8v0.8h-0.8zM764.3 433.7h0.8v0.8h-0.8zM758.5 435.2h0.8v0.8h-0.8zM774.8 420.7h0.8v0.8h-0.8zM763.9 428.1h0.8v0.8h-0.8zM766.3 420.5h0.8v0.8h-0.8zM776.9 402.7h0.8v0.8h-0.8zM764 425h0.8v0.8h-0.8zM759.6 427.4h0.8v0.8h-0.8zM770.9 415.3h0.8v0.8h-0.8zM771 426.3h0.8v0.8h-0.8zM774.3 407.9h0.8v0.8h-0.8zM773.6 419.4h0.8v0.8h-0.8zM765.1 430.3h0.8v0.8h-0.8zM762.9 427.4h0.8v0.8h-0.8zM770.7 435.4h0.8v0.8h-0.8zM774.1 428.1h0.8v0.8h-0.8zM762.9 429.1h0.8v0.8h-0.8zM773.9 433.7h0.8v0.8h-0.8zM762.6 429.2h0.8v0.8h-0.8zM767.2 419.8h0.8v0.8h-0.8zM762.1 439.5h0.8v0.8h-0.8zM767.5 419.7h0.8v0.8h-0.8zM773.2 430.5h0.8v0.8h-0.8zM770.2 411.7h0.8v0.8h-0.8zM768 406h0.8v0.8h-0.8zM763.9 422.5h0.8v0.8h-0.8zM770.8 435.3h0.8v0.8h-0.8zM769.9 439.3h0.8v0.8h-0.8zM765.1 424.9h0.8v0.8h-0.8zM769.3 434.3h0.8v0.8h-0.8zM771 415.7h0.8v0.8h-0.8zM768.3 409.4h0.8v0.8h-0.8zM762.3 422.8h0.8v0.8h-0.8zM767.3 431.5h0.8v0.8h-0.8zM764.9 421.3h0.8v0.8h-0.8zM764.6 438.5h0.8v0.8h-0.8zM762.3 432.3h0.8v0.8h-0.8zM761.5 444.4h0.8v0.8h-0.8zM763.5 436.1h0.8v0.8h-0.8zM772.3 423.8h0.8v0.8h-0.8zM766.2 427.9h0.8v0.8h-0.8zM768.7 439.4h0.8v0.8h-0.8zM768.9 429.7h0.8v0.8h-0.8zM768.8 415.2h0.8v0.8h-0.8zM767.9 406.3h0.8v0.8h-0.8zM775.9 409.8h0.8v0.8h-0.8zM764.2 422.5h0.8v0.8h-0.8zM764.6 425.8h0.8v0.8h-0.8zM764.1 423.8h0.8v0.8h-0.8zM767.4 434.7h0.8v0.8h-0.8zM775.7 411h0.8v0.8h-0.8zM769.4 432.4h0.8v0.8h-0.8zM761.6 448.5h0.8v0.8h-0.8zM764.6 419.9h0.8v0.8h-0.8zM770.8 434.8h0.8v0.8h-0.8zM768.9 418.1h0.8v0.8h-0.8zM773.5 431.7h0.8v0.8h-0.8zM763.9 441.4h0.8v0.8h-0.8zM778.1 413.5h0.8v0.8h-0.8zM768.5 408.4h0.8v0.8h-0.8zM763.9 420.4h0.8v0.8h-0.8zM770.1 435.5h0.8v0.8h-0.8zM770.8 413.3h0.8v0.8h-0.8zM769.4 432.6h0.8v0.8h-0.8zM766.5 435h0.8v0.8h-0.8zM759.8 441.7h0.8v0.8h-0.8zM762.3 429.8h0.8v0.8h-0.8zM761.9 436.8h0.8v0.8h-0.8zM772.1 423.6h0.8v0.8h-0.8zM770.7 425.9h0.8v0.8h-0.8zM774 406.9h0.8v0.8h-0.8zM767.5 439.3h0.8v0.8h-0.8zM763.8 429h0.8v0.8h-0.8zM778 411.4h0.8v0.8h-0.8zM763.5 428.5h0.8v0.8h-0.8zM771.8 406.9h0.8v0.8h-0.8zM763.8 426.5h0.8v0.8h-0.8zM763 432.5h0.8v0.8h-0.8zM768.4 412.9h0.8v0.8h-0.8zM774.5 419.5h0.8v0.8h-0.8zM763.8 444.6h0.8v0.8h-0.8zM771.8 427.5h0.8v0.8h-0.8zM770 410.9h0.8v0.8h-0.8zM759.9 432.8h0.8v0.8h-0.8zM763.4 413.3h0.8v0.8h-0.8zM773.8 415.9h0.8v0.8h-0.8zM766.4 436.9h0.8v0.8h-0.8zM770.6 404h0.8v0.8h-0.8zM779.4 413.3h0.8v0.8h-0.8zM774.3 417.6h0.8v0.8h-0.8zM770.4 412.3h0.8v0.8h-0.8zM773.4 406.9h0.8v0.8h-0.8zM766.2 435.7h0.8v0.8h-0.8zM767.4 430.8h0.8v0.8h-0.8zM769.6 430.4h0.8v0.8h-0.8zM774 419h0.8v0.8h-0.8zM766.9 437.2h0.8v0.8h-0.8zM773.1 417.4h0.8v0.8h-0.8zM778 425.4h0.8v0.8h-0.8zM768 435.8h0.8v0.8h-0.8zM766.6 435.7h0.8v0.8h-0.8zM763.2 422.7h0.8v0.8h-0.8zM763.4 426.8h0.8v0.8h-0.8zM762.7 427.8h0.8v0.8h-0.8zM768.9 416.2h0.8v0.8h-0.8zM757.6 432.7h0.8v0.8h-0.8zM764.1 414.8h0.8v0.8h-0.8zM771.3 428.3h0.8v0.8h-0.8zM772.7 427.2h0.8v0.8h-0.8zM770.1 425.8h0.8v0.8h-0.8zM770.5 425.4h0.8v0.8h-0.8zM777.8 415.2h0.8v0.8h-0.8zM763.5 418.3h0.8v0.8h-0.8zM768.2 417.3h0.8v0.8h-0.8zM764.4 434.4h0.8v0.8h-0.8zM769.8 432.4h0.8v0.8h-0.8zM768.7 428.9h0.8v0.8h-0.8zM760.7 433h0.8v0.8h-0.8zM765.6 429.6h0.8v0.8h-0.8zM763.6 440.6h0.8v0.8h-0.8zM765.4 434.6h0.8v0.8h-0.8zM774.1 405h0.8v0.8h-0.8zM775.9 412.4h0.8v0.8h-0.8zM763.6 435.7h0.8v0.8h-0.8zM765.1 422.3h0.8v0.8h-0.8zM774.9 422.8h0.8v0.8h-0.8zM773.8 414h0.8v0.8h-0.8zM760.4 431.3h0.8v0.8h-0.8zM764.1 422.4h0.8v0.8h-0.8zM760.5 431.1h0.8v0.8h-0.8zM760.5 415.8h0.8v0.8h-0.8zM754.8 446.4h0.8v0.8h-0.8zM771.7 425.9h0.8v0.8h-0.8zM765.9 421.8h0.8v0.8h-0.8zM770.6 414.6h0.8v0.8h-0.8zM767.1 416h0.8v0.8h-0.8zM766.2 415.8h0.8v0.8h-0.8zM775.1 415.8h0.8v0.8h-0.8zM766.9 444.9h0.8v0.8h-0.8zM762.5 437.6h0.8v0.8h-0.8zM767.2 419h0.8v0.8h-0.8zM766.6 404.3h0.8v0.8h-0.8zM772.6 436h0.8v0.8h-0.8zM758.9 433.1h0.8v0.8h-0.8zM773.1 417h0.8v0.8h-0.8zM761.4 422h0.8v0.8h-0.8zM776.2 419.6h0.8v0.8h-0.8zM763.9 430.3h0.8v0.8h-0.8zM762.7 429.7h0.8v0.8h-0.8zM772.3 420.2h0.8v0.8h-0.8zM774 434.9h0.8v0.8h-0.8zM764 424.1h0.8v0.8h-0.8zM771.2 413.6h0.8v0.8h-0.8zM762.8 432.9h0.8v0.8h-0.8zM774.7 408.9h0.8v0.8h-0.8zM768.8 434.7h0.8v0.8h-0.8zM770 415.4h0.8v0.8h-0.8zM765.5 423.9h0.8v0.8h-0.8zM768.4 432.1h0.8v0.8h-0.8zM765.6 437.8h0.8v0.8h-0.8zM759.6 438.2h0.8v0.8h-0.8zM773 420.7h0.8v0.8h-0.8zM763.6 428.5h0.8v0.8h-0.8zM760.8 422.2h0.8v0.8h-0.8zM766.9 433.6h0.8v0.8h-0.8zM770.7 417.6h0.8v0.8h-0.8zM773.1 423.5h0.8v0.8h-0.8zM770.9 406.4h0.8v0.8h-0.8zM765.1 424.2h0.8v0.8h-0.8zM770.6 428h0.8v0.8h-0.8zM763.8 422.8h0.8v0.8h-0.8zM768.8 430.8h0.8v0.8h-0.8zM777.9 417.2h0.8v0.8h-0.8zM774.5 420.7h0.8v0.8h-0.8zM765.4 440.4h0.8v0.8h-0.8zM772.2 416.1h0.8v0.8h-0.8zM775.3 415.5h0.8v0.8h-0.8zM764.7 435.4h0.8v0.8h-0.8zM771.2 434h0.8v0.8h-0.8zM764.9 441.6h0.8v0.8h-0.8zM768 446.7h0.8v0.8h-0.8zM776.9 417.6h0.8v0.8h-0.8zM768.9 417.6h0.8v0.8h-0.8zM760.6 431.5h0.8v0.8h-0.8zM763.9 418h0.8v0.8h-0.8zM778.8 420.1h0.8v0.8h-0.8zM767.7 414.9h0.8v0.8h-0.8zM771.8 407.2h0.8v0.8h-0.8zM760.4 422.2h0.8v0.8h-0.8zM762.9 412.1h0.8v0.8h-0.8zM766.4 441.5h0.8v0.8h-0.8zM775.6 434.4h0.8v0.8h-0.8zM767.6 430.9h0.8v0.8h-0.8zM771.7 425.3h0.8v0.8h-0.8zM761.6 419.8h0.8v0.8h-0.8zM767.8 434.3h0.8v0.8h-0.8zM766.7 435.3h0.8v0.8h-0.8zM761.3 423.7h0.8v0.8h-0.8zM758.8 434.2h0.8v0.8h-0.8zM758.4 445.9h0.8v0.8h-0.8zM768.8 423.2h0.8v0.8h-0.8zM771.1 434.4h0.8v0.8h-0.8zM769.7 422.4h0.8v0.8h-0.8zM764.1 426h0.8v0.8h-0.8zM761.4 453.9h0.8v0.8h-0.8zM757.6 438.4h0.8v0.8h-0.8zM770.2 436.2h0.8v0.8h-0.8zM772.4 425.4h0.8v0.8h-0.8zM759.5 451.3h0.8v0.8h-0.8zM771.8 429.7h0.8v0.8h-0.8zM770.1 424.9h0.8v0.8h-0.8zM760.8 430h0.8v0.8h-0.8zM758.3 435.1h0.8v0.8h-0.8zM758.3 438.5h0.8v0.8h-0.8zM769.4 422h0.8v0.8h-0.8zM770.6 435.3h0.8v0.8h-0.8zM770.9 430.9h0.8v0.8h-0.8zM771.3 430.2h0.8v0.8h-0.8zM759.5 447.3h0.8v0.8h-0.8zM764 449.6h0.8v0.8h-0.8zM757.4 442h0.8v0.8h-0.8zM757.6 442.8h0.8v0.8h-0.8zM771.6 431.6h0.8v0.8h-0.8zM772.2 420.2h0.8v0.8h-0.8zM768.6 441.5h0.8v0.8h-0.8zM760 450.5h0.8v0.8h-0.8zM765.1 446.2h0.8v0.8h-0.8zM756.7 449.6h0.8v0.8h-0.8zM760.4 456.3h0.8v0.8h-0.8zM757.2 447.6h0.8v0.8h-0.8zM758.4 436.6h0.8v0.8h-0.8zM757.5 445.3h0.8v0.8h-0.8zM771.9 424.7h0.8v0.8h-0.8zM756.2 453h0.8v0.8h-0.8zM765.6 448.2h0.8v0.8h-0.8zM759.2 430.1h0.8v0.8h-0.8zM759.5 451.9h0.8v0.8h-0.8zM770.3 436.6h0.8v0.8h-0.8zM771.5 424.6h0.8v0.8h-0.8zM770.9 427.6h0.8v0.8h-0.8zM757.1 448.4h0.8v0.8h-0.8zM759.2 448.4h0.8v0.8h-0.8zM768.6 439.8h0.8v0.8h-0.8zM761.8 450.9h0.8v0.8h-0.8zM765.6 447.3h0.8v0.8h-0.8zM762.4 429.3h0.8v0.8h-0.8zM769.2 443.4h0.8v0.8h-0.8zM762.5 450.8h0.8v0.8h-0.8zM767.8 422.2h0.8v0.8h-0.8zM764.6 425h0.8v0.8h-0.8zM771.4 429.7h0.8v0.8h-0.8zM770.1 442.1h0.8v0.8h-0.8zM773.2 421.5h0.8v0.8h-0.8zM765.4 425.4h0.8v0.8h-0.8zM759.8 452.3h0.8v0.8h-0.8zM757.6 455.4h0.8v0.8h-0.8zM758.8 448.3h0.8v0.8h-0.8zM770.6 420.6h0.8v0.8h-0.8zM766.6 424h0.8v0.8h-0.8zM764.3 425.6h0.8v0.8h-0.8zM761.7 449.6h0.8v0.8h-0.8zM770.6 438.2h0.8v0.8h-0.8zM771.5 437.8h0.8v0.8h-0.8zM769.7 440.5h0.8v0.8h-0.8zM764 447.7h0.8v0.8h-0.8zM772.1 430h0.8v0.8h-0.8zM761.1 456.3h0.8v0.8h-0.8zM773 431.2h0.8v0.8h-0.8zM759.3 453.1h0.8v0.8h-0.8zM758.7 443.2h0.8v0.8h-0.8zM764.4 452.3h0.8v0.8h-0.8zM772.3 420.5h0.8v0.8h-0.8zM770.7 421.8h0.8v0.8h-0.8zM758.8 436.5h0.8v0.8h-0.8zM773.1 431h0.8v0.8h-0.8zM765.2 450.8h0.8v0.8h-0.8zM766.9 446.5h0.8v0.8h-0.8zM757.1 459.8h0.8v0.8h-0.8zM762 453.7h0.8v0.8h-0.8zM756.4 445.9h0.8v0.8h-0.8zM760.2 449.8h0.8v0.8h-0.8zM785.9 431.1h0.8v0.8h-0.8zM789.9 420.2h0.8v0.8h-0.8zM800.8 421.9h0.8v0.8h-0.8zM799.5 427.8h0.8v0.8h-0.8zM789.9 421h0.8v0.8h-0.8zM799.3 427.1h0.8v0.8h-0.8zM787.1 432.8h0.8v0.8h-0.8zM785.4 434.2h0.8v0.8h-0.8zM799.5 416.6h0.8v0.8h-0.8zM788.2 425.6h0.8v0.8h-0.8zM780.6 415.6h0.8v0.8h-0.8zM807.8 429.6h0.8v0.8h-0.8zM797.8 426.9h0.8v0.8h-0.8zM803.6 425.1h0.8v0.8h-0.8zM800 424.1h0.8v0.8h-0.8zM807.1 414.7h0.8v0.8h-0.8zM796.1 432.8h0.8v0.8h-0.8zM792.2 404.4h0.8v0.8h-0.8zM811.9 404.8h0.8v0.8h-0.8zM803.5 415.6h0.8v0.8h-0.8zM803.8 416.5h0.8v0.8h-0.8zM780.7 428.3h0.8v0.8h-0.8zM786.4 430.4h0.8v0.8h-0.8zM791.2 416.3h0.8v0.8h-0.8zM814.2 425.8h0.8v0.8h-0.8zM795.7 427.2h0.8v0.8h-0.8zM777.7 413.4h0.8v0.8h-0.8zM791.6 421.8h0.8v0.8h-0.8zM789 442.3h0.8v0.8h-0.8zM781.3 433.2h0.8v0.8h-0.8zM812.3 423.2h0.8v0.8h-0.8zM813.3 406h0.8v0.8h-0.8zM780.3 428.1h0.8v0.8h-0.8zM799.5 405.9h0.8v0.8h-0.8zM789.7 418.7h0.8v0.8h-0.8zM788.7 414.7h0.8v0.8h-0.8zM774 436.2h0.8v0.8h-0.8zM798.7 405.7h0.8v0.8h-0.8zM783.1 414.7h0.8v0.8h-0.8zM800 428.3h0.8v0.8h-0.8zM816.9 407h0.8v0.8h-0.8zM805.2 439.2h0.8v0.8h-0.8zM800.6 418h0.8v0.8h-0.8zM803.2 413.8h0.8v0.8h-0.8zM787.7 448h0.8v0.8h-0.8zM797 426.9h0.8v0.8h-0.8zM794.5 431.3h0.8v0.8h-0.8zM802.6 431.8h0.8v0.8h-0.8zM784.7 429.3h0.8v0.8h-0.8zM788.2 417.8h0.8v0.8h-0.8zM791.4 420.3h0.8v0.8h-0.8zM790.1 443.3h0.8v0.8h-0.8zM810.4 432.1h0.8v0.8h-0.8zM793.7 428.6h0.8v0.8h-0.8zM802.4 403h0.8v0.8h-0.8zM796 415.3h0.8v0.8h-0.8zM802.6 423.7h0.8v0.8h-0.8zM794.4 435h0.8v0.8h-0.8zM784.7 425.7h0.8v0.8h-0.8zM807.3 412.8h0.8v0.8h-0.8zM784.3 417.4h0.8v0.8h-0.8zM801.1 414.3h0.8v0.8h-0.8zM797.8 425.3h0.8v0.8h-0.8zM799.5 411.1h0.8v0.8h-0.8zM794.6 437.4h0.8v0.8h-0.8zM802.7 429.3h0.8v0.8h-0.8zM798.4 414.9h0.8v0.8h-0.8zM788.8 422.5h0.8v0.8h-0.8zM778.4 436.5h0.8v0.8h-0.8zM787.2 430.3h0.8v0.8h-0.8zM774.4 418.4h0.8v0.8h-0.8zM789 423.7h0.8v0.8h-0.8zM819.7 415.3h0.8v0.8h-0.8zM798.8 424.8h0.8v0.8h-0.8zM790.6 432h0.8v0.8h-0.8zM802.2 415.1h0.8v0.8h-0.8zM794.5 426.6h0.8v0.8h-0.8zM792 407.8h0.8v0.8h-0.8zM801.7 411.5h0.8v0.8h-0.8zM799.4 417.3h0.8v0.8h-0.8zM794.7 433.3h0.8v0.8h-0.8zM813.1 416.7h0.8v0.8h-0.8zM799.1 418.1h0.8v0.8h-0.8zM776.5 418.9h0.8v0.8h-0.8zM793.7 409.6h0.8v0.8h-0.8zM795.7 430.4h0.8v0.8h-0.8zM798 427.9h0.8v0.8h-0.8zM802.6 416.2h0.8v0.8h-0.8zM789.1 432.1h0.8v0.8h-0.8zM807.1 435h0.8v0.8h-0.8zM786.1 419.6h0.8v0.8h-0.8zM784.3 419.6h0.8v0.8h-0.8zM796.9 428.3h0.8v0.8h-0.8zM814.2 408.6h0.8v0.8h-0.8zM797.5 429.5h0.8v0.8h-0.8zM798.1 429.4h0.8v0.8h-0.8zM794.2 413.7h0.8v0.8h-0.8zM784.9 413.3h0.8v0.8h-0.8zM791.2 425.6h0.8v0.8h-0.8zM784.7 435.6h0.8v0.8h-0.8zM783.7 432.3h0.8v0.8h-0.8zM791.7 425.7h0.8v0.8h-0.8zM783.2 433.2h0.8v0.8h-0.8zM805.2 420.2h0.8v0.8h-0.8zM801.7 419h0.8v0.8h-0.8zM786.8 425.2h0.8v0.8h-0.8zM788.3 431.4h0.8v0.8h-0.8zM801.6 421.6h0.8v0.8h-0.8zM787.1 424.5h0.8v0.8h-0.8zM782.8 435h0.8v0.8h-0.8zM814.8 421.1h0.8v0.8h-0.8zM794.5 414.6h0.8v0.8h-0.8zM786.4 427.4h0.8v0.8h-0.8zM807.9 428.7h0.8v0.8h-0.8zM790.7 425.8h0.8v0.8h-0.8zM787.5 416.3h0.8v0.8h-0.8zM809.5 419.8h0.8v0.8h-0.8zM808.6 420.6h0.8v0.8h-0.8zM799.6 423.1h0.8v0.8h-0.8zM791.7 417.9h0.8v0.8h-0.8zM807.4 411.7h0.8v0.8h-0.8zM786.2 424.6h0.8v0.8h-0.8zM792.1 411.5h0.8v0.8h-0.8zM787.1 420.8h0.8v0.8h-0.8zM796.7 435.2h0.8v0.8h-0.8zM792.9 429.7h0.8v0.8h-0.8zM784.2 438h0.8v0.8h-0.8zM796.6 414.8h0.8v0.8h-0.8zM784.9 429.7h0.8v0.8h-0.8zM801.3 418.4h0.8v0.8h-0.8zM796.3 413.6h0.8v0.8h-0.8zM801.8 420h0.8v0.8h-0.8zM785.9 423.2h0.8v0.8h-0.8zM799 438.1h0.8v0.8h-0.8zM780.9 430.2h0.8v0.8h-0.8zM795.9 426.8h0.8v0.8h-0.8zM803.4 416.9h0.8v0.8h-0.8zM787.5 423.7h0.8v0.8h-0.8zM794 411.7h0.8v0.8h-0.8zM807.4 421.6h0.8v0.8h-0.8zM811.4 428.9h0.8v0.8h-0.8zM805.7 407h0.8v0.8h-0.8zM784.6 429.2h0.8v0.8h-0.8zM815.2 412.3h0.8v0.8h-0.8zM788.5 421.5h0.8v0.8h-0.8zM796 435.7h0.8v0.8h-0.8zM791.6 419.5h0.8v0.8h-0.8zM783.6 428.9h0.8v0.8h-0.8zM790.4 416.2h0.8v0.8h-0.8zM787.9 426.2h0.8v0.8h-0.8zM814.1 422h0.8v0.8h-0.8zM791.3 439.1h0.8v0.8h-0.8zM789 419.5h0.8v0.8h-0.8zM802.7 429.5h0.8v0.8h-0.8zM804.1 415.1h0.8v0.8h-0.8zM787 423.7h0.8v0.8h-0.8zM805.2 427.8h0.8v0.8h-0.8zM798.4 409.6h0.8v0.8h-0.8zM792.6 428.5h0.8v0.8h-0.8zM785 420.7h0.8v0.8h-0.8zM803.5 422.5h0.8v0.8h-0.8zM794.4 428.3h0.8v0.8h-0.8zM776.1 431.4h0.8v0.8h-0.8zM785.9 417.2h0.8v0.8h-0.8zM784.4 416.1h0.8v0.8h-0.8zM823.4 428.2h0.8v0.8h-0.8zM789.7 423.7h0.8v0.8h-0.8zM782.3 410.7h0.8v0.8h-0.8zM789.5 429.8h0.8v0.8h-0.8zM801.7 436.8h0.8v0.8h-0.8zM788.6 416.1h0.8v0.8h-0.8zM778.1 417.3h0.8v0.8h-0.8zM790.6 433h0.8v0.8h-0.8zM794.1 412.5h0.8v0.8h-0.8zM809.1 431.5h0.8v0.8h-0.8zM785.7 416.8h0.8v0.8h-0.8zM802.3 428.6h0.8v0.8h-0.8zM804.7 431.9h0.8v0.8h-0.8zM793.9 428.9h0.8v0.8h-0.8zM792.5 416.9h0.8v0.8h-0.8zM794 432.4h0.8v0.8h-0.8zM802 420.7h0.8v0.8h-0.8zM794 414.2h0.8v0.8h-0.8zM790.4 434.6h0.8v0.8h-0.8zM791.6 428.1h0.8v0.8h-0.8zM796.7 414.7h0.8v0.8h-0.8zM800.1 421.7h0.8v0.8h-0.8zM800.4 431.1h0.8v0.8h-0.8zM786.1 437.8h0.8v0.8h-0.8zM799 425.9h0.8v0.8h-0.8zM794.6 412.1h0.8v0.8h-0.8zM795.1 405.6h0.8v0.8h-0.8zM781.5 409.7h0.8v0.8h-0.8zM801 404.6h0.8v0.8h-0.8zM806 409.9h0.8v0.8h-0.8zM785 425.6h0.8v0.8h-0.8zM793.2 438.4h0.8v0.8h-0.8zM784 423.6h0.8v0.8h-0.8zM794.6 414.1h0.8v0.8h-0.8zM779.5 422.8h0.8v0.8h-0.8zM811.8 425.5h0.8v0.8h-0.8zM796.2 415.5h0.8v0.8h-0.8zM799.8 430.5h0.8v0.8h-0.8zM780.5 421.7h0.8v0.8h-0.8zM798.7 430.2h0.8v0.8h-0.8zM793.7 427.9h0.8v0.8h-0.8zM791.3 411.8h0.8v0.8h-0.8zM791.5 412.6h0.8v0.8h-0.8zM797.7 428.4h0.8v0.8h-0.8zM809.2 420.2h0.8v0.8h-0.8zM801.4 431.8h0.8v0.8h-0.8zM801.4 421.3h0.8v0.8h-0.8zM800.6 430.8h0.8v0.8h-0.8zM802.9 413.7h0.8v0.8h-0.8zM796.3 411.8h0.8v0.8h-0.8zM785.3 426h0.8v0.8h-0.8zM801.9 426.7h0.8v0.8h-0.8zM811.7 427h0.8v0.8h-0.8zM780.8 430.9h0.8v0.8h-0.8zM805.5 405h0.8v0.8h-0.8zM801.7 448.6h0.8v0.8h-0.8zM801.6 426.5h0.8v0.8h-0.8zM799.7 423.9h0.8v0.8h-0.8zM808.2 429h0.8v0.8h-0.8zM785.5 421.8h0.8v0.8h-0.8zM787.6 409.6h0.8v0.8h-0.8zM795.5 439.5h0.8v0.8h-0.8zM805.3 423.3h0.8v0.8h-0.8zM785.4 442.2h0.8v0.8h-0.8zM795.8 430.1h0.8v0.8h-0.8zM781.2 424.6h0.8v0.8h-0.8zM801.9 427.4h0.8v0.8h-0.8zM806.1 426.1h0.8v0.8h-0.8zM795.6 416.5h0.8v0.8h-0.8zM800.1 441.7h0.8v0.8h-0.8zM795.5 417.3h0.8v0.8h-0.8zM816.4 417.6h0.8v0.8h-0.8zM794.9 430.4h0.8v0.8h-0.8zM802.1 422.8h0.8v0.8h-0.8zM796.5 426.7h0.8v0.8h-0.8zM798 418.2h0.8v0.8h-0.8zM779.6 429.3h0.8v0.8h-0.8zM787 429.7h0.8v0.8h-0.8zM803.4 433.1h0.8v0.8h-0.8zM798.7 425.1h0.8v0.8h-0.8zM794 415.5h0.8v0.8h-0.8zM798.5 444h0.8v0.8h-0.8zM786.4 435h0.8v0.8h-0.8zM817.8 420.4h0.8v0.8h-0.8zM776.9 429h0.8v0.8h-0.8zM804.3 420.8h0.8v0.8h-0.8zM807.8 425h0.8v0.8h-0.8zM803.3 417.2h0.8v0.8h-0.8zM801.5 421.9h0.8v0.8h-0.8zM788.3 408.6h0.8v0.8h-0.8zM781.2 426.2h0.8v0.8h-0.8zM786.8 436.7h0.8v0.8h-0.8zM785.4 439.8h0.8v0.8h-0.8zM799.2 418.9h0.8v0.8h-0.8zM801.9 429.9h0.8v0.8h-0.8zM787.4 427.5h0.8v0.8h-0.8zM774.4 427.8h0.8v0.8h-0.8zM799.2 410h0.8v0.8h-0.8zM796.9 426.7h0.8v0.8h-0.8zM787.7 430.1h0.8v0.8h-0.8zM802.3 411.5h0.8v0.8h-0.8zM790.3 422.8h0.8v0.8h-0.8zM788.1 411.1h0.8v0.8h-0.8zM782.2 438.7h0.8v0.8h-0.8zM808.9 418.6h0.8v0.8h-0.8zM788.3 423.6h0.8v0.8h-0.8zM817.4 429.9h0.8v0.8h-0.8zM814.6 429.8h0.8v0.8h-0.8zM798.1 406.3h0.8v0.8h-0.8zM810.6 428.4h0.8v0.8h-0.8zM794.9 438.6h0.8v0.8h-0.8zM801.8 431.4h0.8v0.8h-0.8zM799.6 426.6h0.8v0.8h-0.8zM786.4 437.9h0.8v0.8h-0.8zM792.7 427.8h0.8v0.8h-0.8zM801.6 416.1h0.8v0.8h-0.8zM789.3 412.8h0.8v0.8h-0.8zM804.8 426.8h0.8v0.8h-0.8zM793.7 445.7h0.8v0.8h-0.8zM790.9 431.3h0.8v0.8h-0.8zM809.3 423.7h0.8v0.8h-0.8zM805.9 414h0.8v0.8h-0.8zM795.5 429.1h0.8v0.8h-0.8zM810.4 415.9h0.8v0.8h-0.8zM791.1 433.8h0.8v0.8h-0.8zM786.1 437.7h0.8v0.8h-0.8zM789.4 442.9h0.8v0.8h-0.8zM779.7 436.6h0.8v0.8h-0.8zM787.6 444.8h0.8v0.8h-0.8zM800.6 411.2h0.8v0.8h-0.8zM793.9 409.9h0.8v0.8h-0.8zM790.1 409h0.8v0.8h-0.8zM804.2 412.9h0.8v0.8h-0.8zM800.4 433.1h0.8v0.8h-0.8zM796.5 445h0.8v0.8h-0.8zM806.3 428.2h0.8v0.8h-0.8zM801.4 418.1h0.8v0.8h-0.8zM797.1 411.7h0.8v0.8h-0.8zM784 421.4h0.8v0.8h-0.8zM779.3 427.7h0.8v0.8h-0.8zM815.9 421.5h0.8v0.8h-0.8zM796.2 418.5h0.8v0.8h-0.8zM811.6 427.5h0.8v0.8h-0.8zM795.1 431.1h0.8v0.8h-0.8zM796.7 418.5h0.8v0.8h-0.8zM790.1 423h0.8v0.8h-0.8zM780.4 420.1h0.8v0.8h-0.8zM800.7 413.6h0.8v0.8h-0.8zM785.5 423.7h0.8v0.8h-0.8zM788.7 445.1h0.8v0.8h-0.8zM776 430.1h0.8v0.8h-0.8zM797 437.8h0.8v0.8h-0.8zM798 434.6h0.8v0.8h-0.8zM789.8 441.4h0.8v0.8h-0.8zM792.7 427.6h0.8v0.8h-0.8zM789.8 413.1h0.8v0.8h-0.8zM791.6 418h0.8v0.8h-0.8zM799.4 425.1h0.8v0.8h-0.8zM784.4 428h0.8v0.8h-0.8zM785.6 424.8h0.8v0.8h-0.8zM797.5 415.1h0.8v0.8h-0.8zM806 405.8h0.8v0.8h-0.8zM790.1 439.6h0.8v0.8h-0.8zM811 431h0.8v0.8h-0.8zM801.9 428.6h0.8v0.8h-0.8zM802.9 419.7h0.8v0.8h-0.8zM808.3 415.6h0.8v0.8h-0.8zM791 425.1h0.8v0.8h-0.8zM804.2 437.7h0.8v0.8h-0.8zM782.6 420.8h0.8v0.8h-0.8zM789.9 418.1h0.8v0.8h-0.8zM801.1 415.5h0.8v0.8h-0.8zM786.3 425.1h0.8v0.8h-0.8zM802.4 413.7h0.8v0.8h-0.8zM799 430.1h0.8v0.8h-0.8zM797.9 443.6h0.8v0.8h-0.8zM803.6 416.8h0.8v0.8h-0.8zM777.6 442.1h0.8v0.8h-0.8zM795.7 440.6h0.8v0.8h-0.8zM815 423.9h0.8v0.8h-0.8zM788.3 435h0.8v0.8h-0.8zM792.9 405.5h0.8v0.8h-0.8zM805.8 416.3h0.8v0.8h-0.8zM804.4 419.4h0.8v0.8h-0.8zM779.8 421.1h0.8v0.8h-0.8zM787.3 428.1h0.8v0.8h-0.8zM779.2 426.4h0.8v0.8h-0.8zM802.7 423.3h0.8v0.8h-0.8zM800.3 423.2h0.8v0.8h-0.8zM787 411.7h0.8v0.8h-0.8zM800.3 419h0.8v0.8h-0.8zM799 409.9h0.8v0.8h-0.8zM801.9 426.6h0.8v0.8h-0.8zM806 406.3h0.8v0.8h-0.8zM809 429.1h0.8v0.8h-0.8zM801.1 427.1h0.8v0.8h-0.8zM791.7 419.1h0.8v0.8h-0.8zM787.5 421.8h0.8v0.8h-0.8zM788 428.1h0.8v0.8h-0.8zM799.3 426.7h0.8v0.8h-0.8zM801.7 428.3h0.8v0.8h-0.8zM801.7 439.4h0.8v0.8h-0.8zM795.9 411h0.8v0.8h-0.8zM814.6 418.2h0.8v0.8h-0.8zM804.1 414.4h0.8v0.8h-0.8zM799.7 418.5h0.8v0.8h-0.8zM793.3 417.6h0.8v0.8h-0.8zM812 438.1h0.8v0.8h-0.8zM800.4 424.4h0.8v0.8h-0.8zM791.3 405.9h0.8v0.8h-0.8zM805.6 423.7h0.8v0.8h-0.8zM795.6 415.6h0.8v0.8h-0.8zM784.4 419.8h0.8v0.8h-0.8zM800.3 410.4h0.8v0.8h-0.8zM795.1 439.2h0.8v0.8h-0.8zM785.2 430.3h0.8v0.8h-0.8zM792 429.6h0.8v0.8h-0.8zM799.4 405.3h0.8v0.8h-0.8zM802.6 422.4h0.8v0.8h-0.8zM793.1 413.5h0.8v0.8h-0.8zM808.9 421.2h0.8v0.8h-0.8zM802.7 407.5h0.8v0.8h-0.8zM797.6 427.4h0.8v0.8h-0.8zM798.6 425h0.8v0.8h-0.8zM790 423.7h0.8v0.8h-0.8zM810 428.1h0.8v0.8h-0.8zM792 425.5h0.8v0.8h-0.8zM783.4 433.8h0.8v0.8h-0.8zM801.7 429h0.8v0.8h-0.8zM800.8 421.8h0.8v0.8h-0.8zM800.4 408.2h0.8v0.8h-0.8zM812.5 422.9h0.8v0.8h-0.8zM809.3 430.5h0.8v0.8h-0.8zM795 426.9h0.8v0.8h-0.8zM796.5 439.1h0.8v0.8h-0.8zM779.2 409h0.8v0.8h-0.8zM786.5 439.2h0.8v0.8h-0.8zM804.1 415.9h0.8v0.8h-0.8zM803.3 407h0.8v0.8h-0.8zM781 433.3h0.8v0.8h-0.8zM788 431.2h0.8v0.8h-0.8zM787.6 431.1h0.8v0.8h-0.8zM788.5 416.5h0.8v0.8h-0.8zM785 422.8h0.8v0.8h-0.8zM809.1 411.7h0.8v0.8h-0.8zM807.5 421.8h0.8v0.8h-0.8zM791.5 430.7h0.8v0.8h-0.8zM789.7 428.1h0.8v0.8h-0.8zM801.5 418.7h0.8v0.8h-0.8zM801.5 411.8h0.8v0.8h-0.8zM796.5 430.6h0.8v0.8h-0.8zM784.9 418.3h0.8v0.8h-0.8zM796.8 425.7h0.8v0.8h-0.8zM791 438.4h0.8v0.8h-0.8zM786.3 420.6h0.8v0.8h-0.8zM788.4 438.9h0.8v0.8h-0.8zM807.7 429.2h0.8v0.8h-0.8zM802.7 434.5h0.8v0.8h-0.8zM804.7 421.4h0.8v0.8h-0.8zM799.4 418.3h0.8v0.8h-0.8zM781 416.1h0.8v0.8h-0.8zM784.1 416.2h0.8v0.8h-0.8zM784.7 439.9h0.8v0.8h-0.8zM802 421.5h0.8v0.8h-0.8zM789.4 430.6h0.8v0.8h-0.8zM807.9 419h0.8v0.8h-0.8zM795.3 431h0.8v0.8h-0.8zM799.2 425.1h0.8v0.8h-0.8zM795.3 405.1h0.8v0.8h-0.8zM786.1 417.3h0.8v0.8h-0.8zM781.2 430.6h0.8v0.8h-0.8zM808.7 429.7h0.8v0.8h-0.8zM801.3 421h0.8v0.8h-0.8zM802.6 409.9h0.8v0.8h-0.8zM779.8 414.4h0.8v0.8h-0.8zM793.6 426.5h0.8v0.8h-0.8zM786.8 429.1h0.8v0.8h-0.8zM792.3 418.9h0.8v0.8h-0.8zM783.9 435.6h0.8v0.8h-0.8zM777.5 424.4h0.8v0.8h-0.8zM801.2 414.6h0.8v0.8h-0.8zM781.9 433.9h0.8v0.8h-0.8zM795.3 413.7h0.8v0.8h-0.8zM788.8 435.2h0.8v0.8h-0.8zM792.4 431.6h0.8v0.8h-0.8zM804.3 426.7h0.8v0.8h-0.8zM790.4 429.2h0.8v0.8h-0.8zM798.3 430.3h0.8v0.8h-0.8zM816.8 410.5h0.8v0.8h-0.8zM810.5 430.2h0.8v0.8h-0.8zM808.1 434.3h0.8v0.8h-0.8zM783.2 416.7h0.8v0.8h-0.8zM788.3 417.2h0.8v0.8h-0.8zM793.7 435.8h0.8v0.8h-0.8zM786.9 424.2h0.8v0.8h-0.8zM791.3 426.1h0.8v0.8h-0.8zM790.9 426.6h0.8v0.8h-0.8zM789.9 423.3h0.8v0.8h-0.8zM803.2 412.4h0.8v0.8h-0.8zM793.6 409.9h0.8v0.8h-0.8zM781.3 431.6h0.8v0.8h-0.8zM801.9 432h0.8v0.8h-0.8zM802 423.8h0.8v0.8h-0.8zM792.7 408.7h0.8v0.8h-0.8zM778.6 435h0.8v0.8h-0.8zM801.7 419h0.8v0.8h-0.8zM792.7 431h0.8v0.8h-0.8zM787.8 427.8h0.8v0.8h-0.8zM793.9 429.3h0.8v0.8h-0.8zM783 430.1h0.8v0.8h-0.8zM808.8 417.8h0.8v0.8h-0.8zM784.7 425.7h0.8v0.8h-0.8zM803.4 422.5h0.8v0.8h-0.8zM799.4 412.2h0.8v0.8h-0.8zM796.6 416.4h0.8v0.8h-0.8zM794.9 418.3h0.8v0.8h-0.8zM789.8 415.3h0.8v0.8h-0.8zM796.7 435.7h0.8v0.8h-0.8zM803.5 417.4h0.8v0.8h-0.8zM781.3 411.4h0.8v0.8h-0.8zM806.9 417.4h0.8v0.8h-0.8zM795.1 402.7h0.8v0.8h-0.8zM794.8 439h0.8v0.8h-0.8zM801.7 431.8h0.8v0.8h-0.8zM797.4 428.2h0.8v0.8h-0.8zM792.4 409.6h0.8v0.8h-0.8zM790.9 423.2h0.8v0.8h-0.8zM803.8 427.8h0.8v0.8h-0.8zM779.6 440.3h0.8v0.8h-0.8zM788.3 436.1h0.8v0.8h-0.8zM815.6 428.2h0.8v0.8h-0.8zM791.8 417.1h0.8v0.8h-0.8zM791.7 409.8h0.8v0.8h-0.8zM779.7 418.5h0.8v0.8h-0.8zM801.1 410.4h0.8v0.8h-0.8zM787.2 428.9h0.8v0.8h-0.8zM792.7 407.9h0.8v0.8h-0.8zM790.8 412.1h0.8v0.8h-0.8zM822.8 408.3h0.8v0.8h-0.8zM798 409.6h0.8v0.8h-0.8zM776.8 441.3h0.8v0.8h-0.8zM808.9 416.3h0.8v0.8h-0.8zM784.7 437.7h0.8v0.8h-0.8zM807.1 430.6h0.8v0.8h-0.8zM779.3 412h0.8v0.8h-0.8zM771.4 433.7h0.8v0.8h-0.8zM800.8 430.4h0.8v0.8h-0.8zM795.9 418.9h0.8v0.8h-0.8zM799.2 424.2h0.8v0.8h-0.8zM802.5 414.5h0.8v0.8h-0.8zM791.7 409.1h0.8v0.8h-0.8zM800 414.7h0.8v0.8h-0.8zM777.6 433.7h0.8v0.8h-0.8zM787.8 420.1h0.8v0.8h-0.8zM799 432.6h0.8v0.8h-0.8zM778.3 417.8h0.8v0.8h-0.8zM786 411.8h0.8v0.8h-0.8zM781.5 434h0.8v0.8h-0.8zM779.1 425.1h0.8v0.8h-0.8zM801.9 425.7h0.8v0.8h-0.8zM795.9 411.2h0.8v0.8h-0.8zM801.1 414h0.8v0.8h-0.8zM780.1 421.8h0.8v0.8h-0.8z" fill="#1818f0"/>
<path d="M768.4 441.6h0.8v0.8h-0.8zM766.4 446.6h0.8v0.8h-0.8zM758.6 445.8h0.8v0.8h-0.8z" fill="#0018f0"/>
<path d="M766.7 421.6h0.8v0.8h-0.8zM768.1 429h0.8v0.8h-0.8zM767.9 420h0.8v0.8h-0.8zM766.1 426.5h0.8v0.8h-0.8zM767.8 428.8h0.8v0.8h-0.8zM766.2 423.5h0.8v0.8h-0.8zM769.1 419h0.8v0.8h-0.8zM767.4 428.5h0.8v0.8h-0.8zM765.9 425h0.8v0.8h-0.8zM768.7 428.6h0.8v0.8h-0.8zM769.5 418.4h0.8v0.8h-0.8zM767.5 429.2h0.8v0.8h-0.8zM766.5 423.2h0.8v0.8h-0.8zM770.5 418.4h0.8v0.8h-0.8zM765.4 446.2h0.8v0.8h-0.8zM763.5 447.5h0.8v0.8h-0.8zM764.7 425.9h0.8v0.8h-0.8zM762.1 429.3h0.8v0.8h-0.8zM769.1 439.3h0.8v0.8h-0.8zM762.4 447.8h0.8v0.8h-0.8zM762.9 428.2h0.8v0.8h-0.8zM759.3 436.4h0.8v0.8h-0.8zM762.8 447.8h0.8v0.8h-0.8zM767.7 442.7h0.8v0.8h-0.8zM758.5 442.5h0.8v0.8h-0.8zM767.3 425.3h0.8v0.8h-0.8zM770.4 436.1h0.8v0.8h-0.8zM759.6 447.2h0.8v0.8h-0.8zM763.4 447.8h0.8v0.8h-0.8zM762.9 429.4h0.8v0.8h-0.8zM769.1 426.9h0.8v0.8h-0.8zM766.3 444.6h0.8v0.8h-0.8zM761.5 449.2h0.8v0.8h-0.8zM759.3 436.4h0.8v0.8h-0.8zM763.3 427.3h0.8v0.8h-0.8zM766.3 444.5h0.8v0.8h-0.8zM764.5 427.7h0.8v0.8h-0.8zM763.8 428.9h0.8v0.8h-0.8zM759.1 445.1h0.8v0.8h-0.8zM770.7 432h0.8v0.8h-0.8zM767.2 426h0.8v0.8h-0.8zM761.3 431.7h0.8v0.8h-0.8zM765.4 427h0.8v0.8h-0.8zM764.9 428h0.8v0.8h-0.8zM762.6 428.1h0.8v0.8h-0.8zM758.2 442.6h0.8v0.8h-0.8zM799.2 423.6h0.8v0.8h-0.8zM795.9 418.9h0.8v0.8h-0.8zM799 421.6h0.8v0.8h-0.8zM796.6 426.1h0.8v0.8h-0.8zM792.1 423.6h0.8v0.8h-0.8zM796.9 425.6h0.8v0.8h-0.8z" fill="#0030f0"/>
<path d="M768.2 427.8h0.8v0.8h-0.8zM770.7 421.4h0.8v0.8h-0.8zM766.5 428.5h0.8v0.8h-0.8zM766.7 422.1h0.8v0.8h-0.8zM769.6 419.1h0.8v0.8h-0.8zM768.4 427.6h0.8v0.8h-0.8zM766.4 428.5h0.8v0.8h-0.8zM768.8 428.1h0.8v0.8h-0.8zM771.1 423.2h0.8v0.8h-0.8zM768.5 418.7h0.8v0.8h-0.8zM767.1 428.3h0.8v0.8h-0.8zM769.7 432.4h0.8v0.8h-0.8zM762.5 447.1h0.8v0.8h-0.8zM769.3 427.1h0.8v0.8h-0.8zM762.2 448.1h0.8v0.8h-0.8zM759.4 444.4h0.8v0.8h-0.8zM758.4 443.7h0.8v0.8h-0.8zM765.1 445h0.8v0.8h-0.8zM760.3 437.5h0.8v0.8h-0.8zM765.9 426.2h0.8v0.8h-0.8zM767.9 426h0.8v0.8h-0.8zM765.3 428.8h0.8v0.8h-0.8zM764.3 429.2h0.8v0.8h-0.8zM765.8 443.6h0.8v0.8h-0.8zM759.3 445.7h0.8v0.8h-0.8zM768.5 437.8h0.8v0.8h-0.8zM760.2 437.7h0.8v0.8h-0.8zM768.6 437.8h0.8v0.8h-0.8zM760.1 447.2h0.8v0.8h-0.8zM760.3 436.2h0.8v0.8h-0.8zM761.8 448.6h0.8v0.8h-0.8zM760.2 446.1h0.8v0.8h-0.8zM769.4 434.5h0.8v0.8h-0.8zM761.1 435.3h0.8v0.8h-0.8zM770 430.6h0.8v0.8h-0.8zM768.5 427h0.8v0.8h-0.8zM769.5 433h0.8v0.8h-0.8zM761.9 431.3h0.8v0.8h-0.8zM798.2 420.8h0.8v0.8h-0.8zM792.7 421.5h0.8v0.8h-0.8zM798.7 423.9h0.8v0.8h-0.8zM798.8 423h0.8v0.8h-0.8zM794.9 425.8h0.8v0.8h-0.8zM792.5 422.9h0.8v0.8h-0.8zM798.3 423.1h0.8v0.8h-0.8zM792.3 423.8h0.8v0.8h-0.8zM792.8 425.2h0.8v0.8h-0.8zM799.2 420.7h0.8v0.8h-0.8z" fill="#0048f0"/>
<path d="M767.8 421.1h0.8v0.8h-0.8zM770.7 421.5h0.8v0.8h-0.8zM767.9 420.7h0.8v0.8h-0.8zM766.7 426.3h0.8v0.8h-0.8zM770.7 420.5h0.8v0.8h-0.8zM770.6 422.3h0.8v0.8h-0.8zM767.4 427.9h0.8v0.8h-0.8zM766.3 425h0.8v0.8h-0.8zM768.7 419.7h0.8v0.8h-0.8zM768.7 419.7h0.8v0.8h-0.8zM770 431.8h0.8v0.8h-0.8zM768.5 437h0.8v0.8h-0.8zM761.2 447.1h0.8v0.8h-0.8zM760.8 438.2h0.8v0.8h-0.8zM765.2 444.6h0.8v0.8h-0.8zM761.8 435h0.8v0.8h-0.8zM769.1 435.5h0.8v0.8h-0.8zM769.2 429.8h0.8v0.8h-0.8zM764.4 429h0.8v0.8h-0.8zM766.6 428.4h0.8v0.8h-0.8zM769.5 432.6h0.8v0.8h-0.8zM761.7 432.8h0.8v0.8h-0.8zM762.3 446.6h0.8v0.8h-0.8zM761.2 447.3h0.8v0.8h-0.8zM768.9 426.9h0.8v0.8h-0.8zM768.5 431.5h0.8v0.8h-0.8zM760.2 438.6h0.8v0.8h-0.8zM767.2 439.9h0.8v0.8h-0.8zM798.8 420.8h0.8v0.8h-0.8zM793.6 424.6h0.8v0.8h-0.8zM798.8 422.3h0.8v0.8h-0.8zM799 422.1h0.8v0.8h-0.8zM797.9 424.7h0.8v0.8h-0.8zM792.6 423.9h0.8v0.8h-0.8zM798.1 423.6h0.8v0.8h-0.8zM796.8 419.5h0.8v0.8h-0.8z" fill="#0060f0"/>
<path d="M767.1 423h0.8v0.8h-0.8zM770 423.4h0.8v0.8h-0.8zM768.8 420.4h0.8v0.8h-0.8zM762.1 432.2h0.8v0.8h-0.8zM759.9 444.8h0.8v0.8h-0.8zM768.3 430.8h0.8v0.8h-0.8zM761.4 444.8h0.8v0.8h-0.8zM760.6 438.7h0.8v0.8h-0.8zM767.7 428.4h0.8v0.8h-0.8zM765.1 444.5h0.8v0.8h-0.8zM768.9 431.6h0.8v0.8h-0.8zM768.2 429.6h0.8v0.8h-0.8zM768.9 431.7h0.8v0.8h-0.8zM759.8 442.7h0.8v0.8h-0.8zM794 424.8h0.8v0.8h-0.8zM796.5 420h0.8v0.8h-0.8zM793.4 420.8h0.8v0.8h-0.8z" fill="#0078f0"/>
<path d="M767 427.6h0.8v0.8h-0.8zM766.7 426.3h0.8v0.8h-0.8zM766.9 428.9h0.8v0.8h-0.8zM764.6 445.5h0.8v0.8h-0.8zM760.7 436.7h0.8v0.8h-0.8zM798.6 421.1h0.8v0.8h-0.8z" fill="#0078d8"/>
<path d="M768.6 420h0.8v0.8h-0.8zM767.4 434h0.8v0.8h-0.8zM763.9 430.2h0.8v0.8h-0.8zM763.8 443.7h0.8v0.8h-0.8zM765 443.9h0.8v0.8h-0.8zM767.8 430.8h0.8v0.8h-0.8zM768.1 429.7h0.8v0.8h-0.8zM766.3 428.2h0.8v0.8h-0.8zM766.3 442.3h0.8v0.8h-0.8zM760.2 439.2h0.8v0.8h-0.8zM768.6 429.6h0.8v0.8h-0.8zM765.8 441.6h0.8v0.8h-0.8zM765.5 442.7h0.8v0.8h-0.8zM761.1 444.1h0.8v0.8h-0.8zM761.6 435.5h0.8v0.8h-0.8zM765.4 442.2h0.8v0.8h-0.8zM768.1 432h0.8v0.8h-0.8zM761 436.6h0.8v0.8h-0.8zM768.9 430.4h0.8v0.8h-0.8zM761 440.1h0.8v0.8h-0.8zM761.2 439.3h0.8v0.8h-0.8zM761.2 438.4h0.8v0.8h-0.8zM764.6 443.6h0.8v0.8h-0.8zM766.5 442.2h0.8v0.8h-0.8zM766.9 440.9h0.8v0.8h-0.8zM767.7 436.5h0.8v0.8h-0.8zM763.6 432.7h0.8v0.8h-0.8zM764.1 431h0.8v0.8h-0.8zM767.7 431.7h0.8v0.8h-0.8zM763.2 431.1h0.8v0.8h-0.8zM795.7 425.5h0.8v0.8h-0.8zM794.2 424.5h0.8v0.8h-0.8zM797.5 423.8h0.8v0.8h-0.8zM793.7 420h0.8v0.8h-0.8zM777.9 442.8h0.8v0.8h-0.8z" fill="#0090d8"/>
<path d="M770 422.7h0.8v0.8h-0.8zM765.1 442.9h0.8v0.8h-0.8zM760.5 442.7h0.8v0.8h-0.8zM768 438h0.8v0.8h-0.8zM760.4 441.6h0.8v0.8h-0.8zM766.5 442h0.8v0.8h-0.8zM761 442.7h0.8v0.8h-0.8z" fill="#00a8d8"/>
<path d="M769 426.8h0.8v0.8h-0.8zM768.2 427.4h0.8v0.8h-0.8zM768 421.2h0.8v0.8h-0.8zM767.8 421.9h0.8v0.8h-0.8zM761.4 435.7h0.8v0.8h-0.8zM768.1 431.5h0.8v0.8h-0.8zM767.3 429.5h0.8v0.8h-0.8zM765 442.9h0.8v0.8h-0.8zM768.1 432.5h0.8v0.8h-0.8zM760.5 440.7h0.8v0.8h-0.8zM765.7 430.4h0.8v0.8h-0.8zM768.3 430.2h0.8v0.8h-0.8zM762.6 433.1h0.8v0.8h-0.8zM764.8 442.6h0.8v0.8h-0.8zM760.4 440.4h0.8v0.8h-0.8zM767.9 435.8h0.8v0.8h-0.8zM766.3 430.6h0.8v0.8h-0.8zM796.6 431h0.8v0.8h-0.8zM796.3 424.5h0.8v0.8h-0.8zM793.1 422.5h0.8v0.8h-0.8z" fill="#00a8c0"/>
<path d="M769.8 419.8h0.8v0.8h-0.8zM768.4 420.9h0.8v0.8h-0.8zM767 424.1h0.8v0.8h-0.8zM762.7 434.8h0.8v0.8h-0.8zM765.2 442.5h0.8v0.8h-0.8zM762.7 435.2h0.8v0.8h-0.8zM762.9 443.4h0.8v0.8h-0.8zM767.3 429.4h0.8v0.8h-0.8zM764.1 431.6h0.8v0.8h-0.8zM764.5 442.3h0.8v0.8h-0.8zM764.7 442.8h0.8v0.8h-0.8zM764.2 443.9h0.8v0.8h-0.8zM767.7 434.1h0.8v0.8h-0.8zM768.6 434.8h0.8v0.8h-0.8zM767 438.7h0.8v0.8h-0.8zM802.9 432.9h0.8v0.8h-0.8z" fill="#00c0c0"/>
<path d="M767.5 426.8h0.8v0.8h-0.8zM767.7 426.9h0.8v0.8h-0.8zM768.5 426.2h0.8v0.8h-0.8zM765.8 431.5h0.8v0.8h-0.8zM766.9 432.3h0.8v0.8h-0.8zM766.8 431.6h0.8v0.8h-0.8zM767.6 429.7h0.8v0.8h-0.8zM767.9 434.7h0.8v0.8h-0.8zM763.6 442.6h0.8v0.8h-0.8zM767.5 433.1h0.8v0.8h-0.8zM762 443.1h0.8v0.8h-0.8zM763.5 433.3h0.8v0.8h-0.8zM795.7 424.3h0.8v0.8h-0.8zM796.7 420.9h0.8v0.8h-0.8zM795.5 424.5h0.8v0.8h-0.8zM810.6 420.2h0.8v0.8h-0.8z" fill="#00c0a8"/>
<path d="M767.6 422.2h0.8v0.8h-0.8zM767.5 426.5h0.8v0.8h-0.8zM769 420.6h0.8v0.8h-0.8zM769.7 422.1h0.8v0.8h-0.8zM764.9 442.5h0.8v0.8h-0.8zM766.8 430.1h0.8v0.8h-0.8zM764.8 441.7h0.8v0.8h-0.8zM766.7 433.1h0.8v0.8h-0.8zM765.9 439.3h0.8v0.8h-0.8zM766.1 430.5h0.8v0.8h-0.8zM762.4 436.9h0.8v0.8h-0.8zM765.9 439.9h0.8v0.8h-0.8zM767.3 437.2h0.8v0.8h-0.8zM767 439h0.8v0.8h-0.8zM763.5 433.4h0.8v0.8h-0.8zM763.5 443.1h0.8v0.8h-0.8zM767.3 435h0.8v0.8h-0.8zM765 430.8h0.8v0.8h-0.8zM763.8 443.7h0.8v0.8h-0.8zM762.9 434.6h0.8v0.8h-0.8zM764.3 431.6h0.8v0.8h-0.8zM765.7 430.3h0.8v0.8h-0.8zM796.9 421.2h0.8v0.8h-0.8zM796.2 424.1h0.8v0.8h-0.8zM796.6 424.2h0.8v0.8h-0.8z" fill="#00c090"/>
<path d="M768.2 426.1h0.8v0.8h-0.8zM767.4 424.1h0.8v0.8h-0.8zM768.3 426h0.8v0.8h-0.8zM766.3 430.2h0.8v0.8h-0.8zM762.1 437.8h0.8v0.8h-0.8zM766.6 434h0.8v0.8h-0.8zM761.5 440.8h0.8v0.8h-0.8zM764.8 441.5h0.8v0.8h-0.8zM763.8 432.9h0.8v0.8h-0.8zM761.8 441.5h0.8v0.8h-0.8zM762.6 444h0.8v0.8h-0.8zM794.1 421.7h0.8v0.8h-0.8zM799.3 428h0.8v0.8h-0.8zM802.2 407.8h0.8v0.8h-0.8z" fill="#00c078"/>
<path d="M776.5 415.2h0.8v0.8h-0.8zM775.1 414.9h0.8v0.8h-0.8zM770.5 442.5h0.8v0.8h-0.8zM775.4 407.2h0.8v0.8h-0.8zM762.8 443.5h0.8v0.8h-0.8zM804.5 410.4h0.8v0.8h-0.8zM800.4 417.6h0.8v0.8h-0.8zM794.1 422.6h0.8v0.8h-0.8z" fill="#00c060"/>
<path d="M766.8 432.5h0.8v0.8h-0.8zM761.8 440.6h0.8v0.8h-0.8zM766.2 439.5h0.8v0.8h-0.8zM798.9 436.4h0.8v0.8h-0.8zM795.4 424.1h0.8v0.8h-0.8z" fill="#18c060"/>
<path d="M768 426.3h0.8v0.8h-0.8zM769.4 420.9h0.8v0.8h-0.8zM769 421.7h0.8v0.8h-0.8zM764.4 441.4h0.8v0.8h-0.8zM769.4 421.8h0.8v0.8h-0.8zM768.4 422h0.8v0.8h-0.8zM767 434.9h0.8v0.8h-0.8zM763.3 442h0.8v0.8h-0.8zM764.2 440.7h0.8v0.8h-0.8zM762.5 439h0.8v0.8h-0.8zM766.2 432.3h0.8v0.8h-0.8zM762.5 439.1h0.8v0.8h-0.8zM765.9 440.2h0.8v0.8h-0.8zM763.2 434.5h0.8v0.8h-0.8zM763.1 435.6h0.8v0.8h-0.8zM763.8 442.9h0.8v0.8h-0.8zM762.3 437.7h0.8v0.8h-0.8zM764.1 441.7h0.8v0.8h-0.8zM765.5 439.5h0.8v0.8h-0.8zM765.8 432.8h0.8v0.8h-0.8zM764.6 433.5h0.8v0.8h-0.8zM814.4 418.2h0.8v0.8h-0.8z" fill="#18c048"/>
<path d="M767.6 423.1h0.8v0.8h-0.8zM769 421.6h0.8v0.8h-0.8zM768.9 421.7h0.8v0.8h-0.8zM765.4 440.6h0.8v0.8h-0.8zM762.9 442.4h0.8v0.8h-0.8zM762.8 436.7h0.8v0.8h-0.8zM763.5 442.5h0.8v0.8h-0.8zM766.1 432.3h0.8v0.8h-0.8zM763.5 435.5h0.8v0.8h-0.8zM765.6 440.1h0.8v0.8h-0.8zM766.7 436.5h0.8v0.8h-0.8z" fill="#18c030"/>
<path d="M758.5 423.6h0.8v0.8h-0.8zM763 440.2h0.8v0.8h-0.8zM765.4 439.2h0.8v0.8h-0.8zM763.1 435.9h0.8v0.8h-0.8zM762.8 440.8h0.8v0.8h-0.8z" fill="#18c018"/>
<path d="M767.8 423.1h0.8v0.8h-0.8zM762.7 438.2h0.8v0.8h-0.8zM762.7 436.6h0.8v0.8h-0.8zM766.6 435.4h0.8v0.8h-0.8zM795.4 421.4h0.8v0.8h-0.8z" fill="#30c018"/>
<path d="M761.2 429.9h0.8v0.8h-0.8zM762.2 438.9h0.8v0.8h-0.8zM762.5 440h0.8v0.8h-0.8zM765.1 439.4h0.8v0.8h-0.8zM763.9 439.8h0.8v0.8h-0.8zM794.1 419.4h0.8v0.8h-0.8z" fill="#48c018"/>
<path d="M765.4 434.5h0.8v0.8h-0.8z" fill="#48d818"/>
<path d="M765.6 439.6h0.8v0.8h-0.8zM765.8 434.1h0.8v0.8h-0.8zM764.3 439.8h0.8v0.8h-0.8z" fill="#60d818"/>
<path d="M768.2 425.6h0.8v0.8h-0.8zM764.2 439.9h0.8v0.8h-0.8zM766 433.5h0.8v0.8h-0.8zM764.7 439h0.8v0.8h-0.8zM765.4 438.5h0.8v0.8h-0.8zM765.3 439.2h0.8v0.8h-0.8zM784.9 424.8h0.8v0.8h-0.8z" fill="#60d800"/>
<path d="M766 436.4h0.8v0.8h-0.8zM764.7 440.4h0.8v0.8h-0.8zM764 434h0.8v0.8h-0.8zM765 438.4h0.8v0.8h-0.8zM795 423.5h0.8v0.8h-0.8zM790.2 432.5h0.8v0.8h-0.8zM790.4 431.5h0.8v0.8h-0.8z" fill="#78d800"/>
<path d="M764.7 435.4h0.8v0.8h-0.8zM766.2 435.7h0.8v0.8h-0.8zM763.5 435.5h0.8v0.8h-0.8zM795.3 423.1h0.8v0.8h-0.8z" fill="#a8d800"/>
<path d="M767.8 431.4h0.8v0.8h-0.8zM765.6 437h0.8v0.8h-0.8zM764.5 435.4h0.8v0.8h-0.8zM764.2 440.6h0.8v0.8h-0.8zM812.3 420.8h0.8v0.8h-0.8zM795.7 422.2h0.8v0.8h-0.8zM798.7 418.4h0.8v0.8h-0.8z" fill="#c0d800"/>
<path d="M769.2 422.8h0.8v0.8h-0.8zM768.3 417.5h0.8v0.8h-0.8zM764.8 434.9h0.8v0.8h-0.8zM763.4 438.7h0.8v0.8h-0.8z" fill="#c0c000"/>
<path d="M768.1 423.2h0.8v0.8h-0.8zM765.3 435.5h0.8v0.8h-0.8zM764.3 440h0.8v0.8h-0.8zM763.7 438.9h0.8v0.8h-0.8zM763.4 439.3h0.8v0.8h-0.8zM763.7 438.5h0.8v0.8h-0.8zM764.3 435.4h0.8v0.8h-0.8zM766 434.6h0.8v0.8h-0.8zM780.9 417.1h0.8v0.8h-0.8zM790.7 428.7h0.8v0.8h-0.8zM795.6 421.9h0.8v0.8h-0.8z" fill="#d8c000"/>
<path d="M765 435.3h0.8v0.8h-0.8zM765.4 437.6h0.8v0.8h-0.8zM763.6 438.7h0.8v0.8h-0.8zM764.9 437.4h0.8v0.8h-0.8zM763.2 438.8h0.8v0.8h-0.8zM764.9 437.6h0.8v0.8h-0.8zM795.5 422h0.8v0.8h-0.8zM789.5 404h0.8v0.8h-0.8z" fill="#d8a800"/>
<path d="M791.1 415.8h0.8v0.8h-0.8z" fill="#f0a800"/>
<path d="M768.3 423.5h0.8v0.8h-0.8zM764.4 435.5h0.8v0.8h-0.8zM763.9 437.1h0.8v0.8h-0.8zM764.3 438h0.8v0.8h-0.8zM801.9 413h0.8v0.8h-0.8z" fill="#f09000"/>
<path d="M766.5 437.3h0.8v0.8h-0.8zM764.2 424.4h0.8v0.8h-0.8zM763.9 439h0.8v0.8h-0.8zM808.5 417.4h0.8v0.8h-0.8z" fill="#f07800"/>
<path d="M764.8 437.1h0.8v0.8h-0.8zM765 435.6h0.8v0.8h-0.8zM775.4 431.2h0.8v0.8h-0.8z" fill="#f06000"/>
<path d="M768.5 423.4h0.8v0.8h-0.8zM765.1 436.7h0.8v0.8h-0.8z" fill="#f01800"/>
<polygon points="349.7,390.6 383.4,388.5 383.9,453.7 332.9,454.7 346.7,414.7" fill="none" stroke="#2a2a2a" stroke-width="1.1" />
<polygon points="496.4,390.6 530.1,388.5 530.6,453.7 479.6,454.7 493.4,414.7" fill="none" stroke="#2a2a2a" stroke-width="1.1" />
<polygon points="643.7,390.6 677.4,388.5 677.9,453.7 626.9,454.7 640.7,414.7" fill="none" stroke="#2a2a2a" stroke-width="1.1" />
<polygon points="791,390.6 824.7,388.5 825.2,453.7 774.2,454.7 788,414.7" fill="none" stroke="#2a2a2a" stroke-width="1.1" />
<text x="343.1" y="367.3" font-size="17.2" text-anchor="start" fill="#000" textLength="50.5" lengthAdjust="spacingAndGlyphs"  >TNF-α</text>
<text x="351.4" y="388.4" font-size="17.2" text-anchor="start" fill="#000" textLength="32.7" lengthAdjust="spacingAndGlyphs"  >0.71</text>
<text x="491.6" y="367.3" font-size="17.2" text-anchor="start" fill="#000" textLength="49.9" lengthAdjust="spacingAndGlyphs"  >TNF-α</text>
<text x="498.7" y="388.4" font-size="17.2" text-anchor="start" fill="#000" textLength="33.6" lengthAdjust="spacingAndGlyphs"  >43.7</text>
<text x="639.1" y="367.3" font-size="17.2" text-anchor="start" fill="#000" textLength="50.7" lengthAdjust="spacingAndGlyphs"  >TNF-α</text>
<text x="647.9" y="388.4" font-size="17.2" text-anchor="start" fill="#000" textLength="33.1" lengthAdjust="spacingAndGlyphs"  >0.73</text>
<text x="787.6" y="367.3" font-size="17.2" text-anchor="start" fill="#000" textLength="49.4" lengthAdjust="spacingAndGlyphs"  >TNF-α</text>
<text x="795" y="388.4" font-size="17.2" text-anchor="start" fill="#000" textLength="33.7" lengthAdjust="spacingAndGlyphs"  >23.9</text>
<text x="314.2" y="331.2" font-size="17" textLength="72.2" lengthAdjust="spacingAndGlyphs"><tspan font-style="italic">Ctrl</tspan>, PBS</text>
<text x="462.8" y="331.6" font-size="17" textLength="68.9" lengthAdjust="spacingAndGlyphs"><tspan font-style="italic">Ctrl</tspan>, LPS</text>
<text x="586.3" y="331.6" font-size="17" text-anchor="start" fill="#000" font-style="italic" textLength="25" lengthAdjust="spacingAndGlyphs"  >NG</text>
<text x="613.6" y="326.2" font-size="10.5" text-anchor="start" fill="#000" font-style="italic" textLength="45.7" lengthAdjust="spacingAndGlyphs"  >Trpa1KO</text>
<text x="659.8" y="331.6" font-size="17" text-anchor="start" fill="#000" textLength="44.3" lengthAdjust="spacingAndGlyphs"  >, PBS</text>
<text x="732.6" y="331.6" font-size="17" text-anchor="start" fill="#000" font-style="italic" textLength="25.5" lengthAdjust="spacingAndGlyphs"  >NG</text>
<text x="759.8" y="326.2" font-size="10.5" text-anchor="start" fill="#000" font-style="italic" textLength="45.2" lengthAdjust="spacingAndGlyphs"  >Trpa1KO</text>
<text x="805.8" y="331.6" font-size="17" text-anchor="start" fill="#000" textLength="43" lengthAdjust="spacingAndGlyphs"  >, LPS</text>
<line x1="259.5" y1="372" x2="259.5" y2="483.6" stroke="#222" stroke-width="2" />
<line x1="258.6" y1="482.8" x2="787" y2="482.8" stroke="#222" stroke-width="2" />
<polygon points="259.4,362.4 253,375.6 265.9,375.6" fill="#000" stroke="none" stroke-width="1" />
<polygon points="798.2,483 785.2,476.6 785.2,489.3" fill="#000" stroke="none" stroke-width="1" />
<text x="254.3" y="464.5" font-size="18.3" text-anchor="start" fill="#000" textLength="52.1" lengthAdjust="spacingAndGlyphs" transform="rotate(-90 254.3 464.5)" >SSC-A</text>
<text x="327.2" y="506.2" font-size="18" text-anchor="start" fill="#000" textLength="49.7" lengthAdjust="spacingAndGlyphs"  >TNF-α</text>
<text x="934.2" y="310.8" font-size="15" text-anchor="start" fill="#000" textLength="43.2" lengthAdjust="spacingAndGlyphs"  >TNF-α</text>
<text x="978.2" y="303.2" font-size="10" text-anchor="start" fill="#000" textLength="6.3" lengthAdjust="spacingAndGlyphs"  >+</text>
<text x="985.2" y="310.8" font-size="15" text-anchor="start" fill="#000" textLength="42.4" lengthAdjust="spacingAndGlyphs"  >F4/80</text>
<text x="1028.3" y="303.2" font-size="10" text-anchor="start" fill="#000" textLength="6.1" lengthAdjust="spacingAndGlyphs"  >+</text>
<text x="1035.4" y="310.8" font-size="15" text-anchor="start" fill="#000" textLength="40" lengthAdjust="spacingAndGlyphs"  >CD45</text>
<text x="1076.1" y="303.2" font-size="10" text-anchor="start" fill="#000" textLength="6" lengthAdjust="spacingAndGlyphs"  >+</text>
<text x="944.3" y="348" font-size="15.2" text-anchor="end" fill="#000" textLength="17.4" lengthAdjust="spacingAndGlyphs"  >80</text>
<line x1="948.3" y1="341.9" x2="960.8" y2="341.9" stroke="#000" stroke-width="2.3" />
<text x="944.3" y="383.4" font-size="15.2" text-anchor="end" fill="#000" textLength="17.4" lengthAdjust="spacingAndGlyphs"  >60</text>
<line x1="948.3" y1="377.3" x2="960.8" y2="377.3" stroke="#000" stroke-width="2.3" />
<text x="944.3" y="419" font-size="15.2" text-anchor="end" fill="#000" textLength="17.4" lengthAdjust="spacingAndGlyphs"  >40</text>
<line x1="948.3" y1="412.9" x2="960.8" y2="412.9" stroke="#000" stroke-width="2.3" />
<text x="944.3" y="453.8" font-size="15.2" text-anchor="end" fill="#000" textLength="17.4" lengthAdjust="spacingAndGlyphs"  >20</text>
<line x1="948.3" y1="447.7" x2="960.8" y2="447.7" stroke="#000" stroke-width="2.3" />
<text x="944.3" y="488.6" font-size="15.2" text-anchor="end" fill="#000" textLength="8" lengthAdjust="spacingAndGlyphs"  >0</text>
<line x1="948.3" y1="482.5" x2="960.8" y2="482.5" stroke="#000" stroke-width="2.3" />
<line x1="960" y1="341" x2="960" y2="483.8" stroke="#000" stroke-width="2.4" />
<line x1="946.9" y1="482.8" x2="1076.8" y2="482.8" stroke="#000" stroke-width="2.3" />
<line x1="976.8" y1="482.5" x2="976.8" y2="494.7" stroke="#000" stroke-width="2.3" />
<line x1="1004.2" y1="482.5" x2="1004.2" y2="494.7" stroke="#000" stroke-width="2.3" />
<line x1="1031.3" y1="482.5" x2="1031.3" y2="494.7" stroke="#000" stroke-width="2.3" />
<line x1="1058.3" y1="482.5" x2="1058.3" y2="494.7" stroke="#000" stroke-width="2.3" />
<line x1="969" y1="482.5" x2="969" y2="485.5" stroke="#000" stroke-width="1.4" />
<line x1="986" y1="482.5" x2="986" y2="485.5" stroke="#000" stroke-width="1.4" />
<line x1="995.8" y1="482.5" x2="995.8" y2="485.5" stroke="#000" stroke-width="1.4" />
<line x1="1013" y1="482.5" x2="1013" y2="485.5" stroke="#000" stroke-width="1.4" />
<line x1="1022" y1="482.5" x2="1022" y2="485.5" stroke="#000" stroke-width="1.4" />
<line x1="1040" y1="482.5" x2="1040" y2="485.5" stroke="#000" stroke-width="1.4" />
<line x1="1049.4" y1="482.5" x2="1049.4" y2="485.5" stroke="#000" stroke-width="1.4" />
<line x1="1066.5" y1="482.5" x2="1066.5" y2="485.5" stroke="#000" stroke-width="1.4" />
<line x1="1072" y1="482.5" x2="1072" y2="485.5" stroke="#000" stroke-width="1.4" />
<polyline points="996.7,482.8 996.7,409.8 1012,409.8 1012,482.8" fill="none" stroke="#f00" stroke-width="2.1" stroke-linejoin="miter"/>
<polyline points="1050.5,482.8 1050.5,432.1 1065.3,432.1 1065.3,482.8" fill="none" stroke="#000" stroke-width="2.2" stroke-linejoin="miter"/>
<line x1="1009.1" y1="358.9" x2="1055.1" y2="358.9" stroke="#000" stroke-width="2.3" />
<text x="1032.6" y="356" font-size="25" text-anchor="middle" fill="#000"   >*</text>
<polygon points="1004.2,373.5 1000.7,379.6 1007.7,379.6" fill="#000" stroke="none" stroke-width="1" />
<line x1="1004.4" y1="392.1" x2="1004.4" y2="424.4" stroke="#f00" stroke-width="2.2" />
<line x1="999.4" y1="392.1" x2="1008.6" y2="392.1" stroke="#f00" stroke-width="2.2" />
<line x1="999.4" y1="424.4" x2="1008.6" y2="424.4" stroke="#f00" stroke-width="2.2" />
<polygon points="1004.4,398.1 1001.1,403.8 1007.7,403.8" fill="#000" stroke="none" stroke-width="1" />
<polygon points="999,403.1 995.7,408.8 1002.3,408.8" fill="#000" stroke="none" stroke-width="1" />
<polygon points="1004.4,409.2 1001.1,414.9 1007.7,414.9" fill="#000" stroke="none" stroke-width="1" />
<polygon points="1009.9,412.2 1006.6,417.9 1013.2,417.9" fill="#000" stroke="none" stroke-width="1" />
<polygon points="1001.4,419.3 998.1,425 1004.7,425" fill="#000" stroke="none" stroke-width="1" />
<polygon points="1006.5,422.3 1003.2,428 1009.8,428" fill="#000" stroke="none" stroke-width="1" />
<line x1="1058" y1="419.8" x2="1058" y2="441.6" stroke="#00f" stroke-width="2.3" />
<line x1="1053" y1="419.8" x2="1063" y2="419.8" stroke="#00f" stroke-width="2.3" />
<line x1="1053" y1="441.6" x2="1063" y2="441.6" stroke="#00f" stroke-width="2.3" />
<circle cx="1052.4" cy="421.4" r="3.1" fill="#00f"/>
<circle cx="1058" cy="420.4" r="3.1" fill="#00f"/>
<circle cx="1058.4" cy="424.4" r="3.1" fill="#00f"/>
<circle cx="1063.7" cy="429.5" r="3.1" fill="#00f"/>
<circle cx="1055.6" cy="440.6" r="3.1" fill="#00f"/>
<circle cx="1060.4" cy="448.1" r="3.1" fill="#00f"/>
<polygon points="972.2,476.3 969.4,481.1 975,481.1" fill="#000" stroke="none" stroke-width="1" />
<polygon points="975.5,477.6 972.7,482.4 978.3,482.4" fill="#000" stroke="none" stroke-width="1" />
<polygon points="978.5,478.1 975.7,482.9 981.3,482.9" fill="#000" stroke="none" stroke-width="1" />
<polygon points="981.5,478.1 978.7,482.9 984.3,482.9" fill="#000" stroke="none" stroke-width="1" />
<polygon points="984.5,478.3 981.7,483.1 987.3,483.1" fill="#000" stroke="none" stroke-width="1" />
<rect x="970" y="480" width="16" height="2.8" fill="#000" stroke="none" stroke-width="1" />
<circle cx="1025.7" cy="476.6" r="2.9" fill="#00f"/>
<circle cx="1028.8" cy="478.6" r="2.9" fill="#00f"/>
<circle cx="1032" cy="480.2" r="2.9" fill="#00f"/>
<circle cx="1035.2" cy="480.4" r="2.9" fill="#00f"/>
<circle cx="1038.2" cy="480.3" r="2.9" fill="#00f"/>
<circle cx="1030.5" cy="481" r="2.9" fill="#00f"/>
<circle cx="1034" cy="481.3" r="2.9" fill="#00f"/>
<text x="920.8" y="517" font-size="17.5" text-anchor="start" fill="#000" textLength="32.2" lengthAdjust="spacingAndGlyphs"  >LPS</text>
<rect x="975" y="510" width="4.2" height="2" fill="#000" stroke="none" stroke-width="1" />
<rect x="1035" y="510.2" width="4" height="2" fill="#000" stroke="none" stroke-width="1" />
<text x="1007.1" y="516.4" font-size="17" text-anchor="middle" fill="#000"   >+</text>
<text x="1067.4" y="516.4" font-size="17" text-anchor="middle" fill="#000"   >+</text>
<text x="913.9" y="498" font-size="16" text-anchor="start" fill="#000" textLength="134.3" lengthAdjust="spacingAndGlyphs" transform="rotate(-90 913.9 498)" xml:space="preserve">% of  cells in F4/80</text>
<text x="905.3" y="362.3" font-size="9.5" text-anchor="start" fill="#000" textLength="5" lengthAdjust="spacingAndGlyphs" transform="rotate(-90 905.3 362.3)" >+</text>
<text x="913.9" y="356.8" font-size="16" text-anchor="start" fill="#000" textLength="36.3" lengthAdjust="spacingAndGlyphs" transform="rotate(-90 913.9 356.8)" xml:space="preserve"> cells</text>
<circle cx="1113.4" cy="419.3" r="3.9" fill="#00f"/>
<g transform="translate(1122.6,414.6) rotate(-90)"><text x="0" y="0" font-size="17.2" font-style="italic" textLength="25.3" lengthAdjust="spacingAndGlyphs">NG</text><text x="27.6" y="-6.4" font-size="9.8" font-style="italic" textLength="45" lengthAdjust="spacingAndGlyphs">Trpa1KO</text></g>
<text x="1123.1" y="474.2" font-size="18" text-anchor="start" fill="#000" font-style="italic" textLength="26.6" lengthAdjust="spacingAndGlyphs" transform="rotate(-90 1123.1 474.2)" >Ctrl</text>
<polygon points="1117.3,479.9 1113.2,488.2 1122,488.2" fill="#000" stroke="none" stroke-width="1" />
</svg>
</body></html>
